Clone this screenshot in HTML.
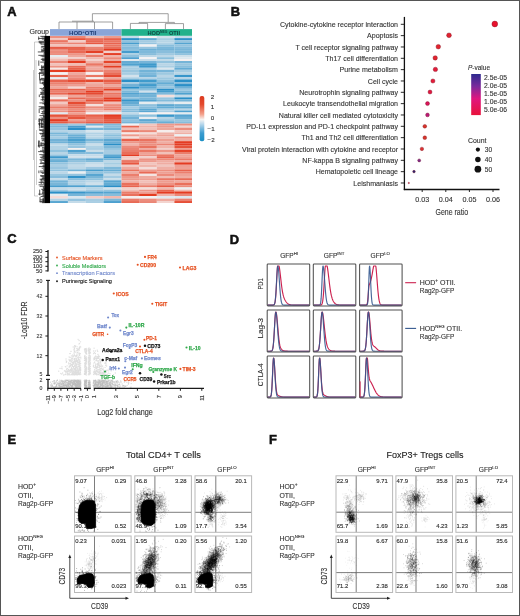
<!DOCTYPE html><html><head><meta charset="utf-8"><style>
html,body{margin:0;padding:0;background:#fff;width:520px;height:616px;overflow:hidden}
svg{display:block;font-family:"Liberation Sans", sans-serif;will-change:transform}
</style></head><body><svg width="520" height="616" viewBox="0 0 520 616">
<rect x="0" y="0" width="520" height="616" fill="#fff"/>
<text x="7.20" y="15.80" font-size="12.9" fill="#111" font-weight="bold" stroke="#111" stroke-width="0.55">A</text>
<text x="230.70" y="15.90" font-size="12.9" fill="#111" font-weight="bold" stroke="#111" stroke-width="0.55">B</text>
<text x="7.30" y="243.30" font-size="12.9" fill="#111" font-weight="bold" stroke="#111" stroke-width="0.55">C</text>
<text x="229.80" y="243.60" font-size="12.9" fill="#111" font-weight="bold" stroke="#111" stroke-width="0.55">D</text>
<text x="7.40" y="443.80" font-size="12.9" fill="#111" font-weight="bold" stroke="#111" stroke-width="0.55">E</text>
<text x="269.00" y="443.80" font-size="12.9" fill="#111" font-weight="bold" stroke="#111" stroke-width="0.55">F</text>
<defs><filter id="hb" x="-2%" y="-2%" width="104%" height="104%"><feGaussianBlur stdDeviation="0.35"/></filter><clipPath id="hmc"><rect x="50" y="36" width="142" height="167"/></clipPath></defs>
<g clip-path="url(#hmc)"><g filter="url(#hb)"><rect x="50.00" y="36.00" width="17.95" height="2.18" fill="#ec9182"/><rect x="67.90" y="36.00" width="17.95" height="2.18" fill="#eb8777"/><rect x="85.80" y="36.00" width="17.85" height="2.18" fill="#f0bab1"/><rect x="103.60" y="36.00" width="17.95" height="2.18" fill="#ed9b8d"/><rect x="121.50" y="36.00" width="17.65" height="2.18" fill="#c5dce9"/><rect x="139.10" y="36.00" width="17.75" height="2.18" fill="#f6f3f3"/><rect x="156.80" y="36.00" width="17.65" height="2.18" fill="#d2e2ec"/><rect x="174.40" y="36.00" width="17.65" height="2.18" fill="#c3dbe9"/><rect x="50.00" y="38.13" width="17.95" height="2.02" fill="#f1c5be"/><rect x="67.90" y="38.13" width="17.95" height="2.02" fill="#e6523a"/><rect x="85.80" y="38.13" width="17.85" height="2.02" fill="#e96c59"/><rect x="103.60" y="38.13" width="17.95" height="2.02" fill="#e8614c"/><rect x="121.50" y="38.13" width="17.65" height="2.02" fill="#2b8fc7"/><rect x="139.10" y="38.13" width="17.75" height="2.02" fill="#64acd4"/><rect x="156.80" y="38.13" width="17.65" height="2.02" fill="#a8cee3"/><rect x="174.40" y="38.13" width="17.65" height="2.02" fill="#2d90c8"/><rect x="50.00" y="40.10" width="17.95" height="2.48" fill="#ea7562"/><rect x="67.90" y="40.10" width="17.95" height="2.48" fill="#f2cbc5"/><rect x="85.80" y="40.10" width="17.85" height="2.48" fill="#e86753"/><rect x="103.60" y="40.10" width="17.95" height="2.48" fill="#ea7562"/><rect x="121.50" y="40.10" width="17.65" height="2.48" fill="#8fc1dd"/><rect x="139.10" y="40.10" width="17.75" height="2.48" fill="#a4cbe2"/><rect x="156.80" y="40.10" width="17.65" height="2.48" fill="#b7d5e6"/><rect x="174.40" y="40.10" width="17.65" height="2.48" fill="#96c4df"/><rect x="50.00" y="42.53" width="17.95" height="1.95" fill="#ec9183"/><rect x="67.90" y="42.53" width="17.95" height="1.95" fill="#eb8373"/><rect x="85.80" y="42.53" width="17.85" height="1.95" fill="#e75842"/><rect x="103.60" y="42.53" width="17.95" height="1.95" fill="#e8644f"/><rect x="121.50" y="42.53" width="17.65" height="1.95" fill="#479dcd"/><rect x="139.10" y="42.53" width="17.75" height="1.95" fill="#95c4df"/><rect x="156.80" y="42.53" width="17.65" height="1.95" fill="#b1d2e5"/><rect x="174.40" y="42.53" width="17.65" height="1.95" fill="#55a4d0"/><rect x="50.00" y="44.42" width="17.95" height="2.37" fill="#f1c3bc"/><rect x="67.90" y="44.42" width="17.95" height="2.37" fill="#f1bfb7"/><rect x="85.80" y="44.42" width="17.85" height="2.37" fill="#f3d3ce"/><rect x="103.60" y="44.42" width="17.95" height="2.37" fill="#ea7562"/><rect x="121.50" y="44.42" width="17.65" height="2.37" fill="#8ec1dd"/><rect x="139.10" y="44.42" width="17.75" height="2.37" fill="#f0f1f3"/><rect x="156.80" y="44.42" width="17.65" height="2.37" fill="#89bedc"/><rect x="174.40" y="44.42" width="17.65" height="2.37" fill="#93c3de"/><rect x="50.00" y="46.75" width="17.95" height="2.22" fill="#e75a44"/><rect x="67.90" y="46.75" width="17.95" height="2.22" fill="#e8604a"/><rect x="85.80" y="46.75" width="17.85" height="2.22" fill="#eb8271"/><rect x="103.60" y="46.75" width="17.95" height="2.22" fill="#e96e5a"/><rect x="121.50" y="46.75" width="17.65" height="2.22" fill="#83bbdb"/><rect x="139.10" y="46.75" width="17.75" height="2.22" fill="#95c4df"/><rect x="156.80" y="46.75" width="17.65" height="2.22" fill="#7ab7d9"/><rect x="174.40" y="46.75" width="17.65" height="2.22" fill="#83bbdb"/><rect x="50.00" y="48.91" width="17.95" height="1.93" fill="#eb8878"/><rect x="67.90" y="48.91" width="17.95" height="1.93" fill="#e86550"/><rect x="85.80" y="48.91" width="17.85" height="1.93" fill="#ea7b69"/><rect x="103.60" y="48.91" width="17.95" height="1.93" fill="#e43b20"/><rect x="121.50" y="48.91" width="17.65" height="1.93" fill="#8cc0dd"/><rect x="139.10" y="48.91" width="17.75" height="1.93" fill="#6cb0d6"/><rect x="156.80" y="48.91" width="17.65" height="1.93" fill="#74b3d7"/><rect x="174.40" y="48.91" width="17.65" height="1.93" fill="#79b6d8"/><rect x="50.00" y="50.80" width="17.95" height="2.35" fill="#ec8b7c"/><rect x="67.90" y="50.80" width="17.95" height="2.35" fill="#e96a56"/><rect x="85.80" y="50.80" width="17.85" height="2.35" fill="#e44025"/><rect x="103.60" y="50.80" width="17.95" height="2.35" fill="#f2cfca"/><rect x="121.50" y="50.80" width="17.65" height="2.35" fill="#449ccd"/><rect x="139.10" y="50.80" width="17.75" height="2.35" fill="#7eb9da"/><rect x="156.80" y="50.80" width="17.65" height="2.35" fill="#8abedc"/><rect x="174.40" y="50.80" width="17.65" height="2.35" fill="#79b6d8"/><rect x="50.00" y="53.09" width="17.95" height="1.92" fill="#ec8a7b"/><rect x="67.90" y="53.09" width="17.95" height="1.92" fill="#ed9486"/><rect x="85.80" y="53.09" width="17.85" height="1.92" fill="#f1c1ba"/><rect x="103.60" y="53.09" width="17.95" height="1.92" fill="#e43b20"/><rect x="121.50" y="53.09" width="17.65" height="1.92" fill="#acd0e4"/><rect x="139.10" y="53.09" width="17.75" height="1.92" fill="#85bcdb"/><rect x="156.80" y="53.09" width="17.65" height="1.92" fill="#9ec8e1"/><rect x="174.40" y="53.09" width="17.65" height="1.92" fill="#8ec1dd"/><rect x="50.00" y="54.96" width="17.95" height="2.28" fill="#e5ecf0"/><rect x="67.90" y="54.96" width="17.95" height="2.28" fill="#efa89c"/><rect x="85.80" y="54.96" width="17.85" height="2.28" fill="#ea7b6a"/><rect x="103.60" y="54.96" width="17.95" height="2.28" fill="#f0b4ab"/><rect x="121.50" y="54.96" width="17.65" height="2.28" fill="#8fc1dd"/><rect x="139.10" y="54.96" width="17.75" height="2.28" fill="#bbd7e7"/><rect x="156.80" y="54.96" width="17.65" height="2.28" fill="#bcd7e7"/><rect x="174.40" y="54.96" width="17.65" height="2.28" fill="#cde0eb"/><rect x="50.00" y="57.19" width="17.95" height="1.95" fill="#f3d4d0"/><rect x="67.90" y="57.19" width="17.95" height="1.95" fill="#f2cfca"/><rect x="85.80" y="57.19" width="17.85" height="1.95" fill="#f0b8af"/><rect x="103.60" y="57.19" width="17.95" height="1.95" fill="#ec8a7a"/><rect x="121.50" y="57.19" width="17.65" height="1.95" fill="#51a2d0"/><rect x="139.10" y="57.19" width="17.75" height="1.95" fill="#f3f2f3"/><rect x="156.80" y="57.19" width="17.65" height="1.95" fill="#8bbfdc"/><rect x="174.40" y="57.19" width="17.65" height="1.95" fill="#dce7ee"/><rect x="50.00" y="59.08" width="17.95" height="1.96" fill="#f0bab2"/><rect x="67.90" y="59.08" width="17.95" height="1.96" fill="#ec8e7f"/><rect x="85.80" y="59.08" width="17.85" height="1.96" fill="#f2d0cb"/><rect x="103.60" y="59.08" width="17.95" height="1.96" fill="#efa79c"/><rect x="121.50" y="59.08" width="17.65" height="1.96" fill="#e0e9ef"/><rect x="139.10" y="59.08" width="17.75" height="1.96" fill="#c4dbe9"/><rect x="156.80" y="59.08" width="17.65" height="1.96" fill="#bfd9e8"/><rect x="174.40" y="59.08" width="17.65" height="1.96" fill="#f6f0f0"/><rect x="50.00" y="61.00" width="17.95" height="2.27" fill="#eb8676"/><rect x="67.90" y="61.00" width="17.95" height="2.27" fill="#e43b20"/><rect x="85.80" y="61.00" width="17.85" height="2.27" fill="#efb0a6"/><rect x="103.60" y="61.00" width="17.95" height="2.27" fill="#e5442b"/><rect x="121.50" y="61.00" width="17.65" height="2.27" fill="#65acd4"/><rect x="139.10" y="61.00" width="17.75" height="2.27" fill="#76b4d8"/><rect x="156.80" y="61.00" width="17.65" height="2.27" fill="#93c3de"/><rect x="174.40" y="61.00" width="17.65" height="2.27" fill="#74b4d7"/><rect x="50.00" y="63.22" width="17.95" height="2.64" fill="#f1c1ba"/><rect x="67.90" y="63.22" width="17.95" height="2.64" fill="#f1bcb4"/><rect x="85.80" y="63.22" width="17.85" height="2.64" fill="#ea7765"/><rect x="103.60" y="63.22" width="17.95" height="2.64" fill="#ed998b"/><rect x="121.50" y="63.22" width="17.65" height="2.64" fill="#50a2cf"/><rect x="139.10" y="63.22" width="17.75" height="2.64" fill="#3d99cb"/><rect x="156.80" y="63.22" width="17.65" height="2.64" fill="#b8d5e6"/><rect x="174.40" y="63.22" width="17.65" height="2.64" fill="#97c5df"/><rect x="50.00" y="65.81" width="17.95" height="1.99" fill="#ed9385"/><rect x="67.90" y="65.81" width="17.95" height="1.99" fill="#e96a56"/><rect x="85.80" y="65.81" width="17.85" height="1.99" fill="#eea499"/><rect x="103.60" y="65.81" width="17.95" height="1.99" fill="#e43e24"/><rect x="121.50" y="65.81" width="17.65" height="1.99" fill="#a7cde3"/><rect x="139.10" y="65.81" width="17.75" height="1.99" fill="#3d98cb"/><rect x="156.80" y="65.81" width="17.65" height="1.99" fill="#abcfe3"/><rect x="174.40" y="65.81" width="17.65" height="1.99" fill="#88bedc"/><rect x="50.00" y="67.75" width="17.95" height="2.09" fill="#f5e9e7"/><rect x="67.90" y="67.75" width="17.95" height="2.09" fill="#e8614c"/><rect x="85.80" y="67.75" width="17.85" height="2.09" fill="#efa99f"/><rect x="103.60" y="67.75" width="17.95" height="2.09" fill="#eea195"/><rect x="121.50" y="67.75" width="17.65" height="2.09" fill="#a7cde2"/><rect x="139.10" y="67.75" width="17.75" height="2.09" fill="#a7cde3"/><rect x="156.80" y="67.75" width="17.65" height="2.09" fill="#dbe6ee"/><rect x="174.40" y="67.75" width="17.65" height="2.09" fill="#65acd4"/><rect x="50.00" y="69.79" width="17.95" height="2.46" fill="#e43e24"/><rect x="67.90" y="69.79" width="17.95" height="2.46" fill="#e43b20"/><rect x="85.80" y="69.79" width="17.85" height="2.46" fill="#ec8879"/><rect x="103.60" y="69.79" width="17.95" height="2.46" fill="#eb8272"/><rect x="121.50" y="69.79" width="17.65" height="2.46" fill="#99c6df"/><rect x="139.10" y="69.79" width="17.75" height="2.46" fill="#72b3d7"/><rect x="156.80" y="69.79" width="17.65" height="2.46" fill="#78b5d8"/><rect x="174.40" y="69.79" width="17.65" height="2.46" fill="#a5cce2"/><rect x="50.00" y="72.19" width="17.95" height="2.75" fill="#f2f2f3"/><rect x="67.90" y="72.19" width="17.95" height="2.75" fill="#efa99e"/><rect x="85.80" y="72.19" width="17.85" height="2.75" fill="#f6f0f0"/><rect x="103.60" y="72.19" width="17.95" height="2.75" fill="#e96d59"/><rect x="121.50" y="72.19" width="17.65" height="2.75" fill="#a6cce2"/><rect x="139.10" y="72.19" width="17.75" height="2.75" fill="#7eb9da"/><rect x="156.80" y="72.19" width="17.65" height="2.75" fill="#9dc8e0"/><rect x="174.40" y="72.19" width="17.65" height="2.75" fill="#b7d5e6"/><rect x="50.00" y="74.89" width="17.95" height="2.41" fill="#e8624c"/><rect x="67.90" y="74.89" width="17.95" height="2.41" fill="#ed9385"/><rect x="85.80" y="74.89" width="17.85" height="2.41" fill="#ea7664"/><rect x="103.60" y="74.89" width="17.95" height="2.41" fill="#e54930"/><rect x="121.50" y="74.89" width="17.65" height="2.41" fill="#d3e2ec"/><rect x="139.10" y="74.89" width="17.75" height="2.41" fill="#71b2d7"/><rect x="156.80" y="74.89" width="17.65" height="2.41" fill="#b8d5e6"/><rect x="174.40" y="74.89" width="17.65" height="2.41" fill="#3896ca"/><rect x="50.00" y="77.25" width="17.95" height="2.24" fill="#e7ecf1"/><rect x="67.90" y="77.25" width="17.95" height="2.24" fill="#eb8778"/><rect x="85.80" y="77.25" width="17.85" height="2.24" fill="#f5efee"/><rect x="103.60" y="77.25" width="17.95" height="2.24" fill="#eea498"/><rect x="121.50" y="77.25" width="17.65" height="2.24" fill="#a9cee3"/><rect x="139.10" y="77.25" width="17.75" height="2.24" fill="#b0d1e5"/><rect x="156.80" y="77.25" width="17.65" height="2.24" fill="#9dc8e0"/><rect x="174.40" y="77.25" width="17.65" height="2.24" fill="#b6d4e6"/><rect x="50.00" y="79.45" width="17.95" height="2.78" fill="#e8644f"/><rect x="67.90" y="79.45" width="17.95" height="2.78" fill="#e64d34"/><rect x="85.80" y="79.45" width="17.85" height="2.78" fill="#e5482f"/><rect x="103.60" y="79.45" width="17.95" height="2.78" fill="#e75b45"/><rect x="121.50" y="79.45" width="17.65" height="2.78" fill="#2a8fc7"/><rect x="139.10" y="79.45" width="17.75" height="2.78" fill="#419bcc"/><rect x="156.80" y="79.45" width="17.65" height="2.78" fill="#8cc0dd"/><rect x="174.40" y="79.45" width="17.65" height="2.78" fill="#2a8fc7"/><rect x="50.00" y="82.17" width="17.95" height="1.92" fill="#eb8170"/><rect x="67.90" y="82.17" width="17.95" height="1.92" fill="#eb8574"/><rect x="85.80" y="82.17" width="17.85" height="1.92" fill="#efb1a7"/><rect x="103.60" y="82.17" width="17.95" height="1.92" fill="#ea7664"/><rect x="121.50" y="82.17" width="17.65" height="1.92" fill="#a9cee3"/><rect x="139.10" y="82.17" width="17.75" height="1.92" fill="#70b2d6"/><rect x="156.80" y="82.17" width="17.65" height="1.92" fill="#64acd4"/><rect x="174.40" y="82.17" width="17.65" height="1.92" fill="#82bada"/><rect x="50.00" y="84.05" width="17.95" height="2.67" fill="#ed9486"/><rect x="67.90" y="84.05" width="17.95" height="2.67" fill="#ed9c90"/><rect x="85.80" y="84.05" width="17.85" height="2.67" fill="#eea59a"/><rect x="103.60" y="84.05" width="17.95" height="2.67" fill="#eea79c"/><rect x="121.50" y="84.05" width="17.65" height="2.67" fill="#6fb1d6"/><rect x="139.10" y="84.05" width="17.75" height="2.67" fill="#419bcc"/><rect x="156.80" y="84.05" width="17.65" height="2.67" fill="#88bedc"/><rect x="174.40" y="84.05" width="17.65" height="2.67" fill="#2a8fc7"/><rect x="50.00" y="86.66" width="17.95" height="2.15" fill="#efa79c"/><rect x="67.90" y="86.66" width="17.95" height="2.15" fill="#f3d5d1"/><rect x="85.80" y="86.66" width="17.85" height="2.15" fill="#ea7b6a"/><rect x="103.60" y="86.66" width="17.95" height="2.15" fill="#eb8777"/><rect x="121.50" y="86.66" width="17.65" height="2.15" fill="#2a8fc7"/><rect x="139.10" y="86.66" width="17.75" height="2.15" fill="#60aad3"/><rect x="156.80" y="86.66" width="17.65" height="2.15" fill="#98c5df"/><rect x="174.40" y="86.66" width="17.65" height="2.15" fill="#6db0d6"/><rect x="50.00" y="88.76" width="17.95" height="2.01" fill="#e86550"/><rect x="67.90" y="88.76" width="17.95" height="2.01" fill="#e8634e"/><rect x="85.80" y="88.76" width="17.85" height="2.01" fill="#eb7e6d"/><rect x="103.60" y="88.76" width="17.95" height="2.01" fill="#e43c21"/><rect x="121.50" y="88.76" width="17.65" height="2.01" fill="#94c4de"/><rect x="139.10" y="88.76" width="17.75" height="2.01" fill="#8bbfdc"/><rect x="156.80" y="88.76" width="17.65" height="2.01" fill="#2a8fc7"/><rect x="174.40" y="88.76" width="17.65" height="2.01" fill="#99c6e0"/><rect x="50.00" y="90.72" width="17.95" height="1.99" fill="#eb7f6e"/><rect x="67.90" y="90.72" width="17.95" height="1.99" fill="#eb8170"/><rect x="85.80" y="90.72" width="17.85" height="1.99" fill="#e43b20"/><rect x="103.60" y="90.72" width="17.95" height="1.99" fill="#eea599"/><rect x="121.50" y="90.72" width="17.65" height="1.99" fill="#7cb8d9"/><rect x="139.10" y="90.72" width="17.75" height="1.99" fill="#d0e1ec"/><rect x="156.80" y="90.72" width="17.65" height="1.99" fill="#459dcd"/><rect x="174.40" y="90.72" width="17.65" height="1.99" fill="#80bada"/><rect x="50.00" y="92.66" width="17.95" height="2.16" fill="#e86853"/><rect x="67.90" y="92.66" width="17.95" height="2.16" fill="#e54930"/><rect x="85.80" y="92.66" width="17.85" height="2.16" fill="#e54930"/><rect x="103.60" y="92.66" width="17.95" height="2.16" fill="#ea7461"/><rect x="121.50" y="92.66" width="17.65" height="2.16" fill="#52a3d0"/><rect x="139.10" y="92.66" width="17.75" height="2.16" fill="#63abd4"/><rect x="156.80" y="92.66" width="17.65" height="2.16" fill="#7fb9da"/><rect x="174.40" y="92.66" width="17.65" height="2.16" fill="#50a2cf"/><rect x="50.00" y="94.78" width="17.95" height="2.63" fill="#f1c4bd"/><rect x="67.90" y="94.78" width="17.95" height="2.63" fill="#eea69b"/><rect x="85.80" y="94.78" width="17.85" height="2.63" fill="#eb8473"/><rect x="103.60" y="94.78" width="17.95" height="2.63" fill="#eb8676"/><rect x="121.50" y="94.78" width="17.65" height="2.63" fill="#71b2d7"/><rect x="139.10" y="94.78" width="17.75" height="2.63" fill="#72b3d7"/><rect x="156.80" y="94.78" width="17.65" height="2.63" fill="#f4dfdc"/><rect x="174.40" y="94.78" width="17.65" height="2.63" fill="#c2dae8"/><rect x="50.00" y="97.36" width="17.95" height="2.05" fill="#f5ebe9"/><rect x="67.90" y="97.36" width="17.95" height="2.05" fill="#e86955"/><rect x="85.80" y="97.36" width="17.85" height="2.05" fill="#ea7c6b"/><rect x="103.60" y="97.36" width="17.95" height="2.05" fill="#e43b20"/><rect x="121.50" y="97.36" width="17.65" height="2.05" fill="#8fc1dd"/><rect x="139.10" y="97.36" width="17.75" height="2.05" fill="#7ab6d9"/><rect x="156.80" y="97.36" width="17.65" height="2.05" fill="#98c5df"/><rect x="174.40" y="97.36" width="17.65" height="2.05" fill="#2a8fc7"/><rect x="50.00" y="99.35" width="17.95" height="2.41" fill="#e96e5b"/><rect x="67.90" y="99.35" width="17.95" height="2.41" fill="#ec9183"/><rect x="85.80" y="99.35" width="17.85" height="2.41" fill="#e65139"/><rect x="103.60" y="99.35" width="17.95" height="2.41" fill="#e43b20"/><rect x="121.50" y="99.35" width="17.65" height="2.41" fill="#3494c9"/><rect x="139.10" y="99.35" width="17.75" height="2.41" fill="#54a4d0"/><rect x="156.80" y="99.35" width="17.65" height="2.41" fill="#82bbda"/><rect x="174.40" y="99.35" width="17.65" height="2.41" fill="#73b3d7"/><rect x="50.00" y="101.72" width="17.95" height="2.47" fill="#f2c8c2"/><rect x="67.90" y="101.72" width="17.95" height="2.47" fill="#e64c33"/><rect x="85.80" y="101.72" width="17.85" height="2.47" fill="#eb8473"/><rect x="103.60" y="101.72" width="17.95" height="2.47" fill="#f1beb7"/><rect x="121.50" y="101.72" width="17.65" height="2.47" fill="#63abd3"/><rect x="139.10" y="101.72" width="17.75" height="2.47" fill="#e5ecf0"/><rect x="156.80" y="101.72" width="17.65" height="2.47" fill="#ccdfeb"/><rect x="174.40" y="101.72" width="17.65" height="2.47" fill="#e5ecf0"/><rect x="50.00" y="104.13" width="17.95" height="2.22" fill="#eea397"/><rect x="67.90" y="104.13" width="17.95" height="2.22" fill="#e9725f"/><rect x="85.80" y="104.13" width="17.85" height="2.22" fill="#f4dedb"/><rect x="103.60" y="104.13" width="17.95" height="2.22" fill="#ec8c7c"/><rect x="121.50" y="104.13" width="17.65" height="2.22" fill="#75b4d7"/><rect x="139.10" y="104.13" width="17.75" height="2.22" fill="#8ec0dd"/><rect x="156.80" y="104.13" width="17.65" height="2.22" fill="#5da8d2"/><rect x="174.40" y="104.13" width="17.65" height="2.22" fill="#6db0d6"/><rect x="50.00" y="106.31" width="17.95" height="2.38" fill="#ea7c6b"/><rect x="67.90" y="106.31" width="17.95" height="2.38" fill="#e96d5a"/><rect x="85.80" y="106.31" width="17.85" height="2.38" fill="#ec8c7d"/><rect x="103.60" y="106.31" width="17.95" height="2.38" fill="#eb8575"/><rect x="121.50" y="106.31" width="17.65" height="2.38" fill="#a4cbe2"/><rect x="139.10" y="106.31" width="17.75" height="2.38" fill="#84bcdb"/><rect x="156.80" y="106.31" width="17.65" height="2.38" fill="#64acd4"/><rect x="174.40" y="106.31" width="17.65" height="2.38" fill="#62abd3"/><rect x="50.00" y="108.64" width="17.95" height="1.94" fill="#ed9c8f"/><rect x="67.90" y="108.64" width="17.95" height="1.94" fill="#ec8d7e"/><rect x="85.80" y="108.64" width="17.85" height="1.94" fill="#eea195"/><rect x="103.60" y="108.64" width="17.95" height="1.94" fill="#eb7e6d"/><rect x="121.50" y="108.64" width="17.65" height="1.94" fill="#8abfdc"/><rect x="139.10" y="108.64" width="17.75" height="1.94" fill="#5aa7d2"/><rect x="156.80" y="108.64" width="17.65" height="1.94" fill="#a7cde3"/><rect x="174.40" y="108.64" width="17.65" height="1.94" fill="#b8d5e6"/><rect x="50.00" y="110.53" width="17.95" height="1.94" fill="#ed9385"/><rect x="67.90" y="110.53" width="17.95" height="1.94" fill="#ea7563"/><rect x="85.80" y="110.53" width="17.85" height="1.94" fill="#f0bab2"/><rect x="103.60" y="110.53" width="17.95" height="1.94" fill="#f1c3bb"/><rect x="121.50" y="110.53" width="17.65" height="1.94" fill="#85bcdb"/><rect x="139.10" y="110.53" width="17.75" height="1.94" fill="#5ba7d2"/><rect x="156.80" y="110.53" width="17.65" height="1.94" fill="#a7cde3"/><rect x="174.40" y="110.53" width="17.65" height="1.94" fill="#4fa1cf"/><rect x="50.00" y="112.42" width="17.95" height="2.07" fill="#dfe9ef"/><rect x="67.90" y="112.42" width="17.95" height="2.07" fill="#ee9f92"/><rect x="85.80" y="112.42" width="17.85" height="2.07" fill="#f1f2f3"/><rect x="103.60" y="112.42" width="17.95" height="2.07" fill="#e5ecf0"/><rect x="121.50" y="112.42" width="17.65" height="2.07" fill="#c0d9e8"/><rect x="139.10" y="112.42" width="17.75" height="2.07" fill="#f6f3f3"/><rect x="156.80" y="112.42" width="17.65" height="2.07" fill="#f6f0ef"/><rect x="174.40" y="112.42" width="17.65" height="2.07" fill="#e3ebf0"/><rect x="50.00" y="114.44" width="17.95" height="2.50" fill="#e6533b"/><rect x="67.90" y="114.44" width="17.95" height="2.50" fill="#e96b56"/><rect x="85.80" y="114.44" width="17.85" height="2.50" fill="#e8604b"/><rect x="103.60" y="114.44" width="17.95" height="2.50" fill="#e43b20"/><rect x="121.50" y="114.44" width="17.65" height="2.50" fill="#8cc0dd"/><rect x="139.10" y="114.44" width="17.75" height="2.50" fill="#8ec1dd"/><rect x="156.80" y="114.44" width="17.65" height="2.50" fill="#3997ca"/><rect x="174.40" y="114.44" width="17.65" height="2.50" fill="#57a5d1"/><rect x="50.00" y="116.89" width="17.95" height="2.27" fill="#ec8f80"/><rect x="67.90" y="116.89" width="17.95" height="2.27" fill="#e7553e"/><rect x="85.80" y="116.89" width="17.85" height="2.27" fill="#ea7563"/><rect x="103.60" y="116.89" width="17.95" height="2.27" fill="#e64d35"/><rect x="121.50" y="116.89" width="17.65" height="2.27" fill="#71b2d7"/><rect x="139.10" y="116.89" width="17.75" height="2.27" fill="#e7ecf1"/><rect x="156.80" y="116.89" width="17.65" height="2.27" fill="#b4d3e5"/><rect x="174.40" y="116.89" width="17.65" height="2.27" fill="#6bafd5"/><rect x="50.00" y="119.11" width="17.95" height="2.17" fill="#e43b20"/><rect x="67.90" y="119.11" width="17.95" height="2.17" fill="#ee9e91"/><rect x="85.80" y="119.11" width="17.85" height="2.17" fill="#ea7c6b"/><rect x="103.60" y="119.11" width="17.95" height="2.17" fill="#e75c46"/><rect x="121.50" y="119.11" width="17.65" height="2.17" fill="#8ec0dd"/><rect x="139.10" y="119.11" width="17.75" height="2.17" fill="#5ba7d2"/><rect x="156.80" y="119.11" width="17.65" height="2.17" fill="#9ac7e0"/><rect x="174.40" y="119.11" width="17.65" height="2.17" fill="#98c5df"/><rect x="50.00" y="121.23" width="17.95" height="2.42" fill="#e75a43"/><rect x="67.90" y="121.23" width="17.95" height="2.42" fill="#e97360"/><rect x="85.80" y="121.23" width="17.85" height="2.42" fill="#e8604b"/><rect x="103.60" y="121.23" width="17.95" height="2.42" fill="#e65139"/><rect x="121.50" y="121.23" width="17.65" height="2.42" fill="#76b5d8"/><rect x="139.10" y="121.23" width="17.75" height="2.42" fill="#70b2d6"/><rect x="156.80" y="121.23" width="17.65" height="2.42" fill="#68aed5"/><rect x="174.40" y="121.23" width="17.65" height="2.42" fill="#86bcdb"/><rect x="50.00" y="123.60" width="17.95" height="2.16" fill="#8bbfdc"/><rect x="67.90" y="123.60" width="17.95" height="2.16" fill="#a1cae1"/><rect x="85.80" y="123.60" width="17.85" height="2.16" fill="#72b2d7"/><rect x="103.60" y="123.60" width="17.95" height="2.16" fill="#7fb9da"/><rect x="121.50" y="123.60" width="17.65" height="2.16" fill="#f0f1f3"/><rect x="139.10" y="123.60" width="17.75" height="2.16" fill="#f2c6bf"/><rect x="156.80" y="123.60" width="17.65" height="2.16" fill="#ed9a8d"/><rect x="174.40" y="123.60" width="17.65" height="2.16" fill="#ec9182"/><rect x="50.00" y="125.71" width="17.95" height="2.03" fill="#7eb8d9"/><rect x="67.90" y="125.71" width="17.95" height="2.03" fill="#469dcd"/><rect x="85.80" y="125.71" width="17.85" height="2.03" fill="#e0e9ef"/><rect x="103.60" y="125.71" width="17.95" height="2.03" fill="#89bedc"/><rect x="121.50" y="125.71" width="17.65" height="2.03" fill="#e86550"/><rect x="139.10" y="125.71" width="17.75" height="2.03" fill="#f0b2a8"/><rect x="156.80" y="125.71" width="17.65" height="2.03" fill="#ed9c8f"/><rect x="174.40" y="125.71" width="17.65" height="2.03" fill="#f3d2cd"/><rect x="50.00" y="127.68" width="17.95" height="2.45" fill="#96c4df"/><rect x="67.90" y="127.68" width="17.95" height="2.45" fill="#2a8fc7"/><rect x="85.80" y="127.68" width="17.85" height="2.45" fill="#76b5d8"/><rect x="103.60" y="127.68" width="17.95" height="2.45" fill="#75b4d7"/><rect x="121.50" y="127.68" width="17.65" height="2.45" fill="#f1bdb5"/><rect x="139.10" y="127.68" width="17.75" height="2.45" fill="#f1c0b8"/><rect x="156.80" y="127.68" width="17.65" height="2.45" fill="#eea79b"/><rect x="174.40" y="127.68" width="17.65" height="2.45" fill="#ec8c7d"/><rect x="50.00" y="130.09" width="17.95" height="2.37" fill="#b2d2e5"/><rect x="67.90" y="130.09" width="17.95" height="2.37" fill="#b6d4e6"/><rect x="85.80" y="130.09" width="17.85" height="2.37" fill="#d6e4ed"/><rect x="103.60" y="130.09" width="17.95" height="2.37" fill="#bad6e7"/><rect x="121.50" y="130.09" width="17.65" height="2.37" fill="#ea7b69"/><rect x="139.10" y="130.09" width="17.75" height="2.37" fill="#eb8878"/><rect x="156.80" y="130.09" width="17.65" height="2.37" fill="#f5edec"/><rect x="174.40" y="130.09" width="17.65" height="2.37" fill="#f1c4bd"/><rect x="50.00" y="132.41" width="17.95" height="1.98" fill="#78b6d8"/><rect x="67.90" y="132.41" width="17.95" height="1.98" fill="#9ec8e1"/><rect x="85.80" y="132.41" width="17.85" height="1.98" fill="#b1d2e5"/><rect x="103.60" y="132.41" width="17.95" height="1.98" fill="#a7cde3"/><rect x="121.50" y="132.41" width="17.65" height="1.98" fill="#f5e9e8"/><rect x="139.10" y="132.41" width="17.75" height="1.98" fill="#f4dcd8"/><rect x="156.80" y="132.41" width="17.65" height="1.98" fill="#efb1a7"/><rect x="174.40" y="132.41" width="17.65" height="1.98" fill="#efafa5"/><rect x="50.00" y="134.33" width="17.95" height="2.26" fill="#8dc0dd"/><rect x="67.90" y="134.33" width="17.95" height="2.26" fill="#6aafd5"/><rect x="85.80" y="134.33" width="17.85" height="2.26" fill="#b8d5e6"/><rect x="103.60" y="134.33" width="17.95" height="2.26" fill="#8abfdc"/><rect x="121.50" y="134.33" width="17.65" height="2.26" fill="#ed9a8d"/><rect x="139.10" y="134.33" width="17.75" height="2.26" fill="#efb1a7"/><rect x="156.80" y="134.33" width="17.65" height="2.26" fill="#eea296"/><rect x="174.40" y="134.33" width="17.65" height="2.26" fill="#edf0f2"/><rect x="50.00" y="136.55" width="17.95" height="2.22" fill="#a5cce2"/><rect x="67.90" y="136.55" width="17.95" height="2.22" fill="#5ea9d3"/><rect x="85.80" y="136.55" width="17.85" height="2.22" fill="#b7d5e6"/><rect x="103.60" y="136.55" width="17.95" height="2.22" fill="#96c4df"/><rect x="121.50" y="136.55" width="17.65" height="2.22" fill="#f4dfdc"/><rect x="139.10" y="136.55" width="17.75" height="2.22" fill="#f0b3aa"/><rect x="156.80" y="136.55" width="17.65" height="2.22" fill="#f0bab2"/><rect x="174.40" y="136.55" width="17.65" height="2.22" fill="#ed9385"/><rect x="50.00" y="138.72" width="17.95" height="2.52" fill="#72b2d7"/><rect x="67.90" y="138.72" width="17.95" height="2.52" fill="#4a9fce"/><rect x="85.80" y="138.72" width="17.85" height="2.52" fill="#77b5d8"/><rect x="103.60" y="138.72" width="17.95" height="2.52" fill="#5ca8d2"/><rect x="121.50" y="138.72" width="17.65" height="2.52" fill="#e8614b"/><rect x="139.10" y="138.72" width="17.75" height="2.52" fill="#e9725f"/><rect x="156.80" y="138.72" width="17.65" height="2.52" fill="#ee9e91"/><rect x="174.40" y="138.72" width="17.65" height="2.52" fill="#efada3"/><rect x="50.00" y="141.19" width="17.95" height="2.40" fill="#71b2d7"/><rect x="67.90" y="141.19" width="17.95" height="2.40" fill="#5ca8d2"/><rect x="85.80" y="141.19" width="17.85" height="2.40" fill="#96c5df"/><rect x="103.60" y="141.19" width="17.95" height="2.40" fill="#68aed5"/><rect x="121.50" y="141.19" width="17.65" height="2.40" fill="#ed9587"/><rect x="139.10" y="141.19" width="17.75" height="2.40" fill="#eb8474"/><rect x="156.80" y="141.19" width="17.65" height="2.40" fill="#efada3"/><rect x="174.40" y="141.19" width="17.65" height="2.40" fill="#e43b20"/><rect x="50.00" y="143.53" width="17.95" height="2.02" fill="#bfd9e8"/><rect x="67.90" y="143.53" width="17.95" height="2.02" fill="#90c1dd"/><rect x="85.80" y="143.53" width="17.85" height="2.02" fill="#cadeea"/><rect x="103.60" y="143.53" width="17.95" height="2.02" fill="#2a8fc7"/><rect x="121.50" y="143.53" width="17.65" height="2.02" fill="#f0b4ab"/><rect x="139.10" y="143.53" width="17.75" height="2.02" fill="#ec8e7f"/><rect x="156.80" y="143.53" width="17.65" height="2.02" fill="#eb8474"/><rect x="174.40" y="143.53" width="17.65" height="2.02" fill="#e43b20"/><rect x="50.00" y="145.50" width="17.95" height="2.61" fill="#b3d3e5"/><rect x="67.90" y="145.50" width="17.95" height="2.61" fill="#98c5df"/><rect x="85.80" y="145.50" width="17.85" height="2.61" fill="#afd1e4"/><rect x="103.60" y="145.50" width="17.95" height="2.61" fill="#7db8d9"/><rect x="121.50" y="145.50" width="17.65" height="2.61" fill="#ec8b7c"/><rect x="139.10" y="145.50" width="17.75" height="2.61" fill="#e9725e"/><rect x="156.80" y="145.50" width="17.65" height="2.61" fill="#f0b4aa"/><rect x="174.40" y="145.50" width="17.65" height="2.61" fill="#e6533b"/><rect x="50.00" y="148.06" width="17.95" height="1.87" fill="#b0d1e4"/><rect x="67.90" y="148.06" width="17.95" height="1.87" fill="#f6f0ef"/><rect x="85.80" y="148.06" width="17.85" height="1.87" fill="#a6cce2"/><rect x="103.60" y="148.06" width="17.95" height="1.87" fill="#91c2de"/><rect x="121.50" y="148.06" width="17.65" height="1.87" fill="#ea7d6c"/><rect x="139.10" y="148.06" width="17.75" height="1.87" fill="#efa99f"/><rect x="156.80" y="148.06" width="17.65" height="1.87" fill="#f2cec9"/><rect x="174.40" y="148.06" width="17.65" height="1.87" fill="#ed9c8f"/><rect x="50.00" y="149.88" width="17.95" height="2.13" fill="#92c3de"/><rect x="67.90" y="149.88" width="17.95" height="2.13" fill="#4ea1cf"/><rect x="85.80" y="149.88" width="17.85" height="2.13" fill="#c9deea"/><rect x="103.60" y="149.88" width="17.95" height="2.13" fill="#a7cde3"/><rect x="121.50" y="149.88" width="17.65" height="2.13" fill="#ea7d6c"/><rect x="139.10" y="149.88" width="17.75" height="2.13" fill="#ea7461"/><rect x="156.80" y="149.88" width="17.65" height="2.13" fill="#ed9385"/><rect x="174.40" y="149.88" width="17.65" height="2.13" fill="#e54329"/><rect x="50.00" y="151.96" width="17.95" height="2.42" fill="#b8d5e6"/><rect x="67.90" y="151.96" width="17.95" height="2.42" fill="#82bada"/><rect x="85.80" y="151.96" width="17.85" height="2.42" fill="#88bddc"/><rect x="103.60" y="151.96" width="17.95" height="2.42" fill="#a6cce2"/><rect x="121.50" y="151.96" width="17.65" height="2.42" fill="#e96e5a"/><rect x="139.10" y="151.96" width="17.75" height="2.42" fill="#eea296"/><rect x="156.80" y="151.96" width="17.65" height="2.42" fill="#f1c1b9"/><rect x="174.40" y="151.96" width="17.65" height="2.42" fill="#ea7e6c"/><rect x="50.00" y="154.33" width="17.95" height="1.90" fill="#95c4df"/><rect x="67.90" y="154.33" width="17.95" height="1.90" fill="#c3dbe9"/><rect x="85.80" y="154.33" width="17.85" height="1.90" fill="#c2dae9"/><rect x="103.60" y="154.33" width="17.95" height="1.90" fill="#5da8d2"/><rect x="121.50" y="154.33" width="17.65" height="1.90" fill="#e43b20"/><rect x="139.10" y="154.33" width="17.75" height="1.90" fill="#ec8f81"/><rect x="156.80" y="154.33" width="17.65" height="1.90" fill="#ea7663"/><rect x="174.40" y="154.33" width="17.65" height="1.90" fill="#eea498"/><rect x="50.00" y="156.18" width="17.95" height="2.19" fill="#3c98cb"/><rect x="67.90" y="156.18" width="17.95" height="2.19" fill="#cfe0eb"/><rect x="85.80" y="156.18" width="17.85" height="2.19" fill="#ccdfeb"/><rect x="103.60" y="156.18" width="17.95" height="2.19" fill="#3f99cc"/><rect x="121.50" y="156.18" width="17.65" height="2.19" fill="#f2cac4"/><rect x="139.10" y="156.18" width="17.75" height="2.19" fill="#f2cec9"/><rect x="156.80" y="156.18" width="17.65" height="2.19" fill="#e86652"/><rect x="174.40" y="156.18" width="17.65" height="2.19" fill="#ee9d90"/><rect x="50.00" y="158.32" width="17.95" height="1.80" fill="#7ab7d9"/><rect x="67.90" y="158.32" width="17.95" height="1.80" fill="#7db8d9"/><rect x="85.80" y="158.32" width="17.85" height="1.80" fill="#63abd4"/><rect x="103.60" y="158.32" width="17.95" height="1.80" fill="#74b4d7"/><rect x="121.50" y="158.32" width="17.65" height="1.80" fill="#f2c8c1"/><rect x="139.10" y="158.32" width="17.75" height="1.80" fill="#ed9385"/><rect x="156.80" y="158.32" width="17.65" height="1.80" fill="#ec8979"/><rect x="174.40" y="158.32" width="17.65" height="1.80" fill="#ea7967"/><rect x="50.00" y="160.07" width="17.95" height="2.34" fill="#66add4"/><rect x="67.90" y="160.07" width="17.95" height="2.34" fill="#8fc1dd"/><rect x="85.80" y="160.07" width="17.85" height="2.34" fill="#82bbda"/><rect x="103.60" y="160.07" width="17.95" height="2.34" fill="#bcd7e7"/><rect x="121.50" y="160.07" width="17.65" height="2.34" fill="#ea7765"/><rect x="139.10" y="160.07" width="17.75" height="2.34" fill="#ed998c"/><rect x="156.80" y="160.07" width="17.65" height="2.34" fill="#efaca1"/><rect x="174.40" y="160.07" width="17.65" height="2.34" fill="#efaba1"/><rect x="50.00" y="162.36" width="17.95" height="2.43" fill="#93c3de"/><rect x="67.90" y="162.36" width="17.95" height="2.43" fill="#aacee3"/><rect x="85.80" y="162.36" width="17.85" height="2.43" fill="#c3dbe9"/><rect x="103.60" y="162.36" width="17.95" height="2.43" fill="#a6cde2"/><rect x="121.50" y="162.36" width="17.65" height="2.43" fill="#e75740"/><rect x="139.10" y="162.36" width="17.75" height="2.43" fill="#f1c4bd"/><rect x="156.80" y="162.36" width="17.65" height="2.43" fill="#efaca2"/><rect x="174.40" y="162.36" width="17.65" height="2.43" fill="#e43b20"/><rect x="50.00" y="164.74" width="17.95" height="2.26" fill="#a9cee3"/><rect x="67.90" y="164.74" width="17.95" height="2.26" fill="#c1dae8"/><rect x="85.80" y="164.74" width="17.85" height="2.26" fill="#d0e1ec"/><rect x="103.60" y="164.74" width="17.95" height="2.26" fill="#bcd7e7"/><rect x="121.50" y="164.74" width="17.65" height="2.26" fill="#f2cbc5"/><rect x="139.10" y="164.74" width="17.75" height="2.26" fill="#f0b4aa"/><rect x="156.80" y="164.74" width="17.65" height="2.26" fill="#f1c5be"/><rect x="174.40" y="164.74" width="17.65" height="2.26" fill="#ee9f93"/><rect x="50.00" y="166.95" width="17.95" height="2.52" fill="#9ac6e0"/><rect x="67.90" y="166.95" width="17.95" height="2.52" fill="#bbd7e7"/><rect x="85.80" y="166.95" width="17.85" height="2.52" fill="#9ec8e1"/><rect x="103.60" y="166.95" width="17.95" height="2.52" fill="#7fb9da"/><rect x="121.50" y="166.95" width="17.65" height="2.52" fill="#efaaa0"/><rect x="139.10" y="166.95" width="17.75" height="2.52" fill="#f4dcd9"/><rect x="156.80" y="166.95" width="17.65" height="2.52" fill="#efafa5"/><rect x="174.40" y="166.95" width="17.65" height="2.52" fill="#eea195"/><rect x="50.00" y="169.42" width="17.95" height="2.04" fill="#92c3de"/><rect x="67.90" y="169.42" width="17.95" height="2.04" fill="#73b3d7"/><rect x="85.80" y="169.42" width="17.85" height="2.04" fill="#4a9fce"/><rect x="103.60" y="169.42" width="17.95" height="2.04" fill="#67add4"/><rect x="121.50" y="169.42" width="17.65" height="2.04" fill="#ea7461"/><rect x="139.10" y="169.42" width="17.75" height="2.04" fill="#ed9a8d"/><rect x="156.80" y="169.42" width="17.65" height="2.04" fill="#ec8e7f"/><rect x="174.40" y="169.42" width="17.65" height="2.04" fill="#e8644f"/><rect x="50.00" y="171.41" width="17.95" height="2.37" fill="#bcd7e7"/><rect x="67.90" y="171.41" width="17.95" height="2.37" fill="#ebeff2"/><rect x="85.80" y="171.41" width="17.85" height="2.37" fill="#93c3de"/><rect x="103.60" y="171.41" width="17.95" height="2.37" fill="#93c3de"/><rect x="121.50" y="171.41" width="17.65" height="2.37" fill="#efaca2"/><rect x="139.10" y="171.41" width="17.75" height="2.37" fill="#e96b57"/><rect x="156.80" y="171.41" width="17.65" height="2.37" fill="#ee9f93"/><rect x="174.40" y="171.41" width="17.65" height="2.37" fill="#eb7f6e"/><rect x="50.00" y="173.73" width="17.95" height="2.28" fill="#9ac7e0"/><rect x="67.90" y="173.73" width="17.95" height="2.28" fill="#95c4df"/><rect x="85.80" y="173.73" width="17.85" height="2.28" fill="#59a6d1"/><rect x="103.60" y="173.73" width="17.95" height="2.28" fill="#c4dbe9"/><rect x="121.50" y="173.73" width="17.65" height="2.28" fill="#eb7e6d"/><rect x="139.10" y="173.73" width="17.75" height="2.28" fill="#f5e5e3"/><rect x="156.80" y="173.73" width="17.65" height="2.28" fill="#ec897a"/><rect x="174.40" y="173.73" width="17.65" height="2.28" fill="#eea296"/><rect x="50.00" y="175.96" width="17.95" height="2.27" fill="#88bddc"/><rect x="67.90" y="175.96" width="17.95" height="2.27" fill="#3393c9"/><rect x="85.80" y="175.96" width="17.85" height="2.27" fill="#79b6d8"/><rect x="103.60" y="175.96" width="17.95" height="2.27" fill="#a4cbe2"/><rect x="121.50" y="175.96" width="17.65" height="2.27" fill="#ed988b"/><rect x="139.10" y="175.96" width="17.75" height="2.27" fill="#efaa9f"/><rect x="156.80" y="175.96" width="17.65" height="2.27" fill="#f0bbb3"/><rect x="174.40" y="175.96" width="17.65" height="2.27" fill="#efada2"/><rect x="50.00" y="178.17" width="17.95" height="2.16" fill="#c4dbe9"/><rect x="67.90" y="178.17" width="17.95" height="2.16" fill="#89bedc"/><rect x="85.80" y="178.17" width="17.85" height="2.16" fill="#90c2de"/><rect x="103.60" y="178.17" width="17.95" height="2.16" fill="#c7ddea"/><rect x="121.50" y="178.17" width="17.65" height="2.16" fill="#ed998c"/><rect x="139.10" y="178.17" width="17.75" height="2.16" fill="#ee9f93"/><rect x="156.80" y="178.17" width="17.65" height="2.16" fill="#ea7563"/><rect x="174.40" y="178.17" width="17.65" height="2.16" fill="#e96b57"/><rect x="50.00" y="180.28" width="17.95" height="2.49" fill="#73b3d7"/><rect x="67.90" y="180.28" width="17.95" height="2.49" fill="#accfe4"/><rect x="85.80" y="180.28" width="17.85" height="2.49" fill="#bad6e7"/><rect x="103.60" y="180.28" width="17.95" height="2.49" fill="#58a6d1"/><rect x="121.50" y="180.28" width="17.65" height="2.49" fill="#f0b2a9"/><rect x="139.10" y="180.28" width="17.75" height="2.49" fill="#f1bfb8"/><rect x="156.80" y="180.28" width="17.65" height="2.49" fill="#ee9d90"/><rect x="174.40" y="180.28" width="17.65" height="2.49" fill="#efaaa0"/><rect x="50.00" y="182.72" width="17.95" height="2.58" fill="#79b6d8"/><rect x="67.90" y="182.72" width="17.95" height="2.58" fill="#b0d2e5"/><rect x="85.80" y="182.72" width="17.85" height="2.58" fill="#cee0eb"/><rect x="103.60" y="182.72" width="17.95" height="2.58" fill="#64acd4"/><rect x="121.50" y="182.72" width="17.65" height="2.58" fill="#e9705c"/><rect x="139.10" y="182.72" width="17.75" height="2.58" fill="#efaea4"/><rect x="156.80" y="182.72" width="17.65" height="2.58" fill="#ed9284"/><rect x="174.40" y="182.72" width="17.65" height="2.58" fill="#e96f5b"/><rect x="50.00" y="185.26" width="17.95" height="2.18" fill="#479dcd"/><rect x="67.90" y="185.26" width="17.95" height="2.18" fill="#4fa1cf"/><rect x="85.80" y="185.26" width="17.85" height="2.18" fill="#6aafd5"/><rect x="103.60" y="185.26" width="17.95" height="2.18" fill="#2a8fc7"/><rect x="121.50" y="185.26" width="17.65" height="2.18" fill="#e8644f"/><rect x="139.10" y="185.26" width="17.75" height="2.18" fill="#eb7e6d"/><rect x="156.80" y="185.26" width="17.65" height="2.18" fill="#e75a44"/><rect x="174.40" y="185.26" width="17.65" height="2.18" fill="#ec8c7c"/><rect x="50.00" y="187.38" width="17.95" height="2.34" fill="#c4dbe9"/><rect x="67.90" y="187.38" width="17.95" height="2.34" fill="#c8ddea"/><rect x="85.80" y="187.38" width="17.85" height="2.34" fill="#b5d4e6"/><rect x="103.60" y="187.38" width="17.95" height="2.34" fill="#d4e3ec"/><rect x="121.50" y="187.38" width="17.65" height="2.34" fill="#f2d0ca"/><rect x="139.10" y="187.38" width="17.75" height="2.34" fill="#f4ddd9"/><rect x="156.80" y="187.38" width="17.65" height="2.34" fill="#f0b7ae"/><rect x="174.40" y="187.38" width="17.65" height="2.34" fill="#eceff2"/><rect x="50.00" y="189.67" width="17.95" height="1.82" fill="#9ac6e0"/><rect x="67.90" y="189.67" width="17.95" height="1.82" fill="#bad6e7"/><rect x="85.80" y="189.67" width="17.85" height="1.82" fill="#9ec8e1"/><rect x="103.60" y="189.67" width="17.95" height="1.82" fill="#93c3de"/><rect x="121.50" y="189.67" width="17.65" height="1.82" fill="#f0bbb2"/><rect x="139.10" y="189.67" width="17.75" height="1.82" fill="#ed9588"/><rect x="156.80" y="189.67" width="17.65" height="1.82" fill="#e86550"/><rect x="174.40" y="189.67" width="17.65" height="1.82" fill="#f0b7ae"/><rect x="50.00" y="191.44" width="17.95" height="2.37" fill="#2a8fc7"/><rect x="67.90" y="191.44" width="17.95" height="2.37" fill="#3996ca"/><rect x="85.80" y="191.44" width="17.85" height="2.37" fill="#4fa1cf"/><rect x="103.60" y="191.44" width="17.95" height="2.37" fill="#55a4d0"/><rect x="121.50" y="191.44" width="17.65" height="2.37" fill="#ea7d6b"/><rect x="139.10" y="191.44" width="17.75" height="2.37" fill="#ee9e92"/><rect x="156.80" y="191.44" width="17.65" height="2.37" fill="#e43b20"/><rect x="174.40" y="191.44" width="17.65" height="2.37" fill="#e43b20"/><rect x="50.00" y="193.76" width="17.95" height="2.32" fill="#e3ebf0"/><rect x="67.90" y="193.76" width="17.95" height="2.32" fill="#76b5d8"/><rect x="85.80" y="193.76" width="17.85" height="2.32" fill="#88bddc"/><rect x="103.60" y="193.76" width="17.95" height="2.32" fill="#86bddb"/><rect x="121.50" y="193.76" width="17.65" height="2.32" fill="#e96f5b"/><rect x="139.10" y="193.76" width="17.75" height="2.32" fill="#e43c21"/><rect x="156.80" y="193.76" width="17.65" height="2.32" fill="#f0b2a8"/><rect x="174.40" y="193.76" width="17.65" height="2.32" fill="#eb8777"/><rect x="50.00" y="196.04" width="17.95" height="2.62" fill="#f4dbd7"/><rect x="67.90" y="196.04" width="17.95" height="2.62" fill="#dae6ee"/><rect x="85.80" y="196.04" width="17.85" height="2.62" fill="#f2cdc7"/><rect x="103.60" y="196.04" width="17.95" height="2.62" fill="#f0b9b0"/><rect x="121.50" y="196.04" width="17.65" height="2.62" fill="#f5eeed"/><rect x="139.10" y="196.04" width="17.75" height="2.62" fill="#f2f2f3"/><rect x="156.80" y="196.04" width="17.65" height="2.62" fill="#e2eaf0"/><rect x="174.40" y="196.04" width="17.65" height="2.62" fill="#dee8ef"/><rect x="50.00" y="198.61" width="17.95" height="2.48" fill="#b4d4e6"/><rect x="67.90" y="198.61" width="17.95" height="2.48" fill="#96c4df"/><rect x="85.80" y="198.61" width="17.85" height="2.48" fill="#a6cce2"/><rect x="103.60" y="198.61" width="17.95" height="2.48" fill="#7db8d9"/><rect x="121.50" y="198.61" width="17.65" height="2.48" fill="#ea7c6b"/><rect x="139.10" y="198.61" width="17.75" height="2.48" fill="#ec8d7d"/><rect x="156.80" y="198.61" width="17.65" height="2.48" fill="#efaa9f"/><rect x="174.40" y="198.61" width="17.65" height="2.48" fill="#eb8171"/><rect x="50.00" y="201.04" width="17.95" height="2.01" fill="#59a6d1"/><rect x="67.90" y="201.04" width="17.95" height="2.01" fill="#c4dbe9"/><rect x="85.80" y="201.04" width="17.85" height="2.01" fill="#a9cee3"/><rect x="103.60" y="201.04" width="17.95" height="2.01" fill="#4da0cf"/><rect x="121.50" y="201.04" width="17.65" height="2.01" fill="#e86954"/><rect x="139.10" y="201.04" width="17.75" height="2.01" fill="#eb8575"/><rect x="156.80" y="201.04" width="17.65" height="2.01" fill="#f3d4cf"/><rect x="174.40" y="201.04" width="17.65" height="2.01" fill="#e64f37"/></g></g>
<rect x="50.00" y="29.10" width="71.50" height="6.70" fill="#8aa5d8"/>
<rect x="121.50" y="29.10" width="70.50" height="6.70" fill="#22b18b"/>
<text x="69.00" y="34.60" font-size="6.0" fill="#1f3f78" font-weight="bold" textLength="27.50" lengthAdjust="spacingAndGlyphs">HOD<tspan font-size="3.6" dy="-2">+</tspan><tspan dy="2">OTII</tspan></text>
<text x="147.40" y="34.60" font-size="6.0" fill="#0f4a44" font-weight="bold" textLength="32.60" lengthAdjust="spacingAndGlyphs">HOD<tspan font-size="3.6" dy="-2">NEG</tspan><tspan dy="2"> OTII</tspan></text>
<text x="29.50" y="34.00" font-size="7" fill="#333" stroke="#333" stroke-width="0.12">Group</text>
<path d="M59 29V22H112.6V29 M77 22V29 M94.5 22V29 M72 21.2H94 M92.4 21.2V13.7H168.2V22.2 M130.4 29V23.4H147.6V29 M139 23.4V22.4H174.4V23.4 M165.4 29V23.6H183.5V29" stroke="#777" fill="none" stroke-width="0.7"/>
<path d="M40.3 36.35H50M41.6 37.06H50M44.5 37.77H50M38.4 38.46H50M41.9 39.11H50M44.1 39.77H50M43.9 40.50H50M38.6 41.31H50M38.5 42.12H50M38.9 42.84H50M44.6 43.47H50M40.8 44.11H50M43.8 44.81H50M44.5 45.58H50M41.4 46.36H50M40.9 47.11H50M44.8 47.83H50M43.1 48.55H50M40.9 49.23H50M43.6 49.85H50M41.3 50.48H50M41.0 51.18H50M37.8 51.94H50M43.8 52.71H50M44.6 53.40H50M43.2 54.03H50M44.7 54.65H50M38.3 55.33H50M40.6 56.07H50M42.3 56.82H50M44.8 57.50H50M44.8 58.13H50M41.7 58.77H50M40.8 59.40H50M42.0 60.04H50M42.4 60.68H50M44.7 61.37H50M40.2 62.11H50M44.1 62.85H50M43.8 63.65H50M44.2 64.51H50M43.9 65.37H50M43.1 66.13H50M41.3 66.78H50M41.3 67.43H50M41.6 68.09H50M44.0 68.77H50M39.1 69.45H50M40.3 70.19H50M43.8 70.99H50M40.7 71.79H50M39.0 72.64H50M38.5 73.54H50M42.8 74.44H50M41.3 75.29H50M44.9 76.07H50M44.5 76.86H50M44.9 77.62H50M40.9 78.35H50M39.2 79.08H50M39.3 79.90H50M42.4 80.81H50M43.6 81.72H50M42.1 82.48H50M40.6 83.11H50M41.9 83.73H50M43.1 84.48H50M43.4 85.36H50M43.8 86.23H50M44.3 87.01H50M43.4 87.71H50M39.6 88.41H50M44.3 89.09H50M41.1 89.74H50M42.8 90.40H50M41.7 91.05H50M43.8 91.69H50M40.3 92.34H50M40.7 93.02H50M40.7 93.72H50M39.9 94.43H50M44.5 95.21H50M42.9 96.07H50M41.3 96.93H50M41.8 97.69H50M45.0 98.36H50M42.5 99.02H50M40.6 99.75H50M44.1 100.54H50M43.3 101.32H50M45.0 102.12H50M39.4 102.93H50M42.3 103.73H50M44.2 104.50H50M44.3 105.22H50M44.6 105.95H50M38.6 106.70H50M41.1 107.47H50M39.6 108.25H50M40.3 108.96H50M44.9 109.58H50M42.9 110.21H50M44.7 110.84H50M41.6 111.47H50M44.4 112.10H50M42.1 112.75H50M40.8 113.43H50M44.0 114.10H50M44.8 114.84H50M39.4 115.66H50M43.0 116.48H50M43.1 117.26H50M40.5 118.00H50M41.6 118.74H50M39.8 119.47H50M40.4 120.17H50M40.8 120.88H50M43.0 121.63H50M43.3 122.42H50M40.4 123.21H50M38.0 123.95H50M41.3 124.65H50M43.4 125.36H50M40.2 126.04H50M41.2 126.70H50M40.4 127.36H50M44.0 128.08H50M42.7 128.89H50M38.9 129.69H50M39.4 130.47H50M41.8 131.25H50M42.7 132.02H50M43.2 132.73H50M39.3 133.37H50M40.0 134.01H50M43.5 134.70H50M41.9 135.44H50M41.0 136.18H50M41.2 136.91H50M44.8 137.63H50M41.2 138.36H50M42.8 139.13H50M41.5 139.95H50M41.9 140.78H50M44.4 141.58H50M45.0 142.36H50M41.6 143.14H50M40.3 143.86H50M43.7 144.52H50M40.4 145.17H50M37.8 145.93H50M44.5 146.78H50M42.0 147.63H50M44.2 148.36H50M41.9 148.97H50M44.5 149.58H50M42.2 150.23H50M40.0 150.92H50M38.1 151.61H50M42.7 152.35H50M43.2 153.14H50M44.6 153.93H50M39.3 154.64H50M43.1 155.25H50M41.6 155.87H50M42.5 156.54H50M39.9 157.25H50M41.0 157.96H50M42.6 158.61H50M44.7 159.19H50M39.5 159.78H50M42.4 160.45H50M44.1 161.22H50M44.8 161.98H50M40.3 162.76H50M39.7 163.55H50M44.7 164.34H50M44.9 165.11H50M42.3 165.84H50M38.8 166.58H50M44.7 167.36H50M41.7 168.19H50M44.6 169.01H50M43.1 169.75H50M44.2 170.42H50M40.0 171.08H50M44.0 171.80H50M40.5 172.57H50M41.9 173.34H50M44.3 174.10H50M44.2 174.84H50M40.2 175.58H50M40.5 176.33H50M41.8 177.06H50M42.6 177.80H50M41.7 178.53H50M39.6 179.23H50M40.7 179.93H50M43.7 180.69H50M44.5 181.50H50M38.6 182.32H50M42.8 183.15H50M43.8 183.99H50M38.6 184.83H50M44.2 185.61H50M39.6 186.32H50M43.0 187.03H50M42.7 187.76H50M43.2 188.53H50M41.2 189.29H50M42.0 189.97H50M42.9 190.56H50M42.0 191.15H50M43.3 191.83H50M42.1 192.60H50M42.1 193.38H50M38.3 194.14H50M43.1 194.90H50M42.4 195.66H50M40.6 196.47H50M43.9 197.33H50M44.0 198.18H50M42.2 199.02H50M40.2 199.82H50M42.3 200.63H50M39.5 201.36H50M39.7 202.02H50M42.0 202.67H50M39.2 108.5V113.1M38.8 140.4V142.0M44.0 163.5V168.1M38.9 118.6V122.3M45.6 58.3V65.3M46.0 156.1V162.8M40.0 197.0V201.4M45.7 186.2V188.4M44.4 188.6V190.1M41.1 160.0V162.1M45.2 81.1V87.8M39.6 118.4V125.8M40.1 79.1V83.7M40.9 42.0V44.3M39.7 189.6V195.3M45.2 63.7V70.2M39.4 123.0V128.5M41.2 179.2V184.1M42.9 180.7V182.5M45.9 139.3V143.0M44.5 79.4V87.4M42.8 95.1V101.4M41.8 65.0V71.2M38.9 170.5V173.2M43.3 197.4V202.5M43.5 87.3V88.3M38.8 60.5V65.8M41.7 120.1V127.3M39.5 73.3V78.8M38.7 36.4V39.9M39.3 94.6V97.1M42.9 132.6V135.0M43.2 113.9V115.8M45.5 75.9V78.0M39.2 140.7V147.8M44.4 101.9V104.8M38.6 141.8V146.7M41.1 141.9V146.0M45.5 156.3V159.0M45.3 43.2V47.9" stroke="#111" fill="none" stroke-width="0.7"/>
<rect x="44.60" y="36.00" width="5.40" height="167.00" fill="#000"/>
<path d="M34.5 42V196 M34.5 42H38 M34.5 196H38 M36 60V120 M36.5 130V185 M33.5 70V160" stroke="#999" fill="none" stroke-width="0.5"/>
<defs><linearGradient id="hmg" x1="0" y1="0" x2="0" y2="1"><stop offset="0" stop-color="#dc3a1f"/><stop offset="0.18" stop-color="#e4482c"/><stop offset="0.4" stop-color="#f3a08a"/><stop offset="0.52" stop-color="#f7f4f2"/><stop offset="0.62" stop-color="#b9d8ec"/><stop offset="0.82" stop-color="#3c9cd0"/><stop offset="1" stop-color="#1a8fc4"/></linearGradient></defs>
<rect x="199.60" y="96.10" width="4.70" height="45.10" fill="url(#hmg)" rx="2"/>
<text x="210.70" y="99.00" font-size="6.2" fill="#333" stroke="#333" stroke-width="0.12">2</text>
<text x="210.70" y="109.40" font-size="6.2" fill="#333" stroke="#333" stroke-width="0.12">1</text>
<text x="210.70" y="120.20" font-size="6.2" fill="#333" stroke="#333" stroke-width="0.12">0</text>
<text x="207.60" y="130.90" font-size="6.2" fill="#333" stroke="#333" stroke-width="0.12">−1</text>
<text x="207.60" y="141.60" font-size="6.2" fill="#333" stroke="#333" stroke-width="0.12">−2</text>
<text x="398.00" y="26.92" font-size="7.6" fill="#333" text-anchor="end" textLength="118.00" lengthAdjust="spacingAndGlyphs" stroke="#333" stroke-width="0.12">Cytokine-cytokine receptor interaction</text>
<line x1="400.80" y1="24.30" x2="404.40" y2="24.30" stroke="#111" stroke-width="0.9"/>
<text x="398.00" y="38.26" font-size="7.6" fill="#333" text-anchor="end" textLength="30.98" lengthAdjust="spacingAndGlyphs" stroke="#333" stroke-width="0.12">Apoptosis</text>
<line x1="400.80" y1="35.64" x2="404.40" y2="35.64" stroke="#111" stroke-width="0.9"/>
<text x="398.00" y="49.59" font-size="7.6" fill="#333" text-anchor="end" textLength="102.59" lengthAdjust="spacingAndGlyphs" stroke="#333" stroke-width="0.12">T cell receptor signaling pathway</text>
<line x1="400.80" y1="46.97" x2="404.40" y2="46.97" stroke="#111" stroke-width="0.9"/>
<text x="398.00" y="60.93" font-size="7.6" fill="#333" text-anchor="end" textLength="72.80" lengthAdjust="spacingAndGlyphs" stroke="#333" stroke-width="0.12">Th17 cell differentiation</text>
<line x1="400.80" y1="58.31" x2="404.40" y2="58.31" stroke="#111" stroke-width="0.9"/>
<text x="398.00" y="72.26" font-size="7.6" fill="#333" text-anchor="end" textLength="58.41" lengthAdjust="spacingAndGlyphs" stroke="#333" stroke-width="0.12">Purine metabolism</text>
<line x1="400.80" y1="69.64" x2="404.40" y2="69.64" stroke="#111" stroke-width="0.9"/>
<text x="398.00" y="83.60" font-size="7.6" fill="#333" text-anchor="end" textLength="30.18" lengthAdjust="spacingAndGlyphs" stroke="#333" stroke-width="0.12">Cell cycle</text>
<line x1="400.80" y1="80.98" x2="404.40" y2="80.98" stroke="#111" stroke-width="0.9"/>
<text x="398.00" y="94.93" font-size="7.6" fill="#333" text-anchor="end" textLength="98.81" lengthAdjust="spacingAndGlyphs" stroke="#333" stroke-width="0.12">Neurotrophin signaling pathway</text>
<line x1="400.80" y1="92.31" x2="404.40" y2="92.31" stroke="#111" stroke-width="0.9"/>
<text x="398.00" y="106.27" font-size="7.6" fill="#333" text-anchor="end" textLength="114.88" lengthAdjust="spacingAndGlyphs" stroke="#333" stroke-width="0.12">Leukocyte transendothelial migration</text>
<line x1="400.80" y1="103.64" x2="404.40" y2="103.64" stroke="#111" stroke-width="0.9"/>
<text x="398.00" y="117.60" font-size="7.6" fill="#333" text-anchor="end" textLength="119.17" lengthAdjust="spacingAndGlyphs" stroke="#333" stroke-width="0.12">Natural killer cell mediated cytotoxicity</text>
<line x1="400.80" y1="114.98" x2="404.40" y2="114.98" stroke="#111" stroke-width="0.9"/>
<text x="398.00" y="128.94" font-size="7.6" fill="#333" text-anchor="end" textLength="151.73" lengthAdjust="spacingAndGlyphs" stroke="#333" stroke-width="0.12">PD-L1 expression and PD-1 checkpoint pathway</text>
<line x1="400.80" y1="126.32" x2="404.40" y2="126.32" stroke="#111" stroke-width="0.9"/>
<text x="398.00" y="140.27" font-size="7.6" fill="#333" text-anchor="end" textLength="96.59" lengthAdjust="spacingAndGlyphs" stroke="#333" stroke-width="0.12">Th1 and Th2 cell differentiation</text>
<line x1="400.80" y1="137.65" x2="404.40" y2="137.65" stroke="#111" stroke-width="0.9"/>
<text x="398.00" y="151.61" font-size="7.6" fill="#333" text-anchor="end" textLength="155.91" lengthAdjust="spacingAndGlyphs" stroke="#333" stroke-width="0.12">Viral protein interaction with cytokine and receptor</text>
<line x1="400.80" y1="148.99" x2="404.40" y2="148.99" stroke="#111" stroke-width="0.9"/>
<text x="398.00" y="162.94" font-size="7.6" fill="#333" text-anchor="end" textLength="95.66" lengthAdjust="spacingAndGlyphs" stroke="#333" stroke-width="0.12">NF-kappa B signaling pathway</text>
<line x1="400.80" y1="160.32" x2="404.40" y2="160.32" stroke="#111" stroke-width="0.9"/>
<text x="398.00" y="174.28" font-size="7.6" fill="#333" text-anchor="end" textLength="82.33" lengthAdjust="spacingAndGlyphs" stroke="#333" stroke-width="0.12">Hematopoietic cell lineage</text>
<line x1="400.80" y1="171.66" x2="404.40" y2="171.66" stroke="#111" stroke-width="0.9"/>
<text x="398.00" y="185.61" font-size="7.6" fill="#333" text-anchor="end" textLength="44.69" lengthAdjust="spacingAndGlyphs" stroke="#333" stroke-width="0.12">Leishmaniasis</text>
<line x1="400.80" y1="182.99" x2="404.40" y2="182.99" stroke="#111" stroke-width="0.9"/>
<line x1="404.40" y1="16.90" x2="404.40" y2="190.10" stroke="#111" stroke-width="1.3"/>
<line x1="403.80" y1="189.50" x2="499.50" y2="189.50" stroke="#111" stroke-width="1.3"/>
<line x1="422.20" y1="189.50" x2="422.20" y2="192.00" stroke="#111" stroke-width="0.9"/>
<text x="422.20" y="202.40" font-size="8.0" fill="#333" text-anchor="middle" textLength="14.00" lengthAdjust="spacingAndGlyphs" stroke="#333" stroke-width="0.12">0.03</text>
<line x1="445.80" y1="189.50" x2="445.80" y2="192.00" stroke="#111" stroke-width="0.9"/>
<text x="445.80" y="202.40" font-size="8.0" fill="#333" text-anchor="middle" textLength="14.00" lengthAdjust="spacingAndGlyphs" stroke="#333" stroke-width="0.12">0.04</text>
<line x1="469.40" y1="189.50" x2="469.40" y2="192.00" stroke="#111" stroke-width="0.9"/>
<text x="469.40" y="202.40" font-size="8.0" fill="#333" text-anchor="middle" textLength="14.00" lengthAdjust="spacingAndGlyphs" stroke="#333" stroke-width="0.12">0.05</text>
<line x1="493.00" y1="189.50" x2="493.00" y2="192.00" stroke="#111" stroke-width="0.9"/>
<text x="493.00" y="202.40" font-size="8.0" fill="#333" text-anchor="middle" textLength="14.00" lengthAdjust="spacingAndGlyphs" stroke="#333" stroke-width="0.12">0.06</text>
<text x="451.80" y="215.10" font-size="9.6" fill="#333" text-anchor="middle" textLength="32.50" lengthAdjust="spacingAndGlyphs" stroke="#333" stroke-width="0.12">Gene ratio</text>
<circle cx="494.80" cy="24.00" r="2.90" fill="#e8112d" stroke="#7a1020" stroke-width="0.5" stroke-opacity="0.75"/>
<circle cx="449.00" cy="35.30" r="2.40" fill="#e02230" stroke="#7a1020" stroke-width="0.5" stroke-opacity="0.75"/>
<circle cx="438.30" cy="46.70" r="2.30" fill="#e2242e" stroke="#7a1020" stroke-width="0.5" stroke-opacity="0.75"/>
<circle cx="435.20" cy="57.90" r="2.25" fill="#e2242e" stroke="#7a1020" stroke-width="0.5" stroke-opacity="0.75"/>
<circle cx="435.40" cy="69.40" r="2.20" fill="#e31c3a" stroke="#7a1020" stroke-width="0.5" stroke-opacity="0.75"/>
<circle cx="432.90" cy="81.00" r="2.10" fill="#e31c3a" stroke="#7a1020" stroke-width="0.5" stroke-opacity="0.75"/>
<circle cx="430.00" cy="92.00" r="2.00" fill="#e0163f" stroke="#7a1020" stroke-width="0.5" stroke-opacity="0.75"/>
<circle cx="427.50" cy="103.60" r="2.00" fill="#d9145a" stroke="#7a1020" stroke-width="0.5" stroke-opacity="0.75"/>
<circle cx="427.50" cy="114.90" r="1.90" fill="#b81a78" stroke="#7a1020" stroke-width="0.5" stroke-opacity="0.75"/>
<circle cx="424.80" cy="126.30" r="1.85" fill="#d8352a" stroke="#7a1020" stroke-width="0.5" stroke-opacity="0.75"/>
<circle cx="424.80" cy="137.70" r="1.85" fill="#d8352a" stroke="#7a1020" stroke-width="0.5" stroke-opacity="0.75"/>
<circle cx="421.90" cy="148.90" r="1.75" fill="#dc3030" stroke="#7a1020" stroke-width="0.5" stroke-opacity="0.75"/>
<circle cx="419.20" cy="160.40" r="1.50" fill="#7c2c8c" stroke="#7a1020" stroke-width="0.5" stroke-opacity="0.75"/>
<circle cx="414.00" cy="171.60" r="1.30" fill="#282470" stroke="#7a1020" stroke-width="0.5" stroke-opacity="0.75"/>
<circle cx="408.80" cy="183.00" r="0.70" fill="#e04060" stroke="#7a1020" stroke-width="0.5" stroke-opacity="0.75"/>
<defs><linearGradient id="pg" x1="0" y1="0" x2="0" y2="1"><stop offset="0" stop-color="#2d2a8e"/><stop offset="0.3" stop-color="#7a2a9c"/><stop offset="0.6" stop-color="#e0167e"/><stop offset="1" stop-color="#e8123a"/></linearGradient></defs>
<text x="468.00" y="70.00" font-size="7.2" fill="#333" textLength="22.00" lengthAdjust="spacingAndGlyphs" stroke="#333" stroke-width="0.12"><tspan font-style="italic">P</tspan>-value</text>
<rect x="471.20" y="74.00" width="9.60" height="41.10" fill="url(#pg)"/>
<text x="484.00" y="79.60" font-size="6.6" fill="#333" textLength="23.00" lengthAdjust="spacingAndGlyphs" stroke="#333" stroke-width="0.12">2.5e-05</text>
<text x="484.00" y="87.82" font-size="6.6" fill="#333" textLength="23.00" lengthAdjust="spacingAndGlyphs" stroke="#333" stroke-width="0.12">2.0e-05</text>
<text x="484.00" y="96.04" font-size="6.6" fill="#333" textLength="23.00" lengthAdjust="spacingAndGlyphs" stroke="#333" stroke-width="0.12">1.5e-05</text>
<text x="484.00" y="104.26" font-size="6.6" fill="#333" textLength="23.00" lengthAdjust="spacingAndGlyphs" stroke="#333" stroke-width="0.12">1.0e-05</text>
<text x="484.00" y="112.48" font-size="6.6" fill="#333" textLength="23.00" lengthAdjust="spacingAndGlyphs" stroke="#333" stroke-width="0.12">5.0e-06</text>
<text x="468.00" y="142.60" font-size="7.2" fill="#333" textLength="18.50" lengthAdjust="spacingAndGlyphs" stroke="#333" stroke-width="0.12">Count</text>
<circle cx="477.90" cy="149.60" r="2.10" fill="#111"/>
<text x="484.80" y="151.90" font-size="6.6" fill="#333" stroke="#333" stroke-width="0.12">30</text>
<circle cx="477.90" cy="159.40" r="2.75" fill="#111"/>
<text x="484.80" y="161.70" font-size="6.6" fill="#333" stroke="#333" stroke-width="0.12">40</text>
<circle cx="477.90" cy="169.20" r="3.35" fill="#111"/>
<text x="484.80" y="171.50" font-size="6.6" fill="#333" stroke="#333" stroke-width="0.12">50</text>
<defs><filter id="cb" x="-5%" y="-5%" width="110%" height="110%"><feGaussianBlur stdDeviation="0.6"/></filter></defs>
<g filter="url(#cb)"><path d="M57.6 384.7h0M84.7 383.9h0M71.6 370.1h0M52.5 385.2h0M77.6 381.1h0M77.8 382.5h0M88.2 387.1h0M56.6 387.0h0M84.7 363.9h0M72.7 381.7h0M93.6 365.1h0M67.7 387.2h0M106.0 387.3h0M62.5 383.4h0M73.6 374.6h0M77.4 386.2h0M76.5 356.8h0M75.1 365.2h0M84.6 387.0h0M78.0 374.5h0M63.1 385.8h0M90.2 360.7h0M101.5 374.8h0M55.4 386.9h0M78.4 370.6h0M78.9 369.0h0M66.8 386.5h0M79.4 387.0h0M68.9 387.2h0M78.8 386.9h0M84.5 371.1h0M79.6 387.1h0M102.1 369.0h0M89.0 368.5h0M100.6 362.4h0M89.0 387.4h0M72.5 386.4h0M68.4 381.4h0M58.3 384.1h0M76.7 355.3h0M68.6 386.4h0M85.6 364.6h0M69.1 384.2h0M75.3 363.6h0M95.5 365.7h0M73.5 384.9h0M96.9 358.5h0M79.8 355.1h0M102.4 372.5h0M101.6 384.6h0M95.8 384.7h0M89.2 387.0h0M90.3 368.5h0M78.2 386.6h0M63.7 386.7h0M85.4 362.3h0M113.2 387.2h0M85.3 374.3h0M105.5 363.2h0M76.5 360.1h0M85.0 355.3h0M102.8 383.7h0M59.0 383.7h0M95.8 387.0h0M80.6 365.8h0M72.9 362.3h0M89.5 368.3h0M103.1 380.1h0M99.0 363.3h0M78.3 349.6h0M100.0 381.5h0M74.9 381.9h0M70.1 386.9h0M85.6 368.2h0M80.5 380.3h0M100.4 387.2h0M75.3 387.1h0M106.3 387.4h0M71.9 387.4h0M89.8 367.6h0M85.7 358.5h0M85.0 365.4h0M95.5 383.2h0M74.0 353.0h0M77.2 372.3h0M75.7 346.0h0M65.7 387.3h0M68.0 385.1h0M76.2 374.8h0M74.8 383.3h0M63.8 387.0h0M113.3 387.3h0M90.0 384.9h0M106.3 372.0h0M105.3 383.1h0M101.7 387.2h0M85.0 352.1h0M88.7 380.8h0M76.5 381.2h0M75.4 386.5h0M62.2 387.3h0M59.7 385.8h0M85.4 352.5h0M78.0 350.9h0M73.1 380.0h0M75.1 367.8h0M110.4 380.2h0M77.6 387.2h0M72.1 385.5h0M97.8 356.4h0M79.4 384.4h0M68.0 384.2h0M89.5 370.9h0M97.3 364.8h0M85.9 364.6h0M80.6 347.0h0M50.1 387.2h0M85.0 384.5h0M98.5 364.9h0M77.4 383.9h0M65.9 382.1h0M108.4 373.1h0M80.6 387.2h0M103.3 385.4h0M72.4 366.4h0M89.3 364.0h0M75.1 383.5h0M98.2 382.5h0M89.2 361.6h0M76.2 350.8h0M70.7 384.3h0M72.2 380.3h0M99.4 366.8h0M96.1 387.3h0M73.6 373.4h0M72.6 384.1h0M76.2 385.3h0M97.1 384.3h0M98.9 371.7h0M85.4 360.2h0M86.3 359.7h0M103.7 373.9h0M86.3 380.2h0M69.8 382.3h0M66.4 384.5h0M77.0 387.1h0M94.1 387.2h0M85.2 386.2h0M68.1 381.2h0M73.0 380.9h0M98.8 382.8h0M102.6 374.6h0M64.8 387.0h0M98.2 386.9h0M110.0 369.0h0M103.9 373.1h0M104.6 380.7h0M67.5 387.0h0M75.4 384.7h0M86.5 368.0h0M77.7 374.4h0M86.2 380.4h0M109.1 383.4h0M86.6 350.7h0M69.7 379.8h0M95.3 387.1h0M85.9 387.2h0M85.1 387.4h0M96.6 358.7h0M85.1 381.8h0M90.3 364.6h0M85.1 386.1h0M104.9 374.8h0M57.5 387.3h0M73.2 383.8h0M107.5 387.3h0M72.8 370.2h0M72.9 374.5h0M97.7 383.0h0M71.0 374.7h0M97.0 387.2h0M65.1 387.2h0M90.0 372.3h0M78.3 382.7h0M85.8 386.2h0M95.5 365.2h0M79.7 380.7h0M68.6 386.0h0M85.7 384.8h0M111.8 387.0h0M79.8 384.6h0M74.0 349.2h0M89.9 358.8h0M94.7 372.2h0M99.0 382.3h0M71.3 384.6h0M79.9 371.7h0M116.6 385.6h0M72.7 354.8h0M98.9 360.6h0M89.1 386.9h0M75.1 380.6h0M72.3 357.9h0M63.3 386.4h0M104.6 374.1h0M90.3 356.6h0M95.4 358.0h0M67.2 380.1h0M76.7 387.1h0M70.2 385.4h0M102.2 387.2h0M74.8 385.7h0M79.6 383.9h0M69.0 363.5h0M65.9 373.9h0M72.0 387.1h0M85.7 385.4h0M69.2 383.8h0M98.6 387.3h0M88.6 385.4h0M89.0 369.7h0M96.5 385.9h0M66.2 379.9h0M84.5 373.5h0M90.0 387.3h0M93.6 386.5h0M101.5 387.2h0M110.6 387.3h0M85.8 363.6h0M65.8 386.3h0M99.3 385.5h0M77.2 360.9h0M80.1 371.4h0M109.4 387.3h0M80.4 372.5h0M95.8 372.5h0M95.7 363.9h0M107.9 384.8h0M80.6 369.9h0M88.3 380.6h0M74.7 382.5h0M119.4 387.2h0M100.6 387.1h0M78.8 381.7h0M100.5 386.0h0M73.0 361.8h0M78.2 356.7h0M84.9 373.5h0M94.4 352.6h0M95.6 383.8h0M70.4 365.7h0M68.8 380.6h0M72.1 386.7h0M69.7 386.5h0M106.3 386.7h0M79.7 373.8h0M98.2 387.3h0M99.0 379.9h0M99.1 370.4h0M75.1 383.2h0M89.8 369.5h0M78.3 380.3h0M72.2 385.7h0M76.5 387.1h0M89.7 387.0h0M89.7 351.3h0M70.9 384.9h0M76.0 384.9h0M73.6 385.1h0M86.5 387.3h0M104.1 385.3h0M75.5 356.7h0M73.2 385.6h0M74.9 369.6h0M78.8 387.1h0M85.1 360.0h0M100.1 366.5h0M72.2 384.3h0M102.4 387.2h0M77.4 380.9h0M73.5 381.4h0M85.9 374.7h0M102.2 369.7h0M78.9 365.9h0M86.3 386.8h0M90.0 384.1h0M68.7 362.9h0M57.8 383.6h0M84.9 357.5h0M100.6 369.9h0M78.0 384.9h0M88.6 358.2h0M75.5 368.2h0M78.5 384.4h0M100.5 386.3h0M90.3 348.8h0M77.0 387.3h0M76.8 387.1h0M63.4 384.1h0M74.2 359.7h0M94.6 387.1h0M73.1 387.2h0M77.4 387.1h0M88.9 387.3h0M84.8 387.0h0M99.3 382.6h0M112.6 387.1h0M88.8 352.5h0M104.2 371.7h0M80.4 387.1h0M71.5 384.3h0M86.5 387.2h0M97.7 386.2h0M93.7 351.0h0M74.8 370.6h0M71.3 385.5h0M101.4 372.9h0M80.5 387.1h0M88.9 365.3h0M80.2 386.3h0M67.0 385.6h0M67.8 385.4h0M84.5 386.5h0M80.0 373.2h0M55.2 382.1h0M97.3 387.2h0M106.2 387.0h0M85.0 372.1h0M84.8 365.5h0M76.0 386.9h0M89.2 373.2h0M94.1 348.2h0M71.3 387.3h0M100.7 372.7h0M93.8 359.8h0M88.3 357.3h0M89.3 382.6h0M69.2 363.8h0M79.8 382.2h0M96.2 387.0h0M96.1 368.5h0M97.3 350.3h0M71.9 383.3h0M86.4 372.0h0M120.1 385.6h0M106.4 386.8h0M89.0 360.8h0M89.6 386.0h0M80.1 387.3h0M76.6 373.4h0M93.6 386.0h0M79.7 384.3h0M70.2 387.1h0M75.3 369.2h0M73.6 386.3h0M89.1 384.4h0M79.8 382.9h0M84.5 381.8h0M89.1 384.5h0M67.1 380.5h0M66.4 362.3h0M95.9 368.6h0M74.8 379.8h0M86.6 349.8h0M96.1 367.1h0M86.7 387.2h0M76.5 385.5h0M74.4 383.9h0M98.6 374.5h0M96.4 370.4h0M94.2 387.0h0M98.4 387.2h0M86.2 386.9h0M85.7 387.2h0M71.6 385.5h0M80.1 386.6h0M69.4 387.0h0M76.4 374.1h0M64.1 382.9h0M94.8 387.3h0M74.6 368.9h0M103.3 386.7h0M77.5 382.2h0M85.4 384.0h0M110.6 385.9h0M70.5 382.2h0M79.3 387.1h0M90.0 369.0h0M80.8 383.4h0M105.0 382.6h0M102.4 385.6h0M88.3 387.3h0M69.7 381.5h0M100.1 386.9h0M98.1 385.0h0M65.5 380.3h0M94.8 361.9h0M79.0 353.0h0M95.4 387.1h0M97.1 364.7h0M66.6 361.4h0M70.1 370.1h0M88.9 351.4h0M84.7 383.3h0M74.8 383.0h0M95.3 385.9h0M89.3 368.3h0M79.9 386.5h0M84.5 360.4h0M75.7 362.1h0M69.9 383.6h0M85.9 382.5h0M74.5 369.6h0M93.6 365.1h0M72.6 383.7h0M89.3 385.5h0M100.2 387.1h0M88.9 386.9h0M98.5 364.3h0M84.9 386.3h0M73.3 381.6h0M104.5 387.2h0M68.3 381.0h0M70.3 387.0h0M71.9 374.7h0M80.8 369.8h0M85.6 368.4h0M77.5 371.7h0M107.4 383.5h0M85.2 386.9h0M96.6 387.3h0M102.4 387.3h0M66.0 359.0h0M110.3 384.2h0M85.7 382.4h0M75.2 380.0h0M64.5 381.3h0M98.4 384.8h0M86.6 351.7h0M95.4 351.0h0M94.3 387.0h0M95.9 368.0h0M84.5 387.0h0M93.8 380.1h0M79.7 384.3h0M89.3 382.5h0M88.6 386.9h0M79.2 364.3h0M64.8 386.9h0M77.7 367.9h0M101.9 387.0h0M78.5 380.2h0M69.7 353.6h0M68.0 384.2h0M106.7 386.2h0M85.5 360.7h0M70.0 372.5h0M80.7 363.6h0M101.7 387.1h0M84.9 387.1h0M89.0 366.2h0M97.2 370.4h0M95.7 385.3h0M90.3 387.3h0M80.6 341.8h0M63.8 387.2h0M105.1 387.0h0M74.6 374.2h0M78.7 386.6h0M107.9 387.2h0M80.7 387.3h0M89.7 385.1h0M96.2 374.5h0M75.5 385.3h0M108.4 370.8h0M89.3 349.2h0M79.9 372.1h0M75.2 383.9h0M77.6 382.5h0M89.8 361.8h0M86.0 381.0h0M72.6 385.7h0M85.9 350.2h0M69.1 387.0h0M71.4 368.6h0M89.0 387.4h0M109.1 386.4h0M90.2 370.5h0M90.0 349.6h0M100.5 366.4h0M79.9 381.0h0M56.1 383.0h0M106.5 381.3h0M74.3 354.1h0M74.2 350.7h0M86.1 369.4h0M65.2 384.6h0M101.2 364.8h0M80.7 387.0h0M72.9 387.3h0M79.8 369.2h0M78.8 384.8h0M62.0 384.6h0M90.3 363.4h0M78.4 387.0h0M67.7 383.3h0M72.8 384.0h0M63.8 387.2h0M74.9 387.3h0M98.2 362.1h0M88.8 362.0h0M76.2 386.9h0M96.0 374.4h0M105.1 386.1h0M93.7 366.8h0M68.7 380.9h0M73.4 371.7h0M98.4 374.3h0M98.0 354.4h0M88.9 385.7h0M103.7 370.0h0M80.2 363.1h0M73.0 384.7h0M90.1 371.8h0M72.0 373.7h0M112.3 387.4h0M78.7 366.1h0M88.2 380.4h0M94.2 383.3h0M107.2 374.4h0M63.1 384.0h0M89.8 373.8h0M84.8 363.0h0M88.9 353.7h0M117.6 385.5h0M108.1 387.2h0M89.5 351.5h0M77.4 387.2h0M90.0 381.6h0M72.2 385.0h0M86.2 371.6h0M103.0 386.6h0M67.5 387.3h0M72.5 380.8h0M90.1 385.9h0M88.9 356.7h0M71.4 369.4h0M88.7 385.7h0M85.9 353.7h0M94.8 386.4h0M65.2 379.9h0M70.5 384.2h0M96.9 373.4h0M93.9 363.2h0M84.7 387.2h0M109.5 387.4h0M85.7 387.3h0M85.5 384.2h0M88.7 386.9h0M67.9 385.7h0M77.6 387.1h0M74.8 361.3h0M96.7 385.5h0M103.7 386.2h0M109.2 385.8h0M68.4 384.3h0M90.1 359.5h0M70.8 365.0h0M109.9 387.1h0M102.9 380.6h0M72.2 386.9h0M70.7 384.6h0M85.5 348.8h0M73.3 385.5h0M66.1 360.8h0M99.1 387.0h0M99.3 387.1h0M97.9 358.4h0M73.4 387.2h0M104.3 374.6h0M105.7 365.4h0M97.9 367.6h0M89.8 386.4h0M72.8 366.3h0M85.1 368.0h0M79.2 364.6h0M70.1 360.4h0M68.9 385.0h0M85.7 387.4h0M99.6 380.2h0M99.9 382.2h0M79.4 386.7h0M76.2 370.4h0M103.8 372.3h0M78.0 387.4h0M98.4 387.4h0M111.3 387.3h0M66.2 387.2h0M84.7 360.2h0M101.6 387.4h0M75.0 387.0h0M109.0 385.7h0M71.8 387.0h0M110.1 382.4h0M63.8 386.8h0M102.9 386.4h0M86.1 357.6h0M58.9 381.7h0M108.9 369.2h0M65.0 383.3h0M70.0 387.3h0M85.7 384.8h0M84.6 366.8h0M103.0 384.2h0M86.5 370.1h0M102.9 382.4h0M103.0 386.8h0M90.3 387.4h0M60.9 382.1h0M98.1 387.1h0M80.5 387.1h0M78.1 360.4h0M68.9 364.1h0M86.4 368.9h0M115.2 387.2h0M89.5 368.7h0M95.9 384.2h0M77.4 387.1h0M80.8 382.2h0M85.5 384.1h0M75.0 371.3h0M75.9 387.0h0M107.2 384.5h0M85.1 387.0h0M74.3 380.8h0M98.4 364.4h0M102.2 386.7h0M76.8 348.7h0M70.1 383.4h0M70.2 353.5h0M97.3 369.8h0M71.9 383.5h0M65.0 374.7h0M77.2 369.3h0M77.5 382.1h0M67.4 387.0h0M89.1 370.4h0M54.1 386.9h0M89.2 374.7h0M78.4 372.9h0M85.7 363.2h0M59.3 387.1h0M100.6 384.4h0M56.5 385.0h0M94.9 387.0h0M85.5 372.9h0M80.8 383.0h0M70.6 359.9h0M85.3 371.4h0M73.9 385.3h0M74.6 383.0h0M74.4 381.3h0M99.8 368.0h0M107.8 382.8h0M105.1 367.4h0M94.3 387.1h0M88.4 383.0h0M75.5 382.7h0M95.6 371.1h0M102.4 385.6h0M89.2 385.0h0M85.7 373.0h0M88.2 349.0h0M97.7 351.4h0M76.4 359.6h0M94.7 386.4h0M75.9 367.6h0M99.3 381.8h0M72.5 370.0h0M72.0 387.2h0M72.9 387.2h0M99.6 387.2h0M78.6 359.3h0M75.3 387.4h0M95.3 387.3h0M71.0 370.1h0M77.7 349.6h0M84.9 348.6h0M78.9 381.2h0M98.2 386.3h0M101.3 386.3h0M71.0 364.2h0M88.4 385.2h0M97.3 387.2h0M74.1 387.1h0M72.3 372.1h0M85.4 380.9h0M96.0 385.5h0M76.7 364.0h0M98.7 355.6h0M100.0 359.9h0M109.6 387.4h0M88.5 364.6h0M79.9 387.3h0M101.9 367.1h0M65.7 386.9h0M85.5 385.2h0M72.4 382.9h0M85.8 352.4h0M109.1 387.0h0M71.3 387.3h0M93.8 387.3h0M75.5 386.9h0M114.2 384.2h0M89.8 387.1h0M67.8 386.8h0M95.5 381.0h0M89.4 387.0h0M95.2 387.4h0M114.5 384.1h0M89.7 382.0h0M86.2 381.7h0M89.2 386.0h0M79.0 374.2h0M69.7 386.7h0M80.5 369.3h0M94.3 371.0h0M95.2 383.0h0M66.2 380.8h0M111.1 382.8h0M75.8 372.2h0M89.5 358.4h0M94.6 384.0h0M94.3 385.3h0M85.8 365.2h0M103.4 387.1h0M88.7 387.2h0M99.9 381.9h0M89.7 382.3h0M108.7 386.5h0M76.1 371.1h0M86.3 387.2h0M74.0 384.8h0M103.4 370.9h0M76.5 387.2h0M61.7 380.2h0M71.4 369.8h0M101.9 379.9h0M85.0 366.5h0M84.6 356.2h0M104.0 382.8h0M79.8 353.7h0M85.2 386.5h0M77.8 357.3h0M78.8 383.5h0M76.4 364.2h0M95.6 380.2h0M95.9 358.3h0M71.3 387.0h0M70.9 365.0h0M75.3 382.8h0M71.4 386.0h0M68.8 371.6h0M72.0 381.9h0M74.6 355.2h0M116.7 381.5h0M73.1 385.2h0M66.2 387.1h0M103.0 381.4h0M80.1 380.7h0M67.7 371.8h0M86.6 358.7h0M94.3 357.5h0M76.9 387.3h0M54.9 383.7h0M68.9 387.1h0M68.4 386.7h0M70.4 365.2h0M77.2 380.7h0M69.4 374.6h0M95.1 356.3h0M73.9 355.7h0M106.0 381.0h0M74.3 362.0h0M97.5 387.2h0M86.0 366.5h0M64.8 387.4h0M79.9 370.0h0M84.9 379.9h0M100.3 374.3h0M67.3 368.5h0M76.7 387.4h0M97.4 381.1h0M76.2 356.4h0M96.0 371.7h0M66.0 374.3h0M107.4 386.3h0M89.8 363.6h0M85.0 387.0h0M58.3 386.7h0M62.0 366.8h0M85.9 373.7h0M67.0 386.4h0M63.7 384.4h0M105.0 379.9h0M85.1 374.0h0M76.9 365.9h0M60.8 373.5h0M86.0 360.2h0M65.6 387.1h0M89.2 387.0h0M85.1 386.9h0M78.6 384.9h0M110.0 373.7h0M90.3 349.4h0M65.5 387.4h0M93.8 372.2h0M88.4 369.0h0M89.3 366.2h0M104.2 387.3h0M102.2 381.3h0M65.4 387.0h0M99.3 372.6h0M90.0 387.1h0M72.5 365.4h0M89.4 357.5h0M73.2 387.2h0M70.6 382.8h0M89.2 371.0h0M85.0 349.7h0M124.9 386.2h0M65.8 386.7h0M61.6 386.1h0M58.7 371.2h0M96.8 387.2h0M100.5 381.8h0M75.4 386.9h0M71.1 387.3h0M75.7 372.3h0M106.6 387.4h0M65.5 385.2h0M86.2 387.3h0M85.9 385.1h0M73.6 363.7h0M96.8 368.6h0M73.1 370.4h0M77.3 355.2h0M78.5 366.7h0M75.0 360.3h0M70.1 381.2h0M89.3 382.0h0M89.3 385.1h0M68.9 387.1h0M85.4 358.9h0M97.1 380.5h0M78.2 386.7h0M88.3 385.5h0M110.3 386.7h0M85.7 386.4h0M89.1 359.1h0M86.7 360.1h0M67.9 380.1h0M89.1 385.4h0M71.1 362.0h0M76.1 374.3h0M103.4 368.1h0M89.0 387.3h0M75.1 346.8h0M95.0 387.0h0M73.0 363.9h0M116.0 385.6h0M71.5 384.6h0M85.5 363.8h0M90.3 366.4h0M85.6 364.9h0M73.7 356.8h0M73.0 369.2h0M68.7 379.9h0M78.5 387.4h0M90.0 387.0h0M73.1 363.9h0M86.6 368.6h0M66.1 387.2h0M73.6 387.1h0M73.9 373.6h0M78.1 348.8h0M90.2 353.1h0M69.5 387.2h0M79.8 387.2h0M79.9 367.5h0M76.8 380.8h0M99.7 385.7h0M71.0 381.0h0M86.3 371.2h0M95.8 366.6h0M103.5 386.6h0M70.1 383.2h0M86.0 353.7h0M64.6 384.8h0M89.0 387.0h0M77.4 387.4h0M74.6 368.4h0M94.8 373.4h0M73.3 387.3h0M79.8 367.5h0M68.3 383.3h0M127.3 385.3h0M85.9 382.8h0M71.9 373.8h0M106.7 370.5h0M67.7 383.4h0M94.5 371.8h0M67.0 387.1h0M70.7 387.0h0M94.1 383.0h0M96.5 358.6h0M70.2 386.8h0M68.4 384.4h0M96.5 386.9h0M104.7 387.1h0M94.3 387.3h0M80.4 372.3h0M89.1 358.5h0M85.1 363.7h0M123.1 385.4h0M60.1 368.4h0M95.7 382.0h0M74.8 387.3h0M78.4 371.9h0M111.2 384.2h0M72.3 386.9h0M98.9 383.5h0M70.6 366.2h0M84.9 369.5h0M74.9 385.8h0M79.5 387.0h0M106.0 370.5h0M78.4 366.1h0M68.8 384.4h0M66.0 380.4h0M79.7 382.3h0M74.5 348.6h0M111.1 386.8h0M86.6 354.0h0M94.9 382.8h0M70.0 380.3h0M67.2 387.3h0M111.1 387.1h0M85.5 386.6h0M88.4 363.2h0M85.9 374.4h0M78.0 384.7h0M61.0 383.2h0M88.5 362.6h0M107.1 382.1h0M70.7 387.4h0M99.1 385.1h0M76.4 366.6h0M66.9 380.4h0M84.9 384.2h0M85.9 379.9h0M85.9 386.4h0M85.8 387.3h0M86.4 361.4h0M95.4 373.8h0M71.6 382.2h0M86.6 387.0h0M94.2 383.5h0M80.0 386.2h0M68.8 370.2h0M97.1 367.4h0M80.5 368.0h0M61.7 385.5h0M79.1 362.6h0M86.1 368.1h0M100.9 361.3h0M89.4 352.3h0M76.0 372.4h0M85.2 386.5h0M70.9 380.3h0M76.2 386.6h0M90.4 357.2h0M74.5 348.1h0M65.7 386.9h0M99.8 365.4h0M96.7 360.7h0M115.2 383.8h0M107.5 386.2h0M100.4 380.0h0M119.9 382.4h0M76.8 387.1h0M102.0 382.8h0M84.6 357.1h0M101.8 383.9h0M94.7 387.0h0M77.4 387.3h0M86.4 387.3h0M62.2 368.8h0M88.6 364.7h0M101.0 387.0h0M85.5 387.1h0M77.5 369.8h0M71.0 381.2h0M63.5 387.3h0M65.4 384.4h0M76.4 372.7h0M79.1 362.5h0M79.4 387.4h0M73.4 386.4h0M100.6 370.5h0M64.0 387.1h0M70.8 386.9h0M60.2 386.4h0M86.4 385.9h0M71.1 383.8h0M61.8 374.1h0M88.3 350.8h0M85.7 380.8h0M74.0 387.0h0M89.7 386.9h0M105.7 383.2h0M97.6 387.2h0M71.7 361.0h0M72.8 384.4h0M70.8 382.0h0M68.9 374.8h0M99.8 371.7h0M96.9 370.9h0M79.4 368.1h0M95.5 366.8h0M71.2 370.7h0M65.9 386.7h0M76.3 380.2h0M115.3 373.0h0M94.6 387.2h0M62.1 386.9h0M66.3 385.1h0M100.4 387.1h0M88.6 385.2h0M72.1 371.5h0M85.1 386.9h0M85.3 371.7h0M61.6 383.1h0M89.6 381.4h0M109.2 369.0h0M103.7 373.7h0M89.9 373.3h0M98.0 361.6h0M99.8 374.9h0M90.2 387.3h0M75.5 362.3h0M78.7 366.1h0M74.1 373.7h0M86.0 387.1h0M108.2 387.1h0M74.6 368.8h0M98.8 364.5h0M73.0 372.2h0M102.9 380.9h0M80.3 387.4h0M76.4 365.1h0M86.4 387.3h0M88.4 374.7h0M77.1 346.8h0M73.2 368.7h0M79.0 380.8h0M53.7 387.3h0M85.0 370.0h0M106.3 386.6h0M102.0 366.8h0M86.4 359.8h0M100.6 386.9h0M60.9 380.6h0M74.4 351.5h0M103.1 373.3h0M76.9 387.0h0M54.3 384.0h0M79.9 386.2h0M96.0 387.2h0M78.6 380.8h0M59.7 387.2h0M113.5 374.6h0M101.8 386.3h0M86.2 387.1h0M94.0 385.1h0M71.6 382.5h0M78.2 380.2h0M80.6 384.5h0M90.0 353.4h0M89.5 387.2h0M70.1 357.4h0M104.5 380.8h0M79.1 373.3h0M73.9 381.3h0M96.8 360.7h0M90.2 387.2h0M69.2 384.2h0M90.2 359.7h0M51.0 385.3h0M69.3 373.8h0M71.9 386.9h0M80.3 385.1h0M89.6 370.5h0M101.6 386.5h0M100.1 358.8h0M85.9 363.2h0M61.0 385.5h0M86.3 372.0h0M89.3 386.0h0M76.0 381.9h0M105.3 385.9h0M75.5 374.5h0M73.1 386.4h0M104.6 380.4h0M66.8 385.5h0M78.7 387.0h0M59.7 386.9h0M77.1 352.7h0M77.1 350.7h0M73.1 386.9h0M68.4 369.5h0M90.1 352.5h0M65.0 370.7h0M76.6 387.2h0M85.6 358.1h0M106.8 387.0h0M101.5 385.8h0M104.8 382.6h0M77.7 380.3h0M97.8 386.5h0M73.4 380.0h0M101.1 381.4h0M79.8 387.1h0M89.2 387.1h0M77.8 357.9h0M78.4 382.5h0M89.7 374.1h0M67.1 365.8h0M76.2 370.7h0M85.8 387.0h0M72.5 358.3h0M77.0 370.5h0M63.6 375.0h0M104.4 387.0h0M84.8 350.9h0M61.3 387.2h0M95.7 355.8h0M69.4 387.1h0M95.3 353.4h0M93.6 374.3h0M103.4 372.4h0M88.8 387.2h0M84.6 356.5h0M89.9 363.3h0M85.1 374.3h0M85.6 357.7h0M102.3 383.6h0M85.1 381.7h0M74.3 361.9h0M109.9 386.5h0M96.4 370.3h0M97.5 371.8h0M74.8 386.6h0M95.0 386.9h0M93.8 386.9h0M69.9 387.3h0M107.2 385.7h0M98.2 383.4h0M96.5 367.9h0M98.9 386.9h0M68.3 386.9h0M75.5 387.3h0M106.6 383.5h0M103.5 382.0h0M69.7 371.0h0M102.5 380.6h0M108.0 386.3h0M75.9 370.3h0M85.1 363.7h0M72.0 364.7h0M79.9 357.3h0M75.6 371.9h0M104.8 363.2h0M61.6 387.2h0M85.6 363.6h0M68.2 382.8h0M99.1 387.0h0M89.8 355.6h0M95.8 387.3h0M80.3 386.6h0M61.8 368.5h0M85.6 387.3h0M88.7 384.7h0M74.5 365.3h0M70.7 386.5h0M96.1 387.0h0M101.7 373.3h0M65.6 371.5h0M88.5 384.9h0M80.8 358.8h0M77.2 384.2h0M79.3 364.3h0M121.0 387.1h0M62.7 373.0h0M72.3 381.1h0M89.4 369.6h0M105.4 374.1h0M70.7 374.8h0M65.0 386.9h0M86.4 363.7h0M109.4 387.2h0M79.0 387.1h0M66.5 387.0h0M95.0 387.1h0M96.1 387.3h0M77.1 382.8h0M69.9 382.4h0M80.5 387.3h0M73.1 374.2h0M72.6 387.1h0M90.1 358.5h0M78.8 385.1h0M98.0 382.2h0M84.9 386.2h0M98.2 387.0h0M77.3 368.8h0M56.2 385.9h0M89.8 386.0h0M84.8 367.8h0M71.6 370.7h0M115.2 383.6h0M69.3 382.2h0M84.9 387.0h0M102.2 385.2h0M78.5 387.2h0M67.1 385.7h0M86.4 381.9h0M74.6 386.9h0M76.8 367.8h0M105.9 363.5h0M77.3 368.9h0M109.3 386.0h0M88.8 353.3h0M100.5 372.4h0M77.4 380.4h0M74.1 385.8h0M89.8 387.4h0M106.7 384.4h0M101.6 387.3h0M86.5 361.1h0M95.8 360.2h0M94.7 387.4h0M78.3 387.1h0M97.9 360.8h0M89.7 387.3h0M71.7 386.9h0M86.6 351.4h0M86.2 348.5h0M108.2 387.0h0M57.4 380.0h0M94.3 387.2h0M72.4 360.1h0M80.2 371.1h0M97.8 366.8h0M85.4 385.5h0M115.0 387.2h0M64.5 383.2h0M72.0 387.2h0M89.2 386.5h0M103.7 387.3h0M89.8 387.4h0M66.6 380.3h0M86.3 370.4h0M86.7 367.4h0M56.8 384.5h0M80.5 370.4h0M90.4 387.4h0M85.5 386.0h0M79.3 383.8h0M78.1 339.3h0M58.4 387.2h0M88.3 383.4h0M71.8 365.2h0M72.6 356.2h0M77.1 360.2h0M104.5 386.8h0M72.6 386.0h0M106.5 386.3h0M90.2 385.5h0M86.5 382.2h0M107.8 381.8h0M89.4 370.7h0M75.6 387.0h0M69.6 366.4h0M71.2 387.2h0M112.1 380.1h0M60.0 387.1h0M73.8 355.8h0M97.1 387.0h0M98.1 383.6h0M89.9 387.3h0M77.6 370.0h0M86.7 386.6h0M100.2 365.9h0M90.3 373.2h0M58.6 384.1h0M77.9 387.3h0M100.8 373.1h0M79.8 383.8h0M86.2 387.3h0M70.6 380.4h0M72.2 372.8h0M96.8 387.0h0M96.1 386.9h0M79.4 366.9h0M72.8 374.0h0M89.7 387.2h0M90.0 385.6h0M94.7 369.5h0M95.5 380.1h0M99.5 365.5h0M94.1 383.4h0M97.0 381.2h0M75.9 381.0h0M99.3 386.5h0M100.2 383.5h0M77.7 379.8h0M90.3 387.4h0M111.4 387.3h0M76.2 360.9h0M89.8 373.3h0M74.2 386.5h0M89.0 363.9h0M79.8 360.4h0M86.5 381.3h0M85.6 386.3h0M73.6 387.2h0M100.8 385.9h0M54.1 381.3h0M53.9 386.9h0M78.0 349.6h0M66.7 369.8h0M97.4 384.8h0M75.4 366.0h0M70.8 385.5h0M95.9 385.1h0M79.8 365.8h0M100.5 381.3h0M112.8 380.9h0M73.7 386.6h0M79.9 372.2h0M64.9 387.0h0M79.3 361.7h0M80.4 363.9h0M85.2 351.4h0M78.2 360.7h0M100.6 384.9h0M79.6 387.4h0M99.4 387.2h0M89.0 381.0h0M88.6 367.7h0M71.4 369.1h0M85.0 374.4h0M86.2 386.6h0M73.5 372.1h0M73.5 362.4h0M72.9 387.1h0M86.6 361.4h0M88.4 384.2h0M60.8 387.0h0M77.5 386.0h0M64.3 380.7h0M79.6 387.1h0M89.4 365.6h0M74.1 359.4h0M71.6 368.6h0M117.9 387.1h0M70.5 363.3h0M103.0 387.2h0M80.4 380.1h0M73.8 384.6h0M88.9 387.1h0M85.2 373.6h0M74.4 383.3h0M111.1 387.0h0M74.8 346.9h0M99.6 386.9h0M64.4 371.0h0M102.7 386.4h0M75.9 372.6h0M117.2 386.3h0M90.2 350.0h0M85.1 371.8h0M84.7 373.9h0M90.2 362.8h0M80.0 373.0h0M106.3 374.9h0M74.8 360.0h0M74.2 375.0h0M94.4 359.5h0M77.1 382.1h0M94.4 358.7h0M107.4 370.1h0M85.9 349.9h0M93.5 387.3h0M89.9 364.5h0M56.4 386.0h0M95.4 387.0h0M89.3 354.0h0M108.1 380.1h0M65.3 382.8h0M80.6 367.9h0M119.6 384.0h0M88.7 369.6h0M98.1 372.4h0M85.4 374.4h0M72.0 381.5h0M89.0 348.0h0M103.0 381.7h0M77.7 384.1h0M63.6 386.2h0M71.6 370.4h0M74.4 387.0h0M71.4 355.9h0M75.9 386.9h0M93.9 381.5h0M59.7 386.9h0M89.3 385.7h0M76.4 371.2h0M78.3 384.4h0M89.2 372.5h0M65.9 383.9h0M88.8 362.8h0M75.8 387.1h0M85.9 387.0h0M95.0 387.1h0M98.2 369.6h0M71.3 387.3h0M95.1 381.8h0M89.5 385.6h0M75.8 373.1h0M84.5 374.4h0M114.3 387.1h0M79.1 353.6h0M98.9 387.0h0M75.8 373.9h0M85.6 382.8h0M89.6 371.2h0M86.5 380.1h0M104.0 386.4h0M71.7 359.2h0M95.0 384.0h0M65.3 383.2h0M69.8 387.2h0M99.2 385.9h0M100.3 359.8h0M77.0 372.6h0M61.8 381.0h0M80.0 373.1h0M99.7 356.8h0M69.0 387.2h0M99.2 367.2h0M115.6 387.1h0M95.4 383.9h0M65.9 381.5h0M55.9 387.2h0M74.7 382.6h0M75.9 373.1h0M74.4 372.4h0M71.5 387.3h0M104.1 387.3h0M93.8 383.6h0M96.2 359.1h0M69.2 386.2h0M66.7 382.4h0M94.5 382.3h0M85.1 382.4h0M79.3 384.8h0M105.3 380.4h0M70.6 382.4h0M71.4 386.9h0M89.3 384.1h0M78.2 386.9h0M57.4 386.9h0M98.5 386.1h0M111.0 381.0h0M99.5 381.4h0M89.5 384.9h0M74.6 361.2h0M78.6 374.4h0M89.9 362.0h0M75.1 364.4h0M89.5 368.2h0M54.9 381.0h0M79.8 387.2h0M98.9 386.9h0M79.1 384.7h0M72.3 386.2h0M107.1 387.1h0M50.3 387.1h0M90.3 352.4h0M79.0 354.0h0M88.5 361.5h0M99.6 386.3h0M75.3 360.9h0M93.7 383.4h0M86.2 386.8h0M73.9 383.1h0M100.3 361.4h0M90.1 355.4h0M102.2 374.0h0M78.9 370.0h0M85.2 367.6h0M99.7 384.1h0M98.8 386.9h0M73.4 385.9h0M79.9 383.7h0M78.8 357.9h0M63.7 383.6h0M79.3 365.7h0M75.9 369.1h0M74.9 382.5h0M88.4 386.9h0M74.2 358.7h0M72.4 381.1h0M63.6 383.6h0M71.9 383.8h0M57.3 386.6h0M89.8 360.3h0M88.7 367.5h0M93.9 372.6h0M106.1 383.4h0M73.2 368.0h0M84.8 350.1h0M70.6 382.0h0M70.0 380.3h0M86.7 369.9h0M88.6 371.6h0M72.2 387.0h0M88.5 382.5h0M109.3 387.2h0M80.3 387.2h0M74.4 387.1h0M76.8 387.2h0M88.4 386.2h0M77.4 361.7h0M96.2 382.2h0M73.5 380.5h0M102.8 385.7h0M78.1 383.7h0M56.4 387.1h0M79.2 362.1h0M71.4 369.6h0M103.9 380.5h0M115.0 387.3h0M77.4 362.8h0M96.3 373.4h0M69.2 366.2h0M85.5 359.8h0M97.6 387.0h0M97.2 386.2h0M109.1 386.5h0M84.7 371.8h0M64.4 386.5h0M89.9 387.3h0M74.4 387.1h0M66.3 385.9h0M79.5 368.9h0M115.2 385.5h0M79.3 387.4h0M79.5 386.6h0M98.6 386.9h0M86.3 352.3h0M112.6 383.4h0M65.7 385.2h0M73.9 366.8h0M97.5 358.1h0M78.0 387.3h0M97.4 387.0h0M76.6 382.7h0M63.6 385.5h0M89.6 384.4h0M61.2 383.6h0M89.8 387.4h0M101.7 386.9h0M66.5 369.1h0M78.7 349.1h0M75.2 387.0h0M74.0 372.0h0M77.4 373.0h0M66.0 387.0h0M89.8 382.6h0M68.0 387.2h0M75.6 385.4h0M88.8 380.8h0M98.3 387.3h0M73.0 385.9h0M106.1 380.0h0M98.4 357.6h0M72.9 382.1h0M80.1 384.5h0M70.9 386.4h0M99.9 386.3h0M85.5 368.5h0M88.4 371.6h0M62.5 381.8h0M70.6 372.2h0M106.1 364.9h0M72.7 368.8h0M72.3 364.2h0M67.5 373.4h0M86.4 386.9h0M62.9 385.3h0M68.9 381.5h0M80.8 374.2h0M74.3 373.4h0M69.0 373.3h0M101.8 387.2h0M89.3 371.2h0M69.1 384.4h0M73.6 387.1h0M88.7 382.9h0M67.4 374.9h0M97.4 363.6h0M72.6 383.8h0M122.8 387.1h0M64.1 381.8h0M84.8 373.7h0M70.1 384.3h0M69.7 382.4h0M73.6 387.2h0M55.0 387.2h0M75.1 387.3h0M88.9 364.2h0M70.0 387.1h0M86.4 353.5h0M112.7 384.5h0M78.4 359.2h0M89.1 370.9h0M72.6 382.4h0M115.0 387.1h0M80.4 383.9h0M70.3 381.6h0M55.7 386.8h0M90.3 373.8h0M77.8 387.3h0M76.2 384.8h0M93.6 353.6h0M108.2 387.0h0M95.4 383.0h0M74.8 384.9h0M66.8 386.3h0M98.3 363.0h0M74.6 345.7h0M77.9 373.3h0M99.4 387.1h0M89.5 353.1h0M78.2 387.3h0M73.8 387.0h0M76.3 385.7h0M54.6 386.9h0M111.1 385.9h0M70.0 360.3h0M69.2 367.6h0M71.8 381.9h0M78.3 382.6h0M86.5 380.7h0M73.6 385.9h0M94.9 385.6h0M72.3 386.0h0M80.2 383.9h0M89.8 385.5h0M78.3 387.1h0M65.2 387.2h0M106.6 366.0h0M100.2 382.1h0M79.0 353.3h0M86.6 384.5h0M86.4 385.2h0M86.2 382.8h0M69.5 386.4h0M80.1 370.2h0M73.3 374.3h0M73.0 387.4h0M108.7 383.1h0M88.6 358.3h0M94.4 387.0h0M76.7 370.6h0M95.8 385.2h0M76.9 380.3h0M94.3 373.6h0M90.1 385.1h0M90.4 358.8h0M99.0 371.3h0M95.3 383.2h0M99.2 371.1h0M75.0 372.3h0M84.8 351.1h0M59.3 383.6h0M96.1 386.8h0M73.3 364.2h0M86.1 387.2h0M106.2 385.8h0M70.1 372.6h0M89.3 387.0h0M89.5 367.4h0M74.3 386.9h0M96.6 387.2h0M106.5 384.0h0M58.8 385.1h0M104.5 382.1h0M88.6 381.5h0M84.6 385.3h0M70.6 380.1h0M69.4 370.1h0M97.5 386.5h0M96.8 359.2h0M88.3 384.5h0M68.3 383.6h0M75.6 371.0h0M102.7 384.2h0M103.6 385.4h0M79.7 382.2h0M99.0 374.8h0M80.3 384.2h0M96.9 387.1h0M79.3 380.2h0M89.8 386.9h0M100.2 387.3h0M74.4 386.5h0M98.7 383.0h0M98.0 386.7h0M98.9 385.7h0M79.6 343.3h0M85.8 382.2h0M88.9 387.0h0M79.6 385.2h0M90.4 362.7h0M99.4 369.5h0M84.7 381.7h0M88.8 358.7h0M95.6 379.9h0M76.5 358.6h0M96.6 374.8h0M75.1 386.2h0M65.4 382.7h0M105.8 362.5h0M102.7 366.0h0M97.3 364.0h0M112.6 387.2h0M69.6 387.3h0M104.9 387.1h0M103.6 386.9h0M77.5 387.3h0M93.5 381.0h0M69.6 366.1h0M71.2 369.9h0M62.6 386.9h0M99.0 356.5h0M78.3 357.8h0M86.4 386.5h0M74.3 349.8h0M75.6 385.9h0M86.4 382.5h0M77.4 386.8h0M72.1 386.5h0M77.1 384.5h0M73.8 363.1h0M89.0 381.0h0M52.2 386.9h0M79.5 347.9h0M67.2 370.8h0M89.9 381.9h0M93.4 366.0h0M97.0 385.3h0M84.7 357.8h0M100.0 386.0h0M88.4 357.3h0M61.1 382.0h0M79.9 369.9h0M71.4 358.1h0M102.4 384.2h0M74.2 362.8h0M94.3 381.6h0M96.7 387.0h0M65.8 366.9h0M96.2 368.4h0M102.1 366.6h0M88.6 366.1h0M89.2 387.3h0M85.1 370.4h0M94.3 387.2h0M65.4 366.6h0M79.1 340.5h0M96.7 371.1h0M94.4 380.6h0M71.9 379.8h0M85.4 385.9h0M70.4 380.3h0M96.2 387.2h0M64.6 381.4h0M100.3 387.2h0M74.7 382.7h0M100.0 384.4h0M79.2 383.6h0M70.2 387.0h0M89.3 386.2h0M101.7 387.1h0M84.5 349.3h0M88.6 368.7h0M76.2 359.1h0M90.0 385.2h0M67.7 372.3h0M79.8 362.8h0M79.4 350.1h0M89.3 365.0h0M85.2 351.9h0M115.4 384.5h0M96.2 386.6h0M62.9 387.4h0M71.3 387.3h0M94.8 371.3h0M89.8 386.9h0M93.8 382.7h0M65.9 371.4h0M86.7 382.0h0M69.1 356.9h0M77.9 362.5h0M105.6 386.6h0M61.6 383.1h0M85.6 385.9h0M79.2 363.7h0M73.5 386.5h0M111.7 381.4h0M56.4 387.0h0M85.9 387.3h0M86.7 359.1h0M98.0 385.6h0M96.9 387.2h0M63.2 387.1h0M71.0 351.4h0M100.5 383.0h0M89.2 387.2h0M70.1 381.8h0M80.7 387.3h0M89.3 372.8h0M70.9 372.2h0M74.5 361.6h0M98.4 387.0h0M85.5 387.2h0M86.6 362.1h0M59.9 385.7h0M76.7 387.0h0M72.3 387.0h0M68.9 383.7h0M77.0 354.1h0M88.9 382.9h0M99.2 387.0h0M67.5 387.1h0M85.4 384.2h0M75.8 382.3h0M88.6 357.7h0M106.1 387.1h0M73.7 371.3h0M98.7 364.2h0M75.8 383.9h0M117.5 387.1h0M80.8 357.2h0M97.2 366.4h0M75.4 384.2h0M69.2 380.5h0M100.1 372.5h0M99.6 359.3h0M96.5 384.8h0M78.8 380.1h0M85.5 387.0h0M71.4 370.9h0M100.4 387.3h0M79.8 387.1h0M79.6 348.3h0M79.6 348.6h0M79.7 387.2h0M80.7 387.3h0M67.0 387.0h0M65.0 387.0h0M69.3 360.6h0M99.2 372.9h0M72.1 385.7h0M102.5 386.9h0M71.5 385.2h0M97.7 372.0h0M86.2 387.3h0M61.5 385.9h0M67.6 374.3h0M77.9 387.2h0M99.3 387.3h0M76.7 384.2h0M70.9 364.1h0M86.5 382.9h0M75.7 372.9h0M100.2 373.5h0M95.8 386.4h0M77.2 374.3h0M85.2 362.7h0M76.4 367.3h0M85.6 363.7h0M71.1 383.0h0M97.3 386.5h0M78.1 382.2h0M78.8 385.6h0M74.7 387.2h0M72.9 374.8h0M74.6 384.4h0M74.7 351.5h0M89.5 381.7h0M89.1 385.9h0M86.2 375.0h0M85.0 356.0h0M88.6 381.6h0M79.0 380.7h0M63.6 386.7h0M79.2 386.7h0M71.4 382.1h0M68.2 370.6h0M86.7 384.9h0M78.0 386.5h0M78.3 383.8h0M78.9 362.9h0M103.1 385.0h0M88.4 368.7h0M98.3 383.0h0M95.1 387.1h0M72.4 374.3h0M89.3 352.5h0M113.0 387.1h0M64.5 386.0h0M102.8 386.2h0M67.6 384.5h0M67.4 386.9h0M85.5 386.2h0M76.9 385.6h0M89.9 359.9h0M86.2 383.9h0M94.5 387.4h0M114.8 381.9h0M75.9 355.6h0M97.9 380.2h0M77.6 384.9h0M75.3 383.9h0M100.4 387.1h0M94.4 371.7h0M76.7 373.4h0M97.7 385.6h0M85.2 385.7h0M102.7 369.4h0M89.9 385.7h0M94.4 386.8h0M77.4 374.9h0M94.0 385.6h0M77.8 381.1h0M69.1 359.5h0M80.1 361.5h0M71.2 385.7h0M74.0 387.0h0M88.6 386.3h0M86.7 381.5h0M69.1 383.4h0M101.4 387.2h0M75.8 369.6h0M88.7 384.5h0M74.3 371.9h0M74.0 382.8h0M85.0 356.7h0M69.0 375.0h0M95.8 373.1h0M104.6 387.1h0M88.8 373.4h0M85.2 369.9h0M84.8 384.9h0M80.0 383.1h0M96.7 386.5h0M74.4 386.5h0M95.7 387.3h0M68.2 387.2h0M72.9 384.1h0M103.4 380.8h0M70.2 386.4h0M80.7 380.0h0M75.9 387.1h0M104.6 379.8h0M77.6 382.9h0M90.0 369.6h0M95.1 386.9h0M78.0 362.2h0M78.7 387.2h0M101.3 368.5h0M72.9 373.8h0M97.3 350.1h0M69.4 386.1h0M79.4 347.3h0M56.7 385.5h0M100.2 380.8h0M66.7 371.9h0M76.8 387.1h0M89.0 355.5h0M61.0 383.3h0M70.3 360.5h0M85.5 359.0h0M75.1 358.5h0M76.6 361.4h0M86.1 387.4h0M88.4 369.6h0M70.2 387.3h0M74.5 382.6h0M95.4 380.9h0M79.8 369.9h0M64.0 383.0h0M64.0 387.2h0M68.1 383.4h0M76.7 386.8h0M79.2 387.3h0M89.2 385.8h0M113.1 386.9h0M77.2 383.9h0M97.3 387.0h0M80.4 381.7h0M97.2 374.7h0M69.8 386.9h0M86.0 381.8h0M98.4 382.4h0M72.4 362.7h0M74.5 386.9h0M94.4 362.3h0M62.0 387.2h0M84.9 387.4h0M65.9 372.5h0M80.1 385.4h0M73.8 382.1h0M86.6 384.0h0M79.3 355.3h0M108.5 384.2h0M73.5 366.7h0M88.7 362.5h0M88.6 360.0h0M110.3 385.1h0M77.3 385.6h0M84.7 360.5h0M60.5 387.3h0M88.2 385.2h0M80.4 353.6h0M85.4 359.3h0M75.0 380.2h0M98.2 381.5h0M79.0 343.9h0M65.3 387.2h0M79.8 380.5h0M70.0 361.2h0M75.6 363.3h0M96.9 357.2h0M74.1 361.2h0M89.4 383.0h0M106.1 384.4h0M107.8 380.7h0M89.7 350.2h0M79.8 374.7h0M94.6 385.1h0M74.7 366.3h0M79.4 380.0h0M86.5 384.7h0M99.1 386.3h0M85.0 382.3h0M80.5 384.3h0M77.6 352.6h0M96.6 386.9h0M93.5 385.8h0M99.9 387.4h0M85.9 349.0h0M102.5 387.3h0M98.0 387.0h0M65.7 386.6h0M75.9 361.9h0M97.2 382.9h0M84.9 351.3h0M93.6 382.3h0M100.8 387.3h0M72.0 381.0h0M73.7 387.1h0M84.7 382.7h0M79.9 368.0h0M96.2 356.6h0M67.1 387.2h0M75.6 361.3h0M93.9 358.4h0M78.8 370.6h0M79.3 354.4h0M77.0 348.7h0M98.7 387.1h0M94.3 367.5h0M71.4 367.4h0M79.3 355.6h0M107.9 383.2h0M78.0 364.4h0M85.5 383.7h0M65.2 386.7h0M101.6 365.9h0M85.2 384.2h0M110.0 387.1h0M72.8 369.7h0M90.3 373.3h0M86.1 368.5h0M70.0 383.1h0M75.1 387.3h0M60.8 384.6h0M63.8 381.0h0M90.1 370.9h0M86.0 385.8h0M106.8 382.7h0M109.4 386.2h0M78.5 370.9h0M74.6 372.2h0M97.9 379.8h0M89.4 384.7h0M88.9 363.7h0M88.8 364.6h0M80.4 384.9h0M72.5 383.0h0M88.7 382.9h0M73.3 367.9h0M89.8 372.9h0M85.3 371.4h0M76.9 384.3h0M74.7 380.0h0M102.5 372.6h0M65.1 386.6h0M75.3 373.6h0M74.5 369.1h0M114.4 385.9h0M105.7 384.7h0M95.4 367.1h0M79.5 385.6h0M109.6 384.2h0M98.2 365.5h0M66.6 385.8h0M108.7 386.0h0M73.7 387.0h0M61.2 387.0h0M79.3 359.6h0M72.3 365.1h0M78.0 366.7h0M94.7 387.4h0M80.1 346.5h0M77.2 374.6h0M85.8 374.5h0M110.5 386.7h0M94.7 387.2h0M85.9 387.0h0M99.4 373.4h0M72.7 380.5h0M96.7 387.2h0M90.3 373.0h0M98.2 384.7h0M105.1 386.5h0M85.3 372.6h0M51.4 387.1h0M88.5 350.2h0M111.1 370.9h0M65.5 387.4h0M65.0 387.2h0M86.1 383.8h0M73.6 374.4h0M68.9 387.2h0M70.6 384.4h0M72.2 385.2h0M78.1 371.8h0M100.7 363.8h0M88.4 387.3h0M73.2 347.0h0M73.4 383.7h0M68.3 387.2h0M95.6 387.1h0M88.9 362.0h0M70.4 387.2h0M64.1 385.1h0M79.8 386.5h0M62.3 383.1h0M85.3 387.0h0M75.1 386.1h0M78.7 387.0h0M65.1 386.1h0M100.4 386.4h0M101.2 371.0h0M88.3 380.8h0M75.1 387.2h0M86.6 368.5h0M88.5 362.3h0M100.8 387.0h0M75.3 374.6h0M115.4 386.7h0M72.2 386.1h0M69.7 386.0h0M66.5 385.1h0M100.0 362.6h0M68.5 374.1h0M85.9 361.5h0M75.2 373.9h0M79.9 361.0h0M101.2 387.3h0M107.2 374.2h0M79.1 380.9h0M75.3 352.2h0M68.1 370.7h0M97.1 386.5h0M102.3 386.0h0M65.2 382.3h0M86.5 373.0h0M79.3 387.0h0M80.0 385.9h0M78.2 373.9h0M79.8 372.9h0M94.0 371.4h0M70.5 369.5h0M96.3 384.0h0M79.9 385.2h0M89.9 387.1h0M70.9 370.1h0M94.0 374.6h0M89.1 370.8h0M103.3 374.3h0M77.1 381.5h0M75.5 384.5h0M86.4 356.8h0M102.2 385.6h0M100.8 368.6h0M75.7 367.3h0M105.8 383.9h0M64.5 382.4h0M86.1 370.2h0M89.4 365.5h0M71.7 385.2h0M98.8 358.3h0M95.4 353.6h0M89.6 381.8h0M84.6 358.5h0" stroke="#6a6a6a" stroke-opacity="0.22" stroke-width="1.3" stroke-linecap="round" fill="none"/>
<path d="M88.4 384.7h0M86.5 383.1h0M95.8 384.4h0M99.2 380.9h0M86.4 385.5h0M76.2 386.3h0M99.0 383.0h0M102.7 386.4h0M71.3 387.1h0M72.2 386.4h0M109.0 383.1h0M108.1 385.6h0M63.5 385.9h0M121.2 382.1h0M62.7 380.8h0M72.3 382.8h0M102.5 384.5h0M105.7 381.2h0M118.4 386.3h0M72.9 384.5h0M73.3 382.0h0M98.3 386.1h0M105.4 384.3h0M80.8 385.4h0M75.9 381.1h0M69.4 387.0h0M88.7 384.2h0M89.9 385.6h0M117.5 380.6h0M97.2 387.4h0M86.6 385.6h0M74.9 385.1h0M107.3 383.0h0M78.0 387.3h0M89.7 384.7h0M56.0 386.4h0M112.6 382.3h0M51.7 383.7h0M96.5 384.1h0M102.6 380.6h0M95.1 385.5h0M100.8 382.8h0M98.6 387.4h0M105.0 382.5h0M60.0 381.7h0M86.1 387.1h0M64.2 382.5h0M96.8 382.3h0M57.9 383.3h0M77.0 384.0h0M69.0 384.2h0M115.9 381.2h0M100.4 382.7h0M77.8 383.4h0M105.0 382.7h0M111.7 386.1h0M125.0 386.0h0M110.5 381.3h0M68.0 384.0h0M72.0 386.3h0M79.3 381.3h0M118.1 382.4h0M85.0 384.1h0M80.1 382.6h0M102.1 382.4h0M85.9 387.3h0M128.5 384.1h0M76.6 382.5h0M69.7 384.4h0M88.2 386.8h0M98.0 381.8h0M103.2 382.2h0M78.1 381.3h0M102.4 387.2h0M79.0 383.3h0M94.0 381.1h0M72.4 382.6h0M94.0 385.4h0M95.8 380.7h0M111.4 385.7h0M85.2 384.2h0M98.2 383.7h0M117.6 383.1h0M112.3 380.9h0M86.3 381.8h0M59.3 384.5h0M85.9 380.3h0M62.7 386.1h0M106.1 387.2h0M85.0 385.5h0M63.4 381.4h0M75.7 386.5h0M95.3 387.2h0M120.7 381.0h0M113.3 381.7h0M72.5 385.5h0M103.7 383.1h0M66.7 380.5h0M65.8 385.0h0M89.4 383.6h0M80.1 385.3h0M97.6 384.7h0M95.0 380.3h0M97.0 385.1h0M102.0 381.4h0M75.6 387.1h0M105.2 381.4h0M105.7 387.1h0M115.0 385.5h0M75.5 381.5h0M76.3 384.9h0M131.2 383.6h0M62.0 384.3h0M77.1 387.1h0M74.4 382.5h0M75.4 381.3h0M118.2 381.3h0M98.5 382.8h0M61.0 383.9h0M107.5 384.1h0M58.7 385.5h0M53.6 380.9h0M108.5 381.4h0M74.3 384.1h0M86.2 386.8h0M72.2 386.5h0M95.8 383.5h0M86.6 381.2h0M63.1 385.8h0M98.2 385.0h0M78.9 383.0h0M104.8 381.5h0M89.3 382.2h0M101.5 385.6h0M119.0 384.5h0M78.7 382.9h0M128.8 382.3h0M88.8 382.2h0M79.3 383.9h0M98.7 382.5h0M95.9 384.4h0M109.5 384.7h0M80.7 383.9h0M116.0 384.6h0M98.6 384.5h0M69.3 381.7h0M88.4 382.3h0M78.6 382.9h0M54.6 382.7h0M90.0 386.2h0M110.6 387.3h0M73.0 380.3h0M84.6 381.7h0M105.9 384.9h0M67.8 382.6h0M84.5 383.9h0M71.5 386.2h0M76.9 384.9h0M100.2 386.7h0M94.9 380.9h0M78.7 382.5h0M89.5 385.9h0M85.3 381.4h0M96.9 382.4h0M84.5 381.1h0M70.1 381.3h0M88.3 385.1h0M68.6 382.5h0M103.5 381.6h0M111.6 387.1h0M80.6 382.7h0M78.5 380.9h0M104.4 385.0h0M51.9 386.9h0M95.0 383.3h0M72.2 385.3h0M100.7 383.3h0M56.7 380.6h0M100.7 385.0h0M88.7 386.9h0M99.1 381.5h0M101.2 380.3h0M97.9 383.2h0M100.3 383.2h0M102.1 383.4h0M63.3 384.0h0M74.6 380.3h0M59.4 383.0h0M106.5 382.8h0M103.7 382.8h0M119.6 384.6h0M66.4 385.1h0M78.2 381.8h0M75.6 386.0h0M111.5 380.5h0M88.3 382.6h0M113.3 385.0h0M79.5 381.5h0M129.2 380.2h0M116.2 384.1h0M75.5 384.6h0M98.9 383.6h0M52.2 385.3h0M80.0 382.9h0M64.4 385.1h0M60.7 386.6h0M89.8 382.8h0M68.0 382.3h0M61.5 386.7h0M56.2 385.9h0M62.8 381.6h0M105.4 384.7h0M74.3 383.1h0M68.8 381.5h0M94.3 384.7h0M68.1 380.8h0M79.6 386.4h0M126.9 382.2h0M120.0 386.7h0M98.7 380.2h0M93.3 382.6h0M102.6 387.0h0M100.2 384.8h0M97.6 385.9h0M69.1 384.2h0M76.7 386.0h0M67.8 384.2h0M60.7 383.5h0M59.4 384.5h0M78.7 385.7h0M66.2 385.2h0M86.8 387.2h0M79.9 386.7h0M95.8 384.0h0M85.8 383.8h0M75.7 387.1h0M93.8 386.1h0M108.7 385.8h0M106.3 382.3h0M97.2 386.5h0M125.5 386.4h0M89.4 384.3h0M90.3 385.2h0M117.9 386.4h0M88.7 387.0h0M80.8 385.9h0M95.9 384.3h0M72.5 387.1h0M95.3 384.4h0M104.8 381.0h0M65.6 381.0h0M71.5 381.8h0M99.6 380.4h0M76.1 380.8h0M59.2 385.4h0M70.6 385.3h0M98.3 384.5h0M101.1 384.4h0M75.5 380.6h0M76.5 387.1h0M60.0 384.6h0M117.1 385.4h0M110.5 385.5h0M68.8 386.8h0M53.9 383.7h0M78.9 380.9h0M110.5 386.2h0M75.9 384.9h0M77.3 381.0h0M99.7 382.1h0M79.8 381.9h0M86.4 382.9h0M77.3 382.4h0M67.9 385.1h0M80.8 386.1h0M117.7 386.9h0M63.6 385.6h0M70.4 382.6h0M84.7 384.6h0M108.5 381.6h0M78.8 381.3h0M124.4 382.1h0M51.8 386.2h0M68.0 386.4h0M97.4 382.1h0M79.8 384.7h0M85.6 385.6h0M122.1 384.0h0M90.1 383.4h0M77.4 380.8h0M74.3 380.8h0M79.5 381.7h0M52.4 381.7h0M131.1 387.2h0M88.9 387.1h0M124.6 381.2h0M79.8 381.4h0M93.2 385.4h0M76.7 382.6h0M56.5 385.9h0M86.6 385.3h0M71.1 381.4h0M93.2 385.1h0M89.6 386.4h0M103.2 386.6h0M67.0 382.7h0M90.1 387.3h0M112.4 384.0h0M68.6 384.1h0M110.9 383.9h0M90.0 384.9h0M66.4 386.3h0M80.8 386.2h0M109.3 383.9h0M118.2 384.6h0M80.7 381.3h0M123.7 386.1h0M103.1 380.7h0M113.9 382.6h0M98.8 383.5h0M80.9 386.1h0M80.6 381.6h0M90.3 382.2h0M71.7 380.4h0M71.8 385.7h0M66.3 386.7h0M85.7 380.8h0M73.9 381.5h0M77.9 380.4h0M61.8 384.6h0M55.2 386.9h0M80.7 385.8h0M116.0 382.6h0M59.9 387.0h0M97.3 386.5h0M65.1 381.7h0M77.7 380.5h0M89.3 382.2h0M100.6 386.0h0M89.7 382.7h0M90.4 386.3h0M111.4 387.4h0M59.9 380.2h0M85.3 387.2h0M72.6 383.9h0M67.7 380.4h0M97.0 382.3h0M53.8 387.1h0M70.2 380.9h0M109.0 387.3h0M105.0 381.1h0M65.9 383.1h0M98.8 382.5h0M105.8 384.3h0M75.3 383.7h0M73.5 381.3h0M103.3 380.8h0M72.4 386.4h0M60.5 383.0h0M71.1 382.9h0M68.3 386.2h0M89.6 384.4h0M95.7 382.4h0M103.1 382.7h0M77.6 386.2h0M126.1 386.1h0M110.3 382.5h0M100.9 381.4h0M78.9 384.6h0M56.6 384.6h0M74.2 381.3h0M103.2 386.0h0M122.4 385.9h0M74.8 385.2h0M66.6 385.4h0M123.6 385.6h0M100.5 384.5h0M106.3 381.1h0M74.6 382.7h0M93.3 383.2h0M68.0 383.6h0M107.4 381.6h0M117.3 383.0h0M85.7 382.4h0M78.4 386.4h0M53.6 383.6h0M68.5 383.1h0M111.5 383.1h0M102.1 383.0h0M128.5 383.2h0M104.9 386.3h0M58.9 383.0h0M86.9 386.8h0M124.2 387.3h0M102.8 383.6h0M99.6 387.0h0M69.8 383.1h0M77.5 381.9h0M57.2 382.7h0M50.8 385.0h0M104.9 381.6h0M95.0 384.4h0M89.8 380.5h0M106.9 381.9h0M76.7 386.6h0M74.9 380.3h0M54.0 382.6h0M84.5 383.1h0M65.7 381.1h0M106.2 387.0h0M94.4 380.9h0M86.4 380.5h0M113.9 384.7h0M90.4 384.7h0M54.3 380.6h0M106.9 383.7h0M117.8 384.8h0M89.5 386.2h0M64.8 385.0h0M109.4 380.8h0M73.5 383.7h0M50.5 382.2h0M109.4 383.9h0M104.6 383.5h0M97.1 384.7h0M93.8 381.9h0M65.9 385.2h0M110.4 385.5h0M62.8 383.0h0M109.4 382.5h0M94.5 385.9h0M80.1 383.8h0M76.6 384.2h0M116.9 381.2h0M78.1 385.4h0M51.3 384.2h0M119.7 387.3h0M70.1 385.1h0M106.4 386.0h0M84.5 385.4h0M86.5 386.2h0M64.9 384.9h0M71.5 386.2h0M85.8 381.7h0M60.9 383.3h0M67.0 385.1h0M101.3 385.3h0M54.8 382.7h0M80.4 384.7h0M69.4 384.1h0M80.3 385.3h0M79.6 383.2h0M85.0 383.8h0M73.7 384.3h0M114.6 381.9h0M55.0 383.7h0M57.4 380.3h0M79.7 381.4h0M107.5 386.8h0M130.3 387.3h0M58.9 385.4h0M100.3 384.3h0M70.3 383.9h0M73.4 381.1h0M90.3 386.4h0M108.4 380.6h0M84.3 380.4h0M112.1 382.5h0M77.6 380.9h0M93.2 385.8h0M100.4 385.1h0M101.2 383.0h0M66.1 383.4h0M78.9 385.4h0M78.1 384.2h0M63.8 383.5h0M73.2 383.1h0M65.1 381.4h0M101.9 380.9h0M76.8 386.6h0M62.1 387.0h0M77.2 381.6h0M66.8 387.0h0M78.0 384.5h0M66.0 383.3h0M68.5 385.5h0M107.4 385.3h0M99.6 380.9h0M86.5 380.5h0M112.8 385.8h0M79.9 386.1h0M105.5 381.6h0M99.8 382.8h0M77.6 386.0h0M89.0 386.7h0M77.8 382.4h0M55.2 387.4h0M103.2 385.3h0M110.2 384.8h0M101.8 383.7h0M85.7 386.8h0M78.4 380.7h0M89.3 383.1h0M108.0 386.1h0M86.0 382.5h0M108.8 385.3h0M77.7 380.9h0M79.3 385.6h0M106.8 383.7h0M115.8 387.3h0M104.5 381.5h0M96.2 386.1h0M89.3 380.3h0M67.9 384.8h0M96.3 381.9h0M56.6 381.5h0M67.9 385.0h0M52.7 386.3h0M59.2 386.9h0M63.0 382.0h0M65.5 385.4h0M116.8 381.4h0M96.7 385.6h0M85.7 385.2h0M109.3 380.3h0M79.9 383.9h0M64.4 385.3h0M86.2 383.1h0M62.4 382.9h0M64.1 387.2h0M85.3 381.1h0M95.7 380.8h0M77.4 381.3h0M70.2 384.4h0M94.3 384.8h0M68.3 382.1h0M85.1 381.9h0M75.9 381.7h0M56.1 386.3h0M62.6 380.7h0M104.4 385.1h0M84.5 384.5h0M99.7 386.3h0M80.7 380.9h0M65.3 381.0h0M103.8 380.7h0M77.8 383.2h0M107.5 386.0h0M84.3 384.2h0M99.5 382.8h0M76.5 387.3h0M84.5 385.5h0M101.7 381.1h0M102.9 380.4h0M85.4 382.5h0M75.8 387.3h0M104.3 384.2h0M88.8 386.3h0M85.1 385.8h0M86.9 380.4h0M116.5 382.3h0M75.9 383.6h0M113.8 382.2h0M61.7 381.0h0M63.4 385.2h0M79.5 383.5h0M93.9 380.6h0M59.7 386.0h0M107.2 382.8h0M80.2 387.1h0M64.1 385.9h0M102.4 385.7h0M90.1 385.2h0M78.8 385.2h0M76.3 380.5h0M74.9 381.9h0M85.0 382.0h0M89.2 381.9h0M76.1 386.4h0M51.2 386.1h0M110.1 383.6h0M86.5 381.0h0M73.2 381.2h0" stroke="#5a5a5a" stroke-opacity="0.25" stroke-width="1.3" stroke-linecap="round" fill="none"/></g>
<line x1="48.00" y1="250.10" x2="48.00" y2="271.40" stroke="#1a1a1a" stroke-width="1.3"/>
<line x1="45.40" y1="251.50" x2="48.00" y2="251.50" stroke="#1a1a1a" stroke-width="1.0"/>
<text x="42.30" y="253.20" font-size="4.9" fill="#333" text-anchor="end" textLength="9.30" lengthAdjust="spacingAndGlyphs" stroke="#333" stroke-width="0.12">250</text>
<line x1="45.40" y1="257.30" x2="48.00" y2="257.30" stroke="#1a1a1a" stroke-width="1.0"/>
<text x="42.30" y="259.00" font-size="4.9" fill="#333" text-anchor="end" textLength="9.30" lengthAdjust="spacingAndGlyphs" stroke="#333" stroke-width="0.12">200</text>
<line x1="45.40" y1="261.70" x2="48.00" y2="261.70" stroke="#1a1a1a" stroke-width="1.0"/>
<text x="42.30" y="263.40" font-size="4.9" fill="#333" text-anchor="end" textLength="9.30" lengthAdjust="spacingAndGlyphs" stroke="#333" stroke-width="0.12">150</text>
<line x1="45.40" y1="266.30" x2="48.00" y2="266.30" stroke="#1a1a1a" stroke-width="1.0"/>
<text x="42.30" y="268.00" font-size="4.9" fill="#333" text-anchor="end" textLength="9.30" lengthAdjust="spacingAndGlyphs" stroke="#333" stroke-width="0.12">100</text>
<line x1="45.40" y1="270.90" x2="48.00" y2="270.90" stroke="#1a1a1a" stroke-width="1.0"/>
<text x="42.30" y="272.60" font-size="4.9" fill="#333" text-anchor="end" textLength="6.20" lengthAdjust="spacingAndGlyphs" stroke="#333" stroke-width="0.12">50</text>
<line x1="48.00" y1="280.40" x2="48.00" y2="375.40" stroke="#1a1a1a" stroke-width="1.3"/>
<line x1="46.00" y1="280.40" x2="50.00" y2="280.40" stroke="#1a1a1a" stroke-width="1.1"/>
<line x1="46.00" y1="375.40" x2="50.00" y2="375.40" stroke="#1a1a1a" stroke-width="1.1"/>
<text x="42.30" y="282.50" font-size="5.2" fill="#444" text-anchor="end" stroke="#444" stroke-width="0.12">50</text>
<line x1="45.40" y1="296.30" x2="48.00" y2="296.30" stroke="#1a1a1a" stroke-width="1.0"/>
<text x="42.30" y="298.10" font-size="5.2" fill="#444" text-anchor="end" stroke="#444" stroke-width="0.12">42</text>
<line x1="45.40" y1="316.00" x2="48.00" y2="316.00" stroke="#1a1a1a" stroke-width="1.0"/>
<text x="42.30" y="317.80" font-size="5.2" fill="#444" text-anchor="end" stroke="#444" stroke-width="0.12">32</text>
<line x1="45.40" y1="336.00" x2="48.00" y2="336.00" stroke="#1a1a1a" stroke-width="1.0"/>
<text x="42.30" y="337.80" font-size="5.2" fill="#444" text-anchor="end" stroke="#444" stroke-width="0.12">22</text>
<line x1="45.40" y1="355.70" x2="48.00" y2="355.70" stroke="#1a1a1a" stroke-width="1.0"/>
<text x="42.30" y="357.50" font-size="5.2" fill="#444" text-anchor="end" stroke="#444" stroke-width="0.12">12</text>
<text x="42.30" y="375.60" font-size="5.2" fill="#444" text-anchor="end" stroke="#444" stroke-width="0.12">5</text>
<line x1="48.00" y1="379.40" x2="48.00" y2="388.40" stroke="#1a1a1a" stroke-width="1.3"/>
<line x1="46.00" y1="379.40" x2="50.00" y2="379.40" stroke="#1a1a1a" stroke-width="1.1"/>
<text x="42.30" y="382.00" font-size="5.2" fill="#444" text-anchor="end" stroke="#444" stroke-width="0.12">2</text>
<text x="42.30" y="389.70" font-size="5.2" fill="#444" text-anchor="end" stroke="#444" stroke-width="0.12">0</text>
<line x1="47.40" y1="388.40" x2="81.00" y2="388.40" stroke="#1a1a1a" stroke-width="1.3"/>
<line x1="84.00" y1="388.40" x2="90.80" y2="388.40" stroke="#1a1a1a" stroke-width="1.3"/>
<line x1="93.80" y1="388.40" x2="204.00" y2="388.40" stroke="#1a1a1a" stroke-width="1.3"/>
<line x1="47.80" y1="388.40" x2="47.80" y2="390.80" stroke="#1a1a1a" stroke-width="1.0"/>
<text x="49.70" y="395.00" font-size="5.6" fill="#333" text-anchor="end" transform="rotate(-90 49.70 395.00)" stroke="#333" stroke-width="0.12">−11</text>
<line x1="54.30" y1="388.40" x2="54.30" y2="390.80" stroke="#1a1a1a" stroke-width="1.0"/>
<text x="56.20" y="395.00" font-size="5.6" fill="#333" text-anchor="end" transform="rotate(-90 56.20 395.00)" stroke="#333" stroke-width="0.12">−9</text>
<line x1="60.90" y1="388.40" x2="60.90" y2="390.80" stroke="#1a1a1a" stroke-width="1.0"/>
<text x="62.80" y="395.00" font-size="5.6" fill="#333" text-anchor="end" transform="rotate(-90 62.80 395.00)" stroke="#333" stroke-width="0.12">−7</text>
<line x1="67.60" y1="388.40" x2="67.60" y2="390.80" stroke="#1a1a1a" stroke-width="1.0"/>
<text x="69.50" y="395.00" font-size="5.6" fill="#333" text-anchor="end" transform="rotate(-90 69.50 395.00)" stroke="#333" stroke-width="0.12">−5</text>
<line x1="74.20" y1="388.40" x2="74.20" y2="390.80" stroke="#1a1a1a" stroke-width="1.0"/>
<text x="76.10" y="395.00" font-size="5.6" fill="#333" text-anchor="end" transform="rotate(-90 76.10 395.00)" stroke="#333" stroke-width="0.12">−3</text>
<line x1="80.80" y1="388.40" x2="80.80" y2="390.80" stroke="#1a1a1a" stroke-width="1.0"/>
<text x="82.70" y="395.00" font-size="5.6" fill="#333" text-anchor="end" transform="rotate(-90 82.70 395.00)" stroke="#333" stroke-width="0.12">−1</text>
<line x1="87.40" y1="388.40" x2="87.40" y2="390.80" stroke="#1a1a1a" stroke-width="1.0"/>
<text x="89.30" y="395.00" font-size="5.6" fill="#333" text-anchor="end" transform="rotate(-90 89.30 395.00)" stroke="#333" stroke-width="0.12">0</text>
<line x1="94.30" y1="388.40" x2="94.30" y2="390.80" stroke="#1a1a1a" stroke-width="1.0"/>
<text x="96.20" y="395.00" font-size="5.6" fill="#333" text-anchor="end" transform="rotate(-90 96.20 395.00)" stroke="#333" stroke-width="0.12">1</text>
<line x1="115.80" y1="388.40" x2="115.80" y2="390.80" stroke="#1a1a1a" stroke-width="1.0"/>
<text x="117.70" y="395.00" font-size="5.6" fill="#333" text-anchor="end" transform="rotate(-90 117.70 395.00)" stroke="#333" stroke-width="0.12">3</text>
<line x1="137.40" y1="388.40" x2="137.40" y2="390.80" stroke="#1a1a1a" stroke-width="1.0"/>
<text x="139.30" y="395.00" font-size="5.6" fill="#333" text-anchor="end" transform="rotate(-90 139.30 395.00)" stroke="#333" stroke-width="0.12">5</text>
<line x1="158.80" y1="388.40" x2="158.80" y2="390.80" stroke="#1a1a1a" stroke-width="1.0"/>
<text x="160.70" y="395.00" font-size="5.6" fill="#333" text-anchor="end" transform="rotate(-90 160.70 395.00)" stroke="#333" stroke-width="0.12">7</text>
<line x1="180.40" y1="388.40" x2="180.40" y2="390.80" stroke="#1a1a1a" stroke-width="1.0"/>
<text x="182.30" y="395.00" font-size="5.6" fill="#333" text-anchor="end" transform="rotate(-90 182.30 395.00)" stroke="#333" stroke-width="0.12">9</text>
<line x1="201.80" y1="388.40" x2="201.80" y2="390.80" stroke="#1a1a1a" stroke-width="1.0"/>
<text x="203.70" y="395.00" font-size="5.6" fill="#333" text-anchor="end" transform="rotate(-90 203.70 395.00)" stroke="#333" stroke-width="0.12">11</text>
<text x="125.00" y="414.80" font-size="8.9" fill="#333" text-anchor="middle" textLength="55.50" lengthAdjust="spacingAndGlyphs" stroke="#333" stroke-width="0.12">Log2 fold change</text>
<text x="27.00" y="320.30" font-size="8.9" fill="#333" text-anchor="middle" textLength="37.40" lengthAdjust="spacingAndGlyphs" transform="rotate(-90 27.00 320.30)" stroke="#333" stroke-width="0.12">-Log10 FDR</text>
<circle cx="57.00" cy="257.50" r="0.90" fill="#e6501f"/>
<text x="62.00" y="259.60" font-size="6.2" fill="#e6501f" textLength="40.50" lengthAdjust="spacingAndGlyphs" stroke="#e6501f" stroke-width="0.12">Surface Markers</text>
<circle cx="57.00" cy="265.50" r="0.90" fill="#2fa84a"/>
<text x="62.00" y="267.60" font-size="6.2" fill="#2fa84a" textLength="44.00" lengthAdjust="spacingAndGlyphs" stroke="#2fa84a" stroke-width="0.12">Soluble Mediators</text>
<circle cx="57.00" cy="273.20" r="0.90" fill="#7088cc"/>
<text x="62.00" y="275.30" font-size="6.2" fill="#7088cc" textLength="53.00" lengthAdjust="spacingAndGlyphs" stroke="#7088cc" stroke-width="0.12">Transcription Factors</text>
<circle cx="57.00" cy="281.25" r="0.90" fill="#111"/>
<text x="62.00" y="283.35" font-size="6.2" fill="#111" textLength="50.00" lengthAdjust="spacingAndGlyphs" stroke="#111" stroke-width="0.12">Purinergic Signaling</text>
<circle cx="145.00" cy="256.90" r="1.05" fill="#e6501f"/>
<text x="147.60" y="258.90" font-size="5.6" fill="#e6501f" font-weight="bold" textLength="9.10" lengthAdjust="spacingAndGlyphs" stroke="#e6501f" stroke-width="0.25">FR4</text>
<circle cx="137.70" cy="264.80" r="1.05" fill="#e6501f"/>
<text x="140.00" y="266.80" font-size="5.6" fill="#e6501f" font-weight="bold" textLength="16.00" lengthAdjust="spacingAndGlyphs" stroke="#e6501f" stroke-width="0.25">CD200</text>
<circle cx="180.00" cy="267.50" r="1.05" fill="#e6501f"/>
<text x="182.50" y="269.50" font-size="5.6" fill="#e6501f" font-weight="bold" textLength="13.80" lengthAdjust="spacingAndGlyphs" stroke="#e6501f" stroke-width="0.25">LAG3</text>
<circle cx="113.75" cy="293.50" r="1.05" fill="#e6501f"/>
<text x="116.00" y="295.50" font-size="5.6" fill="#e6501f" font-weight="bold" textLength="12.60" lengthAdjust="spacingAndGlyphs" stroke="#e6501f" stroke-width="0.25">ICOS</text>
<circle cx="152.30" cy="303.75" r="1.05" fill="#e6501f"/>
<text x="155.00" y="305.75" font-size="5.6" fill="#e6501f" font-weight="bold" textLength="12.30" lengthAdjust="spacingAndGlyphs" stroke="#e6501f" stroke-width="0.25">TIGIT</text>
<text x="92.20" y="336.30" font-size="5.6" fill="#e6501f" font-weight="bold" textLength="12.00" lengthAdjust="spacingAndGlyphs" stroke="#e6501f" stroke-width="0.25">GITR</text>
<circle cx="144.40" cy="339.70" r="1.05" fill="#e6501f"/>
<text x="146.00" y="339.80" font-size="5.6" fill="#e6501f" font-weight="bold" textLength="11.00" lengthAdjust="spacingAndGlyphs" stroke="#e6501f" stroke-width="0.25">PD-1</text>
<circle cx="140.00" cy="346.50" r="1.05" fill="#e6501f"/>
<text x="135.30" y="353.20" font-size="5.6" fill="#e6501f" font-weight="bold" textLength="17.40" lengthAdjust="spacingAndGlyphs" stroke="#e6501f" stroke-width="0.25">CTLA-4</text>
<text x="123.50" y="380.80" font-size="5.6" fill="#e6501f" font-weight="bold" textLength="13.00" lengthAdjust="spacingAndGlyphs" stroke="#e6501f" stroke-width="0.25">CCR5</text>
<circle cx="180.40" cy="368.90" r="1.05" fill="#e6501f"/>
<text x="182.60" y="370.90" font-size="5.6" fill="#e6501f" font-weight="bold" textLength="13.00" lengthAdjust="spacingAndGlyphs" stroke="#e6501f" stroke-width="0.25">TIM-3</text>
<circle cx="126.30" cy="327.60" r="1.05" fill="#2fa84a"/>
<text x="128.60" y="326.50" font-size="5.6" fill="#2fa84a" font-weight="bold" textLength="15.80" lengthAdjust="spacingAndGlyphs" stroke="#2fa84a" stroke-width="0.25">IL-10R</text>
<circle cx="186.50" cy="347.50" r="1.05" fill="#2fa84a"/>
<text x="188.80" y="349.50" font-size="5.6" fill="#2fa84a" font-weight="bold" textLength="11.80" lengthAdjust="spacingAndGlyphs" stroke="#2fa84a" stroke-width="0.25">IL-10</text>
<circle cx="132.70" cy="369.20" r="1.05" fill="#2fa84a"/>
<text x="131.20" y="367.00" font-size="5.6" fill="#2fa84a" font-weight="bold" textLength="11.50" lengthAdjust="spacingAndGlyphs" stroke="#2fa84a" stroke-width="0.25">IFNg</text>
<circle cx="153.30" cy="372.00" r="1.05" fill="#2fa84a"/>
<text x="148.40" y="370.90" font-size="5.6" fill="#2fa84a" font-weight="bold" textLength="28.80" lengthAdjust="spacingAndGlyphs" stroke="#2fa84a" stroke-width="0.25">Granzyme K</text>
<circle cx="105.00" cy="371.60" r="1.05" fill="#2fa84a"/>
<text x="100.40" y="378.50" font-size="5.6" fill="#2fa84a" font-weight="bold" textLength="14.60" lengthAdjust="spacingAndGlyphs" stroke="#2fa84a" stroke-width="0.25">TGF-b</text>
<circle cx="108.10" cy="317.50" r="1.05" fill="#7088cc"/>
<text x="111.40" y="316.60" font-size="5.6" fill="#7088cc" font-weight="bold" textLength="7.70" lengthAdjust="spacingAndGlyphs" stroke="#7088cc" stroke-width="0.25">Tox</text>
<circle cx="109.80" cy="327.60" r="1.05" fill="#7088cc"/>
<text x="97.00" y="327.70" font-size="5.6" fill="#7088cc" font-weight="bold" textLength="10.10" lengthAdjust="spacingAndGlyphs" stroke="#7088cc" stroke-width="0.25">Batf</text>
<circle cx="120.40" cy="330.50" r="1.05" fill="#7088cc"/>
<text x="123.00" y="334.90" font-size="5.6" fill="#7088cc" font-weight="bold" textLength="10.60" lengthAdjust="spacingAndGlyphs" stroke="#7088cc" stroke-width="0.25">Egr3</text>
<circle cx="129.60" cy="348.00" r="1.05" fill="#7088cc"/>
<text x="122.70" y="347.00" font-size="5.6" fill="#7088cc" font-weight="bold" textLength="14.60" lengthAdjust="spacingAndGlyphs" stroke="#7088cc" stroke-width="0.25">FoxP3</text>
<circle cx="125.30" cy="361.20" r="1.05" fill="#7088cc"/>
<text x="124.20" y="359.80" font-size="5.6" fill="#7088cc" font-weight="bold" textLength="13.10" lengthAdjust="spacingAndGlyphs" stroke="#7088cc" stroke-width="0.25">c-Maf</text>
<circle cx="141.90" cy="358.40" r="1.05" fill="#7088cc"/>
<text x="143.90" y="360.40" font-size="5.6" fill="#7088cc" font-weight="bold" textLength="16.90" lengthAdjust="spacingAndGlyphs" stroke="#7088cc" stroke-width="0.25">Eomes</text>
<circle cx="118.80" cy="368.50" r="1.05" fill="#7088cc"/>
<text x="109.60" y="369.60" font-size="5.6" fill="#7088cc" font-weight="bold" textLength="6.90" lengthAdjust="spacingAndGlyphs" stroke="#7088cc" stroke-width="0.25">Irf4</text>
<circle cx="125.00" cy="367.60" r="1.05" fill="#7088cc"/>
<text x="122.00" y="373.60" font-size="5.6" fill="#7088cc" font-weight="bold" textLength="10.70" lengthAdjust="spacingAndGlyphs" stroke="#7088cc" stroke-width="0.25">Egr2</text>
<circle cx="111.20" cy="351.60" r="1.25" fill="#111"/>
<text x="102.00" y="351.60" font-size="5.6" fill="#111" font-weight="bold" textLength="20.40" lengthAdjust="spacingAndGlyphs" stroke="#111" stroke-width="0.25">Adora2a</text>
<circle cx="102.70" cy="360.00" r="1.25" fill="#111"/>
<text x="105.50" y="360.80" font-size="5.6" fill="#111" font-weight="bold" textLength="14.50" lengthAdjust="spacingAndGlyphs" stroke="#111" stroke-width="0.25">Panx1</text>
<circle cx="145.00" cy="345.80" r="1.25" fill="#111"/>
<text x="147.30" y="347.50" font-size="5.6" fill="#111" font-weight="bold" textLength="13.10" lengthAdjust="spacingAndGlyphs" stroke="#111" stroke-width="0.25">CD73</text>
<circle cx="140.00" cy="373.20" r="1.25" fill="#111"/>
<text x="139.60" y="380.80" font-size="5.6" fill="#111" font-weight="bold" textLength="12.70" lengthAdjust="spacingAndGlyphs" stroke="#111" stroke-width="0.25">CD39</text>
<circle cx="161.40" cy="374.60" r="1.25" fill="#111"/>
<text x="163.80" y="377.80" font-size="5.6" fill="#111" font-weight="bold" textLength="7.20" lengthAdjust="spacingAndGlyphs" stroke="#111" stroke-width="0.25">Src</text>
<circle cx="154.10" cy="381.60" r="1.25" fill="#111"/>
<text x="157.00" y="384.10" font-size="5.6" fill="#111" font-weight="bold" textLength="18.40" lengthAdjust="spacingAndGlyphs" stroke="#111" stroke-width="0.25">Prkar1b</text>
<circle cx="107.60" cy="334.30" r="0.80" fill="#e6501f"/>
<path d="M267.50 305.10L267.75 305.10L268.00 305.10L268.25 305.10L268.50 305.10L268.75 305.10L269.00 305.10L269.25 305.10L269.50 305.10L269.75 305.10L270.00 305.10L270.25 305.10L270.50 305.10L270.75 305.10L271.00 305.10L271.25 305.10L271.50 305.10L271.75 305.10L272.00 305.10L272.25 305.10L272.50 305.10L272.75 305.09L273.00 305.08L273.25 305.06L273.50 305.02L273.75 304.93L274.00 304.79L274.25 304.53L274.50 304.10L274.75 303.42L275.00 302.38L275.25 300.86L275.50 298.76L275.75 295.98L276.00 292.49L276.25 288.34L276.50 283.67L276.75 278.77L277.00 273.98L277.25 269.72L277.50 266.40L277.75 266.00L278.00 266.00L278.25 266.00L278.50 266.00L278.75 266.00L279.00 266.00L279.25 266.84L279.50 268.41L279.75 270.19L280.00 272.14L280.25 274.22L280.50 276.37L280.75 278.57L281.00 280.78L281.25 282.96L281.50 285.04L281.75 286.97L282.00 288.74L282.25 290.34L282.50 291.78L282.75 293.07L283.00 294.22L283.25 295.24L283.50 296.15L283.75 296.96L284.00 297.69L284.25 298.35L284.50 298.95L284.75 299.49L285.00 300.00L285.25 300.46L285.50 300.89L285.75 301.29L286.00 301.66L286.25 302.01L286.50 302.33L286.75 302.63L287.00 302.91L287.25 303.16L287.50 303.39L287.75 303.60L288.00 303.79L288.25 303.97L288.50 304.12L288.75 304.26L289.00 304.38L289.25 304.49L289.50 304.58L289.75 304.66L290.00 304.74L290.25 304.80L290.50 304.85L290.75 304.89L291.00 304.93L291.25 304.96L291.50 304.99L291.75 305.01L292.00 305.03L292.25 305.04L292.50 305.05L292.75 305.06L293.00 305.07L293.25 305.08L293.50 305.08L293.75 305.09L294.00 305.09L294.25 305.09L294.50 305.09L294.75 305.10L295.00 305.10L295.25 305.10L295.50 305.10L295.75 305.10L296.00 305.10L296.25 305.10L296.50 305.10L296.75 305.10L297.00 305.10L297.25 305.10L297.50 305.10L297.75 305.10L298.00 305.10L298.25 305.10L298.50 305.10L298.75 305.10L299.00 305.10L299.25 305.10L299.50 305.10L299.75 305.10L300.00 305.10L300.25 305.10L300.50 305.10L300.75 305.10L301.00 305.10L301.25 305.10L301.50 305.10L301.75 305.10L302.00 305.10L302.25 305.10L302.50 305.10L302.75 305.10L303.00 305.10L303.25 305.10L303.50 305.10L303.75 305.10L304.00 305.10L304.25 305.10L304.50 305.10L304.75 305.10L305.00 305.10L305.25 305.10L305.50 305.10L305.75 305.10L306.00 305.10L306.25 305.10L306.50 305.10L306.75 305.10L307.00 305.10L307.25 305.10L307.50 305.10L307.75 305.10L308.00 305.10L308.25 305.10L308.50 305.10L308.75 305.10L309.00 305.10L309.25 305.10" stroke="#cc2250" fill="none" stroke-width="1.15" stroke-linejoin="round"/>
<path d="M267.50 305.10L267.75 305.10L268.00 305.10L268.25 305.10L268.50 305.10L268.75 305.10L269.00 305.10L269.25 305.10L269.50 305.10L269.75 305.10L270.00 305.10L270.25 305.10L270.50 305.10L270.75 305.10L271.00 305.10L271.25 305.10L271.50 305.10L271.75 305.10L272.00 305.10L272.25 305.10L272.50 305.10L272.75 305.09L273.00 305.08L273.25 305.05L273.50 304.99L273.75 304.89L274.00 304.72L274.25 304.41L274.50 303.90L274.75 303.11L275.00 301.92L275.25 300.22L275.50 297.91L275.75 294.91L276.00 291.24L276.25 286.97L276.50 282.33L276.75 277.62L277.00 273.24L277.25 269.61L277.50 267.11L277.75 266.03L278.00 266.30L278.25 267.52L278.50 269.57L278.75 272.32L279.00 275.59L279.25 279.17L279.50 282.86L279.75 286.49L280.00 289.91L280.25 292.99L280.50 295.69L280.75 297.95L281.00 299.81L281.25 301.28L281.50 302.40L281.75 303.24L282.00 303.85L282.25 304.28L282.50 304.58L282.75 304.77L283.00 304.90L283.25 304.98L283.50 305.03L283.75 305.06L284.00 305.08L284.25 305.09L284.50 305.09L284.75 305.10L285.00 305.10L285.25 305.10L285.50 305.10L285.75 305.10L286.00 305.10L286.25 305.10L286.50 305.10L286.75 305.10L287.00 305.10L287.25 305.10L287.50 305.10L287.75 305.10L288.00 305.10L288.25 305.10L288.50 305.10L288.75 305.10L289.00 305.10L289.25 305.10L289.50 305.10L289.75 305.10L290.00 305.10L290.25 305.10L290.50 305.10L290.75 305.10L291.00 305.10L291.25 305.10L291.50 305.10L291.75 305.10L292.00 305.10L292.25 305.10L292.50 305.10L292.75 305.10L293.00 305.10L293.25 305.10L293.50 305.10L293.75 305.10L294.00 305.10L294.25 305.10L294.50 305.10L294.75 305.10L295.00 305.10L295.25 305.10L295.50 305.10L295.75 305.10L296.00 305.10L296.25 305.10L296.50 305.10L296.75 305.10L297.00 305.10L297.25 305.10L297.50 305.10L297.75 305.10L298.00 305.10L298.25 305.10L298.50 305.10L298.75 305.10L299.00 305.10L299.25 305.10L299.50 305.10L299.75 305.10L300.00 305.10L300.25 305.10L300.50 305.10L300.75 305.10L301.00 305.10L301.25 305.10L301.50 305.10L301.75 305.10L302.00 305.10L302.25 305.10L302.50 305.10L302.75 305.10L303.00 305.10L303.25 305.10L303.50 305.10L303.75 305.10L304.00 305.10L304.25 305.10L304.50 305.10L304.75 305.10L305.00 305.10L305.25 305.10L305.50 305.10L305.75 305.10L306.00 305.10L306.25 305.10L306.50 305.10L306.75 305.10L307.00 305.10L307.25 305.10L307.50 305.10L307.75 305.10L308.00 305.10L308.25 305.10L308.50 305.10L308.75 305.10L309.00 305.10L309.25 305.10" stroke="#34588f" fill="none" stroke-width="1.15" stroke-linejoin="round" stroke-opacity="0.9"/>
<rect x="267.20" y="263.90" width="42.50" height="42.00" fill="none" stroke="#505050" stroke-width="1.05" rx="0.8"/>
<path d="M313.60 305.10L313.85 305.10L314.10 305.10L314.35 305.10L314.60 305.10L314.85 305.10L315.10 305.10L315.35 305.10L315.60 305.10L315.85 305.10L316.10 305.10L316.35 305.10L316.60 305.10L316.85 305.10L317.10 305.10L317.35 305.10L317.60 305.10L317.85 305.10L318.10 305.10L318.35 305.10L318.60 305.10L318.85 305.10L319.10 305.10L319.35 305.10L319.60 305.10L319.85 305.09L320.10 305.09L320.35 305.07L320.60 305.05L320.85 305.00L321.10 304.92L321.35 304.78L321.60 304.55L321.85 304.19L322.10 303.64L322.35 302.82L322.60 301.67L322.85 300.08L323.10 298.00L323.35 295.35L323.60 292.14L323.85 288.40L324.10 284.26L324.35 279.88L324.60 275.52L324.85 271.47L325.10 268.02L325.35 266.00L325.60 266.00L325.85 266.00L326.10 266.00L326.35 266.00L326.60 266.00L326.85 266.00L327.10 266.00L327.35 267.12L327.60 268.63L327.85 270.34L328.10 272.21L328.35 274.22L328.60 276.33L328.85 278.51L329.10 280.68L329.35 282.78L329.60 284.79L329.85 286.69L330.10 288.46L330.35 290.11L330.60 291.63L330.85 293.01L331.10 294.27L331.35 295.42L331.60 296.44L331.85 297.37L332.10 298.20L332.35 298.94L332.60 299.61L332.85 300.21L333.10 300.74L333.35 301.23L333.60 301.66L333.85 302.05L334.10 302.40L334.35 302.72L334.60 303.01L334.85 303.26L335.10 303.50L335.35 303.70L335.60 303.89L335.85 304.05L336.10 304.20L336.35 304.33L336.60 304.44L336.85 304.54L337.10 304.63L337.35 304.70L337.60 304.77L337.85 304.82L338.10 304.87L338.35 304.91L338.60 304.94L338.85 304.97L339.10 305.00L339.35 305.02L339.60 305.03L339.85 305.05L340.10 305.06L340.35 305.07L340.60 305.07L340.85 305.08L341.10 305.08L341.35 305.09L341.60 305.09L341.85 305.09L342.10 305.09L342.35 305.10L342.60 305.10L342.85 305.10L343.10 305.10L343.35 305.10L343.60 305.10L343.85 305.10L344.10 305.10L344.35 305.10L344.60 305.10L344.85 305.10L345.10 305.10L345.35 305.10L345.60 305.10L345.85 305.10L346.10 305.10L346.35 305.10L346.60 305.10L346.85 305.10L347.10 305.10L347.35 305.10L347.60 305.10L347.85 305.10L348.10 305.10L348.35 305.10L348.60 305.10L348.85 305.10L349.10 305.10L349.35 305.10L349.60 305.10L349.85 305.10L350.10 305.10L350.35 305.10L350.60 305.10L350.85 305.10L351.10 305.10L351.35 305.10L351.60 305.10L351.85 305.10L352.10 305.10L352.35 305.10L352.60 305.10L352.85 305.10L353.10 305.10L353.35 305.10L353.60 305.10L353.85 305.10L354.10 305.10L354.35 305.10L354.60 305.10L354.85 305.10L355.10 305.10L355.35 305.10" stroke="#cc2250" fill="none" stroke-width="1.15" stroke-linejoin="round"/>
<path d="M313.60 305.10L313.85 305.10L314.10 305.10L314.35 305.10L314.60 305.10L314.85 305.10L315.10 305.10L315.35 305.10L315.60 305.10L315.85 305.10L316.10 305.10L316.35 305.10L316.60 305.10L316.85 305.10L317.10 305.10L317.35 305.10L317.60 305.10L317.85 305.10L318.10 305.10L318.35 305.10L318.60 305.10L318.85 305.09L319.10 305.08L319.35 305.05L319.60 304.98L319.85 304.83L320.10 304.52L320.35 303.93L320.60 302.91L320.85 301.22L321.10 298.67L321.35 295.08L321.60 290.43L321.85 284.92L322.10 279.02L322.35 273.45L322.60 269.01L322.85 266.44L323.10 266.07L323.35 266.82L323.60 268.36L323.85 270.59L324.10 273.39L324.35 276.57L324.60 279.99L324.85 283.47L325.10 286.87L325.35 290.06L325.60 292.96L325.85 295.51L326.10 297.69L326.35 299.49L326.60 300.95L326.85 302.09L327.10 302.97L327.35 303.62L327.60 304.09L327.85 304.43L328.10 304.67L328.35 304.82L328.60 304.93L328.85 305.00L329.10 305.04L329.35 305.06L329.60 305.08L329.85 305.09L330.10 305.09L330.35 305.10L330.60 305.10L330.85 305.10L331.10 305.10L331.35 305.10L331.60 305.10L331.85 305.10L332.10 305.10L332.35 305.10L332.60 305.10L332.85 305.10L333.10 305.10L333.35 305.10L333.60 305.10L333.85 305.10L334.10 305.10L334.35 305.10L334.60 305.10L334.85 305.10L335.10 305.10L335.35 305.10L335.60 305.10L335.85 305.10L336.10 305.10L336.35 305.10L336.60 305.10L336.85 305.10L337.10 305.10L337.35 305.10L337.60 305.10L337.85 305.10L338.10 305.10L338.35 305.10L338.60 305.10L338.85 305.10L339.10 305.10L339.35 305.10L339.60 305.10L339.85 305.10L340.10 305.10L340.35 305.10L340.60 305.10L340.85 305.10L341.10 305.10L341.35 305.10L341.60 305.10L341.85 305.10L342.10 305.10L342.35 305.10L342.60 305.10L342.85 305.10L343.10 305.10L343.35 305.10L343.60 305.10L343.85 305.10L344.10 305.10L344.35 305.10L344.60 305.10L344.85 305.10L345.10 305.10L345.35 305.10L345.60 305.10L345.85 305.10L346.10 305.10L346.35 305.10L346.60 305.10L346.85 305.10L347.10 305.10L347.35 305.10L347.60 305.10L347.85 305.10L348.10 305.10L348.35 305.10L348.60 305.10L348.85 305.10L349.10 305.10L349.35 305.10L349.60 305.10L349.85 305.10L350.10 305.10L350.35 305.10L350.60 305.10L350.85 305.10L351.10 305.10L351.35 305.10L351.60 305.10L351.85 305.10L352.10 305.10L352.35 305.10L352.60 305.10L352.85 305.10L353.10 305.10L353.35 305.10L353.60 305.10L353.85 305.10L354.10 305.10L354.35 305.10L354.60 305.10L354.85 305.10L355.10 305.10L355.35 305.10" stroke="#34588f" fill="none" stroke-width="1.15" stroke-linejoin="round" stroke-opacity="0.9"/>
<rect x="313.30" y="263.90" width="42.50" height="42.00" fill="none" stroke="#505050" stroke-width="1.05" rx="0.8"/>
<path d="M359.90 305.10L360.15 305.10L360.40 305.10L360.65 305.10L360.90 305.10L361.15 305.10L361.40 305.10L361.65 305.10L361.90 305.10L362.15 305.10L362.40 305.10L362.65 305.10L362.90 305.10L363.15 305.10L363.40 305.10L363.65 305.10L363.90 305.10L364.15 305.10L364.40 305.09L364.65 305.09L364.90 305.08L365.15 305.08L365.40 305.07L365.65 305.05L365.90 305.03L366.15 304.99L366.40 304.91L366.65 304.76L366.90 304.46L367.15 303.87L367.40 302.83L367.65 301.12L367.90 298.63L368.15 295.42L368.40 291.82L368.65 288.44L368.90 285.97L369.15 284.90L369.40 284.33L369.65 283.76L369.90 283.15L370.15 282.50L370.40 281.79L370.65 281.00L370.90 280.12L371.15 279.15L371.40 278.07L371.65 276.90L371.90 275.63L372.15 274.28L372.40 272.87L372.65 271.42L372.90 269.97L373.15 268.55L373.40 267.20L373.65 266.00L373.90 266.00L374.15 266.00L374.40 266.00L374.65 266.00L374.90 266.00L375.15 266.00L375.40 266.00L375.65 266.00L375.90 266.73L376.15 269.04L376.40 271.77L376.65 274.79L376.90 278.00L377.15 281.27L377.40 284.49L377.65 287.58L377.90 290.45L378.15 293.06L378.40 295.37L378.65 297.38L378.90 299.07L379.15 300.47L379.40 301.60L379.65 302.51L379.90 303.21L380.15 303.74L380.40 304.14L380.65 304.43L380.90 304.65L381.15 304.80L381.40 304.90L381.65 304.97L381.90 305.02L382.15 305.05L382.40 305.07L382.65 305.08L382.90 305.09L383.15 305.09L383.40 305.10L383.65 305.10L383.90 305.10L384.15 305.10L384.40 305.10L384.65 305.10L384.90 305.10L385.15 305.10L385.40 305.10L385.65 305.10L385.90 305.10L386.15 305.10L386.40 305.10L386.65 305.10L386.90 305.10L387.15 305.10L387.40 305.10L387.65 305.10L387.90 305.10L388.15 305.10L388.40 305.10L388.65 305.10L388.90 305.10L389.15 305.10L389.40 305.10L389.65 305.10L389.90 305.10L390.15 305.10L390.40 305.10L390.65 305.10L390.90 305.10L391.15 305.10L391.40 305.10L391.65 305.10L391.90 305.10L392.15 305.10L392.40 305.10L392.65 305.10L392.90 305.10L393.15 305.10L393.40 305.10L393.65 305.10L393.90 305.10L394.15 305.10L394.40 305.10L394.65 305.10L394.90 305.10L395.15 305.10L395.40 305.10L395.65 305.10L395.90 305.10L396.15 305.10L396.40 305.10L396.65 305.10L396.90 305.10L397.15 305.10L397.40 305.10L397.65 305.10L397.90 305.10L398.15 305.10L398.40 305.10L398.65 305.10L398.90 305.10L399.15 305.10L399.40 305.10L399.65 305.10L399.90 305.10L400.15 305.10L400.40 305.10L400.65 305.10L400.90 305.10L401.15 305.10L401.40 305.10L401.65 305.10" stroke="#cc2250" fill="none" stroke-width="1.15" stroke-linejoin="round"/>
<path d="M359.90 305.10L360.15 305.10L360.40 305.10L360.65 305.10L360.90 305.10L361.15 305.10L361.40 305.10L361.65 305.10L361.90 305.10L362.15 305.10L362.40 305.10L362.65 305.10L362.90 305.10L363.15 305.10L363.40 305.10L363.65 305.10L363.90 305.10L364.15 305.10L364.40 305.10L364.65 305.10L364.90 305.10L365.15 305.10L365.40 305.10L365.65 305.10L365.90 305.10L366.15 305.10L366.40 305.09L366.65 305.06L366.90 304.97L367.15 304.74L367.40 304.21L367.65 303.10L367.90 301.01L368.15 297.53L368.40 292.41L368.65 285.78L368.90 278.44L369.15 271.72L369.40 267.20L369.65 266.04L369.90 267.56L370.15 271.01L370.40 275.85L370.65 281.38L370.90 286.93L371.15 291.95L371.40 296.10L371.65 299.29L371.90 301.55L372.15 303.05L372.40 303.98L372.65 304.52L372.90 304.82L373.15 304.97L373.40 305.04L373.65 305.08L373.90 305.09L374.15 305.10L374.40 305.10L374.65 305.10L374.90 305.10L375.15 305.10L375.40 305.10L375.65 305.10L375.90 305.10L376.15 305.10L376.40 305.10L376.65 305.10L376.90 305.10L377.15 305.10L377.40 305.10L377.65 305.10L377.90 305.10L378.15 305.10L378.40 305.10L378.65 305.10L378.90 305.10L379.15 305.10L379.40 305.10L379.65 305.10L379.90 305.10L380.15 305.10L380.40 305.10L380.65 305.10L380.90 305.10L381.15 305.10L381.40 305.10L381.65 305.10L381.90 305.10L382.15 305.10L382.40 305.10L382.65 305.10L382.90 305.10L383.15 305.10L383.40 305.10L383.65 305.10L383.90 305.10L384.15 305.10L384.40 305.10L384.65 305.10L384.90 305.10L385.15 305.10L385.40 305.10L385.65 305.10L385.90 305.10L386.15 305.10L386.40 305.10L386.65 305.10L386.90 305.10L387.15 305.10L387.40 305.10L387.65 305.10L387.90 305.10L388.15 305.10L388.40 305.10L388.65 305.10L388.90 305.10L389.15 305.10L389.40 305.10L389.65 305.10L389.90 305.10L390.15 305.10L390.40 305.10L390.65 305.10L390.90 305.10L391.15 305.10L391.40 305.10L391.65 305.10L391.90 305.10L392.15 305.10L392.40 305.10L392.65 305.10L392.90 305.10L393.15 305.10L393.40 305.10L393.65 305.10L393.90 305.10L394.15 305.10L394.40 305.10L394.65 305.10L394.90 305.10L395.15 305.10L395.40 305.10L395.65 305.10L395.90 305.10L396.15 305.10L396.40 305.10L396.65 305.10L396.90 305.10L397.15 305.10L397.40 305.10L397.65 305.10L397.90 305.10L398.15 305.10L398.40 305.10L398.65 305.10L398.90 305.10L399.15 305.10L399.40 305.10L399.65 305.10L399.90 305.10L400.15 305.10L400.40 305.10L400.65 305.10L400.90 305.10L401.15 305.10L401.40 305.10L401.65 305.10" stroke="#34588f" fill="none" stroke-width="1.15" stroke-linejoin="round" stroke-opacity="0.9"/>
<rect x="359.60" y="263.90" width="42.50" height="42.00" fill="none" stroke="#505050" stroke-width="1.05" rx="0.8"/>
<path d="M267.50 351.20L267.75 351.20L268.00 351.20L268.25 351.20L268.50 351.20L268.75 351.20L269.00 351.20L269.25 351.20L269.50 351.20L269.75 351.20L270.00 351.20L270.25 351.20L270.50 351.19L270.75 351.18L271.00 351.16L271.25 351.11L271.50 351.04L271.75 350.89L272.00 350.65L272.25 350.26L272.50 349.64L272.75 348.70L273.00 347.35L273.25 345.49L273.50 343.02L273.75 339.91L274.00 336.18L274.25 331.95L274.50 327.42L274.75 322.88L275.00 318.70L275.25 315.23L275.50 312.81L275.75 312.10L276.00 312.10L276.25 312.48L276.50 313.88L276.75 315.84L277.00 318.25L277.25 320.97L277.50 323.90L277.75 326.90L278.00 329.87L278.25 332.73L278.50 335.41L278.75 337.86L279.00 340.04L279.25 341.92L279.50 343.50L279.75 344.82L280.00 345.90L280.25 346.78L280.50 347.49L280.75 348.07L281.00 348.55L281.25 348.94L281.50 349.27L281.75 349.55L282.00 349.79L282.25 349.99L282.50 350.18L282.75 350.34L283.00 350.47L283.25 350.60L283.50 350.70L283.75 350.79L284.00 350.87L284.25 350.93L284.50 350.99L284.75 351.03L285.00 351.07L285.25 351.10L285.50 351.12L285.75 351.14L286.00 351.16L286.25 351.17L286.50 351.18L286.75 351.18L287.00 351.19L287.25 351.19L287.50 351.19L287.75 351.20L288.00 351.20L288.25 351.20L288.50 351.20L288.75 351.20L289.00 351.20L289.25 351.20L289.50 351.20L289.75 351.20L290.00 351.20L290.25 351.20L290.50 351.20L290.75 351.20L291.00 351.20L291.25 351.20L291.50 351.20L291.75 351.20L292.00 351.20L292.25 351.20L292.50 351.20L292.75 351.20L293.00 351.20L293.25 351.20L293.50 351.20L293.75 351.20L294.00 351.20L294.25 351.20L294.50 351.20L294.75 351.20L295.00 351.20L295.25 351.20L295.50 351.20L295.75 351.20L296.00 351.20L296.25 351.20L296.50 351.20L296.75 351.20L297.00 351.20L297.25 351.20L297.50 351.20L297.75 351.20L298.00 351.20L298.25 351.20L298.50 351.20L298.75 351.20L299.00 351.20L299.25 351.20L299.50 351.20L299.75 351.20L300.00 351.20L300.25 351.20L300.50 351.20L300.75 351.20L301.00 351.20L301.25 351.20L301.50 351.20L301.75 351.20L302.00 351.20L302.25 351.20L302.50 351.20L302.75 351.20L303.00 351.20L303.25 351.20L303.50 351.20L303.75 351.20L304.00 351.20L304.25 351.20L304.50 351.20L304.75 351.20L305.00 351.20L305.25 351.20L305.50 351.20L305.75 351.20L306.00 351.20L306.25 351.20L306.50 351.20L306.75 351.20L307.00 351.20L307.25 351.20L307.50 351.20L307.75 351.20L308.00 351.20L308.25 351.20L308.50 351.20L308.75 351.20L309.00 351.20L309.25 351.20" stroke="#cc2250" fill="none" stroke-width="1.15" stroke-linejoin="round"/>
<path d="M267.50 351.20L267.75 351.20L268.00 351.20L268.25 351.20L268.50 351.20L268.75 351.20L269.00 351.20L269.25 351.20L269.50 351.20L269.75 351.20L270.00 351.20L270.25 351.20L270.50 351.19L270.75 351.18L271.00 351.16L271.25 351.11L271.50 351.04L271.75 350.89L272.00 350.65L272.25 350.26L272.50 349.64L272.75 348.71L273.00 347.36L273.25 345.49L273.50 343.03L273.75 339.92L274.00 336.21L274.25 331.99L274.50 327.48L274.75 322.98L275.00 318.84L275.25 315.45L275.50 313.13L275.75 312.13L276.00 312.37L276.25 313.45L276.50 315.28L276.75 317.75L277.00 320.72L277.25 324.02L277.50 327.48L277.75 330.95L278.00 334.28L278.25 337.36L278.50 340.12L278.75 342.52L279.00 344.55L279.25 346.21L279.50 347.54L279.75 348.57L280.00 349.35L280.25 349.93L280.50 350.34L280.75 350.64L281.00 350.84L281.25 350.97L281.50 351.06L281.75 351.11L282.00 351.15L282.25 351.17L282.50 351.18L282.75 351.19L283.00 351.20L283.25 351.20L283.50 351.20L283.75 351.20L284.00 351.20L284.25 351.20L284.50 351.20L284.75 351.20L285.00 351.20L285.25 351.20L285.50 351.20L285.75 351.20L286.00 351.20L286.25 351.20L286.50 351.20L286.75 351.20L287.00 351.20L287.25 351.20L287.50 351.20L287.75 351.20L288.00 351.20L288.25 351.20L288.50 351.20L288.75 351.20L289.00 351.20L289.25 351.20L289.50 351.20L289.75 351.20L290.00 351.20L290.25 351.20L290.50 351.20L290.75 351.20L291.00 351.20L291.25 351.20L291.50 351.20L291.75 351.20L292.00 351.20L292.25 351.20L292.50 351.20L292.75 351.20L293.00 351.20L293.25 351.20L293.50 351.20L293.75 351.20L294.00 351.20L294.25 351.20L294.50 351.20L294.75 351.20L295.00 351.20L295.25 351.20L295.50 351.20L295.75 351.20L296.00 351.20L296.25 351.20L296.50 351.20L296.75 351.20L297.00 351.20L297.25 351.20L297.50 351.20L297.75 351.20L298.00 351.20L298.25 351.20L298.50 351.20L298.75 351.20L299.00 351.20L299.25 351.20L299.50 351.20L299.75 351.20L300.00 351.20L300.25 351.20L300.50 351.20L300.75 351.20L301.00 351.20L301.25 351.20L301.50 351.20L301.75 351.20L302.00 351.20L302.25 351.20L302.50 351.20L302.75 351.20L303.00 351.20L303.25 351.20L303.50 351.20L303.75 351.20L304.00 351.20L304.25 351.20L304.50 351.20L304.75 351.20L305.00 351.20L305.25 351.20L305.50 351.20L305.75 351.20L306.00 351.20L306.25 351.20L306.50 351.20L306.75 351.20L307.00 351.20L307.25 351.20L307.50 351.20L307.75 351.20L308.00 351.20L308.25 351.20L308.50 351.20L308.75 351.20L309.00 351.20L309.25 351.20" stroke="#34588f" fill="none" stroke-width="1.15" stroke-linejoin="round" stroke-opacity="0.9"/>
<rect x="267.20" y="310.00" width="42.50" height="42.00" fill="none" stroke="#505050" stroke-width="1.05" rx="0.8"/>
<path d="M313.60 351.20L313.85 351.20L314.10 351.20L314.35 351.20L314.60 351.20L314.85 351.20L315.10 351.20L315.35 351.20L315.60 351.20L315.85 351.20L316.10 351.20L316.35 351.19L316.60 351.18L316.85 351.17L317.10 351.13L317.35 351.08L317.60 350.98L317.85 350.81L318.10 350.54L318.35 350.12L318.60 349.48L318.85 348.56L319.10 347.26L319.35 345.52L319.60 343.26L319.85 340.45L320.10 337.10L320.35 333.29L320.60 329.17L320.85 324.94L321.10 320.87L321.35 317.28L321.60 314.44L321.85 312.60L322.10 312.10L322.35 312.10L322.60 312.79L322.85 313.95L323.10 315.52L323.35 317.42L323.60 319.57L323.85 321.89L324.10 324.30L324.35 326.73L324.60 329.11L324.85 331.41L325.10 333.60L325.35 335.66L325.60 337.57L325.85 339.35L326.10 340.95L326.35 342.34L326.60 343.55L326.85 344.59L327.10 345.49L327.35 346.26L327.60 346.92L327.85 347.49L328.10 347.98L328.35 348.41L328.60 348.79L328.85 349.12L329.10 349.41L329.35 349.67L329.60 349.90L329.85 350.10L330.10 350.28L330.35 350.44L330.60 350.57L330.85 350.69L331.10 350.78L331.35 350.86L331.60 350.93L331.85 350.99L332.10 351.04L332.35 351.07L332.60 351.10L332.85 351.13L333.10 351.14L333.35 351.16L333.60 351.17L333.85 351.18L334.10 351.18L334.35 351.19L334.60 351.19L334.85 351.19L335.10 351.20L335.35 351.20L335.60 351.20L335.85 351.20L336.10 351.20L336.35 351.20L336.60 351.20L336.85 351.20L337.10 351.20L337.35 351.20L337.60 351.20L337.85 351.20L338.10 351.20L338.35 351.20L338.60 351.20L338.85 351.20L339.10 351.20L339.35 351.20L339.60 351.20L339.85 351.20L340.10 351.20L340.35 351.20L340.60 351.20L340.85 351.20L341.10 351.20L341.35 351.20L341.60 351.20L341.85 351.20L342.10 351.20L342.35 351.20L342.60 351.20L342.85 351.20L343.10 351.20L343.35 351.20L343.60 351.20L343.85 351.20L344.10 351.20L344.35 351.20L344.60 351.20L344.85 351.20L345.10 351.20L345.35 351.20L345.60 351.20L345.85 351.20L346.10 351.20L346.35 351.20L346.60 351.20L346.85 351.20L347.10 351.20L347.35 351.20L347.60 351.20L347.85 351.20L348.10 351.20L348.35 351.20L348.60 351.20L348.85 351.20L349.10 351.20L349.35 351.20L349.60 351.20L349.85 351.20L350.10 351.20L350.35 351.20L350.60 351.20L350.85 351.20L351.10 351.20L351.35 351.20L351.60 351.20L351.85 351.20L352.10 351.20L352.35 351.20L352.60 351.20L352.85 351.20L353.10 351.20L353.35 351.20L353.60 351.20L353.85 351.20L354.10 351.20L354.35 351.20L354.60 351.20L354.85 351.20L355.10 351.20L355.35 351.20" stroke="#cc2250" fill="none" stroke-width="1.15" stroke-linejoin="round"/>
<path d="M313.60 351.20L313.85 351.20L314.10 351.20L314.35 351.20L314.60 351.20L314.85 351.20L315.10 351.20L315.35 351.20L315.60 351.20L315.85 351.20L316.10 351.20L316.35 351.19L316.60 351.18L316.85 351.17L317.10 351.13L317.35 351.08L317.60 350.98L317.85 350.81L318.10 350.54L318.35 350.12L318.60 349.48L318.85 348.56L319.10 347.26L319.35 345.52L319.60 343.26L319.85 340.45L320.10 337.11L320.35 333.30L320.60 329.18L320.85 324.95L321.10 320.90L321.35 317.33L321.60 314.52L321.85 312.72L322.10 312.10L322.35 312.57L322.60 313.96L322.85 316.17L323.10 319.04L323.35 322.38L323.60 326.00L323.85 329.70L324.10 333.30L324.35 336.65L324.60 339.66L324.85 342.27L325.10 344.46L325.35 346.23L325.60 347.63L325.85 348.69L326.10 349.48L326.35 350.05L326.60 350.45L326.85 350.72L327.10 350.90L327.35 351.02L327.60 351.09L327.85 351.14L328.10 351.17L328.35 351.18L328.60 351.19L328.85 351.19L329.10 351.20L329.35 351.20L329.60 351.20L329.85 351.20L330.10 351.20L330.35 351.20L330.60 351.20L330.85 351.20L331.10 351.20L331.35 351.20L331.60 351.20L331.85 351.20L332.10 351.20L332.35 351.20L332.60 351.20L332.85 351.20L333.10 351.20L333.35 351.20L333.60 351.20L333.85 351.20L334.10 351.20L334.35 351.20L334.60 351.20L334.85 351.20L335.10 351.20L335.35 351.20L335.60 351.20L335.85 351.20L336.10 351.20L336.35 351.20L336.60 351.20L336.85 351.20L337.10 351.20L337.35 351.20L337.60 351.20L337.85 351.20L338.10 351.20L338.35 351.20L338.60 351.20L338.85 351.20L339.10 351.20L339.35 351.20L339.60 351.20L339.85 351.20L340.10 351.20L340.35 351.20L340.60 351.20L340.85 351.20L341.10 351.20L341.35 351.20L341.60 351.20L341.85 351.20L342.10 351.20L342.35 351.20L342.60 351.20L342.85 351.20L343.10 351.20L343.35 351.20L343.60 351.20L343.85 351.20L344.10 351.20L344.35 351.20L344.60 351.20L344.85 351.20L345.10 351.20L345.35 351.20L345.60 351.20L345.85 351.20L346.10 351.20L346.35 351.20L346.60 351.20L346.85 351.20L347.10 351.20L347.35 351.20L347.60 351.20L347.85 351.20L348.10 351.20L348.35 351.20L348.60 351.20L348.85 351.20L349.10 351.20L349.35 351.20L349.60 351.20L349.85 351.20L350.10 351.20L350.35 351.20L350.60 351.20L350.85 351.20L351.10 351.20L351.35 351.20L351.60 351.20L351.85 351.20L352.10 351.20L352.35 351.20L352.60 351.20L352.85 351.20L353.10 351.20L353.35 351.20L353.60 351.20L353.85 351.20L354.10 351.20L354.35 351.20L354.60 351.20L354.85 351.20L355.10 351.20L355.35 351.20" stroke="#34588f" fill="none" stroke-width="1.15" stroke-linejoin="round" stroke-opacity="0.9"/>
<rect x="313.30" y="310.00" width="42.50" height="42.00" fill="none" stroke="#505050" stroke-width="1.05" rx="0.8"/>
<path d="M359.90 351.20L360.15 351.20L360.40 351.20L360.65 351.20L360.90 351.20L361.15 351.20L361.40 351.20L361.65 351.20L361.90 351.20L362.15 351.20L362.40 351.20L362.65 351.20L362.90 351.19L363.15 351.19L363.40 351.17L363.65 351.15L363.90 351.10L364.15 351.01L364.40 350.85L364.65 350.58L364.90 350.15L365.15 349.47L365.40 348.45L365.65 347.00L365.90 345.01L366.15 342.40L366.40 339.15L366.65 335.30L366.90 330.98L367.15 326.40L367.40 321.90L367.65 317.82L367.90 314.54L368.15 312.38L368.40 312.10L368.65 312.10L368.90 312.78L369.15 314.39L369.40 316.55L369.65 319.13L369.90 322.00L370.15 325.02L370.40 328.04L370.65 330.96L370.90 333.68L371.15 336.13L371.40 338.26L371.65 340.08L371.90 341.57L372.15 342.77L372.40 343.71L372.65 344.43L372.90 344.97L373.15 345.38L373.40 345.70L373.65 345.95L373.90 346.17L374.15 346.36L374.40 346.54L374.65 346.73L374.90 346.93L375.15 347.14L375.40 347.36L375.65 347.60L375.90 347.84L376.15 348.10L376.40 348.35L376.65 348.61L376.90 348.86L377.15 349.10L377.40 349.33L377.65 349.55L377.90 349.76L378.15 349.95L378.40 350.12L378.65 350.28L378.90 350.42L379.15 350.54L379.40 350.65L379.65 350.75L379.90 350.83L380.15 350.90L380.40 350.95L380.65 351.00L380.90 351.04L381.15 351.08L381.40 351.10L381.65 351.12L381.90 351.14L382.15 351.16L382.40 351.17L382.65 351.17L382.90 351.18L383.15 351.19L383.40 351.19L383.65 351.19L383.90 351.19L384.15 351.20L384.40 351.20L384.65 351.20L384.90 351.20L385.15 351.20L385.40 351.20L385.65 351.20L385.90 351.20L386.15 351.20L386.40 351.20L386.65 351.20L386.90 351.20L387.15 351.20L387.40 351.20L387.65 351.20L387.90 351.20L388.15 351.20L388.40 351.20L388.65 351.20L388.90 351.20L389.15 351.20L389.40 351.20L389.65 351.20L389.90 351.20L390.15 351.20L390.40 351.20L390.65 351.20L390.90 351.20L391.15 351.20L391.40 351.20L391.65 351.20L391.90 351.20L392.15 351.20L392.40 351.20L392.65 351.20L392.90 351.20L393.15 351.20L393.40 351.20L393.65 351.20L393.90 351.20L394.15 351.20L394.40 351.20L394.65 351.20L394.90 351.20L395.15 351.20L395.40 351.20L395.65 351.20L395.90 351.20L396.15 351.20L396.40 351.20L396.65 351.20L396.90 351.20L397.15 351.20L397.40 351.20L397.65 351.20L397.90 351.20L398.15 351.20L398.40 351.20L398.65 351.20L398.90 351.20L399.15 351.20L399.40 351.20L399.65 351.20L399.90 351.20L400.15 351.20L400.40 351.20L400.65 351.20L400.90 351.20L401.15 351.20L401.40 351.20L401.65 351.20" stroke="#cc2250" fill="none" stroke-width="1.15" stroke-linejoin="round"/>
<path d="M359.90 351.20L360.15 351.20L360.40 351.20L360.65 351.20L360.90 351.20L361.15 351.20L361.40 351.20L361.65 351.20L361.90 351.20L362.15 351.20L362.40 351.20L362.65 351.20L362.90 351.19L363.15 351.19L363.40 351.18L363.65 351.15L363.90 351.10L364.15 351.01L364.40 350.86L364.65 350.59L364.90 350.16L365.15 349.48L365.40 348.47L365.65 347.03L365.90 345.05L366.15 342.46L366.40 339.23L366.65 335.40L366.90 331.11L367.15 326.57L367.40 322.11L367.65 318.09L367.90 314.89L368.15 312.82L368.40 312.10L368.65 312.68L368.90 314.36L369.15 317.00L369.40 320.38L369.65 324.23L369.90 328.30L370.15 332.33L370.40 336.10L370.65 339.47L370.90 342.36L371.15 344.73L371.40 346.60L371.65 348.03L371.90 349.08L372.15 349.82L372.40 350.33L372.65 350.67L372.90 350.88L373.15 351.02L373.40 351.10L373.65 351.14L373.90 351.17L374.15 351.18L374.40 351.19L374.65 351.20L374.90 351.20L375.15 351.20L375.40 351.20L375.65 351.20L375.90 351.20L376.15 351.20L376.40 351.20L376.65 351.20L376.90 351.20L377.15 351.20L377.40 351.20L377.65 351.20L377.90 351.20L378.15 351.20L378.40 351.20L378.65 351.20L378.90 351.20L379.15 351.20L379.40 351.20L379.65 351.20L379.90 351.20L380.15 351.20L380.40 351.20L380.65 351.20L380.90 351.20L381.15 351.20L381.40 351.20L381.65 351.20L381.90 351.20L382.15 351.20L382.40 351.20L382.65 351.20L382.90 351.20L383.15 351.20L383.40 351.20L383.65 351.20L383.90 351.20L384.15 351.20L384.40 351.20L384.65 351.20L384.90 351.20L385.15 351.20L385.40 351.20L385.65 351.20L385.90 351.20L386.15 351.20L386.40 351.20L386.65 351.20L386.90 351.20L387.15 351.20L387.40 351.20L387.65 351.20L387.90 351.20L388.15 351.20L388.40 351.20L388.65 351.20L388.90 351.20L389.15 351.20L389.40 351.20L389.65 351.20L389.90 351.20L390.15 351.20L390.40 351.20L390.65 351.20L390.90 351.20L391.15 351.20L391.40 351.20L391.65 351.20L391.90 351.20L392.15 351.20L392.40 351.20L392.65 351.20L392.90 351.20L393.15 351.20L393.40 351.20L393.65 351.20L393.90 351.20L394.15 351.20L394.40 351.20L394.65 351.20L394.90 351.20L395.15 351.20L395.40 351.20L395.65 351.20L395.90 351.20L396.15 351.20L396.40 351.20L396.65 351.20L396.90 351.20L397.15 351.20L397.40 351.20L397.65 351.20L397.90 351.20L398.15 351.20L398.40 351.20L398.65 351.20L398.90 351.20L399.15 351.20L399.40 351.20L399.65 351.20L399.90 351.20L400.15 351.20L400.40 351.20L400.65 351.20L400.90 351.20L401.15 351.20L401.40 351.20L401.65 351.20" stroke="#34588f" fill="none" stroke-width="1.15" stroke-linejoin="round" stroke-opacity="0.9"/>
<rect x="359.60" y="310.00" width="42.50" height="42.00" fill="none" stroke="#505050" stroke-width="1.05" rx="0.8"/>
<path d="M267.50 397.10L267.75 397.10L268.00 397.10L268.25 397.10L268.50 397.10L268.75 397.10L269.00 397.10L269.25 397.10L269.50 397.09L269.75 397.08L270.00 397.04L270.25 396.96L270.50 396.78L270.75 396.43L271.00 395.77L271.25 394.63L271.50 392.78L271.75 390.03L272.00 386.21L272.25 381.36L272.50 375.71L272.75 369.79L273.00 364.35L273.25 360.18L273.50 358.00L273.75 358.00L274.00 359.29L274.25 361.76L274.50 365.12L274.75 369.06L275.00 373.23L275.25 377.35L275.50 381.16L275.75 384.50L276.00 387.30L276.25 389.54L276.50 391.27L276.75 392.58L277.00 393.52L277.25 394.18L277.50 394.64L277.75 394.96L278.00 395.20L278.25 395.38L278.50 395.54L278.75 395.68L279.00 395.81L279.25 395.93L279.50 396.05L279.75 396.17L280.00 396.28L280.25 396.39L280.50 396.48L280.75 396.57L281.00 396.65L281.25 396.73L281.50 396.79L281.75 396.85L282.00 396.89L282.25 396.93L282.50 396.97L282.75 397.00L283.00 397.02L283.25 397.04L283.50 397.05L283.75 397.06L284.00 397.07L284.25 397.08L284.50 397.08L284.75 397.09L285.00 397.09L285.25 397.09L285.50 397.10L285.75 397.10L286.00 397.10L286.25 397.10L286.50 397.10L286.75 397.10L287.00 397.10L287.25 397.10L287.50 397.10L287.75 397.10L288.00 397.10L288.25 397.10L288.50 397.10L288.75 397.10L289.00 397.10L289.25 397.10L289.50 397.10L289.75 397.10L290.00 397.10L290.25 397.10L290.50 397.10L290.75 397.10L291.00 397.10L291.25 397.10L291.50 397.10L291.75 397.10L292.00 397.10L292.25 397.10L292.50 397.10L292.75 397.10L293.00 397.10L293.25 397.10L293.50 397.10L293.75 397.10L294.00 397.10L294.25 397.10L294.50 397.10L294.75 397.10L295.00 397.10L295.25 397.10L295.50 397.10L295.75 397.10L296.00 397.10L296.25 397.10L296.50 397.10L296.75 397.10L297.00 397.10L297.25 397.10L297.50 397.10L297.75 397.10L298.00 397.10L298.25 397.10L298.50 397.10L298.75 397.10L299.00 397.10L299.25 397.10L299.50 397.10L299.75 397.10L300.00 397.10L300.25 397.10L300.50 397.10L300.75 397.10L301.00 397.10L301.25 397.10L301.50 397.10L301.75 397.10L302.00 397.10L302.25 397.10L302.50 397.10L302.75 397.10L303.00 397.10L303.25 397.10L303.50 397.10L303.75 397.10L304.00 397.10L304.25 397.10L304.50 397.10L304.75 397.10L305.00 397.10L305.25 397.10L305.50 397.10L305.75 397.10L306.00 397.10L306.25 397.10L306.50 397.10L306.75 397.10L307.00 397.10L307.25 397.10L307.50 397.10L307.75 397.10L308.00 397.10L308.25 397.10L308.50 397.10L308.75 397.10L309.00 397.10L309.25 397.10" stroke="#cc2250" fill="none" stroke-width="1.15" stroke-linejoin="round"/>
<path d="M267.50 397.10L267.75 397.10L268.00 397.10L268.25 397.10L268.50 397.10L268.75 397.10L269.00 397.10L269.25 397.10L269.50 397.09L269.75 397.08L270.00 397.04L270.25 396.96L270.50 396.78L270.75 396.43L271.00 395.77L271.25 394.63L271.50 392.79L271.75 390.04L272.00 386.23L272.25 381.38L272.50 375.75L272.75 369.85L273.00 364.44L273.25 360.32L273.50 358.20L273.75 358.26L274.00 359.81L274.25 362.59L274.50 366.33L274.75 370.66L275.00 375.21L275.25 379.63L275.50 383.66L275.75 387.14L276.00 389.99L276.25 392.20L276.50 393.85L276.75 395.02L277.00 395.82L277.25 396.34L277.50 396.67L277.75 396.86L278.00 396.97L278.25 397.03L278.50 397.07L278.75 397.08L279.00 397.09L279.25 397.10L279.50 397.10L279.75 397.10L280.00 397.10L280.25 397.10L280.50 397.10L280.75 397.10L281.00 397.10L281.25 397.10L281.50 397.10L281.75 397.10L282.00 397.10L282.25 397.10L282.50 397.10L282.75 397.10L283.00 397.10L283.25 397.10L283.50 397.10L283.75 397.10L284.00 397.10L284.25 397.10L284.50 397.10L284.75 397.10L285.00 397.10L285.25 397.10L285.50 397.10L285.75 397.10L286.00 397.10L286.25 397.10L286.50 397.10L286.75 397.10L287.00 397.10L287.25 397.10L287.50 397.10L287.75 397.10L288.00 397.10L288.25 397.10L288.50 397.10L288.75 397.10L289.00 397.10L289.25 397.10L289.50 397.10L289.75 397.10L290.00 397.10L290.25 397.10L290.50 397.10L290.75 397.10L291.00 397.10L291.25 397.10L291.50 397.10L291.75 397.10L292.00 397.10L292.25 397.10L292.50 397.10L292.75 397.10L293.00 397.10L293.25 397.10L293.50 397.10L293.75 397.10L294.00 397.10L294.25 397.10L294.50 397.10L294.75 397.10L295.00 397.10L295.25 397.10L295.50 397.10L295.75 397.10L296.00 397.10L296.25 397.10L296.50 397.10L296.75 397.10L297.00 397.10L297.25 397.10L297.50 397.10L297.75 397.10L298.00 397.10L298.25 397.10L298.50 397.10L298.75 397.10L299.00 397.10L299.25 397.10L299.50 397.10L299.75 397.10L300.00 397.10L300.25 397.10L300.50 397.10L300.75 397.10L301.00 397.10L301.25 397.10L301.50 397.10L301.75 397.10L302.00 397.10L302.25 397.10L302.50 397.10L302.75 397.10L303.00 397.10L303.25 397.10L303.50 397.10L303.75 397.10L304.00 397.10L304.25 397.10L304.50 397.10L304.75 397.10L305.00 397.10L305.25 397.10L305.50 397.10L305.75 397.10L306.00 397.10L306.25 397.10L306.50 397.10L306.75 397.10L307.00 397.10L307.25 397.10L307.50 397.10L307.75 397.10L308.00 397.10L308.25 397.10L308.50 397.10L308.75 397.10L309.00 397.10L309.25 397.10" stroke="#34588f" fill="none" stroke-width="1.15" stroke-linejoin="round" stroke-opacity="0.9"/>
<rect x="267.20" y="355.90" width="42.50" height="42.00" fill="none" stroke="#505050" stroke-width="1.05" rx="0.8"/>
<path d="M313.60 397.10L313.85 397.10L314.10 397.10L314.35 397.10L314.60 397.10L314.85 397.10L315.10 397.10L315.35 397.10L315.60 397.09L315.85 397.08L316.10 397.06L316.35 396.99L316.60 396.83L316.85 396.51L317.10 395.87L317.35 394.73L317.60 392.83L317.85 389.92L318.10 385.84L318.35 380.62L318.60 374.59L318.85 368.40L319.10 362.95L319.35 359.16L319.60 358.00L319.85 358.38L320.10 360.32L320.35 363.38L320.60 367.21L320.85 371.47L321.10 375.77L321.35 379.83L321.60 383.42L321.85 386.44L322.10 388.84L322.35 390.68L322.60 392.05L322.85 393.04L323.10 393.73L323.35 394.20L323.60 394.53L323.85 394.77L324.10 394.95L324.35 395.11L324.60 395.27L324.85 395.41L325.10 395.56L325.35 395.70L325.60 395.85L325.85 395.99L326.10 396.12L326.35 396.24L326.60 396.36L326.85 396.47L327.10 396.57L327.35 396.65L327.60 396.73L327.85 396.80L328.10 396.85L328.35 396.90L328.60 396.94L328.85 396.97L329.10 397.00L329.35 397.02L329.60 397.04L329.85 397.06L330.10 397.07L330.35 397.08L330.60 397.08L330.85 397.09L331.10 397.09L331.35 397.09L331.60 397.10L331.85 397.10L332.10 397.10L332.35 397.10L332.60 397.10L332.85 397.10L333.10 397.10L333.35 397.10L333.60 397.10L333.85 397.10L334.10 397.10L334.35 397.10L334.60 397.10L334.85 397.10L335.10 397.10L335.35 397.10L335.60 397.10L335.85 397.10L336.10 397.10L336.35 397.10L336.60 397.10L336.85 397.10L337.10 397.10L337.35 397.10L337.60 397.10L337.85 397.10L338.10 397.10L338.35 397.10L338.60 397.10L338.85 397.10L339.10 397.10L339.35 397.10L339.60 397.10L339.85 397.10L340.10 397.10L340.35 397.10L340.60 397.10L340.85 397.10L341.10 397.10L341.35 397.10L341.60 397.10L341.85 397.10L342.10 397.10L342.35 397.10L342.60 397.10L342.85 397.10L343.10 397.10L343.35 397.10L343.60 397.10L343.85 397.10L344.10 397.10L344.35 397.10L344.60 397.10L344.85 397.10L345.10 397.10L345.35 397.10L345.60 397.10L345.85 397.10L346.10 397.10L346.35 397.10L346.60 397.10L346.85 397.10L347.10 397.10L347.35 397.10L347.60 397.10L347.85 397.10L348.10 397.10L348.35 397.10L348.60 397.10L348.85 397.10L349.10 397.10L349.35 397.10L349.60 397.10L349.85 397.10L350.10 397.10L350.35 397.10L350.60 397.10L350.85 397.10L351.10 397.10L351.35 397.10L351.60 397.10L351.85 397.10L352.10 397.10L352.35 397.10L352.60 397.10L352.85 397.10L353.10 397.10L353.35 397.10L353.60 397.10L353.85 397.10L354.10 397.10L354.35 397.10L354.60 397.10L354.85 397.10L355.10 397.10L355.35 397.10" stroke="#cc2250" fill="none" stroke-width="1.15" stroke-linejoin="round"/>
<path d="M313.60 397.10L313.85 397.10L314.10 397.10L314.35 397.10L314.60 397.10L314.85 397.10L315.10 397.10L315.35 397.10L315.60 397.09L315.85 397.08L316.10 397.06L316.35 396.99L316.60 396.83L316.85 396.51L317.10 395.87L317.35 394.73L317.60 392.84L317.85 389.93L318.10 385.86L318.35 380.65L318.60 374.63L318.85 368.47L319.10 363.06L319.35 359.33L319.60 358.00L319.85 358.72L320.10 360.79L320.35 363.99L320.60 368.01L320.85 372.47L321.10 377.01L321.35 381.30L321.60 385.13L321.85 388.36L322.10 390.95L322.35 392.93L322.60 394.37L322.85 395.38L323.10 396.06L323.35 396.49L323.60 396.76L323.85 396.91L324.10 397.00L324.35 397.05L324.60 397.08L324.85 397.09L325.10 397.09L325.35 397.10L325.60 397.10L325.85 397.10L326.10 397.10L326.35 397.10L326.60 397.10L326.85 397.10L327.10 397.10L327.35 397.10L327.60 397.10L327.85 397.10L328.10 397.10L328.35 397.10L328.60 397.10L328.85 397.10L329.10 397.10L329.35 397.10L329.60 397.10L329.85 397.10L330.10 397.10L330.35 397.10L330.60 397.10L330.85 397.10L331.10 397.10L331.35 397.10L331.60 397.10L331.85 397.10L332.10 397.10L332.35 397.10L332.60 397.10L332.85 397.10L333.10 397.10L333.35 397.10L333.60 397.10L333.85 397.10L334.10 397.10L334.35 397.10L334.60 397.10L334.85 397.10L335.10 397.10L335.35 397.10L335.60 397.10L335.85 397.10L336.10 397.10L336.35 397.10L336.60 397.10L336.85 397.10L337.10 397.10L337.35 397.10L337.60 397.10L337.85 397.10L338.10 397.10L338.35 397.10L338.60 397.10L338.85 397.10L339.10 397.10L339.35 397.10L339.60 397.10L339.85 397.10L340.10 397.10L340.35 397.10L340.60 397.10L340.85 397.10L341.10 397.10L341.35 397.10L341.60 397.10L341.85 397.10L342.10 397.10L342.35 397.10L342.60 397.10L342.85 397.10L343.10 397.10L343.35 397.10L343.60 397.10L343.85 397.10L344.10 397.10L344.35 397.10L344.60 397.10L344.85 397.10L345.10 397.10L345.35 397.10L345.60 397.10L345.85 397.10L346.10 397.10L346.35 397.10L346.60 397.10L346.85 397.10L347.10 397.10L347.35 397.10L347.60 397.10L347.85 397.10L348.10 397.10L348.35 397.10L348.60 397.10L348.85 397.10L349.10 397.10L349.35 397.10L349.60 397.10L349.85 397.10L350.10 397.10L350.35 397.10L350.60 397.10L350.85 397.10L351.10 397.10L351.35 397.10L351.60 397.10L351.85 397.10L352.10 397.10L352.35 397.10L352.60 397.10L352.85 397.10L353.10 397.10L353.35 397.10L353.60 397.10L353.85 397.10L354.10 397.10L354.35 397.10L354.60 397.10L354.85 397.10L355.10 397.10L355.35 397.10" stroke="#34588f" fill="none" stroke-width="1.15" stroke-linejoin="round" stroke-opacity="0.9"/>
<rect x="313.30" y="355.90" width="42.50" height="42.00" fill="none" stroke="#505050" stroke-width="1.05" rx="0.8"/>
<path d="M359.90 397.10L360.15 397.10L360.40 397.10L360.65 397.10L360.90 397.10L361.15 397.10L361.40 397.10L361.65 397.10L361.90 397.10L362.15 397.10L362.40 397.09L362.65 397.08L362.90 397.06L363.15 397.00L363.40 396.87L363.65 396.59L363.90 396.07L364.15 395.14L364.40 393.60L364.65 391.20L364.90 387.77L365.15 383.22L365.40 377.68L365.65 371.53L365.90 365.39L366.15 360.01L366.40 358.00L366.65 358.00L366.90 358.00L367.15 358.00L367.40 358.00L367.65 360.84L367.90 364.19L368.15 367.47L368.40 370.55L368.65 373.42L368.90 375.91L369.15 377.71L369.40 378.95L369.65 379.80L369.90 380.42L370.15 380.89L370.40 381.30L370.65 381.69L370.90 382.09L371.15 382.50L371.40 382.94L371.65 383.41L371.90 383.90L372.15 384.41L372.40 384.93L372.65 385.47L372.90 386.02L373.15 386.57L373.40 387.12L373.65 387.68L373.90 388.23L374.15 388.77L374.40 389.30L374.65 389.82L374.90 390.32L375.15 390.81L375.40 391.28L375.65 391.73L375.90 392.16L376.15 392.57L376.40 392.96L376.65 393.32L376.90 393.67L377.15 393.99L377.40 394.29L377.65 394.57L377.90 394.82L378.15 395.06L378.40 395.28L378.65 395.48L378.90 395.66L379.15 395.83L379.40 395.98L379.65 396.11L379.90 396.23L380.15 396.34L380.40 396.44L380.65 396.52L380.90 396.60L381.15 396.67L381.40 396.73L381.65 396.78L381.90 396.83L382.15 396.87L382.40 396.90L382.65 396.93L382.90 396.96L383.15 396.98L383.40 397.00L383.65 397.01L383.90 397.03L384.15 397.04L384.40 397.05L384.65 397.06L384.90 397.07L385.15 397.07L385.40 397.08L385.65 397.08L385.90 397.08L386.15 397.09L386.40 397.09L386.65 397.09L386.90 397.09L387.15 397.09L387.40 397.10L387.65 397.10L387.90 397.10L388.15 397.10L388.40 397.10L388.65 397.10L388.90 397.10L389.15 397.10L389.40 397.10L389.65 397.10L389.90 397.10L390.15 397.10L390.40 397.10L390.65 397.10L390.90 397.10L391.15 397.10L391.40 397.10L391.65 397.10L391.90 397.10L392.15 397.10L392.40 397.10L392.65 397.10L392.90 397.10L393.15 397.10L393.40 397.10L393.65 397.10L393.90 397.10L394.15 397.10L394.40 397.10L394.65 397.10L394.90 397.10L395.15 397.10L395.40 397.10L395.65 397.10L395.90 397.10L396.15 397.10L396.40 397.10L396.65 397.10L396.90 397.10L397.15 397.10L397.40 397.10L397.65 397.10L397.90 397.10L398.15 397.10L398.40 397.10L398.65 397.10L398.90 397.10L399.15 397.10L399.40 397.10L399.65 397.10L399.90 397.10L400.15 397.10L400.40 397.10L400.65 397.10L400.90 397.10L401.15 397.10L401.40 397.10L401.65 397.10" stroke="#cc2250" fill="none" stroke-width="1.15" stroke-linejoin="round"/>
<path d="M359.90 397.10L360.15 397.10L360.40 397.10L360.65 397.10L360.90 397.10L361.15 397.10L361.40 397.10L361.65 397.10L361.90 397.10L362.15 397.10L362.40 397.09L362.65 397.08L362.90 397.06L363.15 397.00L363.40 396.87L363.65 396.60L363.90 396.08L364.15 395.16L364.40 393.62L364.65 391.26L364.90 387.88L365.15 383.43L365.40 378.07L365.65 372.20L365.90 366.50L366.15 361.77L366.40 358.77L366.65 358.04L366.90 359.31L367.15 362.23L367.40 366.40L367.65 371.33L367.90 376.46L368.15 381.33L368.40 385.61L368.65 389.12L368.90 391.81L369.15 393.75L369.40 395.08L369.65 395.94L369.90 396.46L370.15 396.77L370.40 396.93L370.65 397.02L370.90 397.06L371.15 397.08L371.40 397.09L371.65 397.10L371.90 397.10L372.15 397.10L372.40 397.10L372.65 397.10L372.90 397.10L373.15 397.10L373.40 397.10L373.65 397.10L373.90 397.10L374.15 397.10L374.40 397.10L374.65 397.10L374.90 397.10L375.15 397.10L375.40 397.10L375.65 397.10L375.90 397.10L376.15 397.10L376.40 397.10L376.65 397.10L376.90 397.10L377.15 397.10L377.40 397.10L377.65 397.10L377.90 397.10L378.15 397.10L378.40 397.10L378.65 397.10L378.90 397.10L379.15 397.10L379.40 397.10L379.65 397.10L379.90 397.10L380.15 397.10L380.40 397.10L380.65 397.10L380.90 397.10L381.15 397.10L381.40 397.10L381.65 397.10L381.90 397.10L382.15 397.10L382.40 397.10L382.65 397.10L382.90 397.10L383.15 397.10L383.40 397.10L383.65 397.10L383.90 397.10L384.15 397.10L384.40 397.10L384.65 397.10L384.90 397.10L385.15 397.10L385.40 397.10L385.65 397.10L385.90 397.10L386.15 397.10L386.40 397.10L386.65 397.10L386.90 397.10L387.15 397.10L387.40 397.10L387.65 397.10L387.90 397.10L388.15 397.10L388.40 397.10L388.65 397.10L388.90 397.10L389.15 397.10L389.40 397.10L389.65 397.10L389.90 397.10L390.15 397.10L390.40 397.10L390.65 397.10L390.90 397.10L391.15 397.10L391.40 397.10L391.65 397.10L391.90 397.10L392.15 397.10L392.40 397.10L392.65 397.10L392.90 397.10L393.15 397.10L393.40 397.10L393.65 397.10L393.90 397.10L394.15 397.10L394.40 397.10L394.65 397.10L394.90 397.10L395.15 397.10L395.40 397.10L395.65 397.10L395.90 397.10L396.15 397.10L396.40 397.10L396.65 397.10L396.90 397.10L397.15 397.10L397.40 397.10L397.65 397.10L397.90 397.10L398.15 397.10L398.40 397.10L398.65 397.10L398.90 397.10L399.15 397.10L399.40 397.10L399.65 397.10L399.90 397.10L400.15 397.10L400.40 397.10L400.65 397.10L400.90 397.10L401.15 397.10L401.40 397.10L401.65 397.10" stroke="#34588f" fill="none" stroke-width="1.15" stroke-linejoin="round" stroke-opacity="0.9"/>
<rect x="359.60" y="355.90" width="42.50" height="42.00" fill="none" stroke="#505050" stroke-width="1.05" rx="0.8"/>
<path d="M360.20 381.40V397.20" stroke="#cc2250" fill="none" stroke-width="0.9"/>
<text x="280.20" y="258.40" font-size="6.6" fill="#333" stroke="#333" stroke-width="0.12">GFP<tspan font-size="4.4" dy="-3.0">HI</tspan></text>
<text x="323.80" y="258.40" font-size="6.6" fill="#333" stroke="#333" stroke-width="0.12">GFP<tspan font-size="4.4" dy="-3.0">INT</tspan></text>
<text x="370.60" y="258.40" font-size="6.6" fill="#333" stroke="#333" stroke-width="0.12">GFP<tspan font-size="4.4" dy="-3.0">LO</tspan></text>
<text x="262.60" y="283.90" font-size="6.8" fill="#333" text-anchor="middle" textLength="11.30" lengthAdjust="spacingAndGlyphs" transform="rotate(-90 262.60 283.90)" stroke="#333" stroke-width="0.12">PD1</text>
<text x="262.60" y="328.20" font-size="6.8" fill="#333" text-anchor="middle" textLength="20.40" lengthAdjust="spacingAndGlyphs" transform="rotate(-90 262.60 328.20)" stroke="#333" stroke-width="0.12">Lag-3</text>
<text x="262.60" y="374.80" font-size="6.8" fill="#333" text-anchor="middle" textLength="22.70" lengthAdjust="spacingAndGlyphs" transform="rotate(-90 262.60 374.80)" stroke="#333" stroke-width="0.12">CTLA-4</text>
<line x1="405.20" y1="282.70" x2="416.10" y2="282.70" stroke="#cc2250" stroke-width="1.1"/>
<line x1="405.20" y1="328.40" x2="416.10" y2="328.40" stroke="#34588f" stroke-width="1.1"/>
<text x="419.80" y="285.10" font-size="7.0" fill="#333" stroke="#333" stroke-width="0.12">HOD<tspan font-size="4.6" dy="-2.8">+</tspan><tspan dy="2.8"> OTII.</tspan></text>
<text x="419.80" y="293.20" font-size="7.0" fill="#333" textLength="34.40" lengthAdjust="spacingAndGlyphs" stroke="#333" stroke-width="0.12">Rag2p-GFP</text>
<text x="419.80" y="330.70" font-size="7.0" fill="#333" stroke="#333" stroke-width="0.12">HOD<tspan font-size="4.3" dy="-2.8">NEG</tspan><tspan dy="2.8"> OTII.</tspan></text>
<text x="419.80" y="338.80" font-size="7.0" fill="#333" textLength="34.40" lengthAdjust="spacingAndGlyphs" stroke="#333" stroke-width="0.12">Rag2p-GFP</text>
<line x1="94.50" y1="475.80" x2="94.50" y2="532.30" stroke="#6e6e6e" stroke-width="0.9"/>
<line x1="74.50" y1="512.30" x2="131.10" y2="512.30" stroke="#6e6e6e" stroke-width="0.9"/>
<path d="M97 505.1h0m-8.5 6.8h0m-5.5-2.5h0m1.6 3.8h0m4.2 8.9h0m-.9 .6h0m1-8.2h0m-3.1-8.6h0m-6.3 7.1h0m6.5 3.1h0m2.3-12.5h0m-4.8 1.1h0m7.8 7.9h0m-4-6.3h0m-6.4 2.6h0m5.3 8.2h0m-6.4-1h0m3-6.8h0m2.4 .7h0m3.6 10.4h0m-.6-11.2h0m.4 7.2h0m2-.8h0m-11.3-8.2h0m5.6 13.3h0m1.2-.1h0m1.9-16.5h0m-1.1 13.7h0m1.6-16.1h0m.1 7.1h0m-11.5 .1h0m.6-5.5h0m13.8 13.5h0m3.8-.8h0m-13.1-22h0m8.6 1.5h0m-3.8 11h0m4.4 6.2h0m-3.8 4.2h0m-3.6-1.9h0m13.3-9h0m-9.8 11.6h0m-3.3-4.6h0m-5.3-3.1h0m8 12.4h0m4.2-13.5h0m-.3-10.5h0m-5.6 8h0m-1.2-6.5h0m.8 9.6h0m.9 12.4h0m2.1-18h0m-9 5.5h0m13.2 11.7h0m-3.2-12.3h0m0 4.2h0m-7.1-2.8h0m5.9 14h0m-5.5-8.6h0m4.8-2.3h0m5.9 13.2h0m-3.8-.9h0m.3-3.9h0m-4-6.2h0m.1-10.2h0m-.5-.5h0m-3.2 5.8h0m2.4 19.8h0m11-7.9h0m-4.6-15.6h0m-2.3-4.7h0m-4.2 7.7h0m1.2 10.8h0m-.7 0h0m-4.9 .4h0m1.6-5.7h0m5.7 5.1h0m2.8-3.5h0m-4.9-3.1h0m-.1 1h0m-2.2-4.4h0m6.7-1.3h0m-.1-.1h0m4.4 3.7h0m1.5 5h0m-8.7 3.7h0m6 4.6h0m1-5.1h0m-11.8 .4h0m5-4.3h0m6.3-9h0m-3.3 3.2h0m3.8 4h0m-1.5 8.7h0m-11.9-7.6h0m0-8.2h0m9.8-4h0m-6.1 5.9h0m4.7 6.5h0m.6-6.9h0m-5.5 7.4h0m-.5-9.8h0m7.2 .1h0m-3.4-11.6h0m13.3 15.6h0m-9.9 8.3h0m-1.8-20.6h0m3.2 16.9h0m-5.8-15.3h0m-1.8 12.1h0m1.8 2.7h0m-.6 6.2h0m4.6-17.3h0m-5.7 12.7h0m.3-1.4h0m5.3-11.1h0m3 7.4h0m-9.1-3.9h0m-4.5-5.4h0m14.7 9.9h0m-8.2 2.6h0m4-7.9h0m-3.7 8.5h0m5.7-.1h0m3-3.8h0m-9.2-9.4h0m1.3 16.3h0m-.9-6.5h0m-3.4-3.4h0m2.4 4h0m7 4.8h0m-.7 5.4h0m-4-20h0m-3 9.9h0m2.6 7.5h0m-5.4-6.1h0m6.8-6.9h0m-.1 6.1h0m.6-9.7h0m.7 7.4h0m-6.4-15.3h0m3.1 14.6h0m11.8-6.7h0m-4.1 19.7h0m-4.9-8h0m.4-13.8h0m4.2 9.2h0m-10 2.5h0m-2-12.5h0m8.1 25.3h0m-2.6-15.3h0m1.4-1.5h0m-.9 7.3h0m-1.6-6.6h0m1.3 3.8h0m2.8-12.6h0m-8.2 8.2h0m7.3-6.5h0m3.4 21.9h0m-9-2.6h0m-6.2-9.8h0m2.2 9.4h0m11.3-4.5h0m-6.6-13.2h0m4.6 5h0m1.1-8.7h0m-1.1 16.8h0m-12.5-14.3h0m7.2 5.4h0m-4.7 4.9h0m2.7-.8h0m-3.2-8.9h0m11.6-4.2h0m.5 3.1h0m6.6 6.1h0m-6 12.1h0m-5.8-2.6h0m2.2-7.8h0m-.1 11.3h0m3.7-13.6h0m-.7 14.4h0m-3.1-6.3h0m-11.8-15.7h0m13 .6h0m2.2 21.3h0m-8.5-18.6h0m3.7 11.1h0m4.6-3.7h0m-3.6-6.1h0m1.2 1.8h0m3.3 11.7h0m-12.2-2.8h0m2.5 4.9h0m9.9 7.9h0m-3.4-15.2h0m4.1-10.2h0m-5.8 7.3h0m0-10.2h0m-7.5-1h0m14.5 11h0m-3.9 1.7h0m-13.6-.8h0m7.1-5.6h0m-3.8-4.9h0m1.9 21h0m2.3-12.5h0m2.4 8.7h0m5.6-3.4h0m-4.8 2.6h0m-3.7-2.4h0m11.5-6.9h0m-11.7-7.1h0m4.1 17.2h0m-2.2-7.6h0m7.4 2.9h0m-2.2-3.1h0m2.8 10.1h0m-6.6-12h0m12.3-3.8h0m-16.1-11.2h0m7.6 20.3h0m-3.5-12.6h0m.4 5.9h0m-5.4 4.3h0m6.8 .8h0m-3.7 7h0m3.4-8.7h0m1.5 5.3h0m1.6 4.2h0m-.8-11.3h0m2.6 12.7h0m-5.6-15.9h0m-.6-2.3h0m5.4 .2h0m1.5 3.2h0m-5.1-6.2h0m-2.2-1.4h0m3.7 6.4h0m-3.5 7.1h0m-6.4 3.6h0m14.9-9.8h0m-10.7 10.2h0m8.2-9.9h0m-4.6 9.8h0m3.8-9.4h0m6.5 22.7h0m-17.4-22.4h0m7.8 1.2h0m-4 5.1h0m-.9-4.8h0m4.3 1.7h0m.7 11.4h0m3.4-7.5h0m4.3-3.8h0m-5.3 17.4h0m-3.2-7.9h0m-3-10.9h0m3.1 8.3h0m.7 1.5h0m-.2-5.9h0m-4.2-.2h0m3 .8h0m4.8 1.9h0m-7.1 6.9h0m1.1-10.6h0m3.7-2.3h0m-2.1 .5h0m2.2 7.1h0m.5 .1h0m-1.7-.4h0m2.1-10.5h0m-8.9 8.1h0m6-2.5h0m6 5.6h0m-1-2.9h0m-11.8-11.4h0m11 11h0m2.8 2.8h0m-1.9-5.5h0m-10-10.4h0m9.1 .8h0m-6.7 12.6h0m4.4-15.1h0m-3.6 8.2h0m7.5 4.8h0m-5.7 7.7h0m.7-7.4h0m1.9-4.4h0m-9.5 .5h0m9 2.2h0m1.9 8.5h0m-3.8 3h0m.7-6.1h0m-2.9-3.3h0m.9 9h0m7.4 .2h0m-5.9-9.3h0m0-3.5h0m-1.2 1.9h0m-.1-15.8h0m.1 23.4h0m.7-9.4h0m5.7-3h0m5.7 1.9h0m-7.9 16.5h0m-1-10h0m-6.3-2.1h0m4.2 8.7h0m-10.9-2.9h0m4.9-9.5h0m4.5-.1h0m3.2-7.7h0m-.6 4.8h0m-3.8 7.2h0m-4.6 3.8h0m15.7-8.3h0m-2-10.7h0m-9 9.5h0m2.3 5.5h0m-5.2-2.6h0m9.3-3.9h0m-3.9 12.1h0m6.7-1.6h0m-6.6-10.6h0m.1 17.7h0m.9-.9h0m-4.1-3.4h0m.9-11.4h0m3.8 4h0m-3.8 7.6h0m-.8 2.5h0m3.3-13.1h0m-2.2-3.7h0m-3.9 4.2h0m2.6 1.1h0m-1.2-2.4h0m4.8-5.1h0m-1 11.7h0m4.7 7.4h0m1.3-1.5h0m-3-3.6h0m-4-4.6h0m.1-6.8h0m5.6 2.3h0m-3.4-1.2h0m-6.9 15.2h0m5.8-20.7h0m2.3 19.1h0m-4.2-1.5h0m7.1 3.6h0m-3-3.1h0m4.4-4.3h0m-8.4-3.8h0m15.5-5.7h0m-14.2-6.5h0m-.3 12.9h0m-.2 7.4h0m7-4.3h0m-10.2-5.6h0m3.7-1.7h0m-.4 9.7h0m1.2 11.6h0m-8.3-14.7h0m12.1-9.6h0m-12.3 24.8h0m11.9-12h0m1-12h0m-4.8-4.8h0m-5.3 .1h0m-5.7 11.2h0m10-3.9h0m-2.1 2.9h0m-.3-2.3h0m7.2 4.7h0m-2-14.6h0m-6.5 22.3h0m4.8 .1h0m-7.2-3h0m4-4.9h0m-.6-7.6h0m-1.6 6.4h0m9.4-7.3h0m-7.4 .7h0m-1.1 12.9h0m1.9-12.6h0m5 10.1h0m-1.5-1.6h0m-4.2 5.2h0m-.2-4.6h0m3.5 7.3h0m-1.4-2.7h0m-6.9-5.3h0m8.5-.2h0m-9.9 4.9h0m6.2-11h0m9.8 3.5h0m-2.8-11.6h0m-1.1 15h0m-1.7-9h0m.2 5.9h0m4.5-2.4h0m-13.2 12.2h0m2.3-10h0m8.2 14.8h0m-.8-7.4h0m-1.7-4.6h0m-1.1 1.5h0m-3.8-.9h0m9.3-.4h0m-5.9 4.7h0m-3.2-7.5h0m14 8h0m-6.7-7.2h0m-6.6-7.9h0m3.4 18.8h0m-.5-3.5h0m-.9-5.7h0m1.8-7.8h0m3.6 7h0m-1.7-5.6h0m1.6 .3h0m-2.3 2.3h0m-5 7.6h0m5.1-20.2h0m1.3 21.9h0m-2.3-3.6h0m.4-.3h0m-2.8 5.7h0m7.1-14.6h0m-5.2-.6h0m-2.4 14.6h0m2.2-5.8h0m5.1 1.4h0m-4.3 10.5h0m4.4-11.2h0m-6.1-11.1h0m6.8 22h0m4.4-11h0m-6.4-17.3h0m-1.1 9.4h0m-6.5-.7h0m-.3 2.4h0m6.3-1.4h0m-4 4.3h0m10.5 7.1h0m-11.7 .1h0m10.1-7.3h0m-4.1 9.5h0m-9.4-7.1h0m5.7 5.2h0m6.3-10.1h0m-12.5-.2h0m6.7-1.1h0m1.1-4h0m1.2 14.7h0m6.6-6.6h0m-4.4-4.5h0m-7.5-.7h0m2.5-3.8h0m-7.4 27.1h0m6.6-17.2h0m2.1-3.3h0m-1.7 11.9h0m2.1-.1h0m-6.5-4.9h0m1.3-13.5h0m7.2 11.7h0m-.1 3h0m-11.8-.6h0m17.1-2.9h0m-4.2 9.6h0m3.6-30h0m-9.2 17.9h0m.3 9.5h0m-4.4-27h0m6.7 16.7h0m3.4 10.4h0m-3 1.8h0m-7.4-10.8h0m4.6 7.9h0m3.2-1.7h0m2.4 2.9h0m-1-7.7h0m-.2-15.4h0m-.7 3.8h0m-8.1 1.6h0m3.9 15.7h0m1.6-.7h0m-5.6-6.6h0m6.4 3.9h0m2.4-2.2h0m.5 8.4h0m-1.4-18.5h0m-5.2 2.6h0m9.8 12.6h0m-6.5-10.5h0m-1.1-.1h0m-2.6 9.7h0m-4.8-9.3h0m10.9 10.4h0m-.2-8.5h0m1.1 14.9h0m-7.3-19h0m2.1 7.1h0m-.7-5.6h0m-7.6 11.5h0m5.3-6.4h0m2.3 5h0m-3.1-13.8h0m5.7 9.1h0m-2.5 2.4h0m0-5.7h0m-3 2.6h0m9.2-1h0m-4.3 8.4h0m-1.5-12.2h0m2.2 17.6h0m-2.1-13.2h0m3.1-2.8h0m-8.9 7.1h0m11.5 5.7h0m-3-5.8h0m-3.5-16.7h0m3.4 14.4h0m.9 8.7h0m9.3-6.1h0m-3.6-2.4h0m-6-8.9h0m-.4 2.8h0m-.2-5.7h0m4-1.1h0m-2.8-4.1h0m-2.1 17.5h0m3.6 9.7h0m-8.9-12.7h0m4.3 1.3h0m6.3-5h0m-9.9-.1h0m8.5-1.2h0m-11.9 2.5h0m13.1 15.5h0m-8-17.1h0m6.2 12.8h0m-3.4-7.2h0m3.6-12.3h0m2.8 3.8h0m-6.1 14.2h0m-7-3.8h0m8.1-.8h0m-.6-2.2h0m-.9-8.4h0m9 5.1h0m-14.4 6.1h0m4.4-8.1h0m15.2 8.9h0m-21.9-6.9h0m6.1 3.1h0m4.5 4.3h0m5.6-6.7h0m-9.6 11.6h0m6.6-10.3h0m-2.4 11h0m2.1-4.9h0m-4-2.7h0m-.8-11h0m2.3 16.3h0m.8-11.7h0m1.7-1.9h0m-11.4 8.7h0m5.9 3.7h0m-7.7-4.5h0m9.1-12.7h0m7.3 11.8h0m-6.2-2.4h0m-.9 7.5h0m.7-2h0m-8.9-3.5h0m1.5 2.4h0m2.3-16h0m10.4 11.7h0m-8.7 2.2h0m.8 4.9h0m8-8.3h0m-4.3 8.5h0m-8.6 .1h0m9.8-6.5h0m-5.6-6.6h0m6 2.5h0m-3.9-5.2h0m-2.1-2.7h0m-2.4 18.7h0m-1.4-14.2h0m1.7 4.5h0m-1.9 4.9h0m2.5 4.1h0m4.6-3.6h0m-.5 1.6h0m-5.1-19.9h0m-2.7 .7h0m7.3 13.3h0m11.1 3.4h0m1.2-7.1h0m-17 5.7h0m-1.9-5.6h0m12.9 14.7h0m-2.3-7.8h0m.7-14.1h0m.6 1.7h0m-10.5 14.5h0m-.9-1h0m6.4 6.2h0m-1.8-7.3h0m-.6-1.5h0m0 .3h0m3.5 9.1h0m-1.1-31.9h0m-.1 9.1h0m-5.9 18.5h0m-6.5-9.9h0m12 5h0m-3.1-10.8h0m10.9 .2h0m-12 16.7h0m4.1 .2h0m5.2-14.3h0m-3.5 2.9h0m-1.9 4.8h0m-4.1 1.5h0m15.5 .3h0m-18.6-22.4h0m1.4 18.7h0m3.2-1.2h0m.2 1.4h0m9.5 5.7h0m3 .4h0m-8.7 14.4h0m-.1-12.2h0m2.3-9.8h0m6.7-.3h0m-6.4 13.6h0m-3-1.6h0m-2.1-1.7h0m-1.7-8.3h0m1.6 6.7h0m2-2.6h0m-.8 8.4h0m-1.7-2.1h0m1.6-19.3h0m.6 28.2h0m-4.3-8.4h0m-1-12.4h0m5.7 7.2h0m3.3-6.5h0m-1.4 6h0m-.6-4h0m-3.7 3.3h0m-2.7-1.4h0m17.3-2.5h0m-21.8 2h0m6.3-7.6h0m2.6 5.8h0m4 15.1h0m-11.1-14.3h0m-.1-8.1h0m7 14.4h0m-7.8-5.3h0m8.4-7h0m-1.3-6.7h0m-4.9 13.4h0m.6 2.2h0m6.5 8.5h0m.7-14.9h0m-6.1 8.6h0m.9 13.7h0m2.7-20.9h0m-3.9 2.6h0m2.7 3.7h0m-2-7.4h0m2.5 .9h0m-3.9 2.6h0m3.8-1.2h0m2.4-7.3h0m-1.3 14.3h0m.3-6h0m-3.7-2.3h0m-3.2 20.9h0m8.5-13.5h0m2.5-3.4h0m-3.2 .6h0m-5.7-18.7h0m7.6 27h0m-.3-10.5h0m.3 8.9h0m2.6-4.4h0m-.9-17.6h0m-.4 20.9h0m-9.4-6.9h0m7.5 10.2h0m1.5-.1h0m-3.8-9.7h0m2.4-5.9h0m-7.2 10.9h0m3.7-5h0m6.2-20.3h0m-6.5 26.3h0m-4.6-7.9h0m3.1-2.3h0m-2.9 2.8h0m1-6.9h0m7 7.6h0m-8.6-.2h0m8.5 7.2h0m-2.1 3.5h0m-1.3-16h0m-1.9 7.3h0m6.3-6.2h0m-4.9 9.2h0m9.4-16.6h0m-3 14.8h0m-7.6 1h0m-1.6-16.4h0m-4.4 29.6h0m6.1-20.5h0m1.7-.1h0m-4.2 9.4h0m6.1-2h0m.6 5.2h0m-3.8-12h0m3.8-6.6h0m-1.9 9.3h0m.8 8.1h0m4.3-4.4h0m-9.8-10.8h0m.8 1.7h0m6.1 .9h0m-2.8 10.7h0m-8.8-.9h0m5.3-4h0m3.6-2.1h0m-3.3 2.4h0m-.5-.1h0m1.3-10.8h0m9 10h0m-9.4 3.8h0m7.1 9.5h0m-1.8-7.8h0m-4.2-5h0m3.6 6.1h0m-.7-7.3h0m.2 13.4h0m4.8-7.3h0m-2.5-13h0m-4.7-2.2h0m11-4.6h0m-15.2 7.3h0m3.8-7.4h0m-3.1 20.8h0m-2.3 1.7h0m9.5-14.6h0m-2 .8h0m-1.6 6.1h0m4.7 9.6h0m-2.1-29.8h0m-2.1 21h0m-4.5 4.3h0m6.5-21.2h0m3.9 19.1h0m-5-9.7h0m5.4-14.8h0m1.7 24.5h0m1-7.5h0m-12.4 20.3h0m10.7-16h0m-1.5 2.9h0m-4.7 1h0m6.3-14.3h0m-8.7 9.2h0m-.6 .6h0m-3.3-3.2h0m9.9 1.5h0m-3.6 7.2h0m8.1-10.1h0m-10.7 11.8h0m5.5-16.3h0m-6.6 5.2h0m3.9 4.1h0m4.1 13.8h0m1.2-18.4h0m-7.9-2.4h0m-1.2 15.4h0m5.9-25.3h0m-2.1 25.9h0m-7-4h0m15.7-20.3h0m-11.6 6h0m4.2 11.3h0m5.1-.3h0m-7.4-2.5h0m6.3-7.2h0m-6.5 2.6h0m-1.6 14.3h0m-.6-17.6h0m3.3 19.1h0m-.7-8.7h0m4.1-7.4h0m.3 15.4h0m1.8-6.6h0m0 5.4h0m-4.8-22.2h0m-3.8 13.4h0m2.4-4.9h0m9 .8h0m-1.1 5.4h0m-8.4 0h0m-4.7 1h0m8.8-1.1h0m-2.3-6.9h0m2.7 .2h0m-5.5-.5h0m9.2 7.8h0m-8.6-11h0m2.8 14.1h0m3.6-19.5h0m-2 14h0m-10.7 .6h0m4.7-8.1h0m4.5 1.1h0m-.5 14.3h0m-2.6 1.1h0m8.4 2.6h0m-10.8-20.4h0m.1-1.6h0m.9 13.5h0m3.8 1.9h0m6.4-6.4h0m-11-5.7h0m-.9 12.2h0m11.9-.9h0m-8.6-1.6h0m7-4.9h0m-1.8 4h0m-5.7 7.9h0m7-8.5h0m-8.3-10h0m4.4 11.9h0m2-1.3h0m-1-6.9h0m4.4-.9h0m-2.4-12.8h0m-7.9 10.3h0m6.7-1.2h0m-8.9 16.2h0m13.3 1.7h0m3.2 .4h0m-15.3-24.2h0m2.1 10.6h0m-2 6.1h0m12.3 8.5h0m-5.7-3.5h0m-4.9-1.2h0m-.1-7.2h0m6.8 16.5h0m-10.1-9.5h0m19.6 .6h0m-10.5 5.1h0m-.5-2.9h0m-.9-15.8h0m1.3 9.1h0m4.8-12h0m-11.7 28.4h0m1.9-7.4h0m-3.5-19.9h0m5.4 14.3h0m-1.9 4.5h0m0-14.2h0m6.2 1.2h0m-12.8 7.2h0m13.6 .9h0m-7.5-12.9h0m-1.4 13.4h0m12.9-12.4h0m-8.6 17.9h0m2.5-8.4h0m-4.8 6h0m1.8-10.4h0m-7.6 8.8h0m10.7-.8h0m-6 4.6h0m6.6-10.4h0m-8.9 5h0m10.5-19.2h0m-2.3 13.4h0m-2.9 4.9h0m5.2-.4h0m-10.3 2.6h0m8-5.7h0m4.9-1.3h0m-2.5 11.8h0m-3.3-7h0m-2.7-5.8h0m-1.1-3.5h0m.5 1.2h0m.4 3.7h0m6.9-8.6h0m-9.6 19.7h0m9.7-2.6h0m-4.6-4.9h0m4.6-9h0m-6.8 5.4h0m-5.5 7h0m14.3 1.5h0m-9.4-8.4h0m-2.7 1.1h0m6.5-8.8h0m2.2-1.7h0m-7.1 11.6h0m7.1-.4h0m-10-10.7h0m6.6 13.5h0m1.2-15h0m.3 18.4h0m-6.4-12.8h0m7.4-.4h0m-.2 20h0m-6-9.4h0m5.3 1.5h0m-.3-1.4h0m-4.1-3.7h0m5.3 11.6h0m.2 .9h0m.6-11.2h0m-.5 7.1h0m-11-6.8h0m-.7 5h0m14.1-2.3h0m-1.9-1.3h0m-1.1-5.8h0m9.3 11.6h0m-5.9-7.5h0m-2.5 7.9h0m-2.6-12.4h0m5-2.2h0m-3.9 9.4h0m-.2-7.4h0m2.3-4.3h0m1.3 10.3h0m-5.2-6.1h0m1 5.2h0m-8.7-4.3h0m10.9-3.7h0m-3 7.4h0m5.4 7.6h0m-5.8-9.2h0m-6.9-12.5h0m7.4 8.3h0m2.7 19.2h0m-3.7-12.1h0m7.2-.8h0m-8.1-5.7h0m4.8 .4h0m-3.6 10h0m-4.5-17h0m5.6 8.7h0m-3.8-2.8h0m8.5 11.2h0m-4.9-3h0m.6-3.5h0m-6.1 1.3h0m6.1 .3h0m-8.2-5.8h0m2.1 .6h0m6.8 3.7h0m-6.2 1.8h0m9.3-2.7h0m-13.4 1.3h0m14.9-.9h0m-4.2 2h0m-1.6 .8h0m10.1 2.5h0m-17.5 2.8h0m6.2-1.7h0m2.1-5.8h0m-.8-1.8h0m-6 3.3h0m-.9-5.6h0m12.3 15.9h0m-5.5-5.6h0m2.1-4.1h0m-7.6-6.4h0m12.7 .4h0m-10.6 9.6h0m-1.3-5.5h0m8.8-7.9h0m-8-18.3h0m-1.8 27.4h0m0-12.3h0m1.7 13.3h0m10.3-2.4h0m-8.2-2.8h0m-4.5 9.1h0m8.1-10.9h0m3.6 11.6h0m-2.6-14.5h0m-4.6 .8h0m0 10.6h0m7.4 5h0m-4-18.1h0m-7.8 6.7h0m5.9-.4h0m0 7.7h0m4.7-5.5h0m-6.4-5.6h0m4.1-6.3h0m4.7 11.7h0m-13.7 17.5h0m11.8-18.4h0m-9.9 10.7h0m3.2-5h0m-.6 3.8h0m-4.2-6.3h0m11.6-6.2h0m-10.9 7.9h0m6.8-13.7h0m-5.7 14.7h0m3.5-15.4h0m-1.1 15.3h0m2-2h0m-2.3-16.7h0m.8 14.2h0m-1 5.3h0m7.2 1.8h0m.2-18.4h0m-4.1 6.4h0m-1.7-.9h0m6.7 8h0m-8.4 6.8h0m2.5-2.9h0m4.6-7.3h0m-3.4 13.2h0m2.4-17.5h0m-11.3-1.2h0m11.1 1.5h0m-6.2 4.2h0m9 18.9h0m-6.3-7.1h0m.1-6.2h0m-.9 4.6h0m-2.4 8.5h0m-2.5-31.4h0m4.5 14.9h0m2 2.2h0m-.1-.7h0m-.8 7.4h0m-1.7-13.8h0m-4.9 11.5h0m12 .6h0m-5-6.9h0m.3-10.5h0m-4 5.8h0m6.5 12.5h0m-.7-24.8h0m-.8 23.3h0m-3.6-4.2h0m-4.5-1.4h0m5.4 3.4h0m4.1-3.8h0m-4.1-6.9h0m.5 11.3h0m.7-6h0m6.3-6.7h0m-1.2 15.4h0m4.1 4.8h0m-15.2-7h0m15.2-9.7h0m-6.8-6.2h0m-6.8 17h0m4.1-14h0m5.8 3h0m-3.6 2h0m-7.8 2.2h0m1.1-.1h0m4 9.5h0m-2.3-5.8h0m7.5-1.1h0m-5.9-6.5h0m3.1 1.2h0m-.9 4.1h0m0-6.3h0m5.4 9.4h0m-6.2 2.8h0m-3.7-10.3h0m7-2.7h0m-8.2-3.1h0m-2.7 4.7h0m6.5 8.6h0m-7.5-.3h0m3.1-3h0m12.2-10.7h0m-.1 5.5h0m-9-3.5h0m3 23.2h0m-7.7-33.6h0m8.8 30.5h0m-10-6.8h0m5.1-10.3h0m3.9-.5h0m-1.7-6.3h0m.4-4.8h0m6.4 28.4h0m-5.9-26.8h0m5.8 12.1h0" stroke="#000" stroke-opacity="0.45" stroke-width="0.75" stroke-linecap="round" fill="none"/>
<path d="M100.5 493.6h0m2.3 2.2h0m-3.3 1.1h0m-.6 .9h0m4.1-.6h0m-2 .4h0m.7-1h0m-3.8 4.6h0m6.9-2.9h0m-5.7-1.1h0m2.7 1.3h0m-3.4-4.6h0m1.3 4.2h0m0-3.3h0m-2.2 3.1h0m-2.9-4h0m7-2.9h0m-2.1 10.2h0m-1.4-8.7h0m-3 7.9h0m-.2-2.7h0m1.2 .1h0m4.2 1.3h0m-3.7-3.1h0m-1.4 .8h0m6.5-2.3h0m.5 3.8h0m.3 3.4h0m-3-.2h0m.1-7.8h0m2.2 1.3h0m-7.7 3.5h0m7.2 2.8h0m.5-3.9h0m-7.5 .1h0m8.7-4.3h0m-.8 6.8h0m-2.4-1.7h0m-.1-6.8h0m-2.8 7h0m1.8 .7h0m4.9 .2h0m-4-4.9h0m-1.6 11.1h0m2.6-5.1h0m4.5-.5h0m-5-6.7h0m-1.1 4.9h0m2.9 2.5h0m-4.2-3h0m.6-1.2h0m3.3-3.1h0m0 5.7h0m.6 .3h0m-3.8-1.8h0m5.5-1.1h0m-6.3 3.4h0m1.7-3.9h0m-2.6 .6h0m2.6 3.2h0m-1.4-6.3h0m3.4 2.3h0m-4.6 5.8h0m4.2-4h0m.9 .3h0m-.5 1.5h0m-3.2-2.3h0m-1.5-2.3h0m2.8 3.7h0m3.2-1.8h0" stroke="#000" stroke-opacity="0.12" stroke-width="0.75" stroke-linecap="round" fill="none"/>
<path d="M91.7 499.7h0m-2.4-3.9h0m6.8 1.3h0m-.3 4.4h0m8.7-4.9h0m-11.2-1h0m3 .9h0m-9.2 3.7h0m4.6-1.1h0m-3.1 .6h0m4.4 1.7h0m-3.4 5.4h0m2.4-4.3h0m-6.1-3.9h0m6.6-6.8h0m-1.8 6.3h0m-3.2 3.4h0m7.7-4.9h0m-9.6 5.8h0m6.1-3.6h0m.1 0h0m-.5 .3h0m.9-2.1h0m1.6-1h0m6.1 5.5h0m-4.8 3.7h0m-1.2-8.6h0m-2.4 3h0m-1.2 1.4h0m-.3-4.1h0m-1.6 2.6h0m3.6-2.8h0m4.4 3.1h0m-8.2-4.1h0m2 .6h0m2.4-2.4h0m-9.2 6h0m5.2 2.7h0m.4-4.3h0m-4.9-2.5h0m22.6 1.8h0m-21.3 3.5h0m13.6 2.9h0m-3.5-3.7h0m-12.4 .4h0m15.2-4.7h0m.4 1.9h0m-6.8 1.3h0m-7.8 .3h0m10.4-4.9h0m-4.5 1h0m.8 5.4h0m-.8-4.6h0m5.4 4.6h0m-10.7-4.2h0m2.4 2.5h0m7.6-.9h0m-10-1.3h0m7.8 2h0m-7.8 6h0m14.6-4.2h0m-12.6-3.8h0m2.8-4.2h0m.6 5.6h0m2.3-1.7h0m.1-.8h0m-1.5 2.1h0m-8.6 .9h0m4.5 5.2h0m6.2-2.2h0m3.4-2.3h0m-7.2 3.8h0m4.3-2.8h0m-5.8-2.3h0m.3 4.9h0m-3.2-5.7h0m11.5 2.8h0m-11.9-.9h0m14.2 .6h0m-3.9-.2h0m-7.5 .3h0m5.1 .1h0m-1.5-3h0m-8 5h0m5 2.3h0m4.8-3.8h0m-3.7-1.1h0m3.9 2.6h0m-3.1-3.2h0m.2 2.2h0" stroke="#000" stroke-opacity="0.18" stroke-width="0.75" stroke-linecap="round" fill="none"/>
<path d="M80.3 516h0m-1.2 .4h0m4.3-12.3h0m-4.9 11.6h0m3.1 2.3h0m1.8-2.6h0m3.1-3.9h0m-5.1 6.7h0m.7 .6h0m.1-11.6h0m4.9 4h0m-5.1-2.5h0m3.8 9.9h0m-1.6-8.2h0m-2.3 6.2h0m.7-7.4h0m-1.6 2.7h0m2.7-4.9h0m-2.4 7.9h0m1.4-1.3h0m-.8 .4h0m-.1 1.3h0m-1.1-11.6h0m2.2 7.4h0m.5-9h0m.4 4.3h0m-.8-5.3h0m1.5 14.1h0m-.2-14.5h0m-3.5 6.4h0m-.2 10.2h0m.1-1.4h0m2.6-12.1h0m-3.6 11.6h0m4.9-.6h0m-4.1-2.3h0m2.7-.7h0m-1.2-4.5h0m-.5-7.9h0m-.5 9.5h0m.7 10.3h0m-5.2 3.3h0m3.7-3.8h0m1.6-5.2h0m3.8 4.5h0m-5.7-1.3h0m1.4-2h0m-.7 4h0m-.3-8.1h0m0 1.5h0m2.2-2.6h0m-.7 4.4h0m1.2-5.7h0m-1 2.4h0m0-1.5h0m-.8 7.9h0m-2-8.1h0m5.1-1.5h0m-4.4-6.2h0m1 14.6h0m2.8-.9h0m-1.5-5.1h0m-2.5 .7h0m1.1 3h0m3.7-5.9h0m-1.3 5.8h0m-2.8-1.1h0m.9-4.9h0m.7 8.8h0m-2.7 2h0m1.6-6.9h0m.2 1.4h0m1.5 6.6h0m1.7-14.7h0m1 2.3h0m-3.4 6.5h0m2.8-9.3h0m-1.8 10.2h0m-1.3 8.3h0m.3-7.3h0m1-4.2h0m.5-12.6h0m-2.7 16.6h0m2.6 .4h0m-1.2-7.9h0m1.7 10.8h0m-1.6-10.5h0m-.7-1.9h0m-.8 9h0m-.5-8.7h0m3.8 .9h0m-.9 6.4h0m-.7-.7h0m1.5 4.7h0m-2.8-9.8h0m1.4 3.5h0m-4.7 .7h0m6.8-6.3h0m-3.7-1.8h0m1.5 5.9h0m-2 3.9h0m5-10.1h0m-1 3.8h0m-2.1 8.7h0m-.7-4.6h0m4.3 3.4h0m-4.3 4.1h0m1.4-8.2h0m-1.4-6.4h0m-.4-2.3h0m1.8 1h0m-.1 14.5h0m2-10.8h0m-3.4 8.3h0m2.1 7h0m.8-21.1h0m-4.1 18.8h0m-.3-6.8h0m3.8 4.8h0m-2.2 4.3h0m3.2-8.9h0m-.8-5.1h0m-.6-.1h0m-5.3 5.3h0m4.2 1.2h0m0-6.2h0m1.4-2.2h0m-.1-2.3h0m-3.7 5.2h0m1.6-5.8h0m1.4 11h0m-3 3.8h0m1.2-1.7h0m-.3-5h0m1.4 .8h0m-.5 7.5h0m-1.1-7.9h0m3.3 3.6h0m-2.1-11.4h0m.3 6.1h0m.9 2.8h0m-1.9-7.7h0m.6 6.4h0m1.3 2.6h0m-1.3 .1h0m3.2-7.5h0m.1 9.2h0m-4.2-11h0m.5 8.6h0m1.1-5.8h0m-.6 7.4h0m.4-.5h0m-.6-3.6h0m3-11.1h0m-3.3 13.5h0m-2-12h0m1.7 6h0m-.2-.1h0m1.5 4.3h0m.9-2.4h0m-.5-1h0m-1.2 1.4h0m-1 5.7h0m.5 1.9h0m4-1.8h0m-2.7-11.3h0m-.7 1.9h0m-2.5-.5h0m2.6 5.9h0m.8 3.1h0m0-8.2h0m-2 7.4h0m2.7 1.7h0m-3.4-13.3h0m-.7 16.7h0m1.8-4.4h0m2.2-2.6h0m-.8-2.1h0m-.8-4.4h0m1 5.4h0m1.6 2.4h0m-1.4 0h0m.4 9.4h0m.7-4.5h0m-3.1-13.9h0m-.1 7.8h0m.4-3.3h0m1.6 3h0m.6-2.8h0m-.2-7.4h0m-.9 10.5h0m2 6.3h0m-3.4 3.2h0m.5-18.9h0m1.1 9.2h0" stroke="#000" stroke-opacity="0.35" stroke-width="0.75" stroke-linecap="round" fill="none"/>
<path d="M78.8 521.0 L78.3 512.0 L79.5 505.5 L82.0 502.3 L86.0 500.6 L91.0 500.2 L94.0 501.0 L95.6 505.0 L95.6 527.5 L91.0 528.6 L86.5 528.4 L85.5 523.5 L81.0 523.3Z" fill="#000" stroke="#000" stroke-width="0.8" stroke-linejoin="round"/>
<rect x="74.50" y="475.80" width="56.60" height="56.50" fill="none" stroke="#b9b9b9" stroke-width="1"/>
<text x="75.20" y="483.10" font-size="5.9" fill="#2a2a2a" stroke="#2a2a2a" stroke-width="0.12">9.07</text>
<text x="126.20" y="483.10" font-size="5.9" fill="#2a2a2a" text-anchor="end" stroke="#2a2a2a" stroke-width="0.12">0.29</text>
<text x="75.20" y="528.20" font-size="5.9" fill="#2a2a2a" stroke="#2a2a2a" stroke-width="0.12">90.1</text>
<text x="126.20" y="528.20" font-size="5.9" fill="#2a2a2a" text-anchor="end" stroke="#2a2a2a" stroke-width="0.12">0.52</text>
<line x1="154.90" y1="475.80" x2="154.90" y2="532.30" stroke="#6e6e6e" stroke-width="0.9"/>
<line x1="134.80" y1="512.30" x2="191.40" y2="512.30" stroke="#6e6e6e" stroke-width="0.9"/>
<path d="M157 519.9h0m-10.1-20.6h0m8 15.3h0m-8.7-11.6h0m2.2 7.3h0m-5.1 10.9h0m-5.2-2.1h0m10.6 7.2h0m-5-23.8h0m13.1 6.9h0m-5.3 16.6h0m1.1-9.7h0m-1.6-1.9h0m1.9-10.1h0m-6 2.5h0m6.6-1.8h0m-7.1-2.3h0m.9 19.4h0m-4.2-13.4h0m6.6-4.2h0m-12.5-6.6h0m12.4 19.6h0m7.2-3.7h0m-2.1 2.5h0m-6.6-4.7h0m-1.2-11.7h0m-4 9h0m5.4 4.5h0m-6.9-5.8h0m3 7.9h0m1.7-.7h0m-2.4-9.6h0m9.5 2.2h0m-7.7 .1h0m4.8 10.4h0m-2.3-6.1h0m-1.3 .1h0m2.7-13.5h0m-4 9.5h0m1.5-5.5h0m-3.1 14.2h0m1.2-15.2h0m4.9 14.4h0m3.1-9.9h0m-12.3 16.1h0m8.9-12.9h0m-11-.1h0m8-1.3h0m3.3-.5h0m.7-1h0m-3.8-.5h0m-1.6 14.7h0m-3-5.1h0m6.9-7.1h0m-4.1 6.7h0m-.6-4.8h0m4.4-2.3h0m-8.4 .7h0m4.2-2.6h0m.1-14.5h0m-.2 25.5h0m-3.9-10.4h0m1.4-5.6h0m8.1 2.3h0m-5.4 8.3h0m6.3-3.7h0m.3 5.6h0m-2.9-8.9h0m4.4 3.1h0m-13.3 12h0m6.4-12.4h0m3.5 4.3h0m-2.6 14.9h0m10.3-19.8h0m-17.4-1.1h0m16.4-7.7h0m-7 20.6h0m-.2 5.4h0m5.9-10.8h0m-2.5 .4h0m.4 4.4h0m-10.3-5.8h0m6.5 0h0m.8 3.7h0m-2.7 1.7h0m-10.8-13.1h0m6.4 4.1h0m-2 5.7h0m4.8-16.5h0m-3.7 22.1h0m8.9-7.8h0m-5.8-5.8h0m9.3 9.6h0m-2.8-9.3h0m-2.5-6.1h0m-8.2 20.1h0m3.6 .6h0m12.1-11.9h0m-7.9-3.8h0m-2.7 6.7h0m-3 5.1h0m6.6-1.3h0m-5.8-12.3h0m4.4 3.3h0m-3 3.1h0m12 7.9h0m-2-10.1h0m-8.4 3.5h0m9.3 2h0m-12.7-10.3h0m1.4-.8h0m.4-.6h0m2.8 12.9h0m-4.8-.9h0m12.6 .3h0m-5.5-7.1h0m1.9 9.9h0m2.1-3.3h0m-11.2-4.2h0m8 4.1h0m-2.4 .1h0m-3.7-13.2h0m9.4 17h0m-2.9-7.2h0m-9.2 6.5h0m8.9-2.5h0m-5.8 5h0m-1.9-22.8h0m6.4 6.2h0m1.4 13.1h0m-5.2-3.5h0m5.4 4.4h0m-5.3-10.1h0m6.2 4.8h0m3-1.5h0m-1.2 7.7h0m-8.1-5.9h0m-4 5.7h0m-1.3 3.2h0m6.6-15.5h0m-9.1 13.6h0m7.7-10h0m-.4 5.3h0m2.1 7h0m-1.9 10.5h0m-2.9-23.1h0m3.5 0h0m-.7-5.6h0m.6 6.9h0m-5.4 .9h0m5 7.8h0m3.2-8.8h0m-6.7 5.6h0m8.8 1.7h0m1.7-7.7h0m-7.1 6.9h0m-.4 2.3h0m-.5 .4h0m-2-15.7h0m6.1 3.4h0m3.6 6.5h0m-7.1 .1h0m-2.2-1.3h0m1.4-4.3h0m2.1 5.4h0m4.3 5.2h0m3.1 8.6h0m2 1.6h0m-6.7-24.7h0m-6.2 10.2h0m2.8 2.4h0m-.9 .5h0m4.6-15.6h0m7.7-2.8h0m-10.8 22.2h0m-.4-6.2h0m2.1-5.3h0m3.7 .9h0m1.3-3.2h0m-1.8-1.1h0m-2.9-6.8h0m-10.9-2h0m11.1 22.7h0m-.6-7h0m-7.4 .5h0m11.7-6.9h0m-10.8-2.9h0m6.3 4.7h0m8.1 12h0m-6.4-2.8h0m-2.7-13.2h0m-.3 4.6h0m-1.4 5.1h0m1.6-7.1h0m6.3 3.8h0m-3.1-3.9h0m5.9 1.4h0m-2.3-.2h0m-4.1-3h0m-3.4 2.8h0m2.4 9h0m6.7-10.9h0m-1.8 16.5h0m-9.8-12.5h0m2.7 4.3h0m1.8-17.8h0m8.9 24.1h0m-12.7-7h0m4 1.5h0m.3-15.9h0m-1.6 10.3h0m3.9-5.7h0m-.8-3.8h0m-1.1 21.3h0m-8.5-10.8h0m4.3-3.6h0m5.2 3.5h0m3.7 1.1h0m-4.5 3.7h0m-1.6-7.7h0m-.4 9.7h0m4.9-14.9h0m-5.1 15.1h0m7.4-11.1h0m-6.3 6.7h0m-.9-5h0m-2.4-3.6h0m7.6 5.9h0m.5-10.1h0m-3.8 15.8h0m-10.7-14.9h0m13.8 6.2h0m-6.6 1.8h0m2.3 10.1h0m-.4-10.4h0m-5.3-2h0m5.1 12.5h0m10.6-1.2h0m-2.1-11.7h0m-7.5 12.2h0m-6.3-3h0m6.8-7.4h0m-3.2-3.1h0m3.8 17.1h0m.5-9.5h0m.3 6.7h0m1.8-9.4h0m-5.1 6.8h0m3.8-5.9h0m-7.1-3.3h0m-2.3 6.9h0m6.8-7.8h0m-8.5 13.3h0m15.1-14.5h0m-10.5 4.4h0m6.7 9.5h0m-4.2-24.7h0m2.5 26.8h0m.5-3.8h0m-4.1 5.3h0m7 2.6h0m-8.8-10.7h0m-1.3-1.7h0m4.5 2.7h0m-7-7.6h0m13.2 8.3h0m-3.5-11.1h0m-5.8 12.5h0m2.8 1.2h0m4.1-5.6h0m-2.4 10.7h0m-2.4-9.5h0m1 2.4h0m4.2-10.8h0m-2.1 10.4h0m.1-8.3h0m1.3-1.8h0m-2.8 5.2h0m-2.2-2.4h0m4.6 1.2h0m-3.2-5.9h0m-2.8-3.3h0m2.5 11h0m3.1-16.4h0m1.4 12.2h0m.4 1.3h0m-14.5 .5h0m4.9 4.3h0m1.8-4.7h0m3.2 6.4h0m-9.7 6.8h0m12.7-16.8h0m-.7 6.6h0m-1.5-2.6h0m-.1 19.4h0m-1.1-21.9h0m2.9 18.3h0m.7-17.4h0m-6 9h0m5.3-3.5h0m2.6 3.1h0m-3-7.4h0m3.2-1.1h0m-12.3 11h0m12.5-18.3h0m-14.2 6.8h0m7.9 2h0m-.4 7h0m-2-12.3h0m-1 9.7h0m.7 .2h0m1.5-.2h0m7.9-8.2h0m-4.1 4.5h0m-5.7 4.1h0m-2.1-14.8h0m3.7 6.7h0m7.1 9.6h0m-6.3-7h0m2.6 4.8h0m-1.3 4.9h0m.3-.5h0m1.9-16.2h0m-7 19.2h0m3.7-20.1h0m6.8 2.6h0m1.2 5.9h0m-4-.4h0m-9.2-11h0m7.5 1.6h0m5.2 6.1h0m-1.3 3h0m1.4 4.9h0m-7.2-9.4h0m3.3 7.7h0m-2.3-7.2h0m-5.3 15.6h0m-2.3 2h0m6.9-7.6h0m-7.3 6h0m10.4-9.1h0m1 4.4h0m-12.4-7.8h0m3.5 9h0m4.9-16.5h0m-2.8 11.8h0m7.9 9.8h0m-1.9-13.8h0m-1.8-11.3h0m-2.4 6.8h0m5.7 5.2h0m-6.8 6.8h0m1.3 .7h0m7.2 .9h0m-8.4-17.6h0m-2.2 2.7h0m7.7 4.8h0m-2.4 14.5h0m-3.2-1.4h0m3.4-15.6h0m-3.3-.9h0m3.2 3.2h0m.3 9.1h0m5.5-.4h0m-12.2 3h0m8-8.9h0m-6.1 1.1h0m.3-2.8h0m18.5 10.3h0m-10.1-12.2h0m-.8-5.4h0m-3.6 14.7h0m-3.7-13.9h0m6.6 .7h0m-9.5 3.1h0m4.6-2.6h0m-2.1 12h0m.1-5.5h0m7.3-1.1h0m-4.1 5.4h0m3.9-1.4h0m-3.9-16.9h0m-3.5 4.3h0m4.8 14.1h0m2.3-3.7h0m-6.6 9.5h0m4.2-7h0m-.3-22.6h0m2.8 18.9h0m-2.7 6.8h0m-5.7-18.2h0m3.1 8.3h0m7.5-5.9h0m-6.4 11.4h0m2.5-6.6h0m2.3 9.4h0m-4.9-4.3h0m7.9 6.7h0m-8 1.3h0m0-22.9h0m1.7 16.1h0m4.4-5h0m-6.4 3.2h0m3.6-3.8h0m-.8 13.4h0m2.4-8.9h0m-9.5-.7h0m8.1 .7h0m-9.2-7.2h0m12.2 11.3h0m-5.1 5.3h0m2.7-14.1h0m4 .1h0m-4.6 17.8h0m-4.8-7.8h0m4.3-13.5h0m2.3 12.3h0m.3-2.3h0m-5.4-4.6h0m.1 3.7h0m-.4-3.3h0m2.6 14h0m-4.7-5.8h0m2.9-5.3h0m4.8 3.9h0m-6.1-2.6h0m-2.1-5.1h0m4.1 7.4h0m5.4-12.6h0m-4.4 15.3h0m1.3-8.3h0m-2.8-2.1h0m-5.1-3.7h0m6.7-3.1h0m-6.5 11.8h0m-2.1-2.6h0m1.6-3.9h0m2.9 8.8h0m-.6 5.2h0m7.5-1.2h0m-1.8-12.1h0m3.7 16.9h0m-6.5-15.2h0m7.7 14.4h0m-9.1-7h0m-.7-3.6h0m4.7-.6h0m.9 10.3h0m-.6-13.5h0m-9.8 2.1h0m7.5 8.3h0m-3.5-10.8h0m-1.7-11.5h0m-.9 3.4h0m5.3 15.5h0m1.8-7.7h0m5-6.2h0m.6 10.1h0m-14.7 4.5h0m1.4 1.4h0m9.5 4.6h0m-2.7-13.4h0m-3.5 6.9h0m7.5-2.8h0m6.6-3.2h0m-10.9 8.4h0m-5.2-8.9h0m.8 1.2h0m4.3-15.6h0m-1.2 4.2h0m-.6 6.6h0m9.9-4.5h0m-3.6 5.1h0m-7.8 1.1h0m7 11.2h0m-1.7-10.5h0m-3.7 5.6h0m5.6-9.2h0m-4.1 17.3h0m4.2-7h0m-5.5 .7h0m1.1-1.7h0m3.6 8.3h0m-4.6-14.2h0m.8-1.2h0m-1.6 5.7h0m3.8 11h0m-1.4-13.1h0m1.5-2.6h0m1.2 6.8h0m-4.3-8.9h0m1.2 8.8h0m-.1-16.7h0m-8-1.9h0m14.5 20.7h0m-2.1 4.3h0m1.5-16.3h0m-10.7 13.9h0m11.2-2h0m-5.5 2.5h0m-1.5-26.4h0m4.1 24.7h0m-2.9-4.3h0m-.4-3.1h0m1.7-6.4h0m-3.9 7.3h0m-3.2 1.9h0m8.6-2h0m-1.1 7.7h0m3.4-6.5h0m-8.3-3.6h0m-4.8 6.8h0m5.8 3h0m-1.6-2.1h0m3.4 4.6h0m.2-8.4h0m-.1-.3h0m-3.2 1.4h0m2.3 9.3h0m-4.2-11.7h0m8.3 3.8h0m-3 7.1h0m-4.7-10.2h0m9.1-1.4h0m2.9 12.6h0m-13.6-15.9h0m3.8 14.1h0m-.5 1.2h0m.7-13.5h0m3.7 .2h0m-2.8 1.1h0m2.5 12.4h0m2.7 0h0m2.6-20.9h0m-3.3 18.7h0m1.9-11.1h0m-9.2 6.7h0m2.2-.3h0m5.2-7.7h0m-4 4.5h0m3 8.5h0m-.4-16.6h0m-1.5 8.2h0m3-5.1h0m-6.9 10.3h0m1.9-2.5h0m-.3-4.4h0m-3.3 10.8h0m8.7-25.5h0m-7.2 12.7h0m12.8 7.3h0m-6.3-22.6h0m-6.1 22.9h0m6.9-7.5h0m-.2 7.8h0m-2.9 8h0m1.8-13.4h0m-1.1 .2h0m7.4-5.1h0m-8.4 13.5h0m-6.4-13.6h0m9.2 .8h0m-8.1 13.4h0m4.8-8h0m-.2-3h0m-2.8 2.4h0m2.3 2.5h0m3-1.1h0m3.9-3.6h0m-6.4-3.8h0m4.6-8.2h0m2.4 27.3h0m-4.7-4.7h0m5.8-14.9h0m-5.2 15.4h0m1.8-2.8h0m-6.3 5.5h0m7.6-15.2h0m-2-16.9h0m-1.8 24.1h0m-2.5 3.5h0m9.1-14h0m.8 9h0m-16.9 1.7h0m8.9-11.6h0m.4 14.7h0m-7.6-2.2h0m3.5-12.7h0m1.2 10.6h0m-.9 4.3h0m3.6 3.9h0m-4.6-17.7h0m5.2 8.9h0m1.4-8.5h0m3.2 5.8h0m-6-1.3h0m4.1 11.5h0m-2 2.6h0m-1.4-9.5h0m-1.1 5.6h0m-.8-4.6h0m8.1 2.4h0m-4.3 7.4h0m-11.5-9.7h0m9.7-13h0m1.1 17.2h0m-3.4-9h0m4 2.7h0m-5.7-2.3h0m8.6 6.7h0m-3.4-15.7h0m-6.6 2.8h0m4.7-5.9h0m2.2 17.5h0m1.7 2.2h0m-10.3-5.5h0m4 9.6h0m5.8-14.1h0m-4.1 5.8h0m2.5-1h0m-1.7-3h0m2.9 5.7h0m-5-9.9h0m3.3 10.5h0m-1.3 7.9h0m-2.3-16.4h0m-1.9-3.5h0m1.6-1.1h0m7.8 22.2h0m-12.4-12.1h0m3.1-.1h0m10 7.7h0m-9.7-11.1h0m6.2 8.7h0m-3.4-10.1h0m8.5 3.7h0m.8-6.6h0m-2.7 8.9h0m-3.2-.8h0m-.5-10.6h0m-6.3 6.1h0m2.7 4.9h0m6.1 9.2h0m-4.7-15.9h0m-.5-2.2h0m1.1-1h0m-1.2 28.6h0m-3.9-24.9h0m6.6 2.4h0m-.8-10.3h0m-9.4 16h0m17.6-10.8h0m-12.9 3.1h0m5.4 9.5h0m-5.5 5.6h0m-1.9-11.9h0m9.2-2.4h0m.5 17.3h0m-10.4-15.6h0m5.3 9.9h0m2.8-16.1h0m-4.3 3h0m1.4-4.9h0m-.1 14.2h0m3.3-2.8h0m-11.1-6h0m8.7-1h0m3.7 .6h0m5.4 14.3h0m-18.1-5.8h0m13.1 9.1h0m-3.9-6.1h0m-4.9-.8h0m8.9-6.5h0m-5.7-10.6h0m-7.7 18.4h0m8.7-5.6h0m-3.1-3.3h0m5.7-5.5h0m-4.3 11.4h0m7.5 8.5h0m-3.7-21.8h0m3.9 15.6h0m-4.8-1.4h0m-.9 3.4h0m-1.8-3.8h0m-1.4-27.1h0m2.6 25h0m1.6-.6h0m4.3-2h0m-9.2-16.7h0m3.2 26.1h0m7.2-15.8h0m-13-5.6h0m4.4 10.7h0m-3.1-8.7h0m1.6-1h0m1.4 4.6h0m6.9 12.7h0m-6.9-16.8h0m4-2.5h0m-7.9 5.1h0m1.6 5.5h0m5.8-10.9h0m5.9 11.3h0m-13.7-10.1h0m11 20h0m-2.7-2.2h0m-7.2-5.1h0m1.5 5.6h0m1.7-4.8h0m5 1.4h0m-6.1 4h0m2.2 0h0m3.2-13.8h0m.8 13.5h0m-1.7-9.7h0m1.4 19.9h0m-8.2-14.3h0m8.7 4.1h0m-.2-16h0m-9.2 15.1h0m4.4-6.3h0m4-5.2h0m-.2 8.2h0m-4.6-1.3h0m5.9 0h0m2.5 .4h0m-2.5-6.5h0m5.4 8h0m-4-2h0m.5 2.9h0m-9-.5h0m6.9-16.8h0m-5.6 17h0m-6.6-3.5h0m9.7 6.8h0m-.3-4.9h0m-5.4-2.8h0m13.8-6.4h0m-14.6-5.4h0m4.5 13.5h0m3.3-6.8h0m-4.1 7.8h0m3.1-8.1h0m8.5-10.3h0m-4.4 18.9h0m-3-3.7h0m3.4-1.3h0m-3.3 2.4h0m-9.1-.9h0m7.2-2.6h0m-2.3-6.3h0m-1.7 13.5h0m12.6-12.5h0m-6.6 20.9h0m-7.1-1.5h0m9.6-.2h0m-5.4-14.7h0m3.7 5.6h0m-3.2 1.9h0m-10.6-13.6h0m6.8 2.7h0m1.9 10.9h0m-3.2-14.8h0m5.9 .9h0m8.6 17.1h0m-6.9 3.1h0m-2-10.3h0m-3.2-11.1h0m2.2 16.5h0m-2.6-.4h0m6.2-9.2h0m-.6-16.8h0m-.6 18.3h0m5.4-11.6h0m-3.6 18.1h0m-.2 2.8h0m-7.5-6.2h0m1.1 .5h0m-2.9-9.2h0m9.9 17.1h0m5.2-2.1h0m-12.3-5.4h0m5.6 6.7h0m-.3-2.4h0m.7-.5h0m-3.5 3.5h0m-.4-11.8h0m4.5 .9h0m-4.8 4h0m-1.2 6.1h0m-.7 2.3h0m-2.5-14.6h0m11.7 7.2h0m-3 9h0m-1.8 1.7h0m5.1-10.6h0m-5.5-7.2h0m-2.7-6.8h0m2.4 12h0m-6.2 10.6h0m6.6-2.5h0m3.2-1.4h0m-8.7-14h0m8.4 5.1h0m-1.7 3h0m-3.5 7.7h0m-.5-21.5h0m-1.8 4.2h0m6.3 4.4h0m6.6 7.5h0m-10.2-14.1h0m2.8 17.4h0m.8-4.7h0m.8-4.9h0m-.2 18.8h0m-1.9-15h0m4.1 2h0m-4.6-7.2h0m3.8 6.3h0m3.3-8.1h0m-3.2 10.1h0m2-4.5h0m-5.4 .1h0m-3 2.8h0m4.2-2.8h0m1.3 4.8h0m-1.4-16.7h0m2.2 19.8h0m-2.2-10.7h0m-8.9 9.4h0m8.6 13.5h0m-3.1-27.4h0m-.9 5.2h0m-3.2-9.7h0m8.6 11.4h0m2.2 19.6h0m-9.5-28.5h0m8.8 11.4h0m-7.8 2.5h0m4-4h0m-10.7 8.5h0m22.1-12.9h0m-12.6 2h0m-4.3-.1h0m1.7-4.7h0m10.2 5h0m-11.1-2.2h0m-4.9 4.6h0m1.7 20.5h0m8-33.5h0m-4.3 6.6h0m-.2 2h0m6.2 22.2h0m.2-14.8h0m-8.1-11.1h0m.8 11.3h0m5.3 10.3h0m-.9-9.2h0m.3-7.9h0m.1 6.1h0m6-10.6h0m-11.5 15.3h0m3.8-11.1h0m5.1 4.6h0m1.7 8.2h0m-2-6.4h0m-1.3-.4h0m-3-12.8h0m-2.5 1.1h0m1.4 5.7h0m-6.6 8.4h0m3.5 .2h0m6.6-1.9h0m-3.4-.4h0m-6.3-7.1h0m10.8 15.6h0m-6.1-7.3h0m9-4h0m-8-3.8h0m-1.3 4.9h0m-3.2 6.7h0m7.6 6.3h0m.6-24.2h0m3 11.8h0m-6.7-13.2h0m2 10.9h0m-.6 12.4h0m-2.5-14.9h0m11.4-1h0m-5.4 8.5h0m3.3 11h0m-9.3-15.8h0m6.2 13.4h0m-4.4-12h0m4.5 4.1h0m-2.3-8.1h0m7.2-1.4h0m-10.1 16.3h0m-.5-7.9h0m5.7 3.6h0m-6.8-8h0m2.1-8.7h0m-.4 11.3h0m2.9 1.3h0m-4.1-2.7h0m1.3-7.8h0m4.4 10.4h0m-4.6-2.9h0m6.7-2.4h0m.6-3.9h0m-7.9 14.8h0m1.8-15.8h0m3 7.2h0m3.1 10h0m-6.4-7.8h0m-.1 7.5h0m4.4-22.2h0m-5.1 6.5h0m5.8 9.7h0m-4.2 1.4h0m3.8-1h0m.9-5.7h0m-2.8 16.8h0m-5.1-13h0m2 2.8h0m7.6-1.9h0m-7.4-.2h0m.1-5.9h0m8.4 3h0m-9.8-8.8h0m-1.5-4.1h0m3.5-10.3h0m3.3 17.7h0m-10.5 1.4h0m9.5-.4h0m-1.1-4.4h0m3.9 .1h0m-.7 .1h0m-.2 3.5h0m-6.5 14.5h0m5.7-9h0m3.6-4.4h0m.1 11.5h0m-6-6.5h0m1.2 4.3h0m4.6 5.7h0m-7.4-9.3h0m8.1-14.8h0m-11.9 13.3h0m6.3-1.1h0m-.1-3.9h0m-1.1 7.6h0m-2-.9h0m4.2-.1h0m-7.5-4.6h0m10.3-2.9h0m-4.8 8.6h0m3.4-1.4h0m-10.1-8.8h0m8.5 6.1h0m-4-9.9h0m1.9 1.6h0m2.6 4.8h0m4.8 .8h0m-4.4 15h0m4.1-31.1h0m-1.9 40.2h0m-2-9.4h0m-3.1-2.5h0m-4.1-13.5h0m6.1 5.8h0m-10.5 8.5h0m16-11h0m-4.2 13.7h0m-2.6-20.8h0m9.3-.4h0m-4.3 .6h0m-5.3 4.3h0m6.9 2.8h0m-2.6 8.1h0m-6.6-7.2h0m6.3 .2h0m-5.4-4.4h0m-.6 5.4h0m3.9-4.1h0m-1.4-4.8h0m-3.2 10.4h0m16.3 9.1h0m-13.8-10.1h0m-.6-.9h0m2.6 5.9h0m2.4 2.7h0m-2.3-2.2h0m-1.7-15.1h0m-6.2 1.7h0m6.7 16.7h0m-4.2-15.8h0m1.8-3h0m5.7 20.9h0m-4.4-17.3h0m3.9 7.9h0m-3.8-8.8h0m6.6-2h0m-3.9 .3h0m-6 9.6h0m4.1 .8h0m-6.2-5h0m-1.2-14.6h0m9.2 1.3h0m-2.2-1h0m-1.3 24.6h0m-4.6-24.5h0m2.8 6h0m2.6 19.8h0m-2.1-11.9h0m2.9 17.5h0m8.1-28.9h0m.4 19.6h0m-11.6-7.7h0m9.2-5.2h0m-2 8.7h0m-4.6-7.7h0m-1.4 1.6h0m-3.1-3.2h0m8.5 4.1h0m-1.8 .1h0m-7.9 9.2h0m12.5-4h0m-7-3.7h0m-5.8 5.8h0m9.3 1.1h0m-11.1-1.2h0m6-4.6h0m6.3 .1h0m-1.9 13.1h0m-1.9-15.5h0m.6 .4h0m4 12.4h0m1.8 2.1h0m-10-20.2h0m3.2 9.3h0m3.1 8.2h0m-7.1-17.1h0m3.6 13.5h0m-1.5-7.2h0m4.3 .8h0m3.4-5.1h0m-11 12.7h0m9.5-17.5h0m3.6 5.2h0m-14.5 1.8h0m4.6 4.2h0m3.3 3.3h0m6.8-7.8h0m-4.7 4h0m-2.5 9.9h0m-4.5 0h0m6.2-13.8h0m.1 11.9h0m-2.7-7.5h0m8.7 5.7h0m-13-5.3h0m6.8-.9h0m-8.9 1.1h0m9.2 1.6h0m-3.4-3h0m4.1-5.7h0m-7.5 11.8h0m3.6-11.6h0m-5.5 2.2h0m5.9 .6h0m-2.3 9.3h0m3.5-15.7h0m.8 28.6h0m.1-22.5h0m-6.4-4.9h0m3.4 9h0m2.7 5.9h0m.2 1.3h0m-.1-.1h0m8.4-12.9h0m-6.7 18.6h0m1.5-12.7h0m-3.6-.7h0m11.7 8.1h0m-14-16.1h0m4.9 8.1h0m-1.2 3.9h0m1.3-8h0m2.9-7.7h0m-3.4 17.6h0m-8.6-9.3h0m7 1.2h0m2.6 18.9h0m-4.8 2h0m-.7-19.3h0m5.8 10.3h0m-9.9-13.2h0m11-1.5h0m-4.5 11.4h0m-1.8 2h0m-.5-8h0m1.6-2.1h0m-1 5.8h0m4.4-8h0m.5 8.3h0m-7.6-8.2h0m1.3 .4h0m-5.2-1.3h0m-4.7-.1h0m17.8-2.4h0m-3.6 5.3h0m.5 5.3h0m2.6-14h0m-2.5 10.9h0m-3.2 11.3h0m-2.3-13.4h0m-4.6 7.6h0m7.4-11.3h0m-5.9 12.5h0m9.3-18.7h0m-3.8 27.7h0m.3-16.9h0m3.8 11.1h0m-6.5-13.4h0m.9 10.4h0m3.2-19.8h0m-1.5 3.5h0m-2 15.2h0m1.4-11.5h0m-3.3-.3h0m9.7-.5h0m-1.5 14.9h0m2.4 7.3h0m-10-23.6h0m5.3 16.5h0m1 3.9h0m2.4-14.9h0m-8.6 1.6h0m9.8 5.5h0m-14 7.2h0m7.1-25.4h0m-3.3 7.3h0m6.9 6.7h0m3 8.2h0m-5.7 2.9h0m-.6-11.5h0m7.4 4.4h0m-2.7-11.5h0m-4.9-9.1h0m3.4 11.5h0m-2.9-7.1h0m8.3 12.7h0m-12.6-1.4h0m1.5-15.8h0m-8 17.2h0m14-3.8h0m-5.4 10.8h0m2-8h0m6.3 3.8h0m-6.6-5.7h0m-.3 2h0m.4-8.6h0m6.9-6.8h0m1.7 22h0m-12.2-8.5h0m.7 5.3h0m-.4-16.7h0m10 6h0m-5.8 12.1h0m.9-7.6h0m1.8-9.9h0m-11.1 9.9h0m1.7 4.9h0m3.3 3.5h0m9.1-18.3h0m-13 19h0m14.2-2.5h0m-9.7-13.5h0m.5-5h0m-.3 13.9h0m-.6-5.9h0m2.9 4.4h0m-3 1h0m1.1 .3h0m5.2-.9h0m.2 14h0m1.8-19.1h0m-7.1-3.8h0m1.7 2.3h0m2.3 10.8h0m-4.3 1.5h0m.7 8.2h0m5.5-20.5h0m-3.9 10.5h0m2-16h0m-4 25.5h0m1.7-13.1h0m8.6 .4h0m-3.5 .6h0m-4 6.7h0m-1.4-15.6h0m-4.2 7.3h0m.2-.1h0m0 1.9h0m6.1-1.4h0m-12.1 4.5h0m14.7-21.9h0m-6.7 26.9h0m3.4-6.4h0m-1.1-5.9h0m6.4 7.9h0m-6.9-.7h0m-1.7-3.6h0m-.8 8.7h0m3.9-6.7h0m1.7 6h0m-4.2-.5h0m5.9-6.6h0m-10.3 2h0m10.4-8.4h0m-5.6 3.7h0m4.7-5.1h0m-4.3 5.6h0m.7 2.7h0m1 6h0m-7.1-6.7h0m8.3 9.7h0m-8-14.7h0m-3.3 1.3h0m14.1-6.5h0m-6.8 11.8h0m8-.9h0m-2.7-4.5h0m-.9-.7h0m-6-9.9h0m-1.5 6.2h0m.4-9.8h0m1.5 13.9h0m2.3 4.7h0m2.4-5h0m-9 .7h0m4.4 3.1h0m8.6 3.1h0m-6.7-3.5h0m1-7.4h0m-4.4 6h0m2.9-7.9h0m4 12.2h0m.8-3.4h0m2.9 .4h0m-11.8-1.6h0m4.8 6.3h0m-.7 .8h0m6-23.9h0m-2.9 9.8h0m-1.4 9.6h0m2.7 .4h0m-7-.8h0m-1.4-6.5h0m-1.8 4h0m8.9 2.4h0m-4.2-2.9h0m-.9-3.1h0m4.5 8.7h0m-8.1-12.8h0m7.6 16.5h0m-5.7-13.1h0m6.7-2.5h0m.6 13.5h0m-1.3 5h0m-3.7-12.2h0m-.1 9.8h0m-.9-1.6h0m.6-9.3h0m-5.6-6.8h0m13.6 15.7h0m-2.3-19.8h0m-5.2 12.7h0m8.5 1.7h0m-8.3 4h0m-.4 4.5h0m.8-8.6h0m.7 6.3h0m1.4 3h0m-3.5-11.6h0m.4 12.8h0m-2 1.9h0m-1.3-15.6h0m.7 12.1h0m8.4-9.2h0m.9 .7h0m-.6-15.3h0m-5.8 18h0m2-.8h0m5.1 7.2h0m-4-11.6h0m.6-1.1h0m3.2 .1h0m-4.2 15.1h0m-1.7-15.3h0m-6.8 3.2h0m18.5 20.9h0m-8.3-16.8h0m-5.6 .4h0m4.6 1.8h0m-4.4-11.7h0m1.6 4.1h0m.8 8h0m2.2-9.9h0m.9 15.3h0m-3.5-9.5h0m-2.3 2.5h0m1.3-7.8h0m.4-1.6h0m.5 8.4h0m9.7-.9h0m-12.1-2.5h0m3.7 9h0m4.6-8.3h0m-6.6-4.8h0m-4.3-1.9h0m7.1 10.3h0m-.4-10.6h0m-2.3 17.6h0m3.1-8.4h0m1.6 0h0m1.7-4.1h0m0-9.8h0m-11.9 4.5h0m10.6-1.4h0m-6.4 1.7h0m6.5 11h0m-4.9 3.9h0m6-7.7h0m-9.3-5.4h0m2.7 9.7h0m4.2-5.2h0m-9.9 7.7h0m10.2-8.7h0m-.3 7.1h0m2 1.2h0m-9.8 1.7h0m6.3-14.4h0m-7.5 16.2h0m3.1-7.1h0m3.4-13.7h0m5.2 10.3h0m-9-.4h0m8.1 .2h0m-6.9 3.2h0m-2.1-5.3h0m3.6 8.7h0m4.9 6.1h0" stroke="#000" stroke-opacity="0.42" stroke-width="0.75" stroke-linecap="round" fill="none"/>
<path d="M155.9 505.6h0m2.8-8.8h0m3.3 6.6h0m-2.2-7.2h0m-3.7 3.8h0m5.6 2.2h0m-7.4 6h0m6.9-2.4h0m-2.2-8.3h0m-3.2 5.5h0m4.5-6.7h0m-.3 12h0m-1.6-7.1h0m9.9 3.9h0m-14-1.3h0m8.7-6.1h0m-5.4 3.7h0m8.4-4.3h0m-7.6 4h0m-4.1 2.2h0m9.1 5.7h0m-4.4-8.2h0m-3 10.9h0m-1-15.7h0m2.7 3.6h0m2.5 3.2h0m-8.2-7.2h0m8.2-1.2h0m-.3 12.9h0m-1.6-4.6h0m3.6-2.6h0m1.8-3.4h0m-3.6 8.7h0m1.9-9.6h0m.5 6.1h0m-3-5.2h0m-3.4 10.8h0m-.1-10.1h0m10.4 8.9h0m-5.2-3.1h0m-.5 1h0m1.7-2.3h0m-1.4 6.9h0m-6.3-5.2h0m3.9 4.5h0m1-3.2h0m0-7.2h0m4.6 8.6h0m-9.2-5.3h0m10.6 1.5h0m-7.9 6.2h0m-2-4.4h0m-6.4 5.5h0m14.1-3.2h0m-7.6-9.9h0m-1.7 10.1h0m-.6-8.1h0m.9 .1h0m5.4 10.1h0m-3-3.6h0m.7-1.8h0m-8.4-3.7h0m8.5 .9h0m2.3-2.3h0m1.6 9.3h0m-5.8-1.6h0m2-4.2h0m5.8-3.9h0m-1.4 .9h0m-.3 1.3h0m-.2-4h0m-4.8 3.8h0m4.6 1.8h0m-2.5 8.4h0m1.9-5.6h0m-6.6-.4h0m8.6-8.3h0m.4 4.7h0m-7.4 2h0m-2.8 .6h0m11.8-.3h0m-8.3 .8h0m.1-9.1h0m-2.3 5.8h0m7.2 6.1h0m-3.7-2.8h0m5.9 2.2h0m-1 8.5h0m1.8-9.3h0m-6.1 .7h0m-2.3-8.3h0m1.1 12.2h0m-4.2-9.5h0m2.3-1.3h0m-2.3 15.1h0m8.7-15.2h0m-4.7-3.9h0m.5 7.7h0m1.1-7.7h0m-3.4 10.8h0m-1.8 2.4h0m-2.8-13.8h0m6.3 4.3h0m-.4 16.3h0m3.6-13.4h0m1.2 4.2h0m3.4 3.4h0m-6.8 3.9h0m.4-9.1h0m2.8-4.5h0m-.4 3.8h0m4-9.2h0m-1.5 7.4h0m-3.6-13.6h0m4.3 22.2h0m-5.8-2.7h0m-4.1-9.3h0m8.9 5.4h0m-10.5 2.6h0m.2-.6h0m2.8 .7h0m7.6-1.6h0m-11.3-9.7h0m-.3 13.8h0m6.9-13.7h0m-4.5 11.9h0m1.7-4.7h0m-1.5-9.2h0m-.5 6.6h0m3.4 8.5h0m.9-7.5h0m-2-2.9h0m4.1 2.5h0m1.3 2.8h0m-9.3 5.1h0m6.2 2.5h0m-3.1-7.1h0m3.4 10.4h0m-5.2-5.3h0m5-8h0m0 7.9h0m-3.9-10.6h0m4.1 2.4h0m-.2-3.4h0m-4.9 5.4h0m6.3-4.5h0m2 14.6h0m-2.6-5.5h0m1-3.6h0m-.5 2.9h0m-5.8 .8h0m4.2-6.6h0m-4.7 3h0m7.3-6h0m-4.5 10.6h0m4-5h0m-3.2-3.7h0m2.7 .3h0m-2.4-1.2h0m-.5 7.9h0m1.3-3.5h0m2.5-1.3h0m-1.2 15h0m3-10.6h0m-7-4.3h0m5.9 9.3h0m-8.6-5.6h0m10.3 7.2h0m-3.1-10.9h0m-1.1-.4h0m.3-.5h0m-6-6h0m-2.6 10.1h0m4.1 8.1h0m5.7-17.5h0m-5.7 3.7h0m1.5 4.2h0m-4.6 .6h0m7.9-7.6h0m5.5 7.2h0m-4.8 10.7h0m-5.8-8.9h0m3.6 .3h0m-1.8-7.1h0m-.2 9.8h0m4.7-6.3h0m.6-2.3h0m-2.5-3.3h0m-6 8.7h0m11.1-7.3h0m-1.1 7.9h0m-3.2-4.7h0m2.9 1.7h0m3.5-3.8h0m-9.6 3h0m8.6-1.9h0m-.7-8.3h0m-6.5 11.2h0m1.5-3.4h0m-1.4 2.8h0m2.1 4.9h0m-.8 .6h0m-3.5-6h0m3.2 7.7h0m6-8.5h0m-6.7-.6h0m1.1 4.3h0m-2.3 1.2h0m1.9 1.2h0m3.5 2.6h0m1.3-.4h0m-.9-11.2h0m-5.2-.4h0m-.3-.4h0m5.4-3.4h0m-4.6 14.9h0m5.4-8.7h0m1.2-4.4h0m-4.9 2.2h0m-2.3-3.3h0m-3.5 9.4h0m7.3-4.1h0m-5.1 .9h0m3.2 2h0m1.8-6h0m5.8 7.4h0m-9.1-8.9h0m-4.1 6.3h0m6.3 4.5h0m-3.5 1.3h0m3.1-5.7h0m4.9 2.1h0m-3.3-1.5h0m-.6-1.2h0m-.4-2h0m.4 8.1h0m1.7-4.3h0m-2.7 3h0m3.2-9h0m-1.7 .3h0m-1.2 1.6h0m-.9 13.2h0m-3.9-9.9h0m5.2 5.3h0m-1-12.6h0m-.2-1.7h0m1.6 11.5h0m-.9 1.1h0m3 1.4h0m-6.6 .1h0m2.7-7.4h0m-6.5 12.3h0m7.1-2.4h0m-2-5.5h0m5.8 2h0m-4.9-2.9h0m.7-3.5h0m-2 5h0m2.9-4.2h0m1.4 6.6h0m3.8-5.1h0m1.1-2.8h0m-6.7 7h0m5.7-7.9h0m-7 .3h0m2.9 10.5h0m-9.2-7.2h0m4-7.1h0m6.8 10h0m-5.9 4.8h0m2.3-5h0m-3.6-1.1h0m9.2 .2h0m-7.9 1.3h0m-1.9-7.2h0m8.8 1.9h0m-7.9 3.1h0m-1.8-.1h0m5.1-5.9h0m-.8 9.1h0m-2.9 2.5h0m5.3-3.9h0m-5.4 .3h0m1.7-5.6h0m-3 .3h0m11.6 8.9h0m-10.4 4.1h0m3.5-5.7h0m-1.2-6h0m3.9-3.7h0m-9.7 5.7h0m12.6-3.1h0m-5 1.7h0m2.8-4.6h0m-5.4 4h0m-1.2-.2h0m8.6 3.2h0m-5.6-3.6h0m3.5-6.1h0m2.4 4.1h0m-7.8-1h0m4.3 11.6h0m-.9-13.6h0m1.4 2.1h0m-6.5 10.3h0m-1-10.3h0m3.6 6.1h0m2.1 9.8h0m-3.8-8.9h0m-1-9.6h0m8.8 1.8h0m-.7 7.1h0m-5.7-3.3h0m-2.5 7.5h0m-4-9h0m5 5h0m3.8-5.5h0m2.4 1.4h0m7.1 1.2h0m-9-3.6h0m.8 9.9h0m-1.3-.7h0m-3.8 .8h0m5-7.4h0m-4.8 9.6h0m1.7 .1h0m2.8-1.6h0m.1-4.8h0m-1.6 3.1h0m-5.8-10.7h0m-1.7 2.4h0m8-1.4h0m3.8 5.8h0m-8.7 .8h0m3.6 2.2h0m2.2-10.2h0m1.6 5.1h0m-1.2-3.8h0m-4.3 5h0m1.1 6.7h0m-1-13.3h0m-1.3-1h0m7.8 5.2h0m-4 13.5h0m-6.4-18.1h0m9.2 1.7h0m-9.6 6.6h0m9.2-8.9h0m-6.3 1h0m-.7 4.5h0m3.6 8.3h0m2.4-10.4h0m-3.4 6.8h0m1.3-4.1h0m-.5-.7h0m3.1 8.7h0m7.9 2.5h0m-8.1 9.9h0m-5.5-6.7h0m-1.2-14.8h0m1.9 8.1h0m-.1 .3h0m5.9-1.7h0m-10.4-3.8h0m8.3-.5h0m.7 3.9h0m2.2-10h0m-7.8 5.7h0m1.5 15.5h0m3.8-9.8h0m1.5-2.2h0m-2.5 6.5h0m2.7-5.7h0m1.5 1.6h0m2.1-2.7h0m-3 1.9h0m-3.3-4.1h0m2.3 3.8h0m1.3-4.8h0m-3.4 9.8h0m-5.1-12.8h0m6.3 6.3h0m-3.1-5.5h0m1.1 3.9h0m2.3-2.7h0m4.3 9.8h0m-4.6-6.7h0m4.5-10.1h0m-3.2 3.6h0m-8.7 16.4h0m10.4-9.6h0m-6.6-7.4h0m2.1 5.8h0m-.7-1.4h0m-.7 9.9h0m3.3-2h0m4.8-1h0m-7.9-.6h0m2.1-4.5h0m2.3 2.2h0m-1.7 7.7h0m1.3-9.9h0m-6.3 1.3h0m3.5 1.6h0m5.9 8.6h0m-4.2-8.1h0m.9-6.9h0m1.3 4.1h0m-7.8 .8h0m.2-6.1h0m2.4 8.2h0m-1 .4h0m-.3-3.4h0m3-3.4h0m3.7-3.6h0m-6.6 9.8h0m2.9-3.2h0m1.7-5.7h0m-6.6 6.7h0m-.4-7.6h0m2.9 8.2h0m-1.4 6.1h0m-1.6-8.8h0m5.1 5.8h0m-1.1-3h0m-7.5-3.3h0m8.9 2.7h0m-3.5 7.9h0m6.7-5.6h0m1.7-12.8h0m-6.6 14.7h0m-4-6.8h0m9.5 3.1h0m-4.8 .3h0m4.6 3.6h0m-11.3-2.5h0m6.7-2.7h0m-.4 .6h0m2.2 2.3h0m1.7-9.9h0m0 8.2h0m-7 4.2h0m7.8-6.7h0m-11.1 .8h0m13.7 9h0m-8.4 1.4h0m.9-10.9h0m-.1 .9h0m7.7-3.3h0m-3.6 8.3h0m-6.8-11.6h0m2.1 4.7h0m2.8 1.7h0m-1.4 4.2h0m-2.3-.9h0m-.5 1.9h0m7-7.4h0m-2.1 15.2h0m-7.5-12.8h0m5.6 2h0m.1 3.2h0m-.1-4.9h0m2.3-10.4h0m.9 23h0m2.8-15.6h0m-1 11.7h0m-8.1-6.2h0m3.7-5.7h0m2.5 1.7h0m-8.4 3.5h0m1.6 2.8h0m3.2-11.6h0m-3.7 2.1h0m11.3 2.1h0m-9.7 1.5h0m1.5-6.5h0m-1.1 4.7h0m-1.1 4.8h0m.2-7.5h0m7.4 8.2h0m-6.3 9.4h0m-.9-11.7h0m1.3-7.4h0m-2.9 8.1h0m6.2-.5h0m-1.2 2.2h0m-3.5-7.8h0m4.7 5h0m4.8 2.4h0m-8.6-1.9h0m3.1-5h0m-1.5 4.3h0m-3.3-2.7h0m2.3 3.4h0m-4.3-10h0m7.5-5.5h0m-4.6 6.6h0m1.3 8.3h0m4-2.2h0m-3.5 4.4h0m5.4-1.2h0m-14.4 8h0m15.1-12.2h0m-5.2 4.2h0m7.8-1.9h0m-9.8 3h0m-3.6-4h0m5.7 2.9h0m7.4 1.7h0m-9.4-2.9h0m2.2 3.1h0m2.3-4.6h0m-8.6-.2h0m8.5 2.3h0m-11 2.3h0m10.8 .6h0m1.9-6.7h0m-9.3-8.2h0m12.4 15.8h0m-1.2-.6h0m-6.7-3h0m5.4 4.5h0m-6.5-10.4h0m-.9 10.9h0m4.4-8.8h0m-.9 4.8h0m-.4 1.4h0m-.5 6.3h0m7.4-5.4h0m.5 .2h0m-1-2.6h0m-3.1-9.3h0m-.2 15.4h0m4.3-.2h0m-6-11.5h0m-2.3-6h0m1 8.4h0m-5.4 .3h0m4.3 5.3h0m3.9-.3h0m-1-1.1h0m-5.4 6.6h0m1.9-3h0m4.6-.8h0m-2-5.2h0m-.5-1.5h0m2.1 1.5h0m-6.8-5.4h0m1.7 5.6h0m1.9-6.2h0" stroke="#000" stroke-opacity="0.2" stroke-width="0.75" stroke-linecap="round" fill="none"/>
<path d="M146.2 494.3h0m3.4 .8h0m-8 1.4h0m7.3-8.1h0m-4.7 3h0m1.8 2.1h0m-2.3-2.3h0m4.9 1.8h0m.6-2.4h0m-9 4.6h0m-2.1-6h0m9.7 4.7h0m-7.3 4.1h0m2.3-.9h0m-2 2h0m11-.3h0m-6.6-4.8h0m4.1 1.1h0m-1.3-.3h0m.1-.5h0m-6.3 2.1h0m-1.2 5.2h0m4.1-6.6h0m-1.2-3h0m4.3-2.5h0m-1.5 4.9h0m-3.1-.6h0m1 .8h0m3 .4h0m-.3-2.1h0m7.6 .8h0m-1.5-4.8h0m-12.1 5.8h0m15-2h0m-11.1 3.8h0m1.9-3.4h0m.8 .9h0m-2.3 .5h0m.8-.7h0m5.5 2.9h0m-4.9-1.7h0m8.5 5.2h0m-11.7-11.5h0m8 5.2h0m-7.7-3.1h0m0 2.4h0m-2.3 8.9h0m5.9-6.1h0m3.4 2.3h0m-9.7 1.5h0m10.9-.7h0m-5.9-5.1h0m-3.7 2.3h0m4.5-2.8h0m.8 0h0m2.2 2.4h0m-6.4 1h0m4.3-.6h0m3.3-5.3h0m1.4 3.3h0m-3.4-.3h0m-2.1 2.4h0m1.5-5h0m.7-2h0m1.4 7.8h0m0-4.2h0m.5 2.8h0m-8.9-5h0m4.2 6.6h0m-1.4-3.2h0m3.7-3.2h0m-4.8 3.8h0m3.2-1.6h0m-.5 6.3h0m.9-4.9h0m-.4-6.7h0m-1.8-1h0m-1.5 5.7h0m-1.4 2.8h0m4.3 .4h0m-5.1-3.2h0m7.9 3.8h0m6.6-5.2h0m-14.8 6.1h0m-.1-5.5h0m.3 5.7h0m6.1-3.5h0m-7.4-.5h0m13.9-1.5h0m-8.2 1.4h0m1.6 .9h0m-4.5-3.3h0m-3.8 4.4h0m7.8-1.9h0m1.1 .2h0m-7.6-2.8h0m6.7 5.5h0m4.5-.5h0m1.3-2.6h0m-8.5 9.5h0m.4-9.1h0m1.5-3.7h0m-3.2 9.4h0m4.5-2h0m-5-4.7h0m16.5-.1h0m-11.2 5.3h0m.4-2.2h0m-.7-1.6h0m2.9-1.7h0m-7.6 2.9h0m1.3-3.4h0m6.7 1h0m-7-.5h0m.9 2.6h0m-1.7-4.7h0m9.9 2.7h0m-6.4 1h0m-6.3 3h0m9.4-2.7h0m-12.1 1.9h0m8.4-1.2h0m5.1-.4h0m-6 4.3h0m5.4-4.2h0m1.5-2.2h0m-7.5-3.9h0m3.4 6.5h0m-4.6 5h0m.9-5.7h0m-6.8 3.7h0m12.8-3.8h0m-6.1-.5h0m7.1 2.1h0m3.6-3.1h0m-6.2 1.3h0m5.7 1.2h0m-13.8 5.5h0m3.3-7.6h0m6.3-4.5h0m10.3 11.5h0m-17.3-3.4h0m3.1 .8h0m7.1 1.5h0m-1.2-1.6h0m-3.4-5.3h0m3.9 2h0m-1.2-.2h0m-11.2-1.4h0m10.1 1.8h0m-9.2 1.4h0m16.6-3.6h0m-16.5 4.3h0m6.5 4h0m-3.3-5.8h0m8.2-1.4h0m-6.3 1.4h0m1.9 0h0m-2 .3h0m5.3-.6h0m-8.2-1.8h0m1.4 1.1h0m-3.3 1.1h0m5.8-.7h0m.7-4.3h0m-7.7 4.2h0m-2.1 .7h0m8.9 .3h0m-.2-3h0m3.8 2.7h0m-3.7 .1h0m-5-.8h0m3.5 4.3h0m4.8-2.7h0m3.7 .1h0m-10.5-2.4h0m7.1-1.4h0m1.1 2.9h0m-1-2.1h0m-13.7 8.9h0m8.1-11h0m4 4h0m-.2-5.6h0m4.3 1.4h0m5.6 4.8h0m-17.8-4.1h0m6.9 6.6h0m8.5-3.1h0m-10.2 3.8h0m4.6-3h0m-9.2 1.8h0m5.1 .8h0m6.2-1.8h0m-.6 .4h0m-5.1-1.4h0m-.2-.9h0m1.4-.1h0m-1.2 .5h0m6.5-.2h0m-6.3-1h0m1 7.1h0m3-2.1h0m-7.3-3.3h0m2.4 2.5h0m4.4-3.4h0m-3.4 .9h0m-5.6 .7h0m4.2-.1h0m-.8 .8h0m-8.4-.8h0m7.2-1.6h0m1.9-1.8h0m5.6 5.1h0m-4-2.1h0m-1.4-.2h0m.3-.8h0m-2.7-.8h0m.8 .5h0m-3 1.7h0m14.5 .4h0m-10.8-4h0m-.2-.5h0m6.8 2h0m-9.2 3.1h0m3.1 0h0m2.4-1.5h0m-10.5-1.3h0m4.2 1.7h0m6.1-.1h0m1-1.9h0m-4.6 1.1h0m5.7-1.4h0m-1.7 1.9h0m4.9 .7h0m-10.8 2.4h0m7.4-2.5h0m.5 2.1h0m-3.5-3.8h0m-1.9 .4h0m7.3-1.5h0m-2.8 2.1h0m2.3 3.7h0m-5.2-2.1h0m3.6-1h0m-14.3-1.8h0m5.1 2.5h0m13.2-4.7h0m-12 4.1h0m5.6 2h0m-3.7-4.4h0m7.1 2.5h0m-1.8-4.6h0m-5.1 5.7h0m2.6-1h0m-.7 .1h0m7.9-.9h0m-8.6 .6h0m5.3 1.4h0m-3.9-4.4h0m.9 2.1h0m3.1-1.4h0m-8 2.6h0m.7 4.1h0m5.7-6.3h0m-5.9 .8h0m8.2 1.7h0m-1.3-2.8h0m-4.3 2.2h0m.8-2.5h0m-1.4 1.6h0m-3.8-2.3h0m-2.6 5h0m-1.5-1.8h0m5.5 .1h0m7.5 3.8h0m-1.3-7h0m-3 2.2h0m2.4 4.8h0m4.2-3.8h0" stroke="#000" stroke-opacity="0.2" stroke-width="0.75" stroke-linecap="round" fill="none"/>
<path d="M140.3 502.2h0m-.8 4.3h0m-2.1 7.1h0m2.3-9.8h0m-2-9.4h0m.3 13.3h0m-.4-.5h0m-.2 11.3h0m.6-.4h0m1.4-16.3h0m-1.2 18.7h0m3.8-14.3h0m-3.4 14.9h0m-.9-19.6h0m1.3 19.2h0m-.4-12.5h0m.5-8.6h0m-.4 20.2h0m.8-3h0m-2.2-16.5h0m.1 13.6h0m1 .8h0m2.3 7.2h0m1-6.5h0m-3-9.3h0m1.5 3.1h0m-1.2 6h0m-.4 3.6h0m.3-2.5h0m-2.2 2.2h0m2.4-1.5h0m.9-6.8h0m-.9-5.4h0m.6-4.5h0m-.6 4.6h0m-.2 9.8h0m-.3-5.3h0m-2.1 4.4h0m.1 6.2h0m1.9-13.9h0m-2.3 5.6h0m2.7 7.6h0m-1.2-12.8h0m1.1 3h0m-.9 .6h0m2.1-14.7h0m.1 11.3h0m-2.9-4.1h0m.5 8.7h0m2.2-1.3h0m-.9 1.8h0m-.2 9.2h0m-1.9-13.2h0m1.8 7h0m-1.5 2.2h0m2.7-2.3h0m-2.4-1.5h0m-1.4-11.6h0m2 7.1h0m1.5 1.8h0m-.8-7h0m.6 10.8h0m-3.1 4h0m1.9-6h0m1.1-13.4h0m2.9 11.9h0m-4.3 4.5h0m1.3-5.1h0m1.9 2.1h0m-1.4-9.5h0m-1.8-2.4h0m.6 21h0m0-11.1h0m-1.3-11h0m3.4 10.8h0m-1.2-1.2h0m-1.9 8.3h0m-.4-23.1h0m-1 12.4h0m1.2 6.1h0m-.4 6.8h0m2.3-2.2h0m-.6-3h0m-.8 5.2h0m1-9.1h0m1.4 5.5h0m-1.9-9.7h0m-.4-7.2h0m.3 9.6h0m-1.7 9.4h0m2.9-.4h0m-1.8-2.2h0m1-17.2h0m0 14.7h0m-2.8 9.2h0m1.7-4.3h0m.5-8.5h0m2.1 5.5h0m-1.6-8.4h0m-2.3-11h0m3.4 22.9h0m-1.8-7.1h0m1.6 6.6h0m-1.5-8.3h0m1.6 8h0m1.1-10.6h0m-2.6 3h0m1.1-1.4h0m2.5 1.3h0m-4.2 2.8h0m1.3-5.4h0m-1.4-4.8h0m1 .2h0m1.7 27.6h0m-3.9-16.2h0m1.9 0h0m-.5-3.5h0m.7-2.7h0m-.6 9.7h0m.1-7.2h0m-1.9-1h0m2.8 9.7h0m.7-16.6h0m-.5 3.4h0m-2.5-7.6h0m0 16h0m-.7-1.6h0m5.2-3.1h0m-.2-7.8h0m-1.7-.6h0m-1.8 9.8h0m1.8 10h0m.7-9.5h0m-.2 3.2h0m-.9 2.9h0m2.2-9.5h0m-2.5-.9h0m.6 14.6h0m-2.3-7.9h0m5.8 3.4h0m-2 3.3h0m-1.9-14.9h0m.2 8.6h0m-1.1 6.9h0m2.4-1.5h0m-2.5-17.9h0m2.6 18.8h0m-.9-4.6h0m.6-2.6h0m-.4 4.9h0m-2.2 1.3h0m.7-2.7h0m-.6-7.1h0m2 8.6h0m-.6-6.2h0m.2 5.7h0m.4-2.4h0m2.1-18.7h0m-1.2 22.7h0m-1.2-4.6h0m.2 1.3h0m-.1 1h0m.4-1.8h0m-.1 0h0m-1-4.4h0m.8-2.4h0m-2 3h0m2.2-7.6h0m-1.8 7.7h0m.5-6h0m-2.1-1.1h0m3.4-3.8h0m.1 18.5h0m-1.6-8.4h0m1.5-1.4h0m-.7 6.1h0m1.4-2.2h0m-3.2-10.3h0m3 9h0m-.6 5.3h0m.4-5.8h0m-1.1 2.1h0m-1.3-7.1h0m.4-5.4h0m1 16.1h0m.6-13.6h0m-.6 1h0m-1.8 13.2h0m1.6-10.3h0m1.4 1.7h0m-2.6 .4h0m.8-4.2h0m.1 5.6h0m3.5 7.3h0m-4.8-3.3h0m2.7-2.3h0m-2.1 7.2h0m.1-2.2h0m1.7-6.3h0m.3-11.3h0m-.2 8.1h0m-2.2-7.3h0m.6 9.6h0m2.8-3.8h0m-2.6-2.6h0m1.9-.4h0m-1.7 2.9h0m-1.1-6.8h0m2.5 7.2h0m0 15.2h0m-3.6-14.8h0m4.4 1.1h0m-2.2 7h0m-.3-5.5h0m1.4-3.7h0m-2.1 12.7h0m.8-15h0m1.1-6.8h0m1.9 7.6h0m-2.5 3h0m-.1 4.4h0m.5 .5h0m.3-7.5h0m-1.9 1.9h0m.4 2.2h0m.8 7.3h0m-.4 2.2h0m-1.3 0h0m-.2-4.3h0" stroke="#000" stroke-opacity="0.3" stroke-width="0.75" stroke-linecap="round" fill="none"/>
<path d="M168.2 510.9h0m-5.7 5.4h0m-1-3h0m-.4-11.6h0m6.2 6.5h0m-2 8.1h0m-4.2-7.3h0m5.1-.1h0m-.7 2.2h0m-1.9-4.5h0m-2.2 2.4h0m5.1 4h0m-2.6-3.7h0m-2 3.4h0m-1.5 3.7h0m-.4-7.8h0m.1-2h0m.6 10.7h0m-1.4-10.9h0m3.1 4.9h0m2.3-1.1h0m-5.9-5.4h0m6 6.5h0m-3.3-1.9h0m3-.9h0m-7.3 2h0m3.9 5.3h0m1.7-7h0m-2.8 3.2h0m-.8 2.8h0m2.4-2.5h0m3.9 1.9h0m-4-9.4h0m1.4 11h0m1.6-.3h0m1.2-6h0m-6.7 1.2h0m3.6 1.3h0m2.2-.4h0m-1.1 0h0m-7-3.1h0m8.2 2.1h0m.3 1.7h0m-8.5 2.1h0m7.2-3.8h0m0 6.7h0m-4.4 0h0m5.4-12.4h0m2.4 4.5h0m-3.6 2.3h0m-3.7-.7h0m0-8h0m.3 6h0m4 .1h0m-2.7 8.4h0m1.3-3.2h0m-2.2-.8h0m2.6-5h0m2.4 5.4h0m-2.1 4.1h0m-4.9-9.3h0m5.5 6.8h0m-.4-3.5h0m-3 4h0m2.8-11.2h0m-7 2.8h0m8.3 3.7h0m-1.3 4.9h0m2.8-5.4h0m-3.5-.8h0m3.6-.7h0m-1.4 3.4h0m-.7-2.1h0m3.2 4h0m-3.7-5.2h0m1.5-1.5h0m-4.1 9.2h0m1.8-1.7h0m.8-9.6h0m-5.4 7.7h0" stroke="#000" stroke-opacity="0.12" stroke-width="0.75" stroke-linecap="round" fill="none"/>
<path d="M141.3 522.0 L140.8 512.0 L141.5 505.0 L143.5 501.3 L147.0 500.0 L151.0 499.8 L153.8 501.0 L155.0 505.0 L155.2 515.0 L154.8 523.0 L151.0 525.5 L144.5 525.0Z" fill="#000" stroke="#000" stroke-width="0.8" stroke-linejoin="round"/>
<rect x="134.80" y="475.80" width="56.60" height="56.50" fill="none" stroke="#b9b9b9" stroke-width="1"/>
<text x="135.50" y="483.10" font-size="5.9" fill="#2a2a2a" stroke="#2a2a2a" stroke-width="0.12">46.8</text>
<text x="186.50" y="483.10" font-size="5.9" fill="#2a2a2a" text-anchor="end" stroke="#2a2a2a" stroke-width="0.12">3.28</text>
<text x="135.50" y="528.20" font-size="5.9" fill="#2a2a2a" stroke="#2a2a2a" stroke-width="0.12">48.9</text>
<text x="186.50" y="528.20" font-size="5.9" fill="#2a2a2a" text-anchor="end" stroke="#2a2a2a" stroke-width="0.12">1.09</text>
<line x1="215.80" y1="475.80" x2="215.80" y2="532.30" stroke="#6e6e6e" stroke-width="0.9"/>
<line x1="195.00" y1="512.30" x2="251.60" y2="512.30" stroke="#6e6e6e" stroke-width="0.9"/>
<path d="M207.1 505.5h0m5.6-4.6h0m-3.3 5h0m7.1-2.6h0m-6.3 3.5h0m-4.8-1.6h0m8.3 .4h0m-7-3.2h0m5.3 10.3h0m-3.9-5.5h0m3.4 4.7h0m-3-4.2h0m1.5 3.9h0m.3-8.8h0m-4 8.1h0m3.6-2.8h0m-4 .4h0m1.2-8.6h0m3.8 13h0m-1.1-6.2h0m-3.6 .5h0m6.3-.9h0m-4.7 0h0m2.6 2.2h0m-1.9-9.4h0m2.9 8.8h0m-6.9 3.6h0m2.3-10.9h0m1.2 6.4h0m1-.9h0m-2.3 1.8h0m-.6-9.2h0m1.9 8.5h0m-2.8-2.7h0m1.3 .4h0m4.4-1.9h0m-1.6 2.3h0m-1.1-1.1h0m2.3-.2h0m-5.1 4.6h0m1.5-8.5h0m-3.9 .8h0m4.8 8.2h0m.6-2.6h0m5.9-1.1h0m-4.7-3.6h0m2.6 3.6h0m-1.7 1.6h0m-8.2-.4h0m6.7 7.7h0m1.2-9.9h0m-1.8 2h0m5 .1h0m-7.7-2.1h0m4.7-6.5h0m-4.9 7.2h0m3.7-4.7h0m-.2 4.6h0m-1.2-.8h0m.4 1.1h0m6.2-3.7h0m-10.5 1.8h0m13.5 4h0m-10.5-4.9h0m2.3 5.7h0m-.6-6.2h0m-3.6 1.3h0m-2.1-.7h0m8.6 6.2h0m-.7-1.9h0m-3.6 5.5h0m-3.2-2.9h0m7.6-7.9h0m-6.3-1.5h0m5.4 5.1h0m1-1.7h0m-6.7-1.7h0m5.5-1.9h0m-3.8 4.3h0m.5-.8h0m3.5 7.4h0m-5.1 3.1h0m4.9-8.6h0m0 1.4h0m.9-6.1h0m3.4 10h0m-7.2-2.2h0m2.5-.2h0m1 .7h0m-6.9 3.6h0m4.7-8.6h0m-1.6 3.3h0m1.9-3h0m2.6 .4h0m-3.5 7.8h0m-.2-4.6h0m4.3-4h0m-5.4 7.2h0m-3.6-5.5h0m8.2-3.8h0m-5.5 7.9h0m4.9-7.7h0m-1.4 3.2h0m-1.6-.3h0m1.8 1.1h0m-3 .1h0m4.3-.7h0m-7 7.9h0m4.2-4.7h0m-4.8-11.8h0m5 5.3h0m-.5 5.4h0m-1-5h0m.2-5.9h0m3.4 7.4h0m-8.7 7.7h0m5.8-3.8h0m4.1-2.8h0m-.3 4h0m-1.9-1.8h0m-3.7-3.7h0m3.4 4h0m-3.9 .3h0m1.6 1h0m-.1 1h0m1.1-5.7h0m3.6 4.9h0m-7.6 2.7h0m2.4-6.1h0m4.8 .4h0m-6.1 7.3h0m-1 3.1h0m9.2-9h0m-8.6-2h0m9.2-3.2h0m-2 2.5h0m-1.6-1.7h0m4 1.8h0m-6.2 3.8h0m3.6-.6h0m-2.4 3.5h0m-5-6.4h0m2.3 0h0m6.7 2.4h0m-4.6-3.1h0m1.6 4h0m-3.9-7.5h0m6.3 5.2h0m.3-4.5h0m-3.4-1.3h0m-1.3 3.5h0m-.3 7.2h0m0-6.2h0m.3 3.5h0m4-1.7h0m-4.9 3h0m1-7h0m-6.7 5.4h0m4.6-1.1h0m-2.4-4.8h0m9.2 6.2h0m-6.1-8h0m-.6 2.6h0m-2.5 6.2h0m5.2 2h0m-.1-4h0m5.1-2.5h0m-3 6.6h0m1.2-8.1h0m-1.8 8.3h0m.1-10h0m-.2 4.6h0m-3.8 5.4h0m.3-9h0m-2 12.3h0m.4-3.5h0m6.3-10.6h0m-8.6 10.7h0m8.3-4.1h0m-6.9 5.5h0m1.9-9.2h0m7.9-2.2h0m-6.4 7.9h0m-1.2-2.9h0m2.5 .3h0m.4 2.4h0m3.3-4h0m-4.1 9.6h0m-3.3-2.4h0m1.3-7.4h0m5.6 1.2h0m-2.2 0h0m.6-5h0m.8 .8h0m-3.9-2.4h0m.8 9.6h0m2.5-6.6h0m-5.3 10.1h0m5-4.4h0m-5.3-.9h0m3.3-9.1h0m2.2 9.9h0m-1.9-.7h0m.7 .4h0m-1.2 10h0m.1-10.2h0m-.1 1.4h0m-5.3 .5h0m3.1 .6h0m-4.3 3.2h0m6.6-5.5h0m1.4 .1h0m-5.6-1.5h0m4.4 .1h0m-2.9-3.4h0m2.9 2h0m-2.2 .8h0m2.9-5.4h0m1.2-4.4h0m.2 6.5h0m-.6 6.1h0m.7-3h0m1.1-3.9h0m-7.2 .2h0m1.1 .7h0m8.2 6.5h0m-7.7-5.7h0m5.3 .8h0m1.3 3.2h0m.4-6.8h0m-8 5.4h0m.9 1.6h0m8.7-7.3h0m-9.8 10.4h0m2.5-.6h0m2.4-8.5h0m-6.1 3.5h0m-1.7 6.2h0m5.1-11.9h0m.3 8.5h0m.3 6.1h0m3.5-6.3h0m-2-4.5h0m-.7 3.3h0m1-1.8h0m-3.6 3.2h0m.3 .8h0m2.5 0h0m1.8-9.7h0m.1 8.2h0m-.1-1h0m-.4-3.9h0m-2.3 8.6h0m2.3-5.3h0m-1.9-3.6h0m1.7 4h0m-5.8 2.1h0m3.6-3h0m4.4 12.4h0m-5.5-15h0m.7 2.7h0m2.5 .8h0m-2.7-4.6h0m-1 .2h0m5 5h0m-6.5 2.1h0m-.1-6h0m.6 7.2h0m2.2-.4h0m1.9 .6h0m1.8-9.4h0m.3-.2h0m-1.1-1.1h0m-3.4 7.9h0m2.5-1.6h0m0-1.4h0m-3.6 1.6h0m1.9 .5h0m2.9 3.8h0m-5-3h0m5.2 8h0m-1.1-14.4h0m-2.9 3.6h0m1.7 5h0m-.4-5.6h0m4.5 2.2h0m-6.6-5.7h0m-.4 5.9h0m1.8-1.9h0m-2.4 .9h0m7.3-.1h0m-2.9 6.3h0m4.2-13.9h0m-7.3 6h0m3.8 10.3h0m-2.1-13.6h0m-6.6 10.8h0m11-10.7h0m-2.8-.5h0m-1.1 3.7h0m-4 9.1h0m1.5-8.6h0m2.4 1.3h0m6.3 3.6h0m-4-7.1h0m-1.6 5.2h0m-2.5 6.6h0m3-8h0m-6.4-.6h0m7.1 2.6h0m-4.1 .3h0m2.5 2h0m2.6 0h0m-4.9-.6h0m3.1-4.4h0m-1.9 9.9h0m3.8-12h0m-4.1 3.2h0m1.3 5.4h0m-1.6-8.6h0m5 2.1h0m-5.6 3h0m.3-.3h0m2-5.4h0m-2.2 7.3h0m3.1-1.9h0m.6-.8h0m-.7 .9h0m-.4-2h0m2.2 6.5h0m-5.6-7h0m.3 7.4h0m4.5-7.8h0m-1 1.9h0m1.4 .7h0m2.1 1.2h0m-7 1.9h0m1.6 3.2h0m1.1-11.9h0m.9 1.6h0m2.3-5.2h0m-.8 5.4h0m-6.2 .7h0m2.7 .8h0m-3.9 3.6h0m3.5 4.8h0m-3.8-7.2h0m3.8-1.5h0m1.8 4.8h0m-.1-3.5h0m3.5 .4h0m-4.7 .5h0m-2.7-.1h0m2.3-3.7h0m4 8h0m-1.2-6.9h0m-7.7 4.5h0m6.5-4.4h0m-2-3.3h0m.9 5.9h0m-2.3-1.6h0m2.3-.2h0m1.6 9.7h0m-3.4-8.3h0m4.4-4.3h0m-3 1.2h0m-3.2 7.1h0m5.9-6.2h0m-4.6-.9h0m4.1-2.4h0m1 4.4h0m-1.1-1.1h0m-3.4 6.3h0m5.1-6.2h0m3.6-2.3h0m-6.2 3.8h0m-1.2 2.8h0m-.2-3.1h0m2.4 2.6h0m-1-3h0m-3.5 5.2h0m9.3-4.4h0m-6.9 2.4h0m4.6-2.7h0m-3.2-4.3h0m-2.6 4.7h0m.8-.1h0m4.5-2.5h0m-8.2 6.1h0m2.9-9.6h0m-1.3 7.5h0m4.1 2.3h0m1.3-7.1h0m-1.4 2.9h0m.2 1.2h0m.7-.4h0m-3.2 5.8h0m-.6-8h0m-2.3-4.3h0m1.9 7.5h0m1.2 3h0m3.5 .3h0m-2.6-10.6h0m1.6 1.6h0m2 6.2h0m-3.2-6.4h0m3.7 8h0m-6 5.4h0m2.5-5.1h0m1.9-2.7h0m-1.4 2h0m-2.9-2.9h0m3.4-8.4h0m-2.3 .5h0m-4.4 13.3h0m12.7-8.7h0m-6.7 5.2h0m-3.6 .7h0m2.6-6.7h0m1 .4h0m-1.4 2.3h0m-2.8 2.6h0m2.8-2.5h0m3.8 3.3h0m1 .1h0m.1-5.7h0m-1.7 1.3h0m1.1 1.3h0m1.6 .7h0m-7.8 4h0m-.4 .5h0m-1.6 .2h0m-.3-6.5h0m6.3 2.8h0m-1.9-3.4h0m0 9.8h0m-.5-.4h0m3.2-5.4h0m2.3 3h0m-4.3 2.3h0m2-11.2h0m1.4 2.5h0m-2.4 6.4h0m-.8 3.4h0m2.8-4.2h0m-1.3-7.6h0m.6 1.1h0m-2.7 8.6h0m4.1-7.4h0m-3.8 5.4h0m1.7-6.3h0m1-4.9h0m6.1 11.7h0m-10.1 4h0m5.6-4.8h0m.1-2.7h0m-4.7-.5h0m1.5 3h0m-.3 .5h0m1.5-3.3h0m-2.4-.2h0m2.9-6.7h0m-.3 3.9h0m-5.4 1.3h0m1.8 3h0m5.3-5.2h0m-3.9 6h0m-.3-3.2h0m-1.4 4.8h0m.2-2h0m1.9 .4h0m-1.3 1h0m2.5-2h0m-5.9-1.6h0m4.7-.6h0m-3-1.1h0m-.3 4.5h0m.9 4h0m2.8-8.2h0m-5.4-1h0m8.6-1.5h0m-4.3 .2h0m.6 3.9h0m1.8 5.8h0m2.4-7.2h0m-6.4-2h0m3.7 1.2h0m-3.7 15.2h0m1.4-7.3h0m2.6-11.2h0m-3.1 .8h0m.7 7.4h0m-.6-5.9h0m-1.7 3h0m-.4 4.7h0m3.4-1.4h0m-.4-9h0m-2.9 8.9h0m-.8-5h0m4.6 3.1h0m5.5 6.1h0m-5.9-3.8h0m-5.5 2.5h0m9.2-9.2h0m-2 3.5h0m-.4-5.4h0m-6.4 4.8h0m5.3 2.3h0m-5-1.3h0m4.4 .7h0m2.3-3.7h0m1.6 1.8h0m-2.7 9.4h0m-4.1-1.9h0m-1.7-1.4h0m2.2-2.1h0m5 0h0m-4.9 .9h0m6.2-1.6h0m-5.2 1.9h0m2.4-8.7h0m-3.6 2.8h0m-3.4 2.7h0m2.4-5.5h0m1 1.7h0m-.5 4.2h0m5.3-3.2h0m-3.4-2h0m-.9 .2h0m1.9 7.2h0m-1.4-2.3h0m.5 0h0m.2-.6h0m0 4.2h0m2.6-7h0m-1 .5h0m2.8 9.2h0m-7-6.3h0m2.2-6.5h0m-.7-.2h0m.1 4.5h0m1.2 4.2h0m.1 3.2h0m-.1-3.8h0m-.5 4h0m.2-9.8h0m1.4-.8h0m-.1 6.2h0m1.3-4.8h0m1.9-3.4h0m-6.8 13.3h0m-.2-2.3h0m2.5 2.8h0m.3-4.4h0m-5.7-3h0m7.1 1.6h0m1.2-10.2h0m-1.8 9.3h0m2.1-1.2h0m-.6-3.8h0m-1.9 6.7h0m-3.2-1.5h0m-1.8-3.9h0m6.4 4.3h0m1-5.5h0m-.2 5.7h0m-4.1-3.4h0m-2-2.1h0m3.3 10.6h0m5.2-5.8h0m-5.6-4.7h0m-.5 2.4h0m3.5-3h0m-3 4.2h0m.9 4.7h0m-3.5-.2h0m-1.5-7h0m3.2 4.3h0m5.5 1.3h0m-4.3 6.7h0m5.7-10.7h0m-4.4-.4h0m0-1.4h0m-3.5 2.5h0m2 8.2h0m3.2-4.7h0m-1.5-6.5h0m1.3 .1h0m-1.5 2.2h0m-5.7 4.4h0m2.4-3.5h0m5.2-2.6h0m-3.9-1.6h0m1.2 6.6h0m-2.8-4.9h0m5.3-4.5h0m-3.1 9.6h0m2.5-1.5h0m-6.8-.8h0m5.2-.1h0m-2.8-8h0m.5 9.8h0m0-3.2h0m3.4-2h0m.1 .4h0m-2.6 1.2h0m-.6 2.7h0m5.3 1h0m-4.4-3.7h0m1.9-1.3h0m1.4-2h0m-4.8 9.1h0m.7-7.8h0m-.3 6h0m-2.5-1.5h0m8-2.8h0m-1.2 4.3h0m1.1 .1h0m-5.3-10.2h0m6.1 5.5h0m-7 6.5h0m.2-3.4h0m2-1.8h0m1-3.8h0m-2.6 6.6h0m-.6-1.1h0m1.3-.3h0m-2 6.7h0m9.3-13.5h0m-4.3 5.1h0m-1.8-3.2h0m-3 3.5h0m1.5-3.8h0m1.7 11.1h0m-3.2-8.2h0m5.7-1.4h0m-.5 .4h0m.8 7.2h0m-10.9-5.1h0m11.7-3.1h0m-2.5 4.5h0m4.2 5.4h0m-5.6-12.7h0m2.6 4.5h0m-3 5.1h0m2.5-4.3h0m-1.2-4.5h0m-8.3 2.6h0m11.4 7.8h0m-5.2 1.7h0m-3.2-6.6h0m3.2 1.7h0m-3-.7h0m2.2-1.2h0m1 5.5h0m3.2-9.8h0m-.8 6.4h0m1.5-5.5h0m2.5 4.4h0m-2.7-2.5h0m-5.8 .1h0m1.3 0h0m1.3 3.2h0m5 2.6h0m-4.3-1.4h0m2.8 2.8h0m-5.6-9h0m3.5 .4h0m3.7-3h0m-1.9 15.6h0m-1.2-8.7h0m1.1-7h0m-4.7 5.7h0m3.4 1.2h0m-2.7 6.6h0m1.2-10.7h0m.9 3.6h0m4.1-1.5h0m-1.6 2.2h0m-2.6-6.8h0m-1.3 .4h0m1.2 7.5h0m1.5-1.3h0m-.5 1.4h0m-4.4-.5h0m1.6-.3h0m3.8-5.4h0m1.3 8.5h0m-.6-.2h0m-4.3-5.2h0m1.6-7h0m5.4 6.1h0m-8.9 7.5h0m3.8-1.5h0m-2.7-5.5h0m1.5-2h0m1.8 .8h0m2.2 .3h0m2.6-2.4h0m-4.1 6h0m-.3-6.2h0m-1.1 5.4h0m-1.6-2.6h0m.7-4.8h0m-2 6.2h0m4.2 .2h0m-1.2-.6h0m1.9-4.5h0m-4.4 6.8h0m3.2-6.7h0m-1.6 8.9h0m-.8-1.8h0m-6.2 4.9h0m5.9-17.6h0m-5.8 9h0m8.7 1h0m-3.1 1.4h0m-.7-.7h0m5.6 4.7h0m-4.9-3.6h0m2-1.1h0m-2.1-.6h0m5.3 2.4h0m-5.4 4.9h0m.2-1.3h0m2.9-6h0m-3.8-.8h0m5.8 9.4h0m-1.1-9.1h0m.2 4.4h0m.5-3.1h0m-4.1-1.4h0m5.4-1.6h0m-7.2 6.2h0m2.2-5h0m5.5 4.8h0m-4.3-.6h0m-.4-3.4h0m-1.5 5.4h0m.2-6.3h0m4.1 .9h0m-4.8-2.4h0m4.4 4h0m.1-5.5h0m-4.1 3.6h0m4.6 .9h0m-3.9-8.3h0m2 10.3h0m2.1-1.1h0m-.4-2h0m-2.5 1.5h0m-2.3 .7h0m2 7h0m1.1-6.4h0m-6.1 2.9h0m8.3-7.3h0m-4.7-.9h0m1.8 5.9h0m1.6-2.8h0m-5 4.4h0m2.1-2.7h0m3.3-4.6h0m-4.8 2.7h0m-.5-.3h0m2-2h0m.7 6.2h0m-3-8.2h0m2.7 9.2h0m2.1 3.4h0m-3.6-8.9h0m-.9 .1h0m2.2-4.8h0m-.7 4.6h0m-.2 .4h0m3.5 2.2h0m-2.5 4.7h0m-3.2-9.4h0m3.8 4.9h0m-.5-2.8h0m4.6 4.5h0m-7.7-.6h0m-4 1h0m5.9-6.5h0m3-1.7h0m.9 1.1h0m1.3 6.1h0m-2.8-8.5h0m-1.3 10.2h0m.3-4.1h0m-.6-1.8h0m.1 6.5h0m1.9-13.5h0m-3.1 15.3h0m3.2-4.2h0m-4.6-5.4h0m6.1 1.1h0m-4.7-2.5h0m.6 4.6h0m.7 1.5h0m.2 6.3h0m1-2.8h0m-4.9-5.7h0m7.1-1.8h0m-4 9.4h0m-4.6-4.4h0m8.4-3.7h0m-1.8 .9h0m3.8-2.2h0m-1.7 3.8h0m-2.9-3.4h0m-.3 9.4h0m.4-6.4h0m.1 .5h0m1.3-2h0m-7.2 4.8h0m5.3-1.4h0m1.3-11.8h0m2 8.7h0m3 0h0m-9.1 6.3h0m.5-2.8h0m0-8.4h0m2.3 5.6h0m2 3.9h0m-7.4-11.4h0m6.8 11.8h0m-3.5-1.9h0m8.5-5.7h0m-3.3 4.5h0m-5.1-4.7h0m5.9 5.6h0m-1.8-3.9h0m-7.8 .5h0m9.5 0h0m-7.7 4.8h0m3.8-1.1h0m4.8-2.7h0m-4.1 2.8h0m-.4-2h0m2.1-3.2h0m-1.9 6.4h0m-2.6 .5h0m3.8-2.9h0m-2.8 2.1h0m-5.4-3h0m8.6-2h0m2.3 2h0m.8 3.9h0m-1.3 .4h0m-3.7-9.2h0m1.3 0h0m-.1 1.5h0m-1 1.6h0m.3 2.2h0m-2 .9h0m1 1.8h0m.2-6.2h0m-.1 1.2h0m3.9 3h0m-2.5-3.8h0m-3.8 1.6h0m1.6 7.7h0m.6-10.6h0m-4.1 15.8h0m8.1-12.7h0m5.5 6.7h0m-8-6h0m1.7-6.3h0m-1.4 4.1h0m-4.9 3.9h0m3.5-12.6h0m1.6 11.2h0m5 .4h0m-5 .8h0m-.6-1.3h0m.6 4h0m-1.2-6.4h0m1.4 7.4h0m.8-6.1h0m-4.4-7.5h0m1.6 5.1h0m5.2-3.2h0m1.3 4.2h0m.3 6.9h0m-6.6-7.8h0m1.3 8.3h0m5.2-5.5h0m-.6 2.1h0m-7.9-10.4h0m0 4.1h0m-.8 6.2h0m5.2-.7h0m-3.7-.9h0m2.8-1.6h0m-1.3-2.9h0m-1.6 9.8h0m4.3-2.3h0m-2.4-7.5h0m3.1 8h0m1.2-.6h0m-.9-1.6h0m-2.4-.2h0m2.4 2.1h0m-5.5-5.4h0m-3.1 5.3h0m6.8-4h0m-.6-.1h0m.3 2.1h0m-4.4-2.6h0m.8 4.6h0m5.3 1.6h0m-5.7-4.4h0m4.2-9.6h0m-3.2 9.5h0m3.5 .6h0m-5.9 3.5h0m2.1-1h0m4.6-4.5h0m-3.4 1.4h0m-1.1 5.5h0m5.5-4.8h0m2.7-.6h0m-10.4 .5h0m3.3-2.1h0m-1.8-.6h0m3 5.7h0m1-3.3h0m-1.4-1.5h0m1.2 4.6h0m1-3.2h0m-3.5 .2h0m2.5 2.6h0m2.8 2.9h0m-3.8-11.4h0m-6.9 .7h0m5.3 7.3h0m-.4 .5h0m-1.9-2.6h0m5.4-1h0m-1.9 .1h0m2.9-2.2h0m-5.1-5.4h0m-2.5 3.2h0m7.7 8.6h0m-4.9 .9h0m6.3-4.5h0m-2.8 .1h0m.7-.8h0m-4.6-.4h0m6.9 1.6h0m2.7-7.9h0m-5.7 5.6h0m-.8 .8h0m5.5 1.1h0m-11.9 .5h0m11-4.4h0m-2.2 5.8h0m-2.3 .9h0m-4.4 .7h0m4-4.4h0m-1.1 2.9h0m3-1.1h0m-1.2-7.2h0m-3 4h0m2 2.7h0m-.2-2.2h0m-3.4 .7h0m.7-1.8h0m2.5 6.4h0m.3-8.5h0m-.4 8.3h0m3.8 2.1h0m-3.7-10h0m3.1 .4h0m5.1 11.7h0m-8.2-2.2h0m.1-3.5h0m4-2.3h0m.5 3.8h0m-2.9 .2h0m-1.4 1.5h0m1.9-7.9h0m-2.3 6.8h0m-2.6-7.5h0m2.2 .4h0m-2.7 3h0m11.1-.6h0m-4.9 10.8h0m4.2-9.2h0m-9.2-4.9h0m3.5 5h0m-3.2-3.2h0m.7 2.4h0m3.5 4.6h0m-1.2-2.9h0m.7-6.6h0m5.7 .1h0m-6.7-2.1h0m1.3 8.7h0m-1.1-1h0m-1-7.9h0m1.2 8.3h0m-2.6-6.7h0m-2.3 4.7h0m-3.3 6.9h0m3.1 .2h0m5.9-10.1h0m-4.3-1.4h0m2.2 10.3h0m-.7-2.1h0m-.4 1.2h0m5-1.5h0m-5.7 2.8h0m.2-3.6h0m6.2 1.1h0m1.3-6.6h0m-6.7 4.6h0m.3-2.3h0m2.8 4.5h0m-1.2-.6h0m.7-1.1h0m-3-7.3h0m2.2 5.7h0m4-4.7h0m-4.1 3.7h0m.6 5.8h0m-1.5-6.5h0m-2.6 .2h0m6.6 5.2h0m-2.5-9.6h0m-1.4 4h0m3.3 5.2h0m-5.5 1.7h0m-1.9-.7h0m3.9-2h0m-.6 2h0m-.8-2.7h0m0-.6h0m.4-4.5h0m-.3 8.8h0m3.4-5.6h0m-3.5-1.4h0m-1.3 .6h0m.6 5.2h0m-1.7-1.8h0m8.8 2.5h0m-8.2 4.9h0m1.4-7.1h0m2.9-5.4h0m2.1-5h0m-9 4h0m7.5 4.3h0m.6-3.9h0m-2.3 3.7h0m-.6-2.2h0m2-.2h0m-2.1 3.9h0m5-3.4h0m-3.6 1.9h0m.1 5.2h0m-.7-4.8h0m-4.8-.6h0m11.7-3.7h0m-10.2 4.5h0m2.3 2.3h0m.5-1.4h0m1.2-4.7h0m-4.9 2h0m6 2.4h0m-2.2-6.9h0m5.5 4.7h0m-5.8-4.7h0m.1 8.6h0m-.4-4.2h0m6.7-.6h0m-.6 6.5h0m-5.4-3.2h0m-3-5.9h0m8.2 2.1h0m-5.8 1.7h0m3.1-1.1h0m-.9-1h0m-.5 .2h0m1 2.4h0m-1-2h0m2.5-4.4h0m3.3 5h0m-8.2-.1h0m6.3 2.2h0m.9-2.8h0m0-5h0m-4 5.6h0m-.1-.8h0m-6.9-.2h0m6 .8h0m.8-.9h0m-6 2.2h0m1.8 4.9h0m4.9-9.1h0m0 8h0m-2.7 .1h0m6.6-3h0m-2.2 3.5h0m-3.7-8.4h0m-4.5 5.9h0m4.2 .3h0m.2-5.8h0m-1.2 2.5h0m1.9 2.4h0m1.4-4.6h0m-3.6 10.7h0m7.9-14.5h0m-6 7.1h0m2.6 .7h0m-4.5 3.8h0m5.2-3.5h0m-5.4-6.8h0m2.1 1.8h0m3.1-1.6h0m-6.4 1.9h0m4 6.2h0m-5.2 .4h0m3.9 1.1h0m-1.9-3.1h0m2.4 6.2h0m6.7-4.9h0m-7.6 .2h0m-3.1 2.7h0m9.6-4.4h0m-4.2-2.2h0m-1.3-.7h0m.2-1.2h0m-.9 5.4h0m4.6-7.9h0m-5.9 5.7h0m3.4 3.9h0m1.5-3.7h0m-6.6-1h0m7-2.1h0m-1.8 5.1h0m-2.2-.9h0m2.3-4h0m.5 5.8h0m-3.9-2.8h0m2.3-3.9h0m.3 5.9h0m-2.5-3.5h0m-.2-2h0m1.3-.5h0m1.3-1.5h0m1.5 9.1h0m-.8 3.1h0m-1.3-6.2h0m-5.2-2.4h0m2.9 1.3h0m4.2-.6h0m-4.4-2.9h0m1.4-1.7h0m.1 6h0m-1.2 .1h0m7.1-4.4h0m-4.8 .5h0m-3.7 6.6h0m3.3-3.4h0m.7 7.6h0m3.9-4.3h0m-9.2-7.1h0m1.3 3.6h0m7 2.7h0m-2.7-1.2h0m2.8-.4h0m2.8-7.4h0m-7.4 8.6h0m6.7-8.3h0m-12.4 11.1h0m3.4 .2h0m-.5 1.1h0m2.7-7h0m1.9-2h0m-7.4 6.9h0m8-4.1h0m-5.4-.9h0m-3.9 6.7h0m5.2-4.7h0m3.7 1.2h0m3.4-5.3h0m-8.1 1.8h0m8.3-3.7h0m-2.4 4.7h0m-1-7.6h0m-3 1.9h0m4.4 2.1h0m-.8 2.2h0m3.9-.7h0m-7.7 6.6h0m5.2-5.3h0m-1.7 .9h0m5.2-2.3h0m-3.2 2.5h0m.3 4.2h0" stroke="#000" stroke-opacity="0.42" stroke-width="0.75" stroke-linecap="round" fill="none"/>
<path d="M219.4 501.9h0m3-2.1h0m-4.1 5h0m1.6-7.2h0m-1 4.9h0m1.6-5.2h0m-4.7-1.3h0m2.9-3.4h0m3.6 10.5h0m-2-6.5h0m-2.9 1.5h0m-.1-3.7h0m4.2 4.9h0m-7.1 2.2h0m3.1 .6h0m2.4-3h0m-.9 3.4h0m-4.4-7.2h0m7.7 4.4h0m-8.8 3.5h0m2.2-1.8h0m4.7-3.2h0m-3.8 1.4h0m-5.2-2.3h0m3.9 6.4h0m9.2-6.1h0m-2.7-1.8h0m2.5 5.5h0m-5.8-.2h0m2.8-.6h0m-3.4 2.8h0m1.2-5.4h0m1.1-2.8h0m-6 4.3h0m2.1-1.9h0m3.3 5.6h0m.6-4.9h0m-4.9 .1h0m3.1 2h0m5.6 2.5h0m-5.4-3.5h0m-1.3 2.9h0m2.1-5.6h0m-2.4 2.8h0m2.5-2.1h0m-.9-.6h0m.7 1.2h0m-.7-1.2h0m1.4 9.7h0m-3.5-11.3h0m1.8 5.2h0m3.6 .6h0m2.9-1.7h0m-6.8 2.6h0m-4.3-4.7h0m7.2-2.6h0m-2.7 9.9h0m1.7-2.8h0m-4.8-3.7h0m5 4.6h0m-2.6-2.2h0m2.3-4.3h0m2.1 2h0m-3.7 2.8h0m1.2-.4h0m.9 1.9h0m-3.1 .6h0m-3-1.1h0m4 1.8h0m1.4-2.2h0m3.2-.4h0m-4.7 .5h0m-.6-2.4h0m.3 3.3h0m.7-4.6h0m3.7 5.8h0m-8.4-7h0m1.2 4.4h0m2.9 2h0m1.5-5.7h0m-1.4-2.3h0m-4.1 3.2h0m4.1 2.3h0m3.4-.6h0m-1.9 .7h0m1.2-2.6h0m-.5 6h0m-.6-4.6h0m3.9-2.7h0m-4.7 3.3h0m.2-.9h0m0 .1h0m.6 3.2h0m-5.4-1.7h0m7.6-3.7h0m-4.1 2.4h0m3.5 1.3h0m-.1-3.5h0m-5.9 .6h0m8 1.5h0m-4.9-.2h0m.1 .5h0m1.5 .3h0m-3.1-4.1h0m7 .3h0m1.3-.9h0m-8.5 3.8h0m6.7 1.5h0m-3.6-2.4h0m-4.8 7.7h0m4.5-.9h0m-.2-4.3h0m-3.2-3.9h0m5.2 3.8h0m-3.7 2.5h0m0-1.1h0m6.8-4.2h0m-5.2 1.3h0m1.5-4.7h0m-1.3-.2h0m-.8 6.7h0m-2.4 .9h0m-.9-2.6h0m3.3 1.9h0m.7 .2h0m-1 1h0m.9-6.9h0m3 .6h0m.2 7.7h0m-4.4-7.1h0m4.1 1h0m1.2 2.2h0m-6.3-.7h0m.7 .8h0m1.8-.2h0m-1.7-2.5h0m1.5 1.8h0m2.2-6.8h0m-3.9 4.5h0m4.2 3.4h0m-5.2 .2h0m8.3-.5h0m-4.7-2.2h0m2.2 1.7h0m-1.3-.7h0m.2-2.1h0m-4.7-1.6h0m6.2 5.9h0m-5.6-4.4h0m3.4 1.5h0m-1 0h0m2.3 3.3h0m-5.9-4.2h0m3.7 2.1h0m-.3-2.3h0m-2.5 3.9h0m.1-3.3h0m3.3 3.5h0m-7.8 1.2h0m6.8-.6h0m.5 .7h0m3.4 .8h0m-2.2-8.7h0m-2.8 5.2h0m2.4-.1h0m-2.3-2.7h0m-1.7 2.3h0m1.9-3.5h0m-.6 6.8h0m1.8-1.3h0m-2.8-1.2h0m3.9-.6h0m-4.1-6h0m2 9.7h0m-1 .5h0m-1.9-3.2h0m5 2.5h0m1.7-3.1h0m-6-5.4h0m4.7 3.9h0m-5.6 1.4h0m2.6 0h0m-.9-2h0m-2.4 6.2h0m1.2-2.3h0m4.9-3.9h0m-.4 6.2h0m.9-3.7h0m-1.6-4.1h0m-1.3 2.2h0m-2.7 1.3h0m6.3-.5h0m-1.5 1.4h0m3.9 1.8h0m-8.8 .1h0m5.5-7.8h0m1.1-.7h0m1.2 5.6h0m.7 1.6h0m-1.9-2.6h0m-9.4 0h0m4.6 1.2h0m.3-2.1h0m-1.5 2.5h0m2.8-.2h0m-1.9-3.1h0m5.8 2.2h0m-3.3 5h0m-.7-5.6h0m.3-.8h0m-1.6 5.6h0m-1.5-3.5h0m1.8-3.7h0m1.8 3.6h0m.1-2.4h0m-.1 2.5h0m3 1.3h0m-4.4-2.6h0m6.8 1.7h0m-6-3.9h0m5.2-.1h0m-4.5 1.3h0m.2 .8h0m-2.1 .8h0m1.4 .6h0m-.3 .8h0m-5.9-.8h0m7-.9h0m2.1 3h0m.9-2.3h0m-2.7 .5h0m-6.8-.7h0m8.6-2.1h0m-3.4 5.1h0m2.6-.5h0m-2.1-.2h0m-5-1.4h0m4.9-1h0m-4.4 4.4h0m7.4-1.8h0m-5.1-3.2h0m3.1 2.9h0m-3-1.7h0m3-1.7h0m-.4 .9h0m.9 2.1h0m-5.8-.6h0m7.6 2.1h0m-4.5 1.5h0m-3.5-.9h0m3.7-4.9h0m7-.3h0m-4.3 2.8h0m-2.8 1.2h0m-3.2 .2h0m2-2.3h0m3.6 .7h0m2.6 .7h0m-5.7-1.4h0m-2-2.7h0m3.3 5.2h0m-5.3-1.7h0m4.3-2.7h0m-8.3 4.8h0m9.9-3.9h0m.5-6.3h0m.8 3.9h0m3.7 3.9h0m-11.5-4.4h0m5.3 6.2h0m.1-7.3h0m5.4 6.1h0m-6.5-7.1h0m4.5 9.3h0m-7.6-7.9h0m4.6 2h0m1.1 8.3h0m-1-5.5h0m3.6 3.1h0m-.5-6.6h0m-2 6.3h0m5.6 .6h0m-4.2-1h0m-3.3-.8h0m-.5 1.2h0m2.7-3.3h0m-4.1-3.7h0m4.2 2h0m2.3-2.6h0m-3.6 4.4h0m-4.1-1h0m2.7-.8h0m.4 4.1h0m-1.8 .1h0m10.9-1.7h0m-6.2-.5h0m.6-1.6h0m-.4 2.3h0m1.7 3.4h0m-6.4-7.5h0m-3.8-2.7h0m10.8 8h0m-.5 3.1h0m-6.7-5.9h0m.5 2.8h0m-2.2-.1h0m2.1 2.7h0m4.3 .9h0m-1.8-6.1h0m-3.6-1.5h0m.5 .1h0m1.8 5.5h0m1.7-4.2h0m-1.3 2.8h0m-1.7-2.5h0m2.5 3.9h0m.8-5.6h0m.8 1.9h0m-4.5-2.3h0m2.8 3.2h0m-1.7-7.1h0m-.1 5.9h0m4.2-.1h0m-8-.9h0m3.1-1.4h0m.8-1.7h0m-1.6 4.7h0m-2.7 2.5h0m2.1-2.4h0m2 4.1h0m2.7-3.2h0m2.7-1h0m-4.4-5.2h0m.3 5h0m-.6-.7h0m5.4 2.1h0m-.7 2.4h0m-3.4-5.9h0m.8 3.9h0m8.6 1.7h0m-12.7 4.3h0m5-8h0m-2.6 2.7h0m.8-3.2h0m-2.1 1.6h0m2.4-1.6h0m-2.9-.8h0m1.6 3h0m-2.8-1.6h0m5.1 .7h0" stroke="#000" stroke-opacity="0.28" stroke-width="0.75" stroke-linecap="round" fill="none"/>
<path d="M211.6 519.3h0m1.8 .5h0m-.8 .7h0m-1.5 .3h0m-1.5-7.6h0m3.3 8.5h0m-.9-7h0m-1 1.8h0m-.6 2.6h0m-1.7-5.4h0m.9 6.1h0m3.1-8.8h0m-1.4 7.7h0m-.2 0h0m-1.5-2.2h0m-3.1-2.7h0m4.5 3.8h0m-.3 1.2h0m-1.9-.4h0m3.5 3.4h0m-3.5-1.7h0m2.2-2.6h0m-1.7 .9h0m2.9 7.4h0m.7-12.2h0m-2.5-1h0m1-2.3h0m-4.9 3.4h0m5.8 3.5h0m-3.1 7h0m-.2-8.5h0m-1 5.5h0m2-1.1h0m2.3-4.1h0m-2.8-.9h0m.6 2.9h0m1-3.4h0m.3 2h0m-1.4-.5h0m1 3.5h0m3.2-8.3h0m-4.2 2.2h0m-1.5 5.9h0m-.2 .2h0m4.5 7.3h0m-.9-6.4h0m-4.6-.5h0m4.9-5.2h0m-.4 1.5h0m1.3-4.4h0m-5 15.5h0m5.9-8.7h0m-2.9-5.9h0m0-1.3h0m-1.3 8.9h0m1.2-2.4h0m.1-2.6h0m-2.6-5h0m.5-.5h0m1.9 11.7h0m-.8-7.1h0m1.7 2.5h0m3.2 4.9h0m-1.9-19.8h0m-3.1 11.9h0m4.6 2.3h0m-4 1.8h0m-1.5 8h0m.9-9.8h0m-.7 .4h0m.7-.3h0m-1.6 3.6h0m3.5-11h0m-2.8 10.3h0m2.4-.2h0m.5-2.1h0m0-12h0m-1.1 3.6h0m-.5 10.9h0m.3-1.5h0m3.5-8.6h0m-4 7h0m4.6-7.2h0m-5.2 11.7h0m3.6-13.9h0m-.4 5.8h0m-4.1 6.5h0m.8-8.3h0m-.9 7.1h0m-1.4 6.8h0m4.9-7.4h0m-2.2 .7h0m5.8-1.6h0m-7.2-1.2h0m.9 2.9h0m5-4.6h0m-3.4 4.8h0m-1.5 .4h0m.9 1.4h0m-1.2-8.7h0m.6-5.7h0m1.4 3.2h0m2.6 10.4h0m-6.3-1.7h0m2.9 2.3h0m.2-1.8h0m-.5-3.2h0m-.3-6.9h0m1.7 9.1h0m-2.8-.2h0m3.4-2.8h0m-.6 4.5h0m1.2-.2h0m-.2 1.8h0m-1.5-5.1h0m.4-5.2h0m3.3 10.1h0m-4.7-1.6h0m6-4.7h0m-5.7 2.9h0m3.1 .3h0m-3.4-3.2h0m-2.5 5.6h0m3.3-3.2h0m2.3 .5h0m-2.1 .1h0m1.4 .3h0m1 1.7h0m-4.8-2.8h0m3.1 4.3h0m-1.5-1h0m2.5-8.6h0m-.4 2.4h0m-1.9 2.1h0m4.1 2.9h0m-10.8 0h0m6.3 .1h0m2.6-1.1h0m-3.4 4.9h0m5.5-7h0m-4.2 1.3h0m.1-.3h0m-.5 1.5h0m.1-4.6h0m-1.7-3.2h0m2.8 6.8h0m-2.4-9.8h0m2.6 5.4h0m-3.9 1.7h0m5.4 2.1h0m-1.7 3.1h0m-.8 2.3h0m.6-5.5h0m-.9 3.2h0m2.5-.4h0m-1.1-4.1h0m-2.6 7.3h0m1.3-7.1h0m-2 6.1h0m4.2-11.6h0m-2.7 5.6h0m1.1 4.3h0m4.4 1.3h0m-3.2-7.4h0m-3.5 8.1h0m4.4-4h0m-1.7-.4h0m2.4 5h0m-2.9 2.5h0m2.4-6.5h0m-1.7 3h0m-1.7-4.4h0m2.8 7.7h0m-4.5-15h0m5 4.6h0m-5.5 4.2h0m4.6-9.5h0m-1.4 6.5h0m-.1 1.2h0m4.4 .6h0m-5 1h0m.8 4.8h0m-1.3-4.2h0m4.9-1.3h0m-5-1.3h0m4 2.1h0m-8-1.4h0m8.6-.4h0m.5 5.8h0m-5-4.2h0m2 3.9h0m1.4-10h0m1.5 4.1h0m-3.8 .7h0m.3-3.9h0m-1.8 2.3h0m2.8 10.2h0m1.9-7.9h0m-2.3 3h0m-.5 3.7h0m.6-4h0m-3.4-.4h0m4-1.9h0m.1 .9h0m-3.7-6.1h0m1.7 6h0m-1.7-4.6h0m3.2 3.2h0m.7-4.2h0m-.7 5h0m-1-1.7h0m-1 5.2h0m2.5-.6h0m-1-4.5h0m.6 1.3h0m-4.1-9.4h0m1.4 4.8h0m-2.2 8.1h0" stroke="#000" stroke-opacity="0.26" stroke-width="0.75" stroke-linecap="round" fill="none"/>
<path d="M222.4 516.7h0m.1 8h0m-1.2 2.4h0m1.7-11.5h0m.5-1.7h0m2.3 1.8h0m-.2 5.3h0m-1.3 2.6h0m-.7-7.3h0m1.4-4.8h0m-3.8 5.8h0m2.8 5.7h0m-2.1 1.6h0m4.1-10.9h0m-.5 3.9h0m1.1 6.5h0m-7.5-1.7h0m7.2-.3h0m-7.7-2.5h0m5.8-5.3h0m-1.9 4.2h0m.4-1.7h0m1.9 6.6h0m-4.3 3h0m2.5-5.9h0m-1.5 .7h0m-1.2-5.3h0m3.2 8.9h0m-4.2-6.4h0m2.1 6.2h0m1.1-8.8h0m-2.4-2.9h0m1.9 4.1h0m-.8-2h0m2.1 3.7h0m-1.3 1.4h0m2-1.8h0m3 .2h0m-8.7 6.3h0m4.5-6.6h0m-.3-6.4h0m2.3 4h0m.3 4.2h0m-.9 .3h0m.6 5.2h0m-3.6-10.8h0m1.7 8.2h0m1-6.2h0m.5 7.9h0m-3.8-4.9h0m1.6-1.2h0m1-.1h0m-2.3-5.7h0m3.6 3.9h0m-1.2-.5h0m2 6.7h0m.5-7.7h0m-2.2 5.6h0m-.2 .5h0m.8-5.3h0m-2.2 11.2h0m.5-5.3h0m-1.8-2.9h0m2.5-.6h0m-2.4-1h0m1.9-1.1h0m-1.2 1.4h0m1.4 5.4h0m2.4-9.6h0m-2.9 10h0" stroke="#000" stroke-opacity="0.12" stroke-width="0.75" stroke-linecap="round" fill="none"/>
<path d="M211.5 506.4h0m-1.2 1.3h0m-2.3-4.9h0m-3.8 2h0m8.4-9.8h0m5.8 6.9h0m-.5-.6h0m-6 3.5h0m2 .8h0m-.9 .7h0m.1 .4h0m-.5-1.4h0m11.2-9.4h0m-7 7.5h0m5.7-3h0m-10.2 8h0m1.1-10.3h0m-3.9 12.9h0m6.6-16h0m-1.7 9.9h0m-8 5.6h0m4.6-8.5h0m10.7 2.8h0m-9.3-4.1h0m6.3-2.8h0m-1.3 8h0m-11.7 .4h0m4.4-1h0m1.4-9.2h0m-2.9 5.9h0m1.4-10.4h0m-3 8.3h0m1.4 14.4h0m3.9-14.5h0m-2.1-5.7h0m1.2 14.7h0m-3.4-2.7h0m9.8-6.3h0m-2.4-2.5h0m4.5 7.7h0m-7.1-6.4h0m5 3.7h0m-5.5 2.4h0m6.9-5.9h0m.3-3.4h0m-4.5 3.5h0m-4 11h0m6.9-16.1h0m-6.6 16.4h0m1.4-6h0m-7.4 12h0m1.1-12.5h0m14.6-1.9h0m-6.8 6.2h0m-4.4-2.2h0m-2.4 4h0m-2-7.8h0m3.3 6.2h0m7.6-.1h0m-13.5 6.8h0m8.1-18h0m3.2 3.7h0m9.8-1.9h0m-14.3 8.2h0m-1.9-3.9h0m12.2-6.6h0m-11.2 15.4h0m-4.8-6.2h0m12.1-4.9h0m-4.3 4.2h0m1.4 12.2h0m-3.2-6h0m.4 3.1h0m11-12.5h0m-11.9 8.8h0m16.9-11.6h0m-3.2 .7h0m-17.9 0h0m6.5 .8h0m-1.6 5.3h0m2.2 1.2h0m4.5-7.3h0m5.5 3.7h0m-5.3-.1h0m.5-9.2h0m-6.5 11h0m-5.8 4.8h0m9.5 0h0m6-15.1h0m-11.7 6.7h0m-6.7 8.2h0m9.1-9.1h0m4.6 5.8h0m-4.4-3.1h0m-3.1-7.1h0m13.6 6.4h0m-3.7-9h0m-5.9 6.5h0m.6-.2h0m-6.4 11.2h0m-.2-1.6h0m3.9-1.4h0m2.8-4h0m4.7-2.5h0m-8.4 4.7h0m0 .6h0m2.4-17.6h0m5.5 13.8h0m-12.6-.7h0m15.6 2h0m-11.2-5.4h0m-5.8 5.4h0m7.1-7h0m-8.2 10.1h0m10.1-7.5h0m10-3.3h0m-4 6.9h0m-16.1 5.5h0m7.1-11.5h0m-2.4 10h0m1.9-5.5h0m6.6-6h0m-5.6 4.9h0m-.5 4.3h0m1.3-4.4h0m9.2-3.4h0m-18.5 9.3h0m15.1-3.7h0m8.6-3.7h0m-10.5-.1h0m-.7 15h0m8.5-15.5h0m-8.8-2.6h0m-3.5 6.2h0m-1 1.5h0m7.1 4.3h0m-8.6-6.4h0m14.2-1.9h0m-10-.3h0m2.5 10.3h0m-1.9-5.1h0m-2.8-1.9h0m8.1-3.5h0m-5.8 5.6h0m-2.6-1.1h0m2.9 1.4h0m6.5-2.4h0m.2 4.1h0m1.6-7.9h0m-11.6 .7h0m1.1 3.4h0m7.4 2.9h0m3.5-13.9h0m-7.6 13.1h0m-1.4 1.2h0m6.8-6.1h0m-4.3-1.7h0m-9.6 1.2h0m10.9 3.7h0m-4.1-10.6h0m-9.7 11.3h0m26.6-3.6h0m-23.5 6.3h0m8.9-10.9h0m-13.2 15.8h0m3.4-6.3h0m9.7-4.9h0m2-1.5h0m-13.5 15.3h0m13-9.6h0m-4.6 3h0m4.4-3.8h0m-3-8.9h0m1.7 7.4h0m-6.3 6.7h0m-3.1-16.2h0m7.1 4h0m-3-.4h0m10.3 4.9h0m-8.2-1.7h0m-2.6 16.9h0m6.7-22.5h0m-12.8 5.8h0m6.8 1.1h0m-4.1 7.2h0m-2.1-4.9h0m5.6 .3h0m3.7-.9h0m6.6 4h0m-3.2-2.3h0m-11.7-.9h0m16.6 6.3h0m-11.2-9.8h0m-.2-1h0m18.4-7.9h0m-15.7 16.7h0m4.5-6.2h0m-5.7-.3h0m-4.8 1.7h0m14.6-4.3h0m-8.3 4.7h0m2.2-3.9h0m.9-3.6h0m-.4 1.3h0m.3 4.6h0m-3.8-2.5h0m11.3 1.6h0m-8.4 .3h0m4.5-4.9h0m-3.9 9.6h0m4.3-3.5h0m1.2-5.8h0m-5.4 9.2h0m-4.5-1.5h0m.3-3.7h0m-4.7 2.6h0m7.9 2.6h0m-5.3 4.5h0m.9-4.1h0m-1.5-6.2h0m8.5-2.6h0m2.2 5.6h0m-3.4 8.7h0m2.5-11.2h0m-1.2-5.9h0m-.7 6.8h0m-2.7 .3h0m-3.1-6.2h0m0 2.2h0m6.5 7.6h0m-2.8-5.2h0m-2.1 4.8h0m-2.8-4.5h0m2.9 3.8h0m2.1-5.9h0m-.1 3h0m-9.3 6.3h0m13.7-9.9h0m-5 11.7h0m3.3-10.5h0m.9-.4h0m-5.8 8.1h0m8.5-11.7h0m-11.3 14.2h0m4.4-8.3h0m.5 2.3h0m3.1-1.8h0m.4-.4h0m-2.8 3.4h0m6.2-.9h0m-8.3 11.9h0m-.4-16.5h0m1.3 7h0m-7.6 .1h0m2.5 2.7h0m8.8-7.9h0m-6.9 4.7h0m1.3 5.3h0m1.7-12.3h0m-4.6 3.5h0m12.4 1.9h0m-2.1-7.5h0m7.4 3.2h0m-17.3 7.7h0m10.2-4.6h0m-3.3-.9h0m-1.1 3.5h0m1-2.8h0m-5.7 4.8h0m2.6-5.2h0m-3.3 .7h0m2-1h0m-3.9 1.4h0m10.7-1.2h0m-2.6-9.8h0m-2.4 11h0m-3.4 .5h0m0 7.4h0m7.7-8.8h0m-11.2 4.4h0m1.3 3.2h0m7-9.9h0m-5.1 1.5h0m6.9-1.7h0m-2.1 5h0m12.4-1.7h0m-21.1 0h0m11.5-3.2h0m-5.6 5.7h0m-3.5-3.9h0m11.1 5.4h0m-7.4-5.7h0m.5 1.4h0m3.3 1h0m-1.3 9.7h0m-.4-6.5h0m6 1h0m-.8-2.6h0m-12.5 .6h0m2-4h0m4.3 7.9h0m-3.8-8h0m10.9 1.7h0m-12.5 2.8h0m1.9 1.3h0m7-2.6h0m-4.6 2.3h0m-4 1.8h0m9.9-7.1h0m1.2-4.7h0m-9.3 3h0m9.8-1.3h0m-4.8-2.3h0m-1.1 6.5h0m-.9 8.4h0m-1.9-11.5h0m6-8.9h0m-3.1 12.8h0m12.1-3.9h0m-13-1.6h0m-3.2 9.4h0m9.3 .5h0m-4-10.7h0m7.4 2.2h0m-5.8 9.1h0m.5-17.2h0m-3.3 6.3h0m3.4 9h0m-9.3-5h0m13.8-9.2h0m-3.2 11.6h0m-10.8 .9h0m5.7-1.4h0m-.9 2.6h0m9.2-3.4h0m-15.2 .1h0m3.3 1.3h0m7.5-4.6h0m1.9-6.3h0m-12.1 9.8h0m15.4-2.7h0m-19.5 4.5h0m11.1-6.8h0m5.3 2.6h0m2.1 4.3h0m-3.2 3.7h0m-2.7-13.4h0m-3.8 5.8h0m-6.2 5.4h0m4.4-2.2h0" stroke="#000" stroke-opacity="0.16" stroke-width="0.75" stroke-linecap="round" fill="none"/>
<rect x="195.00" y="475.80" width="56.60" height="56.50" fill="none" stroke="#b9b9b9" stroke-width="1"/>
<text x="195.70" y="483.10" font-size="5.9" fill="#2a2a2a" stroke="#2a2a2a" stroke-width="0.12">58.6</text>
<text x="246.70" y="483.10" font-size="5.9" fill="#2a2a2a" text-anchor="end" stroke="#2a2a2a" stroke-width="0.12">20.1</text>
<text x="195.70" y="528.20" font-size="5.9" fill="#2a2a2a" stroke="#2a2a2a" stroke-width="0.12">17.7</text>
<text x="246.70" y="528.20" font-size="5.9" fill="#2a2a2a" text-anchor="end" stroke="#2a2a2a" stroke-width="0.12">3.54</text>
<line x1="94.50" y1="536.00" x2="94.50" y2="592.50" stroke="#6e6e6e" stroke-width="0.9"/>
<line x1="74.50" y1="572.80" x2="131.10" y2="572.80" stroke="#6e6e6e" stroke-width="0.9"/>
<path d="M87.1 582.8h0m-7.6-10.3h0m12.3 5.2h0m-4.5 3.3h0m-1.7-2.1h0m8.8 3.8h0m-5.1-4h0m-7.4 2.5h0m-.3-.9h0m-4 .3h0m9.9 .6h0m6.1-.3h0m-3.3 3.4h0m2.4-1h0m-6-5.8h0m1.5 6.7h0m-1.2-2.9h0m-1.8-1.5h0m7.5-5h0m-1.7 4.8h0m-.9 4.3h0m.4-8.7h0m.4-.7h0m-5.5 3.7h0m-3 3.5h0m7.6-5.7h0m-2.2 4.1h0m-1.3-6.5h0m3.4 8.7h0m-1.7-1.9h0m-6-.8h0m13.8 .9h0m-16.1-2.7h0m3.1 4.9h0m4.1 3h0m3.6-1.8h0m-7.1-10.7h0m-3.8 5.9h0m10.4 2.7h0m.1-2.3h0m-7.9 1.2h0m3.4-4.7h0m-8.3-3.3h0m13.1 7.2h0m-2.2-3.2h0m5-1.4h0m-11-3.6h0m9.4 6.7h0m-10.2-.4h0m5.7 3.5h0m-7.9-2.1h0m9.2 5.8h0m-6.6-6.7h0m1.1 3.9h0m-7.1-6.9h0m11.9-1.4h0m2.9 2.5h0m-5.1-.8h0m1 2.7h0m-3.5-1.2h0m2.1 2h0m-3.5-8.3h0m12.1 13.4h0m-2.8-2.8h0m-3.6-4.4h0m-3.6 1.1h0m6.9 5.1h0m-4.2-4.4h0m1.4 4.8h0m7.2-13.9h0m-4.7 5.3h0m3.2 8.6h0m-3.2-6.2h0m1.2-.3h0m-.3 3.8h0m-.7-4.6h0m-13.3 .2h0m9.2-.4h0m2 1.5h0m-4.6 1.4h0m4.3 1.9h0m-8.2-1.7h0m2-7.8h0m-5.7 5.9h0m10.4 4.1h0m-.7-2.8h0m-.3 1.6h0m-.6-3.3h0m-6.9 2.1h0m5.2 3h0m-3.6-8.1h0m9.4 11h0m-2.1-9.4h0m-4.4 6.4h0m5.6-6.3h0m1.6 .9h0m-1.1 7.3h0m-2.6-6.4h0m6.7 6.6h0m-10.2-4.4h0m-5 3.2h0m5-7.5h0m7.4 8.3h0m-8.8-7.2h0m6.9 3.5h0m-.5-5h0m6.1 2.1h0m-4.1 7.8h0m-2.7-2.4h0m-5.2-2.8h0m5.9-8h0m1.2 9.1h0m-8.4-3.2h0m9.3 8.1h0m-4.1-4.2h0m-6.2-2.7h0m2.2 3.8h0m10 1.3h0m3-7.2h0m-7.2 3.3h0m.2-2h0m3.5 3.1h0m-14.3-2.7h0m5.7 2.2h0m6.3-3.6h0m-3.5-1h0m.3-3.8h0m-.2 3.1h0m3.4-1.6h0m5 1.9h0m-4.4 4.5h0m-.4-9.9h0m.7 14.6h0m-6.3-3.8h0m4 2h0m.8-.8h0m-6-5.2h0m4.9 6.4h0m-7.7-3.7h0m9.2 .1h0m.2 4.4h0m-.8 1.2h0m0-6.5h0m2.6 2.4h0m-6.8-1.1h0m-5.9 1h0m16.7-4.6h0m-5.6 .7h0m-3.5 1.5h0m5.4-.2h0m-3.9 .3h0m-4.1-2.4h0m3.6-3.8h0m1.4 5.6h0m-3.8-3.4h0m4.6 5.8h0m2.8 8h0m-3.4-8.6h0m-10.6 1.1h0m3.5-3.7h0m3.5 .9h0m5.5 3.6h0m1.9-4h0m-8.4-.6h0m9.1-2.6h0m-16.5-3.9h0m8.9 4.1h0m-4.9 5.7h0m7.2-1.6h0m-6 3.5h0m1.7-5.1h0m5.9 6.4h0m-6.2-2.7h0m5.3-4.6h0m-1.5 7.7h0m-2.9-4.4h0m-2.8 2.2h0m7.4-3.2h0m-1 .7h0m.3-4.4h0m5.1 10.2h0m-3.2-10.3h0m-6.4 7.2h0m8-1.8h0m-2.8-6.9h0m-1.9 .5h0m-.1-2.3h0m-2.7 9.2h0m-.4-1.4h0m-.8-9.5h0m-1.1 9.1h0m8-1.9h0m2.3-.3h0m-3.9 .2h0m-7-1.7h0m3 5.9h0m8.7-2.8h0m-8.7-.7h0m0-2.2h0m-6 4.9h0m10.3-2.4h0m5.6 7.3h0m-13.2-2.9h0m11.4 1.8h0m.1-.4h0m-7.2-3.3h0m6.4 3h0m-8.7-12.6h0m8.1 4.6h0m-15.2 3.7h0m10.4-2.1h0m-7.7-2.3h0m13.1-1.7h0m-11.3 9h0m10.5 2.6h0m2.7-8h0m-2.8 5.8h0m-11.3-1h0m1.9-5.5h0m7.1-4.3h0m8.8 12.3h0m-14.4-6.7h0m-4.6 4h0m5.6-.1h0m6-1.8h0m3 2.3h0m-3.5-3.3h0m-8.6-.9h0m7.2 1.4h0m2.7 4.1h0m.3-5.9h0m-5.2-.3h0m4.6 6.4h0m-1.8-2.3h0m-5.8-5h0m3.5-1.1h0m5.1 8h0m-12.5-3.6h0m1.8-1.8h0m12.9-2.8h0m2.2-4.8h0m-10 9.4h0m-1.2 3.4h0m2.5-3.9h0m.9 2.6h0m-.8-1.7h0m-5.9-4.2h0m1.3 1.1h0m6.2 7.4h0m7.5 2.2h0m-10.4-6.9h0m.5-.1h0m9-.7h0m-3-4h0m-8.8 6.4h0m13.6 1.8h0m-4.7-3.2h0m-1.6-.6h0m-2.2 3.7h0m9.9-.5h0m-10.8 1.9h0m-2.7-2h0m9.3-4.6h0m-10.9 5.1h0m-.4-7.1h0m0 7.3h0m-1.2-2.1h0m9.7-3.9h0m-10 3.1h0m3.2 .7h0m-.1-.3h0m3.6 3.6h0m-.4 4.6h0m-6.5-8.6h0m8-2.5h0m-11.1 3.3h0m13.1 1.8h0m2.8-4.7h0m-2.8-.6h0m-10.1 1.7h0m8.9 1.4h0m-5.3-2.4h0m.4 2h0m4.2 3.7h0m3.3-2.8h0m-4.5 2.2h0m-2-1.5h0m2.3 1.3h0m-3.7 7.5h0m.1-8.1h0m-.9-1.3h0m-3.6 .9h0m7.6 1.4h0m-3.5-.4h0m7.4-1.1h0m-4.7-1.4h0m2.6-7.1h0m1 7.5h0m1.3-10.2h0m-9.3-2.8h0m-3 10.8h0m8.8 2.2h0m-1.8-2.9h0m-6.6 3.7h0m10.5-1.3h0m.4-.5h0m-7.3-6.2h0m12 4.5h0m-6.7 2.1h0m-3-2.7h0m7 7.1h0m-3.8-1.1h0m-3.9-5.4h0m4.6 4.7h0m1.4-3.1h0m4.6-2.5h0m-.4 7.5h0m-8.8-7.4h0m-.9 2h0m7.7-5.8h0m-9.9 3.8h0m3.4 3.5h0m-.3-.6h0m-8.3 2.7h0m15.9-5.9h0m-7.1-1.8h0m-1.2 3.6h0m5.7 7.1h0m-.1-6.2h0m-4.4 5.2h0m1.6-3.6h0m-1.7-2.8h0m4.3 5.1h0m-7.8-2.2h0m5.8-.9h0m2.8 1.1h0m-5.5-2.5h0m3.5 4.5h0m.4-2.8h0m-10.2 0h0m9.6-6.4h0m-3.9 8h0m-10.3-4.2h0m16-.8h0m-1.4 6.1h0m1.1-5.7h0m-2.4 4.5h0m-3.6 .4h0m.7-.8h0m6-2.2h0m-11.1-10.4h0m9.8 6.5h0m-11-1.9h0m11.3 6.5h0m-4.6 1.2h0m-1.2-6.5h0m-2 6.3h0m4.3-3.4h0m-10.7-9.5h0m9.7 11h0m5.6 6.3h0m-1.3-7.4h0m-1.6 2.9h0m-13.4-3.9h0m2.5 3.9h0m10.8-4.3h0m-4.9 5.8h0m-.4-5.6h0m-.9-.1h0m-7.1 2h0m9.5 1.7h0m-1.8-3.3h0m8.6 11.2h0m-9.3-7.6h0m4.8 .3h0m-.4 1.1h0m-11-.9h0m15.8-2.6h0m-8-.5h0m-1 .4h0m1.7 .4h0m2.5-1.9h0m6.4 8.3h0m-6.5-5.1h0m-2.1 .4h0m4.8-1.4h0m-6-1.3h0m-1.2 2.7h0m.5-1.7h0m-1.5-1.8h0m.4-2.5h0m1.6 6.2h0m-.8-8.4h0m4.7 10.3h0m-5.6-3.2h0m14.2-3.6h0m-3.3 1h0m-10.4-1.3h0m8.2 .5h0m-7.9-1.2h0m1.1 5.4h0m7.3 1.1h0m-9.7-4.8h0m8.1-2.3h0m-.2 4.8h0m2.3 5.6h0m-5-1.2h0m-5.1-3.5h0m7.5-2.9h0m-9.3 .5h0m3.6-.4h0m8.9 2.3h0m-8.9-2.1h0m12.2-.8h0m-11.4 3.5h0m-1.8 .2h0m.2-3.7h0m3.2 5.9h0m-4.6-4.8h0m3.2 4h0m2.5-1.3h0m.2-5.6h0m1.2 7.1h0m.1-6.8h0m-.2 3.6h0m2.2 1.3h0m-7.2-7.1h0m3.8 2.1h0m-1.7-6.4h0m5.1 16.9h0m-6.3-9.8h0m2.8-2.6h0m-2.2 4.1h0m12.5 2.6h0m-12.4-1.8h0" stroke="#000" stroke-opacity="0.45" stroke-width="0.75" stroke-linecap="round" fill="none"/>
<path d="M92.2 569.5h0m-7.1-7.6h0m6 1.4h0m0-4.4h0m1 9.6h0m1.4-.4h0m-4.7-7.7h0m1.1 5.9h0m-.4-8.5h0m-.8 14.5h0m6.7-18.7h0m-2.8 3.2h0m5.2-2.1h0m-11.1 23.5h0m2.4-22.8h0m-1.3 9h0m.2 4.1h0m4.1-3.3h0m-4-.5h0m-1.5-4.5h0m4.1-.5h0m-.7-6.4h0m-.7 8.4h0m-6.6 17.2h0m6.1-8.1h0m2.9-5.9h0m-.6 7.5h0m2.1-13.4h0m-.2 2.5h0m-2.8-5.2h0m0 5.2h0m1.3 5.1h0m-4.4-.5h0m4.2 1.8h0m-3.2-6.3h0m6.2-10.1h0m-.6 .9h0m-4.1 17h0m2.4-14.9h0m1.6 2.1h0m-.2 .2h0m2-3.9h0m-2.1 .5h0m.4 4.4h0m-6.2 18.2h0m-1.1-16.1h0m7.1 .2h0m-1.8 .4h0m1 10.5h0m-2.4-11.9h0m2.7-.4h0m-2.8 8.2h0m5.1-14h0m3.3 .2h0m-8.3 14.2h0m1.7-1.3h0m-5.8-.3h0m8.5-5.5h0m-.9 3.7h0m-4.6-1.7h0m4.4-3.6h0m-.7 .5h0m0 1.2h0m.4-1.3h0m-6.1 18.9h0m2.4-22.8h0m.2 8.7h0m.2 1.9h0m-1.3 .7h0m3.6-7.2h0m-2 6.6h0m-3.1-2.7h0m5.8-.5h0m-5 .5h0m1.1 3.1h0m-1 8.4h0m3.4-7.6h0m-1.8-2.5h0m.4-1.8h0m5.1-1.2h0m-1-7.2h0m-.3-3.3h0m3.2 2.3h0m-5.8 13.6h0m-1 2.2h0m-2.2-5.6h0m8.6 .6h0m-4.7-10.8h0m-4.7 5.1h0m4.8 1.9h0m3.3-2.2h0m-.8 4.7h0m-5.2-4.5h0m.5 1.6h0m1.1 1h0m-2 .8h0m1.3 9.3h0m-3-3.3h0m4.4-3.1h0m.2-4.4h0m-3.2 3.8h0m1.4-1.2h0m6.1-6.6h0m-5.7 8.3h0m-1.3-1.7h0m1.5 3.7h0m-5.1 6.6h0m4.6 4.1h0m6-16.5h0m-2.8-2.6h0m-2 5.3h0m-.5 3h0m-.2 1.9h0m3.6-3.1h0m-5.5 3.1h0m-1.1-14.9h0m7 20h0m-.8-18.2h0m-2.3 4.2h0m-2.9 5.7h0m-1.8-2.1h0m5.6-1.9h0m-3.8 6.9h0m-2.4-3.1h0m.6 6.2h0m5.6-8.5h0m-.5-5.1h0m1.8 9.3h0m-1.1 4.2h0m-1.4-11.3h0m-1.5-1.9h0m-3.5 7.2h0m9.8-7.8h0m-4.9-.4h0m-.4 3.6h0m2.2-3.1h0m1.5 3.4h0m-3.6-1.3h0m-4.7 14.4h0m1.5 2.1h0m1.3-12.1h0m-2.6-4.9h0m2.7 6.4h0m1-1.4h0m5.4 .2h0m-8.1 7.4h0m-1.2 5.6h0m6-20.9h0m-2.8 2h0m2.9-2h0m-6.6 15.5h0m9.6-19.9h0m1.8 4.3h0m-1.6 2.5h0m2.6 .6h0m-8.9 12.6h0m.9-4.2h0m5.3-9.4h0m-1.6 3.7h0m-2.4 4.4h0m1.9-6.3h0m6.2-13.8h0m-13.1 15.2h0m-.5 11.7h0m7.5 .1h0m-8.3 3.9h0m8.7-17.4h0m-5 10.6h0m-.1-7.3h0m2.9 9.2h0m1.3-7.4h0m2.6-7.3h0m-9.2 13.1h0m2.2-5.7h0m2.8 1.5h0m4.7 2h0m-6.3-4.3h0m.8-.8h0m-.7 5.2h0m-1.1 1.4h0m2 3.7h0m.8-22.7h0m-1.3 23.4h0m1.8-10.7h0m3.3-.4h0m-1.3-8.8h0m-4.3 15.2h0m3.7-3.4h0m-1.4-3.5h0m-4 2h0m3.2-4.8h0m-.5 8.3h0m.7-4.3h0m-1.8-.5h0m3-2.5h0m-7.5 4.4h0m7.5 2.4h0m-3.4 8.9h0m-.1-11.7h0m6.3-9.2h0" stroke="#000" stroke-opacity="0.12" stroke-width="0.75" stroke-linecap="round" fill="none"/>
<path d="M77.5 584.2 L77.0 579.0 L79.5 575.5 L84.0 574.6 L88.5 573.2 L92.3 574.0 L94.0 577.0 L94.3 583.0 L92.8 587.3 L88.2 587.5 L86.2 584.4 L82.0 583.4Z" fill="#000" stroke="#000" stroke-width="0.8" stroke-linejoin="round"/>
<rect x="74.50" y="536.00" width="56.60" height="56.50" fill="none" stroke="#b9b9b9" stroke-width="1"/>
<text x="75.20" y="543.30" font-size="5.9" fill="#2a2a2a" stroke="#2a2a2a" stroke-width="0.12">0.23</text>
<text x="126.20" y="543.30" font-size="5.9" fill="#2a2a2a" text-anchor="end" stroke="#2a2a2a" stroke-width="0.12">0.031</text>
<text x="75.20" y="588.40" font-size="5.9" fill="#2a2a2a" stroke="#2a2a2a" stroke-width="0.12">99.3</text>
<text x="126.20" y="588.40" font-size="5.9" fill="#2a2a2a" text-anchor="end" stroke="#2a2a2a" stroke-width="0.12">0.023</text>
<line x1="154.90" y1="536.00" x2="154.90" y2="592.50" stroke="#6e6e6e" stroke-width="0.9"/>
<line x1="134.80" y1="572.80" x2="191.40" y2="572.80" stroke="#6e6e6e" stroke-width="0.9"/>
<path d="M139.2 579.1h0m5.5-1.4h0m2.9 2.6h0m3.2 1.5h0m-8.4-3h0m-3.6 3.9h0m.8-3.7h0m3.2 0h0m-2.1-1.4h0m6 13.6h0m-.1-17h0m-4.2 7.4h0m.6-5.2h0m3.7 4.9h0m-4.3-6.8h0m-5.7-1.1h0m11.1 10.5h0m-.2-2.3h0m.2-2.3h0m-1.3 1.2h0m-1.2-1h0m8.2 .3h0m-5.3-2.9h0m1.4 3.9h0m-.9 1.1h0m2.6-3.9h0m-4.4 1.5h0m-3.8-6.2h0m-.3 6.6h0m1.4-4.1h0m-3.5 15.9h0m.8-10.8h0m.5-.8h0m4.3-4.4h0m-5.7 5.3h0m1.3-2.9h0m6.9 2h0m-3.2 2.1h0m1.9-.6h0m.3-7.6h0m-.8 2.8h0m-2.8-2.6h0m-4.2 8.4h0m7.9-3.4h0m-7.3-1.2h0m11.4 3.6h0m-9.8 1.2h0m2.9-5.5h0m-2.1-.9h0m6.3 2.4h0m-3.4-8.3h0m8.9 15.4h0m-2.7-13.7h0m-4 5.6h0m4.6 4.1h0m-9 .3h0m.9-3.4h0m4.9-1.5h0m-5.2 5.3h0m-1.8-7.8h0m4 2.4h0m-5.7 5.6h0m11.6-3h0m-10.5 2.4h0m15.6-2.1h0m-1.5-1.6h0m-3-5.6h0m-4.5 12.9h0m-3.6-5h0m7.6-9h0m-10.6 8.6h0m13.4-.3h0m-12.4-6.5h0m2.5 3.6h0m-.3 .5h0m2 5.5h0m-7.5-2.6h0m-3.1-8.3h0m18.8 3.6h0m-3.7 .8h0m-2.3 8h0m-6.4-7.5h0m-7.4 1.5h0m9.1-.2h0m-3.3 1.4h0m4.2-7.6h0m-.5 2.4h0m-3.7 2.7h0m-3.4-.9h0m1.5 3.4h0m4.3-1.5h0m-1.1 1.1h0m-1.6-6.1h0m.6 6.4h0m.3-6.4h0m.3 7h0m17.5 .7h0m-18.9-1.8h0m6.2-5.4h0m6.9 3.4h0m-4.4 2.3h0m6.2 .4h0m-16.4 2.3h0m3.5-5h0m4.7-.1h0m2.6 3.9h0m-2-1.7h0m-4.6-.5h0m-.7-6.9h0m3.2 3.8h0m-3.7 .9h0m1.1-1.8h0m-1.8 .2h0m10.9 7.1h0m-1.1-3.6h0m-4.1-2.6h0m8.4 8.7h0m-.5 6.6h0m-10.3-9.5h0m1.6-5.8h0m3.1-2.4h0m3.7 5.3h0m-16.7-.2h0m14 1.8h0m-6.7 .7h0m5.7-1.6h0m1.1-6.3h0m-9.4 4.3h0m10.2 3.8h0m-10.8-1h0m2 2.2h0m-.8-4.1h0m4.9 2.3h0m-2.1-3.8h0m5-5h0m-5.8 6.4h0m-1.9-3.5h0m1.7 2.5h0m2.4 5h0m-3-4.4h0m4.4 .7h0m-2.3-3.2h0m5 11.7h0m-2.5-6.8h0m-3.2 11.5h0m-4.5-14.7h0m-3.2 3.9h0m16.3-3.4h0m-5.6 .8h0m-.3 7h0m-2.6-10.9h0m-2.7 2h0m2.7-2.1h0m3.5 11.9h0m1.3-9.4h0m-5.8 6h0m2.5-3.1h0m6.5-6.2h0m-13 2.1h0m-2.7 2h0m5.4 1.9h0m-5.3-3.3h0m6.4 .4h0m2.6-.6h0m-4.4-1.9h0m-.5 4.2h0m-3.1-10.2h0m10.9 13.2h0m-1.9 .6h0m-6.2-11.3h0m8.5 13.6h0m-4.1-3.3h0m-2.8 1.1h0m5.6-1.4h0m1.1 3.5h0m2 1.9h0m.5-7.8h0m-11.5 3.4h0m8.1 1.3h0m-1-6.4h0m-10.1 3.5h0m10.1 .5h0m-6-3.9h0m-.6 4.8h0m7.3 2.6h0m-10.5-3.4h0m12.7-3.5h0m-5.7 5.4h0m.5-.2h0m1.7-4.9h0m6.8 5.5h0m-9.9-6.8h0m11 10.1h0m.1-12.6h0m-13.8 4.7h0m2 .1h0m.1 3.6h0m-.1 .4h0m-1.2-2.1h0m4.9-3.4h0m.2-3.3h0m7.1-2.5h0m-7.2 10.3h0m8.4 3.5h0m-4.3-8.5h0m-12.8 .7h0m7 .1h0m-3.6 1.4h0m12.3 3h0m-8.1-4h0m5.7 8.9h0m-5.4-3.8h0m-4.9-5.8h0m1.3-.9h0m9.1 5.4h0m5.9-12.6h0m-8.9 15.8h0m1.2 .6h0m-11.4-7.7h0m1.6-1.4h0m0 6.3h0m13.1 2.2h0m-10.5-3.1h0m10.5-3.8h0m-8.1 .6h0m-.4 2.7h0m.3-5.1h0m4.7-2.9h0m-13.2 4.3h0m9.8-4.5h0m4.8 14.8h0m6-8.3h0m-9.7 2.9h0m5-7.1h0m1.4 4.8h0m-5.2 3.7h0m-2-2.1h0m3.8-2.3h0m.9-2.3h0m-6.7 1.8h0m10.9-1.5h0m-17.5 4h0m9.5-2.1h0m5 .4h0m-10.4-5.3h0m2.3 2.8h0m3.7 11.6h0m1.4-11.3h0m-9.7-.7h0m8.3 2.2h0m-.1 6.9h0m9-4.1h0m-7.3-7h0m-1.4 3.2h0m-5.1-3.2h0m-1.1 4.3h0m-4.6-.3h0m8.1-4.8h0m3.3 10.7h0m3.8-3.9h0m-2.5-10.9h0m1.8 17.1h0m-7-8.8h0m2.8 8.1h0m-4-11.8h0m8.7 8.7h0m-3 .4h0m-6-5h0m2.8-3.1h0m2.8 1h0m.4 5.4h0m-3.5 .7h0m2.2-.6h0m-4-8.9h0m7.4 8.2h0m-5.8-7.5h0m9.1 8.3h0m-7.5-3.1h0m1.6-8.9h0m-9.2 9.4h0m-2.5 2h0m13.8-4.5h0m1.6 4.1h0m-7.1 .3h0m-3.4-3.2h0m1.5-1.4h0m5.7 6.2h0m-6.3-.9h0m-3.9-4.5h0m5.2-2.7h0m4.5 5.9h0m3.9 1.4h0m-8.1-8.7h0m2.9 9.2h0m-4.7-4.8h0m-4.4 2.7h0m5.3 .6h0m1.7 1.5h0m-5.3-1.6h0m4.3-6.9h0m2.2 4.7h0m2.8 1.9h0m-10.3 .7h0m6.8 1.3h0m-6.4 0h0m7.9-3.1h0m-2.5-6h0m-2.1 2.6h0m-2.6 3.7h0m9.1-6.3h0m1.7 2.8h0m.8-2.8h0m-6.8 8.3h0m-6.3-6.9h0m1.1 6.9h0m7-5.5h0m14.3-1.2h0m-20.6 1.1h0m5.3 .5h0m-9.1 3.2h0m3.8-.7h0m-2.2-4.5h0m-1.4 3.1h0m8.8 .3h0m.6-.1h0m-3.7-.1h0m1.6 3h0m1-3.8h0m-3.7-1.9h0m-4.2 15.7h0m4.5-13.1h0m18.6 .1h0m-13.2 .1h0m-2 2.6h0m-2.4-.2h0m7.8 3.7h0m4.5-5.8h0m-4.1 5h0m-14-7.7h0m8.3 5h0m-4.1-5.4h0m2 1.5h0m5 6.4h0m4.1-1.4h0m.4-1.6h0m-9.5-2.8h0m1.1-.2h0m1.7-2.1h0m2.9 5.3h0m-5.8 1.6h0m.8-5h0m-5.1 5.1h0m11.1-4.6h0m-10.8 5.2h0m-.4-15.7h0m12.5 10.2h0m3.8 2.6h0m-1.1 4.3h0m-15.8-2.9h0m6.8-3h0m13.9 2.8h0m-12.2-5.7h0m1.9 7.6h0m-.1 1.1h0m8.2-5.1h0m-8.1-1.9h0m1 5h0m-4.6-1.1h0m5.9-5.6h0m3.2 4.7h0m-7 1.6h0m-3.4-5.3h0m2.3 4.9h0m10.5 1.1h0m-8.1-4.3h0m-4.7 2.1h0m9.8 0h0m-8.4-1.7h0m-1.2 4.4h0m4 6.1h0m.5-10.2h0m-2.5 1.2h0m-8.4-.3h0m6.5 1.4h0m.2-1.3h0m4.1-6.8h0m-4.6 1.8h0m7.9 4.8h0m-7.5 .4h0m6-.1h0m-10.8-9.6h0m.4 2.4h0m1.7 3.6h0m7.7 10.4h0m.3-11.5h0m-4.4 1.5h0m1.7 2.1h0m-7.7 4h0m-1.2-5.4h0m12.7-4.7h0m0 6.7h0m1.5 .5h0m-5.7-2.6h0m5.7 2.5h0m-7.1-1.9h0m.1 3h0m3.7-4.7h0m-3.3 5h0m6.9 .2h0m-12.2-6.8h0m9.6 3.9h0m1.6-3.2h0m-7.2 3.8h0m8.7-7.2h0m-8.2 7.7h0m.7-1h0m-3-4.2h0m3.1 5.5h0m.4-.3h0m-2.6 2.3h0m3.4-3.3h0m-9.6 2.1h0m5.7 .2h0" stroke="#000" stroke-opacity="0.45" stroke-width="0.75" stroke-linecap="round" fill="none"/>
<path d="M152.4 562.4h0m-1.9 3.3h0m-5.1-2.5h0m-2.5 2.4h0m11-.5h0m-5.7-1.1h0m4.9-7.9h0m-2.1 9.8h0m1.4-12.9h0m-1 13.3h0m-4-3.7h0m2.5 6.3h0m-6.3-7.5h0m9.9 8.5h0m-3.7-13.4h0m-4.9 14.9h0m4.3 .6h0m2.6-2.5h0m-5.1-11.5h0m-.7 9.8h0m6.5 3.4h0m-2.3-5.2h0m1.7 2h0m-2.2-3.1h0m4.7-5.2h0m-.9 3.2h0m-4.5 5.6h0m6.3-9.6h0m-9.1 5.3h0m3.9 .4h0m.3-3.3h0m-4.5 11.7h0m7.7-11h0m-8.2 18h0m-1-14.3h0m5.9 4h0m-5.5-2.8h0m-.9 5h0m8.4-13.2h0m-12.2 7.1h0m7.8-3.2h0m7.9-11.1h0m-6.6 24.8h0m-.8-13.8h0m-1.9 10.1h0m9.8-14.5h0m-4.8-.3h0m-4.9 7.2h0m1.5-1.6h0m2.1-15.3h0m-.6 24h0m6.4-8.6h0m-10.3-2.5h0m8.1 7.7h0m3.8-18.5h0m-12.6 11.3h0m11.4-9.6h0m-1.7 11h0m-1.4-5.9h0m-.2-9.4h0m-2.3 .6h0m2.1 14.1h0m-6.4 1.8h0m6.2-9.2h0m-1.1-4h0m3.3 12.5h0m-5.7-7.5h0m1.6 9.3h0m7-.6h0m-12.2-.5h0m7.7-7.2h0m8.1-7.3h0m-10.9 10h0m-2-2h0m3.9 1.7h0m-.2-3.1h0m1.5 7.3h0m.5-4.2h0m-3.6 5.3h0m-3.8-3.7h0m-.8 2.9h0m4.8-4.8h0m-4.9 5.2h0m4.9 .8h0m-5.3-.5h0m4.4 5h0m-4.6-6.3h0m1.7-1h0m5.7-3.9h0m4.7-11.7h0m-4.4 12.5h0m-9 10.6h0m4.8-3.9h0m.6-14h0m4.3 14.8h0m2.8-8.3h0m-14.5 17.7h0m7.3-10.1h0m1.2-6.2h0m-5.5 5h0m-2 3.5h0m3.1-5.6h0m7.8 9.3h0m-11.8-6.9h0m8.4 8.5h0m1.1-6.7h0m-6.5 3.6h0m5.2-10.3h0m-2 8.2h0m.8-7.8h0m1.7 3h0m-3.4 6.6h0m5.1-10h0m-5.2 2.1h0m.7 4h0m2.7-10.1h0m-.9 13.6h0m3-6h0m1.7-17h0m-4.1 17.5h0m-4.5-4h0m4.7 6.8h0m1 4.1h0m-2.8-11.4h0m4.3 .8h0m-1.3-8.3h0m11.4-12.8h0m-10.6 23.3h0m-7-4.9h0m9.5-7.7h0m-3.3 19.9h0m-2.4 3.4h0m4.4-6.2h0m-1.5-9h0m-3.3 1h0m-.8-.4h0m2.1 3h0m-3.1-2.6h0m.5 2.2h0m7.6-9.5h0m-3.4 18.8h0m-4.9-10.3h0m4-5.9h0m-5-.1h0m3.3 16.2h0m-2.9-6.4h0m5.2-9.9h0m-2.7 16.4h0m-2.1-.8h0m5.2-11.5h0m-3.7 13.7h0m10-24.9h0m-8.4 30.4h0m-2.9-13.2h0m-4.1-1.6h0m10.5 .4h0m-5.1 3.9h0m.2-9.9h0m3.4-.5h0m-3 17.2h0m-8 5.3h0m14.4-29.6h0m1.3 6.5h0m-7.6 18.9h0m8.6-20.9h0m.7-.4h0m-7.7 6.6h0m-4.6 4.9h0m4-2.6h0m-4.4 7.3h0m8.2-2.4h0m-12 7.5h0m11.7-9.6h0m1.1-6.5h0m-6.1-2.6h0m4.2 4.2h0m-5.4 11.8h0m2.6-10.1h0m-.4-5.7h0m-2.5 8.4h0m6.5-4.8h0m-3.5 6.9h0m5-18.8h0m-5.4 25.8h0m-3.2 0h0m3.6-15.3h0m5.4 5.3h0m2.9-9.4h0m-4.8 13.4h0m-5.9 12.3h0m4-28.1h0m-5.8 13.8h0m7.6-8.7h0m-2.9-4.6h0m.1 5.3h0m-6 13.8h0m4.1-9.4h0m-.7 5.2h0m2.7 3.5h0m6-10h0m-10.9 10.2h0m7.9-15.3h0m-3.9 9.9h0m-3.9 9.4h0m3.9-12.2h0m-10 7.2h0m7.9-5.5h0m3.6-6.6h0m-1.6 4.3h0m-5.4 3.9h0m10.7-4.8h0m7.2-14.8h0m-9.9 6.1h0m-8.5 18.2h0m1.2 1.9h0m6.5-7.4h0m-1.1-13.6h0m-6.8 18.1h0m10.9-18h0m-3 12.3h0m-5.2 17.6h0m-4.7-8.9h0m4.1-15.6h0m1.7 6.5h0m7.6-9.5h0m-7.1 14.9h0m4.6-13.1h0m3.8 11.9h0m-8.5-6.8h0m10.1-5h0m-9.8 5.9h0m-.1 5h0m-1.9-4h0m5.5-6.1h0m-8.4 14.1h0m10.3-10.7h0m-2 5.6h0m1.4 .7h0m-6 6.8h0m8.8-13.4h0m-5.4 .8h0m-5.6-6h0m8.2 7.9h0m-2.9 2.6h0m3-1.2h0m-6.9-5.6h0m6.2 8.5h0m-3 .5h0m-6.2-11.8h0m.7 13.3h0m5.3-23.9h0m3.9 16.8h0m-2.8-.6h0m-2.3 4.4h0m2.9-1.5h0m.9-2.1h0m-1.3-6.3h0m-4.6 9.6h0m1.2 1.2h0m6.4-8.2h0m-3.5 .4h0m3.6 15h0m4.4-19.6h0m-7.9 5h0m1.5-4.4h0m-4.4 3.3h0m4.6-3.4h0m2.3 1.5h0m-6.8 6.3h0m7.6-7.8h0m-.7 5.4h0m-4.3 7.5h0m1.6-1.7h0m-3.8 1.7h0m10.8 1.1h0m-3.4-8.7h0m-4.8 3.3h0m-5.6 9.2h0m10.2-16.8h0m-5.3 7.7h0m5.5-5.7h0m-6.3 11.5h0m-2-11h0m.5 1.8h0m6-.2h0m-4.6 2.1h0m4.5 .4h0m.8 1.3h0m-6.8-2h0m0 6h0m3.3-16.3h0m1.9 4.7h0m-.2 8.3h0m-1.5-6.3h0m-1.4 1.2h0m2.1-1.1h0m.7-.1h0m-.2 5.4h0m-8-2.5h0m3.7 1.2h0m.5-.8h0m7-13.4h0m-10.2 15.8h0m-.2 4.6h0m2-1.2h0m2 .4h0m2.8 1h0m2.5-13.5h0m12.1-7.7h0m-12.8 22.4h0m-4.7-8.6h0m-2.3 9.5h0m.4 4.8h0m8-24.1h0m-2.6 6.9h0m-10 15.9h0m5.3-13.6h0m8.2-2.2h0m-14.8 10.6h0m8.1-4.8h0m4.6-1.6h0m-4.4 2.5h0m-1.1 2.7h0m3.4-7h0m-2.7 6h0m.3-9.2h0m9.7-2.4h0m-10.1-4.2h0m-3.1 16.1h0m7.3-2.9h0m-7.7 8.9h0m4.4 .6h0m.9-14.3h0m-2.7 4.6h0m7.5-2h0m-1.8-2.7h0m-9.6 12.3h0m7.6-8.7h0m-5.4 8.2h0m4.6-4.5h0m-1.6 1.4h0m6.5-12.8h0m-1.8-.8h0m-.9 3.3h0m2.9 1.3h0m-8.6 2.9h0m4.4-4.2h0m-1.9 3.7h0m4.3-.6h0m-4-5.3h0m1.6 2.5h0m3.3 7.3h0m-6.5-3.8h0m.7-.9h0m-.7-5.8h0m-2.7-.7h0m15.2-7.2h0m-14.8 15.6h0m2.2 0h0m-3 8.4h0m1.3-10.3h0m4.8-5.2h0m-3 10.6h0m-2.3-13.7h0m.4 15.4h0m7.9-7.7h0m-8 6.1h0m1.4 8.7h0m-3-11.3h0m6.9 .6h0m1.3 4.4h0m-6.6-4.7h0m7 2.5h0m-7.4-5h0m4.9-3h0m-2.4 6.1h0m-1-5.8h0m3.7 10.4h0m-1.8-11.2h0m3.7 1.6h0m-7.4 8.9h0m6.1-8.3h0m-.5-2.6h0m1.8 1.3h0m-6 2.2h0m4.2-5.3h0m-.8 5.5h0m-5 1.4h0m1.5-3.8h0m3.1-8.7h0m-3.6 15.5h0m2-1.1h0m1.8-3.4h0m-1.1-3.4h0m3.2 6.7h0m-2.4-5.2h0m-1.8 9.8h0m2.8-14.2h0m.8 4.4h0m1.1-4.9h0m4.5 5.8h0m-10 5.6h0m-4 3.5h0m8.2-8.1h0m-2.5 3.6h0m3.6-3.7h0m-5.7 8.9h0m-1.3-1.6h0m-1-4.9h0m-2.9 16.7h0m3.9-7.7h0m3.3-2h0m1.6-14.6h0m-1.1 17.5h0m-10.6 6.1h0m12.8-4.6h0m-3.3-9.7h0m-1.2-.4h0m9.3-2.6h0m-5.8-2.1h0m-.7 7.5h0m3.8-10.3h0m-10.1-.3h0m5.2 5.8h0m-5.4 12.9h0m1-9.1h0m5.6-7.5h0m-3.8 23.3h0m5.2-12.8h0m-1.3 8.7h0m-8.3-6.6h0m9.1-13.8h0m-4 14.1h0m3.3-12.4h0m3.8 5.5h0m.9-3.1h0m-.1-9.8h0m-5.3 21.4h0m-2.4-8h0m-.9 1.8h0m4.3 4.1h0m1.2-11.7h0m-.9 6.9h0m-.3-4.7h0m3.7-4.9h0m-.4 2.8h0m-5.1-.5h0m-5.4 9.9h0m7.2-6.1h0m-4.3-3.1h0m7.1 12.2h0m-9-11.4h0m5.3 4.3h0m3.2-6.2h0m-4.9 5.8h0m-.3-.8h0m2.2 1h0m5.3-17h0m-17.3 30.8h0m19.5-14.9h0m-5.7-8.1h0m6.5 1.1h0m-8.9 2.4h0m-1.3-4.1h0m.2 4.7h0m3.7-7h0m-.6 9.8h0m5.8-4.7h0m-2.8 2.4h0m-11.6 7.4h0m3.7-12.5h0m-3.3 8.8h0m5.9 .1h0m2.2 4.6h0m-1.9-17.3h0m1.1 15.7h0m-4 .5h0m-.1-.7h0m8-11h0m-.3 1.7h0m.1-6h0m.7 6.9h0m-4.8 7.9h0m-2.3-1.2h0m4.4-1.8h0m2.2-1.1h0m-2.9-6.6h0m2.7 17.6h0m-11.5-5.5h0m4.6 8.8h0m.1-13.8h0m-2.8 2.4h0m7.3 2.4h0m1.5-8.3h0m4.5-10.7h0m-7 13h0m-6.1 7.1h0m5.1-1.7h0m3.9-9.8h0m-10.4 16.9h0m10.8-20.3h0m-1.7 10.5h0m-4.4 5h0m3.5-10.3h0m-4.8 8h0m6.5-11.4h0m-9.4 11.3h0m2-4.1h0m6.8-4.1h0m-8.9 3.7h0m7.5 1h0m-6.3-1.9h0m8.3-.5h0m-2.8 1.3h0m-2.2 3.7h0m-1.6 2.5h0m5-11.6h0m1.8 5h0m-3.2 7.1h0m6.9-16.3h0m-8.6 11h0m.8-4.1h0m2 3.8h0m5.4-9.1h0m-4.2 16h0m-1.5-11.5h0m-4.6 7.9h0m2.9-3.4h0m-.6 12.5h0m-4.1-5h0m1.8-14h0m11 1.3h0m-11.1 13.8h0m.3-4.5h0m3.6-1.8h0m-2.6 1.3h0m4.2-4h0m-.4 3.6h0m-10-9.1h0m10.3 14h0m.3-6.5h0m9.1-19.3h0m-14.2 22.3h0m4.6-19.1h0m-7.3 20.5h0m4.1 12.1h0m5.8-13.7h0m-1.7-14.2h0m-1.3-3.1h0m.5 10.8h0m-.1-5.3h0m-1.8 3.2h0m1.8-5h0m-.4 13.1h0m3.9-20h0m-6.6 10.1h0m3.9 4.7h0m-5.9 8.8h0m.5-3.9h0m1.2-3.8h0m6.7-12.3h0m-3.2 7.8h0m-4 8.3h0m-.9-.4h0m-.6-6.4h0m2.3-2.1h0m5.2 11.2h0m-4.8-10.8h0m2 8h0m3.5-9.6h0m-8.3 .9h0m.1 15h0m4.5-10.2h0m-2.7-1.5h0m5.3-12.2h0m-6.4 14.9h0m3.2-1.6h0m5.8-6.6h0m-8.4 18.3h0m1-13.3h0m2.7 7.4h0m-1.9-.3h0m3.2 .5h0m6-10.3h0m-7.9 3.6h0m-5.9-.2h0m8.1 4.3h0m-9.4-2.9h0m11.5-.3h0m-6.5 3.8h0m4.5-15.3h0m-3.2 14.8h0m-.9 3h0m-1.9-5.9h0m-1.3-.5h0m-3 6.8h0m9.4-6.3h0m-.1 3h0m-1.3-2h0m-6.3 4.1h0m3.2-7.2h0m6.1 1.2h0m-2.9-6.2h0m-3 3.6h0m1.8-3.5h0m1.6 9.2h0m3.9-11.2h0m-1.7 8.3h0m.3 1.2h0m-7.6-3.3h0m-.9 1.3h0m7.5 .2h0m4.1-10.1h0m-4 8.4h0m-8.1 7.6h0m6.2-.8h0m.7-5.3h0m-5.2 .3h0m3.5 8.7h0m-1.1-11.7h0m-1 12.3h0m3-6h0m-3.8 .2h0m9-10.1h0m-11.4 16.5h0m9.4-19.6h0m.5 11h0m-3.5-2.5h0m3.8-7.8h0m-1.5 12.6h0m-1.5 3.2h0m-1-.5h0m-1.6-2.8h0m2.8-4.1h0m-1.9 9.2h0m3.3-17.5h0m-.9 4.7h0m-3.2 8.1h0m-2.9-.5h0m-3.5-.9h0m9.8-15.8h0m-1.1 13.9h0m-1.8-2.4h0m1.9 3h0m-7.5-3.9h0m1.1 1.8h0m6.7-.7h0m-3.4-1.3h0m-1.3 12.8h0m6.8-6.3h0m-6.1 1.4h0m4.3-14.1h0m3.7-3.3h0m-5.9 23.1h0m-.5-15.3h0m-7.7 16.7h0m7.6-4.8h0m5.1-8.1h0m-4.4 .3h0m-2.1 6.5h0m-2 .9h0m4.5-11.2h0m-2.4-1.3h0m-1.1 14.3h0m4.7-5.7h0m-9 4.3h0m2.6-3.3h0m5.9-11.1h0m.1 8.3h0m-5.7 1.1h0m2.3-4.5h0m3 12.8h0m2.2-28h0m-4.4 24.7h0m5.4-8.2h0m-3.1-4.7h0m.4 1.5h0m2.2 4.5h0m-6.8 5.3h0m-.1-6.3h0m6.8-2.2h0m-6.5 15.1h0m5.1-11.4h0m1.4-1h0m-3.8-4.5h0m1.3 3.7h0m1.4 2.3h0m-3.9-4.6h0m-.2 9.3h0m1.9-5.8h0m-5.7 9.7h0m2.9-22.6h0m4.5 12.1h0m-2.1-10.1h0m-2 7.5h0m3.4 9.3h0m-6.1 4.7h0m6.3-9h0m-5 9.5h0m.8-6.5h0m6.6 .3h0m-10.8 6h0m7.3-18h0m-3.7 13h0m5-12.8h0m-11.9 19.7h0m8.5-3h0m-1.9-12.5h0m4.3-11.8h0m-3.1 15h0m1.6-4.8h0m-1 18.5h0m.4-20.3h0m7 11.5h0m-4.2-4.9h0m-5.4 4.2h0m7.9-12.4h0m-1.2 8.3h0m.5-6h0m-3 .7h0m5.2-7h0m-7.4 11h0m.8 1.3h0m1.4-4.2h0m-7 3h0m1 2.3h0m6.5-1.4h0m6-15.3h0m.6 14.9h0m-11 6.8h0m4.3 .3h0m-5.7 6.9h0m.2-8h0m3.3-5h0m6.5-7.1h0m-7.6 .7h0m5.2 12.8h0m-8.9-7.3h0m1.6 12.4h0m2.6-3h0m2.6-13.7h0m-3.2 11.7h0m2.4-5.7h0m1.4 1h0m2-.4h0m-1-10.6h0m-1.5 3.7h0m-3.4 5.4h0m-2.8 18.5h0m13.2-21h0m-.5-4.1h0m-10.8 11.8h0m4.1-1.2h0m2.8-1.9h0m-5.7 5.9h0m-1.5-11h0m6.2 4.2h0m7.2-16.4h0m-5.1 9.3h0m-3.6-.6h0m-3.8 14.8h0m10.2-7.1h0m-10.4-14.6h0m4.7 8h0m4.6-2.1h0m-7.2 3.9h0m0 4.8h0m4-5.3h0m-2.2 5h0m-4.8 14.6h0m8.1-16.2h0m-4.6 5.4h0m-11.2 7.9h0m8 .4h0m10.4-22h0m-1.5 10.3h0m-10 2.2h0m7.8-5.5h0m-3-7h0m.3 4.2h0m4.3-8.5h0m-11.1 9.6h0m8.4 2h0m-2.7 6.3h0m-.4-4.8h0m5.6-5.5h0m-4 9.5h0m3.7 .3h0m-4.2-15.9h0m.7 17.1h0m.1 .8h0m2.8-8.6h0m-12.2 7.6h0m8-4.3h0m-2.1 1.8h0m4.1-3h0m-6.3 8.2h0m5.3 4h0m2.2-12.9h0m-6-8.7h0m-.8 6.3h0m2.9 6.4h0m-3.6 9.2h0m4.4-15.5h0m-1.1 8.7h0m3.3-7.5h0m-3.6 5.5h0m4.1-12.5h0m-1.4 14.5h0m5.3 8.2h0m-4.1-12.4h0m-1 .8h0m.4-3.1h0m.6 9.2h0m-4.8 10.5h0m1.9-13.4h0m5.6-2.8h0m-.4-12.6h0m-2.9 15.7h0m-1.9 3.1h0m-.1-2.7h0m1.4-2.9h0m-6.4-6h0m6.2-2.3h0m-6.3 19.4h0m10.4-19h0m-7.6 16.4h0m1.6-13.4h0m2.4 3.3h0m-7.3-7.9h0m0 14.5h0m7.8-12.9h0m-3.4 4.4h0m.3-4.3h0m2.2 15.6h0m3-23.4h0m-4.5 12.1h0m-1.6 8h0m6.7-14h0m-2.1 9.5h0m-7.7 4.9h0m1.7-4.5h0m2.8-2.7h0m4.4-9.6h0m-1.2 16.7h0m6.8-10.7h0m-13 1.1h0m1.6 9.1h0m-2-.5h0m5.2-11.7h0m2 2.2h0m0-7h0m4.3 4.1h0m-8.1 5.8h0m6.2-1.2h0m-7.2 3.7h0m8.8-2h0m-14.3 10h0m8.2-10.7h0m4.3-4.6h0m-4.1-7.2h0m-5 3.6h0m4 11.5h0m2.9-10.6h0m2.6-.8h0m-2 2.4h0m-4.5 9h0m-1.8-1.3h0m2 7.3h0m5.8-14.6h0m-7.4-2.2h0m8.2 1.7h0m-10.4 12.8h0m-1.6-2.9h0m1.3 2.5h0m10-14.4h0m-.1-.6h0m-2.3 11.7h0m-.5-2.8h0m-2.4 4.6h0m-1.9 4.3h0m1.5-11.4h0m3 1.8h0m1.6-3.5h0m-11.9 6h0m12.2-1.9h0m-.2 3.3h0m-3.3 1.5h0m-3.6-.9h0m1.7 4.1h0m-1.8-3h0m10.9-13.4h0m-2.2 9.8h0m-3-1.4h0m-1-1.3h0m-2.5-2.5h0m1.3-.4h0m-7.4 7.7h0m6.4-3.1h0m2.5-15.6h0m6.3 12.7h0m-6.5-2.2h0m.5 11.5h0m-7.3 6.6h0m2.2-8h0m-1.8-.5h0m6.4-4.1h0m-.7-17h0m2.7 10.8h0m-3.8 21.6h0m.5-13.9h0m-.1 .1h0m6.5 2.1h0m-10.7-2h0m-.7 13.6h0m4.5-11h0m7.5-21.2h0m-8.9 16.8h0m-2.4 5.7h0m-4.2 6.4h0m4 .8h0m4-28h0m-2.4 20.9h0m9.5-11.8h0m-7.6 9h0m10.3-8.5h0m-10.4 4.3h0m-1.8 2.1h0m6.7-7.7h0m-7.9 14.5h0m11.5-16.4h0m-5.7 7h0m.9-1.1h0m-1.1 3.7h0m-3.5 10.9h0m10.1-13.8h0m-13.5-3.2h0m3.9 9.4h0m1.7-14h0m-3.3 12h0m2.4-8.1h0m-3 17.8h0m9.5-13.5h0m-5-7.1h0m-6.2 7.4h0m-1.1 16.4h0m4-19.3h0m-6.2 13.2h0m13.8-14.1h0m1.1 7.9h0m-4.1-7.1h0m-7.5 7.8h0m3.6 .1h0m2.8-3.7h0m3.5 4.5h0m4-4.3h0m-5.5-8.1h0m2-.5h0m-11.3 5.2h0m10.6 2.8h0m-7.7 2.1h0m-2.1 5.1h0m7-9.3h0m-5 5.8h0m.9-2.5h0m.3 .1h0m-2.3 9h0m-4.9 1.9h0m6.7-9.9h0m-.9-9.7h0m-1.8 24.6h0m1.8-19h0m4.8-1.9h0m-.7-2.8h0m-2.5 8.5h0m.4 2.2h0m.8-5.4h0m10.1-3h0m-13.2 7.7h0m4.1-11.5h0m-4.4 6.6h0m-4.3 14.1h0m10.7-13.6h0m3.7-5.2h0m-11.2 11.7h0m11-12.9h0m-6.1 .1h0m9.6 4.4h0m-3.5-8.7h0m-6.6 13.9h0m2-16h0m1.4 12.6h0m-2.4-1.8h0m1.2 2.7h0m2.2 .5h0m-8.6-9h0m5 0h0m8.9-13.3h0m-13.5 18.8h0m-.7 14.4h0m1.5-8.8h0m1.1 2h0m11.8-10.5h0m-8.4-4.1h0m-.5 15.2h0m-8.7-2.4h0m2 3.2h0m6.6 10.1h0m-1.4-28h0m7.7 3.7h0m-11.5 18h0m.4 4.3h0m.3-5.3h0m4.2-21.7h0m.9 18.1h0m-4.6-2.9h0m3.9-10h0m-.2 12h0m4.1-11.3h0m-5.1 7.9h0m-5 9.3h0m7-18.4h0m6.5 4.4h0m-5.9-1.9h0m1.7 4.9h0m-2.2 7.6h0m-2.9-12.5h0m.7 19.9h0m1.2-6.1h0m-2.8-9h0m4-11.2h0m-7.7 28.5h0m6-15.5h0m8.5-9.3h0m-4 10.6h0m-7-2.3h0m3.4 5.4h0m-7.3 3.1h0m5.4-16.6h0m5.1-.8h0m-3.5 13.9h0m-1.2-7.6h0m.7-.8h0m-3.6 6.5h0m-2.4 7.5h0m8.7-10.8h0m.5-3.9h0m-2.6 13h0m3.8-6.1h0m-3.8 3.6h0m-1.2-19.5h0m1.1 18h0m-.5-4.7h0m-3.8 0h0m8.2-1.8h0m-7.4 5h0m2.8-7.7h0m3.2 3.7h0m5.5-6.7h0m-5.2 1.4h0m-8.4 16.1h0m5.4-8.9h0m2.9-3.1h0m1-1.5h0m-.8 2.3h0m-3.5-6.9h0m-1.2 9.5h0m1.9 .2h0m4.1-.5h0m-3.8-6h0m5.1-2.6h0m.3 4h0m-4.3-8.7h0m-5.1 21.5h0m2.5-15h0m5.7 7h0m-4.3 7.7h0m-1.8-9.6h0m5 4.3h0m-7.4-4.6h0m11.7-10.7h0m-7.9 3.7h0m-4.4 6.7h0m5.6-4.1h0m-3.5 8.7h0m2.5-12.9h0m-2.2 5.7h0m4.6-3.6h0m-.9 7.9h0m-.7 5.9h0m-.2-14.8h0m-6 8.5h0m3.8-1.1h0m7.8-5.4h0m-5.1-.2h0m-.2 13.4h0m.7-7h0m-1.9 3.1h0m-4.2 2.6h0m4.6-3.2h0m-4.9-3.2h0m3 12.5h0m1.1-15.3h0m-3.7 4.8h0m4.1-4.2h0m2.9-.4h0m3.2 2.9h0m-6.8-7.6h0m-4.8 15.5h0m8.4-22.6h0m-7.2 19.3h0m4-1.3h0m-.3 11.3h0m3.1-23h0m-8.5 9.3h0m4.4 1.4h0m2.5-6.1h0m4.3-3.6h0m-3.9 4.4h0m-1.4-.3h0m-4 6.2h0m7.9-10.7h0m-.6 8.3h0m3.4-20.1h0m2.9 6.7h0m-12.8 16.6h0m-2.1 4.5h0m5.8-2.4h0m2.5-1.5h0m1.9-13h0m-10.7 16.1h0m8.6-16.1h0m-3.2 11h0m-3.2 8.2h0m-1.2-1.2h0m4.1-10.7h0m-4.1 8.7h0m4-4.4h0m-3.1-.6h0m4.5-11.3h0m-2 4.9h0m-1.9 7.3h0m5.9-1.4h0m-2.6-10h0m-2.3 8.5h0m-.9-13.6h0m-4.6 41h0m4.7-23.8h0m4.2-5.1h0m3.9 .5h0m-4.7 5.5h0m4.3-6.1h0m-5.7 11.3h0m1.3-1.4h0m2.4-5.4h0m-3.4 3.5h0m-2.2-2.8h0m6.8-7.2h0m-11.7 18h0m7.2-19h0m6.4 9h0m-1.1-7.4h0m-7 11.5h0m2.1-12.2h0m-4.1 12.4h0m1.1-.7h0m2.6-6.7h0m2.3 3.1h0m3.5-7.3h0m-7.3-5.9h0m-1.4 11.5h0m1.7 10.8h0m-1.5-15.1h0m-1.8 6.9h0m6-2.9h0m5.7-1.2h0m-9.7-3.1h0m-.5 6.2h0m5.3 3.2h0m-5.9 8.8h0m6.7-15.6h0m1.6 4.7h0m.1-15.6h0m-.7 2.9h0m-2.6 11h0m-6.4 4.9h0m5.5-10.1h0m-.2 6h0m-2.9-11.1h0m9.6 7.5h0m-8.4 9.9h0m4.3-18.4h0m-6.3 10.1h0m9.2-8.8h0m4.5-8.3h0m-7.4 6.4h0m-.7 9.2h0m3.6-14h0m-8.1 20.4h0m5.6-12.2h0m.5-2h0m-6.7 10h0m.1 6.6h0m5.2-13.8h0m-5 3.2h0m-1.9 5.9h0m3.5 1.6h0m7.5 .9h0m-2.4 13h0m-3.9-29.3h0m12.3-2.4h0m-15.9 9.8h0m1.8 4.8h0m-2.6 4.6h0m7.2-13.6h0m-7.7 7.4h0m9-9.9h0m-6.3 5.9h0m1.4 4.2h0m.5-3.9h0m3.2 16.6h0m2.5-16.1h0m-8.1 9.9h0m-.3-4.7h0m5.8-10.3h0m-.6 11h0m-6.8 .1h0m-2 2.7h0m9.4-6.4h0m-7.2 9.4h0m8.1-19.3h0m-1.2 12.2h0m-2.5 1.6h0m1.7-2.3h0m-2.6 2.7h0m1.5-4.8h0m1.2 3.9h0m3.4-18.7h0m-1.6 16.2h0m1.2-5.6h0m-.1 9.5h0m-5.5-8.3h0m10.7-.4h0m-8.4-4.8h0m-.4-8.2h0m3.2 11.3h0m-.2-.3h0m2.4 6.6h0m-6.4 6h0m2.2-5.8h0m-1.8-4.1h0m-4.2 7.1h0m8.4-1.7h0m-4.8 5.6h0m-1.6-6.9h0m5.3-5.8h0m4-6.9h0m-16.9 17.9h0m8.9-7.7h0m-3.9 6.2h0m8.9-7.2h0m-11.2 9.9h0m8.1-13.3h0m.2 5.3h0m1.5 1.9h0m-8.5 5.7h0m4.2-7.6h0m2.4-3.1h0m-4 0h0m2.2-.7h0m-3 13.5h0m1.5-11.9h0m5.5-4.5h0m-2.3 1.4h0m-.6 7.7h0m-6.5-3h0m1 8.3h0m-1.5-11.5h0m3.5 15.3h0m3.3-10.2h0m.7 5.1h0m2.6-6h0m.5-8.7h0m-6.9 11.5h0m8.2-4.5h0m-3.4-1.7h0m-.7 8.3h0m-2-7.5h0m4.4-11.4h0m-4.4 15.3h0m-9 14.8h0m9.2-25.6h0m5.8-5.5h0m-6.8 22.2h0m7.7-11.8h0m-.2 8.2h0m-1.6-14.7h0m-7.4 14.7h0m2.5-7.2h0m.5 .5h0m5.4-4.3h0m-.1 1.8h0m-2 5.5h0m-3.1-12.9h0m-1.3 19.7h0m.6-9.3h0m2.3-12.2h0m-3.4 12h0m8.6 .5h0m-12.9 7.9h0m1.3 3.2h0m8.6-16.9h0m-.2 1.9h0m-3.7 1.7h0m.4 8.3h0m-2.4 4h0m1.6-13.9h0m-2.7 12h0m1-19.7h0m3.8 11.5h0m-1.5-1.2h0m-6.5 14.3h0m5.3-14h0m3 8.4h0m2.5-12.3h0m-4 3.1h0m1-9.7h0m2.7 14.9h0m-8.4 .6h0m3.4-6.5h0m5.9-18.1h0m-7.8 29.4h0m2.9-3h0m5.9-9.5h0m-4 1.4h0m1 1.4h0m-6-1.8h0m7.3-3h0m-4.4-4.3h0m.8 8.7h0m4.3-12h0m-11.5 21.1h0m7.3-4h0m1.7-8.2h0m-.7 6h0m-6.9 2.8h0m1.4 8.1h0m11.6-17h0m-8.3 18.9h0m2.6-16.6h0m-3.9 11.1h0m7.3-17.7h0m-1.7 6.9h0m-4.3-2.6h0m-2.1 3.9h0m2.4 3.6h0m-1.8 .8h0m.4 2.4h0m4.1-13h0m-6.8 6.9h0m8.1-7.1h0m-2.9 10.6h0m-5.5 4.5h0m2.4-6.8h0m4.6 5.5h0m3.8-14.8h0m-7 10.4h0m-1.8-2.7h0m3.8 13.5h0m-8.5-4.8h0m8.9-14.3h0m-9 16.9h0m8.7-6.4h0m5.5-9.3h0m-14.1 14.7h0m7.9-21.7h0m-2.3 22.2h0m-3.7-10.4h0m6.8 8.8h0m-2.5-14.7h0m4.4 5.1h0m1.8 .7h0m-8.1 1h0m7.2-12h0m-2.3 5.2h0m2.5 11h0m-2.8-1.1h0m2.9-.6h0m-7.2 5.4h0m2.8-7.5h0m-.2-1.8h0m5-6.1h0m-1 9.6h0m3.2-13.5h0m-5.5 16.6h0m7-1.2h0m-10.5-1.9h0m-1.8-3.6h0m.8 13.4h0m-.7-6.1h0m.8 12.1h0m.6-13.9h0m1.3-2.9h0m2.3-6.1h0m-6.6 5.7h0m8.3-.5h0m-7.4-11h0m6.9 6.2h0m-1.9 1.7h0m2-.8h0m-4.9 6.3h0m-.5 9.7h0m8.4-16.7h0m-8.5 4.8h0m-.4-3h0m3.7 5.1h0m-5.2 1.2h0m8.3 .9h0m-3.2 1.3h0m.6-5.3h0m2.5 3.9h0m-2.7-13.1h0m-3.7 19.4h0m3.1 .4h0m4.5-23h0m-2.9 13.5h0m-1.1 7.6h0m4.3-3.5h0m-6.2-4.7h0m1-7.9h0m-3.7 23.2h0m10-14h0m-1.7-16.5h0m-4.6 13.9h0m.4 7.7h0m3.1-1.5h0m-1.7-3.2h0m-2 6.2h0m.1-8.5h0m-1.1 2.6h0m1.8-2.9h0m-8.6 18.1h0m10.2-17.9h0m2.8 3.4h0m-.5-14.1h0m-9.6 28h0m3.9-13.2h0m4.3-9.6h0m-4.3 3.5h0m-3.6 8.7h0m5.2-10.1h0m.9 5.5h0m1.8-.5h0m1.3-16.5h0m-3.2 10.4h0m2.6 8.5h0m.7-15.1h0m-2.2 3.5h0m.3 .7h0m-6.8 17.8h0m1.5-16.6h0m6.5 4.1h0m-1.1-4.1h0m-8.3 8.5h0m2.4 4.3h0m3.9-8.6h0m1.8-7.3h0m-1.9 10.9h0m-6.5 5.7h0m9.2-19.7h0m0 15.3h0m-3.7-9.3h0m.1 8.6h0m6.9-6.3h0m-3.1 .7h0m-7.4 10.4h0m7.9-7h0m-1.5-5.7h0m-4.4-3.3h0m2.3 2.2h0m4.2 5.4h0m-3.5-6.8h0m-6.4 17.9h0m4-3.5h0m-8.5 .6h0m12.4-5.8h0m.1 1h0m-.6-.6h0m-1.4-2.9h0m-.7-4.3h0m1.9-6.6h0m-.7 12.8h0m-4.5 8.6h0m1.3-7.6h0m6.4-3.5h0m-.8 2.2h0m-5.8 8.5h0m1-5.2h0m-1.7 2.3h0m3-8.3h0m-10 6.5h0m13.9-3.1h0m-6.8 .7h0m6.4-8.5h0m-1-4.5h0m-8.3 18.1h0m12.3-23.3h0m-8 18h0m3.2-10.9h0m.2 8.3h0m.7-.4h0m-4.3 7.8h0m4.1-7.3h0m-6.8 2.7h0m5.9-1.5h0m-1.7 1h0m3.1-4.3h0m-5.6 3.6h0m.2 7.5h0m-6 .7h0m6.1 4h0m-.4-8h0m3.6-6.6h0m-6.6 5h0m6.9 4.2h0m4.5-10h0m-5.1 5.1h0m-2.6-.5h0m5.5-3.7h0m-5.7 12.1h0m2.1-9.6h0m-2.5 13h0m.2-6.7h0m.9-6.3h0m5.2 1.8h0m-.8-.3h0m.1-5.3h0m8.6-2.4h0m-14.1 5.2h0m-2.1-3.5h0m3 9.6h0m1.1-6.6h0m2.2 1.4h0m-1.5 3.6h0m-.3-.5h0m3.9-10.5h0m-3.1 4.5h0m5.7 3.4h0m1.5-.7h0m-7.4 1.6h0m4.6-5.6h0m-8-3h0m3.4 6.4h0m-2.3 8.7h0m7.8-14.7h0m-2.6 4h0m.6-4.2h0m-2.7 9.9h0m8.6-12.3h0m-13 16.4h0m5.2-5.4h0m.1 4.8h0m-1.4-7.7h0m4.3-3.1h0m-5.9-.3h0m4.2-4h0m-.1 8.8h0m-4.1 5.5h0m1.9-7h0m-5.8 .8h0m9.9 7.6h0m-2-16.5h0m-7.8 13.2h0m-.9-12h0m6.3 7.9h0m1.1 1.1h0m.9-13h0m-3.7 7h0m3.9 6.2h0m-1.8-11.6h0m5.5 5.7h0m-5.2 17h0m.6-19.2h0m-5.5 12.7h0m1.9-8h0m2.2 2.3h0m7.1-7.6h0m-12.5 7.9h0m9.1-12.7h0m4.9 7.7h0m-6 .5h0m-6 8.8h0m.3-3.8h0m-4.8 7h0m12.4-11.6h0m-1.9-16.5h0m-3.1 15.6h0m4.7 5.8h0m-1.5-8.4h0" stroke="#000" stroke-opacity="0.27" stroke-width="0.75" stroke-linecap="round" fill="none"/>
<path d="M154 576.5h0m1.9 1.1h0m4.4-5.4h0m-3.7 5.7h0m3.1-5.2h0m-2.9 10.5h0m-.2-11.6h0m1.7 2.8h0m-1.7-1.4h0m1.6 9.2h0m-1.8-11.5h0m-1.1 10.9h0m.2-9.1h0m2.2 4.8h0m-2.4 0h0m-.8-1.2h0m2.1 .6h0m.9 .8h0m-1.3-.9h0m-1.5-4.2h0m2.4 4.9h0m1-.6h0m.2-2.7h0m-2.1 2.2h0m1.2-2.9h0m-1.7 4h0m2.2-3.3h0m-2.7 4.4h0m2.2 3.8h0m.1-5.6h0m1.6-3.8h0m-4.1 3h0m2.4-1.1h0m-.2 5.6h0m-.1-.2h0m-.6-2.5h0m1.2-.5h0m-4.5 3.5h0m4.5-1h0m1.5 1.5h0m0-4.7h0m2.8-.5h0m-4.7 4.7h0m1.1-3.5h0m-3.3-3.9h0m-.6-3.7h0m3.5 10.2h0m.2-6.6h0m-1.9 4.9h0m-1.8 0h0m4.3-2.7h0m-4-2.3h0m5.3 1.3h0m-5.5 3.7h0m3.2-1.2h0m-2.9 4.1h0m3.2-5.3h0m1.2-1.5h0m-6.5 2.7h0m6.2 .4h0" stroke="#000" stroke-opacity="0.12" stroke-width="0.75" stroke-linecap="round" fill="none"/>
<path d="M138.4 584.0 L137.8 579.0 L140.4 575.5 L145.0 574.3 L149.8 573.2 L153.0 575.0 L154.0 580.0 L153.5 586.2 L149.3 588.0 L146.3 587.0 L146.0 584.2 L141.0 583.6Z" fill="#000" stroke="#000" stroke-width="0.8" stroke-linejoin="round"/>
<rect x="134.80" y="536.00" width="56.60" height="56.50" fill="none" stroke="#b9b9b9" stroke-width="1"/>
<text x="135.50" y="543.30" font-size="5.9" fill="#2a2a2a" stroke="#2a2a2a" stroke-width="0.12">1.95</text>
<text x="186.50" y="543.30" font-size="5.9" fill="#2a2a2a" text-anchor="end" stroke="#2a2a2a" stroke-width="0.12">0.20</text>
<text x="135.50" y="588.40" font-size="5.9" fill="#2a2a2a" stroke="#2a2a2a" stroke-width="0.12">97.7</text>
<text x="186.50" y="588.40" font-size="5.9" fill="#2a2a2a" text-anchor="end" stroke="#2a2a2a" stroke-width="0.12">0.11</text>
<line x1="215.80" y1="536.00" x2="215.80" y2="592.50" stroke="#6e6e6e" stroke-width="0.9"/>
<line x1="195.00" y1="572.80" x2="251.60" y2="572.80" stroke="#6e6e6e" stroke-width="0.9"/>
<path d="M211 581.5h0m-2.3 .5h0m3.9-2h0m-9.9-.8h0m8.4-3.4h0m4.1 11.5h0m-10.8-8.6h0m-1 0h0m2.2 .5h0m-3.3 1.7h0m-.8 1.5h0m1.3-6.9h0m11.3 5h0m-13.8-6h0m3 3.4h0m5.8-3.9h0m-1.6 6.1h0m.8-.2h0m-6 .4h0m7.8-1h0m-7.7 2.7h0m9.6 2.5h0m-9.5-8.6h0m4.6 12h0m8.3-6.9h0m-10-5.8h0m-6.2 6.6h0m8.9-6.2h0m-1.1 7h0m-3.4-.5h0m4.9-3.9h0m-6 2.7h0m-2.8-14.1h0m6.6 10.3h0m-4.2 2.5h0m-4 2.2h0m5.3-7.5h0m5.7 8.1h0m5.7-2.1h0m-12.1 1h0m-2.7 .2h0m11.4-1.5h0m0 4.5h0m-8.2-3.6h0m8.5-1h0m1.2 3.8h0m-5.2-2.3h0m1.7 1.2h0m-3.5-5.2h0m2.5 5.7h0m.6-8.2h0m-8.1 3.1h0m10.9-1.5h0m2.7-1.1h0m-17.2 7.1h0m9.7-3h0m-5.8-3.3h0m3.8-2.7h0m5.1-.4h0m-10.4 8.1h0m7.5-.8h0m-.5-1.3h0m-4.1-2.2h0m3.7-2.1h0m-9.8 7.3h0m9.3-2.3h0m-4.2-1.3h0m.2 3.9h0m6.5 7.4h0m-5.9-9.1h0m-.1 1h0m-5.4-.6h0m8.1-5.5h0m4.1 3.5h0m-3.4-2.7h0m2.4-.7h0m-1.8 6.2h0m-5.8-.2h0m16.6 1.5h0m-14.8-1h0m7.3-.7h0m-2.6 5.5h0m-6.2-7.5h0m-4.8 2.7h0m18.3-2.8h0m-10 .7h0m9.6 .3h0m-7.2-8.8h0m1.7 6.2h0m-8.7 1.7h0m4.6-3.5h0m1 5.4h0m-3.7-5.7h0m9.1 5.8h0m-4.3-4.4h0m-4.5 2.6h0m9.8-5.9h0m-3.8-1.4h0m-2.1 6.2h0m-1.7-1.4h0m11.4 .2h0m-12.7 3.6h0m4.2 6.7h0m-1.9-6h0m-1.4-3.4h0m.6-2.7h0m4.3 5.2h0m-2.2 1.9h0m-6.4-4.7h0m3.7-1.8h0m-4.3-1.8h0m1 6.3h0m3.1-7.6h0m2 8.4h0m-1.7-6.3h0m2.5 4.6h0m-2.3-.3h0m5.2 5.2h0m-11.7-5h0m2.6-5.2h0m6.7 4.9h0m-3.6 3.4h0m1.8-1h0m5.3-9.5h0m-2.2 2.8h0m0 6.3h0m-1 7.5h0m-4.6-9.5h0m2.7 2.1h0m-8.6-3h0m6.6-3.6h0m3.2 2.3h0m2 6.2h0m.5-3.4h0m1.7-4.9h0m-.3 7h0m2.8 3.8h0m-4.2 3.1h0m2.4-4.2h0m3.1-2.3h0m-13.1-3.1h0m4.7-1.8h0m7.7-2h0m-3.6 11.6h0m-5.4-10.1h0m-4.7 5.9h0m7.2-8.1h0m-10-2.5h0m8.4 7h0m1.6 5.7h0m-5.1-6.2h0m8.1 3.2h0m2-.2h0m-7.7-7h0m-3.1 7.9h0m-.1-8.5h0m3.5 6.5h0m-.4-4.5h0m2.1 3.8h0m-4.2-4.3h0m-.6 3h0m8.4 0h0m-1.7-4.1h0m-3.9 5.5h0m1.9-5h0m-4.7 7.1h0m4-2.5h0m2.6-1.5h0m3.8 2.5h0m-11-.2h0m4.1 .5h0m1.6-3.9h0m-4.6 4.5h0m8.4-4.9h0m-11.4 3.9h0m9.9-2.8h0m-11.9 1.3h0m11 2.9h0m3.6-4.9h0m-5.4 .2h0m1.7 1.5h0m-2.5-.2h0m6.4 1.7h0m-7.2-7.2h0m-7.3-1h0m16.8 5.5h0m-6.5 2.2h0m-6.6 .9h0m3.5-9.6h0m-7.2 11h0m9.3-4.9h0m-7.7-5.2h0m4.9 4.4h0m3.2 2.7h0m-8.7 .4h0m8.4-5.2h0m-1.5 8.2h0m-2.7-3.9h0m6.2 7.6h0m-10.6-6h0m7.4 1h0m-.1-3.7h0m5.5 0h0m-4.2-5.6h0m-3.4 8.9h0m-4.8-3h0m2.9 2.9h0m4.4 1.4h0m4.3-12.6h0m-12.7 9.7h0m-1.1 1.2h0m.8-2.3h0m5.3-3.1h0m7.6 1.8h0m-13.6 4.5h0m9.1-7.4h0m-9.5 7.2h0m11-1.9h0m1.5-4.4h0m-4.9 4.2h0m-4.6 3.4h0m4.4-1.8h0m-4.2-4.5h0m8.6 8.5h0m-7.1-5.2h0m-3.8 2.2h0m9-.1h0m1.6-1.8h0m1.1 1.1h0m-7.3-2.1h0m7.9 2h0m2-2.7h0m-5.3-4.4h0m-2.9 1.7h0m-4.9 6.9h0m4.2-1.1h0m5.2 6.6h0m-.1-12.7h0m0 10.9h0m-6.2-9.5h0m4.5-2.7h0m1.2 10.3h0m-1.1-10.7h0m5.4 6.9h0m3.9-2.2h0m-9.6-.3h0m.5 2.6h0m-6-1.7h0m8.5 1h0m-3.9 .4h0m4.2-4.2h0m1.3 4.1h0m-.9 .3h0m-5.7-2.5h0m9.7 3h0m-12.2-2.5h0m3.2 4.3h0m.3-6.7h0m-2.1 6.3h0m-1-7.8h0m.4 5.8h0m3.6 .9h0m-8.8-1.4h0m5.8-3h0m6.6 6.8h0m-1.2-7.2h0m4.5 12.2h0m-11.1-9.3h0m1.1-2.1h0m-6 5.1h0m6.7-.6h0m.9 .4h0m-.8-3.6h0m8.3 3.9h0m-3.5-2.7h0m-2.5 1.4h0m2.8 1.1h0m-2.8-5.9h0m2.2-1.4h0m-4.8 3.9h0m3.3 .3h0m-6.5 2.6h0m14.2 5.5h0m-6.5-.3h0m1.1-2.8h0m-.1-3.7h0m-2.3-.9h0m-7.6-4.1h0m9.2 3.5h0m2.3-.4h0m-5.2-1.2h0m8-2.4h0m.3 4.7h0m-5.4-1.5h0m.4 3h0m-10.4-10.1h0m7.7 6.7h0m3.9-.5h0m-4.2 5h0m-.7-1.6h0m.5-6.7h0m5.8 4.2h0m-11.7 3.1h0m9.7 .7h0m1.3 8.4h0m-4.4-14.4h0m-.6 5.1h0m-2.2 1.1h0m6.1-4.5h0m4.5 4.8h0m-10.2-.8h0m1-2.7h0m-1.4 2.5h0m2.2-2.4h0m-5.3-6.6h0m6.5 8.5h0m-3.9-.5h0m2.4 1.4h0m-1.3-2.2h0m-2-.4h0m12.9-2.9h0m-2.4 6.7h0m-7.4-8.3h0m1.2 3.9h0m2.2-.4h0m-4.7 2.7h0m3-3.2h0m5 3.4h0m-10.2 1.6h0m-2.1-7h0m10.4-5.4h0m-1.7 2.1h0m2.8 9.5h0m-1.3-4.5h0m-1 .8h0m-7.4 4.7h0m9.4-3.6h0m-5.6-1h0m3.3-3.1h0m-9.3 6.6h0m-1.5-4.4h0m12.5-1.8h0m3.2 2.7h0m-9.6-1.1h0m4.7 3.9h0m-3.6 1.1h0m-5.7-2.7h0m8.1-1.6h0m-2.4 4.7h0m4.2-8.9h0m-8.2 6.7h0m11.5 .8h0m-2.3-4.1h0m-8-3.2h0m11 6.4h0m-8.4 .7h0m-1.5-4.3h0m.8 1.7h0m6.4 5.7h0m-8.2-10.5h0m3.1 7.6h0m13.8-.4h0m-11.2-1.5h0m-6.9-.4h0m6.6 6.8h0m-1.3-9.8h0m2.2 2.8h0m-2.4 1.2h0m5.6 2.9h0m-12.4-3.5h0m4.7 1.3h0m-4.4-2.8h0m17.4 2.7h0m-11.1-4.1h0m-2.7 5.5h0m2.7-5.6h0m-5.3-1.1h0m-4.3 2.7h0m6.8 .7h0m6.4-5h0m-4.7 8.5h0m7 2.6h0m-11.8-4.1h0m15.9 2.5h0m-9.4-.7h0m-4.3-4.8h0m8.7 1.5h0m-9.3 2.8h0m12.9-4.4h0m-8.4 2.5h0m6.7-.2h0m-7.6 0h0m-.5-1.1h0m-6.9-4.1h0m4.3 3.7h0m11.3 7.8h0m-6.8-8h0m2 7.2h0m-.8-8.1h0m2.8 1h0m-1 1.9h0m-6.2 2.3h0m.8-1.6h0m4 2.4h0" stroke="#000" stroke-opacity="0.45" stroke-width="0.75" stroke-linecap="round" fill="none"/>
<path d="M204.9 579h0m9.9-19.5h0m-3.1-8.8h0m-3.4 12.3h0m6.2-2h0m-1.2-4.5h0m-2.7 12.2h0m-10 6.3h0m4.6-8.1h0m14-12.1h0m-10.5 9.5h0m14.4-10.7h0m-11.7-4.7h0m3.3 11.2h0m-1.3-9.2h0m1.3 6h0m6.6 3.2h0m8.4-13.2h0m-19 14.1h0m-1.3 4h0m1.5-2.1h0m.9 1h0m3.1 .3h0m-2.2-4.5h0m-1.3-2.3h0m-1.2 14.4h0m4.9-12.6h0m1.1 6.8h0m5.7-17.7h0m-11 19.3h0m-.9-6h0m-.7 4.3h0m-2.4 3.6h0m4.9-10.9h0m-.3 1.3h0m2.4-1.5h0m1.1 .5h0m-3.3 2.5h0m4.4 3.7h0m-14.2 7.4h0m11.8-21.5h0m-2.4 4.7h0m-2.6 1.4h0m9.6-1.3h0m-6.8 15.9h0m-8.7 1.5h0m16-24.7h0m-9.4 19.6h0m-7.5-.3h0m3.5 3.7h0m3.5-7.5h0m2.4-5.6h0m6.4-.2h0m-7.7 3.3h0m3.6 0h0m-2.7 1.5h0m6.2-3.6h0m-4.2-1.3h0m-8.8 13.7h0m-.1-4.3h0m3.9-3.1h0m7-4.8h0m-6 11.9h0m-2.6-9.3h0m5.7-3.7h0m-3.5 1.4h0m-4.2 17.5h0m-2.6-10.6h0m13.5-3.2h0m-1.3 .7h0m6.8-8h0m-14.1 8.5h0m4.5 3.6h0m4.6-13.7h0m-10.6 27.8h0m-1.5-7.1h0m10.4-7.9h0m-8 .7h0m1.3-1.9h0m-3.3 6.2h0m2.7-8.3h0m-2.3 8.9h0m16.4-17.1h0m-7.8 4.5h0m2.1-2.4h0m-5.2 9.4h0m3.5-6h0m-.1 4.5h0m-9.9 4.1h0m11.3-6.8h0m-11.1 5.3h0m7.4-1.4h0m-3.1-2.2h0m-3.6 3h0m8.3-9.1h0m-8.6 10.2h0m3.6-8.2h0m7.4-1.5h0m-9.1 5.6h0m10.6-6.3h0m-19.7 22.5h0m11.6-14.6h0m-.8 1.2h0m5.5-6.6h0m8.1-6.7h0m-10.5 7.4h0m-13.4 9.1h0m8.3-2.6h0m7.9-14.2h0m-12.5 25h0m12.9-33.9h0m-6.7 18.4h0m11.1 5.3h0m-13.9-2.1h0m5.8-6.8h0m5.2 2.2h0m-2.5 1.5h0m-1.7-.7h0m-3.4 5.2h0m-1.3-8.1h0m4.9 5.3h0m-5.4-6.2h0m6.6-3.7h0m-3.4 11.8h0m-.5-2.6h0m8-8.7h0m-1.8 5h0m-3.2-6.1h0m-4.1 16.6h0m5.7-4.9h0m1.1-6.2h0m-1.2-6.7h0m-3.8 10.2h0m4.4 5.9h0m-9.8 1.5h0m13.6-11.9h0m-.6-7.3h0m-16.2 20.3h0m15.9-11.6h0m-4 2h0m-3.8 6.6h0m-2.6-.7h0m6.7-5.1h0m-4.9-8.3h0m11 2.7h0m-4.7-1.2h0m-10.5 19.6h0m9.9-20.4h0m-5 17.5h0m2.6-16h0m4.3 13h0m-15.1 7.5h0m1.4-15h0m3.4 2.5h0m-4.1 .6h0m-1 5.5h0m1.6-12h0m2.5 9.5h0m5.8-.4h0m-4.1 10.6h0m.9-14.4h0m7.6-.1h0m-2.1-2.5h0m.9 5.7h0m.7-1.8h0m-6.6 4.6h0m-3.2-4.4h0m16.9-10.5h0m-7.1 1.9h0m-8.4 5.6h0m7.8-2.2h0m-6.3 10.2h0m-.5-4.7h0m5-6.6h0m.7 3.2h0m5.3-13.4h0m-10.8 22.9h0m4.4-15.3h0m-3.2-5.8h0m-7.4 12.1h0m10.5-1.1h0m10.5-21.9h0m-10.1 15.1h0m.3 8.9h0m2.1 1.9h0m4.1-6.5h0m-2.9-12.8h0m-4.8 17.6h0m9.4-10h0m-16.7 7.9h0m6.2 4h0m6.7 .1h0m-13.8 11h0m12.3-15.1h0m-2.1-5.1h0m3.1 3.2h0m-2.6 6.5h0m-12.6 4.9h0m5-.4h0m4.7-11.4h0m4.7-12.3h0m-9.8 17.6h0m5.7 0h0m1.6-8.6h0m-2.3 14.6h0m5.5-12.7h0m-4.8 8h0m6.2-9.5h0m1.7-5.9h0m-8.3 15.3h0m-3.2 6.5h0m1-3.7h0m10.4-14.1h0m-5.9 .9h0m.2 4.7h0m2.5 1.7h0m-14.1 4.7h0m14.2-12.6h0m-7.1 14.5h0m-1.5-2.9h0m-.1 7.8h0m-2.9-5.9h0m-3.1 11.1h0m15.7-24h0m3.4 9.8h0m-7.8 5h0m-2.1 .5h0m1.5-2h0m3.2-10.3h0m.4 10.4h0m-11.9 3.8h0m2.4-7.6h0m.3 2.7h0m11.8-11.3h0m-5.1 2.5h0m6.2-6h0m-9.3 12.6h0m-7.7 8.4h0m8.5-18.8h0m2.3 5.5h0m-.6 8.6h0m-.2-14.9h0m3.3-4.8h0m-1.3 8.3h0m-.6-2.3h0m2.7-5.4h0m-14.4 26.5h0m11-15h0m-8.7 15.4h0m6.1-14.8h0m5.8-9.5h0m.5 8.9h0m-2.7-11h0m.7 2h0m2.1 5.3h0m-2.7 12.2h0m-4.5-6.9h0m-4.4 5.9h0m4.5-8h0m-.3-1.4h0m4.7 .6h0m7.7-9.8h0m-7.2 14h0m-7.5 3.7h0m4.9-10.3h0m-6.7 14.5h0m3.6-10.8h0m-2.5 8.7h0m14.6-18.4h0m-8.4 9.4h0m-8.3 8h0m15.1-16.6h0m-10.7 12.4h0m2-1.4h0m6.3-.9h0m-7.7 .8h0m-.8 14.2h0m9.7-26.1h0m-8.7 14.1h0m-3.8 5.2h0m15.3-11.6h0m-15.1 21.5h0m12.6-17.6h0m1.1-9.6h0m-10.1 10.8h0m3.9-.7h0m2.6-4.1h0m-.2 5.9h0m-8.9 5h0m1.4 3.4h0m1.7-7.9h0m6.5-11.1h0m-1.9 10.6h0m-1.4-6.1h0m3.1 .2h0m-16.4 19.3h0m13.2-14h0m7.4-12.3h0m-11 6.9h0m-6.5 8.9h0m10.2-10.3h0m.8 10.5h0m-5.3-.3h0m9.5-8.7h0m-11.7 13.3h0m10-12.4h0m-12.1 9.1h0m6.4-9.8h0m4.4-6.9h0m-8.5 7.1h0m4.6-2.8h0m-4.7 8.8h0m7.3-4.8h0m-3.9-1.3h0m1.7 3.9h0m5.5-4.9h0m-6.7-2h0m6.9 1.5h0m-6.7 1.2h0m-3.7 1.7h0m3.6 1.6h0m-4.3 2h0m9.8-10.7h0m-16.2 18.9h0m17-15.1h0m-2.8 4.7h0m10.2-12.7h0m-10.2 9h0m2.6-6.8h0m-1.1 4.5h0m1.9 .2h0m0-8.4h0m3.9-4.9h0m.7 3.7h0m-16.8 20.2h0m1.6-2.2h0m3.2 2.9h0m3.3-14.7h0m-9.4 11.6h0m15-8.1h0m-9.9 17.5h0m-6.5-8h0m-1.8 6.3h0m14.3-21.2h0m-10.4 19.2h0m11.5-8.7h0m-6.4 4.2h0m7.9-5.2h0m-15.2 10.9h0m8.3-2.6h0m-1.8-6.2h0m4.4-4.1h0m-2.2-4.8h0m.5 12.7h0m-.5-7.4h0m-4.5 3.1h0m-.8 14.9h0m11.1-19.7h0m-5.7 5.2h0m6.6-7.5h0m-1.2 .5h0m5.2-.9h0m-10.9 1.7h0m-12.3 6.8h0m5.9 .2h0m5.4-2.8h0m2.2-1h0m-.7-1h0m5.4-.9h0m-9.2 1.4h0m13.8-9.9h0m-15.2 19.6h0m4.1-10.8h0m-4.2 16.3h0m1-9.9h0m-1.5-4.1h0m5 6.3h0m1.2-3.8h0m-3.1 5.8h0m-6.1-1h0m9.4-6h0m4.6 .9h0m-8.1 0h0m18.7-17.5h0m-18.8 20h0m3.4-3.5h0m-4 2h0m9.7-2.9h0m-7-.1h0m-4.3 1.5h0m5.7 .8h0m-5.9 7.7h0m-1.6 3.9h0m9.3-22.8h0m3.9 6h0m.1 .4h0m-8.4-1.5h0m2.7 15.7h0m-8.2-5.3h0m9.9-8.6h0m-4.5 12.4h0m5.3-1.7h0m-7.5 9h0m4.3-11h0m-9.6 11.4h0m1.2-22.4h0m13.2-6.3h0m-3.2 13.3h0m-7.5-4.8h0m7.9 1.9h0m1.9 1.2h0m-3.3 .5h0m3.8 2.8h0m-3.4-2.8h0m-2.8-3.7h0m7-2.3h0m-7.1 2.4h0m7.7 2.2h0m4.5-10.9h0m-11.2 21.3h0m9.9-25.9h0m-8.3 12.4h0m-.8 9.2h0m-4.4-9.4h0m5.8 6.1h0m8.8-17.2h0m-10.2 27.8h0m6.4-18.9h0m-5.5 2.4h0m4.3-3.4h0m-5.3 11.6h0m-6.6-3.6h0m5.5 3.7h0m8.3-8.1h0m-7.8 9.4h0m3.9-7.9h0m2.3-13.2h0m-.3 19.6h0m-5.4 6.6h0m7.3-7.9h0m-3.9-1.8h0m-4.7-2h0m4.4-7.2h0m.9-.2h0m-1.4 1.4h0m-5.4 12.7h0m5.6-11.5h0m1.3 .5h0m-4.4 10.5h0m-.7-4.8h0m14.7-19.8h0m-12.2 16h0m-.1 6.9h0m-3.6 3.7h0m.1-9.9h0m6.8-7.1h0m-5 9.5h0m11.1-15.7h0m-11 15.1h0m-6.3 11.3h0m11.6-16.9h0m-7.6 11.9h0m4.5-6.4h0m.6 5.9h0m-10-2.3h0m2.3 5.1h0m13.2-19.8h0m-.4 4.7h0m-6.1 2.3h0m-2.3 14.7h0m5.7-15.8h0m-11 12.8h0m6.5-1.5h0m3.8-4.7h0m5.3-5.5h0m-3 3.1h0m-1.1-3.8h0m-3.8 2.5h0m-5 5.6h0m-5.5 3.5h0m12.4-.1h0m-1.2-1.5h0m-3.2-14.2h0m1 6.6h0m4.1-.1h0m4.1 1.9h0m-11.9 1.6h0m.5 6.7h0m8.1-21.6h0m4.8 2h0m-6.5 15.8h0m-4.6-3h0m-4.4 4.4h0m9.9-9.8h0m-4.9 8.2h0m1.2-6.9h0m1.6-.3h0m2.2-.1h0m-3.8 4h0m9.2-11.3h0m-12.5 17.9h0m8.9-9.5h0m-4.1 7.4h0m3-6h0m2.6-.3h0m-14.5 7.5h0m7.3 2h0m2-6.3h0m5.2-6.5h0m-7.3 11.2h0m-4.1-6.2h0m5.2-8.8h0m-7.7 13.1h0m13.4-11.3h0m-2.3-4.8h0m-1.3 0h0m3.8 2.2h0m-6.3 10.5h0m-1.9-2.1h0m-.2 2.2h0m-6.6 9.7h0m9.5-2.6h0m-5.1-4.8h0m7.6-16.8h0m-1 10.9h0m-3.4 7.5h0m-1.6 2.1h0m5.5-8.5h0m-14.4 14.3h0m17.9-25.9h0m4-.7h0m-10.6 20h0m-1.3-16.1h0m1.1 7.1h0m-9.2 6.4h0m4.4 8.8h0m4.5-9.8h0m.6 2.8h0m4.1-2.3h0m-6 5.8h0m5.9-12.6h0m-2.1 5.5h0m-7.4-5.6h0m7.2-.9h0m-4.8 11.7h0m8.5-20.4h0m-1.5 14.5h0m-.1-2.4h0m-4.1 .7h0m1.3-3.9h0m.9-.6h0m-4 1.1h0m1.8 8.7h0m4.2 .6h0m-14 7.5h0m5.7-14.2h0m3.7 14.7h0m.1-5.7h0m1.8-10.3h0m-5.9 5.3h0m-2.2 10.4h0m3.5 .8h0m-4.1-14.3h0m3.8 1.3h0m11.5-12.7h0m-8.1 19.5h0m-.2-3.9h0m-2.7 9.1h0m-.7-9h0m9.2-6.3h0m-4.6 .8h0m-5.9 8.7h0m-.6 1.5h0m12.7-16.1h0m2.9-5.1h0m-8.2 17.9h0m-3.4-7.5h0m9.5-8.6h0m-5.9 11.5h0m3.9-4.5h0m-4.3-.3h0m.6-4.4h0m-1.2 4.6h0m-2.4 11.4h0m6.3-10.9h0m4.1 2.6h0m-11.3-6.7h0m5.1 9.6h0m4.2 4h0m-13.7-.1h0m8.3-7.5h0m-.6 5.9h0m8.8-6.1h0m-9.8 6.5h0m1.9-11.3h0m.8 4h0m5.2 .4h0m-7.2 6.8h0m-1.2-1.9h0m-7.3 1.7h0m14.2-14h0m1.5 8h0m-15.1 6.5h0m22.6-16.1h0m-14.2 8.1h0m2.8 10.4h0m-2.2 .5h0m-3.5-13.1h0m5.9-7.1h0m-.2 6h0m-.6 4.4h0m-5.5 12.5h0m.6-1.1h0m-3.2-6.7h0m.9-2.8h0m.8 4h0m10.4-19.1h0m-6.9 10.9h0m7.6-2.5h0m-6.7 1.8h0m-3.5 12.2h0m-6-.1h0m13.7-9.3h0m-5 3.7h0m1.6-6.4h0m4 6.9h0m-1.7 3.5h0m-3.6 3.8h0m1.1-9.4h0m-3.2 4.9h0m10.7-16.5h0m-15 26.2h0m2-8.4h0m-.7-6.5h0m7.5-10.6h0m-9.6 23.8h0m7.6-10.8h0m-4.8 5.1h0m7.6-14.9h0m-12.4 17.5h0m13.4-5.2h0m-6.9-2.9h0m-.1-15.1h0m6.4 12.6h0m3.1-4.8h0m3.2 0h0m-7.5 .8h0m-9.3 15.4h0m9.3-15.9h0m12.1-18h0m-16 24.9h0m-.2 7h0m-5-1.8h0m6.5 .4h0m12-18.3h0m-21 24.6h0m22-25.5h0m-16.1 18.2h0m-1 5.5h0m2.5-12h0m8 2.1h0m-5.4-2.3h0m1.8 6h0m-5.4 4.7h0m3-15.5h0m-.1 6.2h0m-.3 2.7h0m1.1-16.4h0m-2 14.1h0m-5-.6h0m9.1-12.8h0m-.6 6.7h0m-5.8 6.3h0m2.6 2.6h0m-2.7-5.2h0m6.1-4.8h0m-3.1 4.3h0m3.7 8.7h0m-3.6-6.2h0m-1.7-3.1h0m4.1-1.3h0m-2.9 8.5h0m-9.6 4.8h0m-.6 .2h0m11.9-10.8h0m1-4h0m-4.7 11.6h0m-4.8 2.3h0m8.9-14.3h0m-6.3 3.4h0m-.9 15.7h0m4.8-12.2h0m1.5 8.4h0m-.7-5.9h0m5.4-13.7h0m-1.6 3.2h0m-7.1 7.3h0m-4.6 2.7h0m7-1.3h0m-7.5 11.7h0m12.1-10.3h0m1.3-9.7h0m-3.7 7.6h0m-4.6-2.6h0m4.3 10.5h0m2.2-10.1h0m4.8-2.2h0m-9 1.4h0m-5.9 4.9h0m9 .6h0m7.1-9h0m-11.4 7.5h0m7.9 2.5h0m-17.6 8.8h0m15.2-11.2h0m-8.1 9.4h0m2.5-7.3h0m-.3-2.2h0m6.9-5.4h0m-9 10.8h0m-3.5 9h0m9-14h0m-2.8 7.6h0m5.7-9.5h0m-.2-13.5h0m-14.8 26.3h0m5.8-6.5h0m4.8-8.8h0m1.2-7.3h0m-2.1 11.2h0m-.1-3.6h0m5.4 9.5h0m-7-4.9h0m9.1-17.9h0m-5.6 13.2h0m-9 8.3h0m10.7-8.6h0m-10.3 4.8h0m15.3-9.1h0m-19.6 22.6h0m8.3-17.6h0m4.6-2.3h0m-8.8 8.3h0m4.7-.5h0m8.3-14.1h0m-1.6 13.4h0m-5-8.5h0m4.9 13.4h0m-1.2-8.7h0m-.5 3.9h0m-6.4 4.1h0m6.1 .8h0m-7 5.5h0m6-18.9h0m-10.7 9.9h0m14.5-3.8h0m-.8-7.2h0m2.6-.3h0m2.5-5h0m-12.4 28.8h0m7.4-17.6h0m4.2-11.6h0m-10.6 16.4h0m-2-3.2h0m8-1h0m3.3 3.1h0m-13.5 8.5h0m13.9-19.1h0m-2.7-2.6h0m-.8 6.9h0m-4.9 4.3h0m0 .4h0m3.1 6.7h0m-1.8 5.1h0m-12.4 1.6h0m10.8-6.2h0m5.4-13.8h0m-9.3 4.3h0m3.9 2.3h0m-1.5 5.3h0m-4.9 6.9h0m4.1-10.8h0m1.5-1.3h0m3.5-2.7h0m-.7 5h0m5.7-12.9h0m-11.3 17.4h0m2.6-14.4h0m10.2-7.2h0m-8.6 15.5h0m-5.3-.7h0m9.5-7.9h0m-4.1 7h0m3.3 2.1h0m-5.7 6h0m4.2-11.2h0m-4.9 2.5h0m4.6 .7h0m10.8-5.3h0m-12.8 9.2h0m-9.2 4.6h0m20.6-16.3h0m3.3 .9h0m-21.1 10.8h0m16.9-15.5h0m-16.4 19.9h0m4-2.7h0m4.6 .1h0m1-4.7h0m-3.1 4.4h0m8.2-16.2h0m-6.6 .3h0m-1.9 12.4h0m-5.2 8h0m7.5-8.7h0m6.2-10h0m-3.7 .3h0m-8.4 6.9h0m2.3 .7h0m10.4-10.4h0m-6 9.2h0m-4.3 1.3h0m7.7-3.9h0m.1 4.1h0m-14.3 14.1h0m18.7-25.2h0m-1.7 1.7h0m-6.9 4.1h0m-.4 8.8h0m.3 1.7h0m-4.5 .2h0m19-21.4h0m-20.1 25.3h0m1.1-7.5h0m-.8-6.2h0m-2.9 3.3h0m12.7-8.9h0m-2.8 2.7h0m-.8 21.1h0m-2-19.1h0m-6.7 13.7h0m12.7-.9h0m-3.4-7.7h0m-9.2-.3h0m11.3 .4h0m-1.3 3.3h0m-.7 5.8h0m-4.8-10.4h0m-2.1 9.7h0m12.7-13.8h0m-8.6 1.9h0m1.3-.6h0m-5.2 11.6h0m5.9-8.1h0m-1.7 0h0m10.8 .1h0m-11.6-9.3h0m4.3 13.5h0m-2.3-8.8h0m1.6 4.7h0m-.5-4.4h0m-7.8 13.4h0m3.4-1.4h0m-2.1 6.3h0m7.2-22.4h0m-5.8 9.1h0m8.4-5.4h0m-7.7 12.2h0m-4.4-2.6h0m4.5-3.8h0m11-11h0m-13.1 20.4h0m9.5-10.1h0m-16.1 6.9h0m11.3-8.8h0m-7.5 9.6h0m4-6.5h0m-.6 5.4h0m.1-.5h0m8-6h0m-1.3 0h0m-14.9 1.2h0m11.4 2.4h0m10.3-10.2h0m2.8-13.6h0m-6.3 11.5h0m-9.5 17.6h0m.4-8.8h0m2-4.6h0m6-4.4h0m-3.2 16.8h0m-5-9.6h0m-2.3 6.5h0m16.4-16.9h0m-12.6 17h0m6.5-1.3h0m-3.6-6.4h0m-.1 .9h0m3.7-1.7h0m-8.9 10.6h0m-.1-7.2h0m8.3-8.4h0m-4.8 7.8h0m-.4 4.6h0m-3.2 2.4h0m3.6-9h0m-5.5 1.4h0m4.7 15.9h0m-2.3-4.2h0m2.2-7.9h0m5-3.1h0m-1.5 6.4h0m3-6.4h0m-15.3 15.8h0m16.9-18.4h0m-6.1 1.8h0m-8.6 16.6h0m12.2-18.3h0m-2.5-4.4h0m1.7-.1h0m-12 15.9h0m6.6-1.3h0m3.5-5h0m-9.4 7.7h0m13.8-18h0m-8.9 9.8h0m-6 11.6h0m22.8-26.3h0m-8.2 2.1h0m-8.7 16.7h0m.9-2h0m.4 1.3h0m-1.1-11.2h0m1.4 8.4h0m7.1-14.1h0m-1.9 14.6h0m-5.5-.9h0m10.3-9.4h0m-4.7 10.7h0m-.2-2.9h0m1.2 .7h0m-9.9 13.2h0m7-9.5h0m1.1-10.6h0m-7.2 3.7h0m-1.8 6.5h0m4.1-3.6h0m12.8-3.2h0m-11.5 7.1h0m-9.8 10.1h0m12.8-26.8h0m-5.5 14.8h0m-6.7 8.3h0m13.3-11.1h0m-4.8 6.1h0m7-14.1h0m-5 10.7h0m2.9-8h0m-4.9 10.3h0m-6.6 7.4h0m6.3-1.2h0m-4.9-1.7h0m.4 .1h0m3.8-9.2h0m-3 4.3h0m8-11.7h0m4.5 6.4h0m-6.6 7.4h0m-2-5.3h0m1.9-3h0m-1.4 12.7h0m-2.8-1.1h0m9.7-15.2h0m-2.1 8.3h0m-11.7 4.8h0m8.1-8.7h0m7.7-5.6h0m-18.5 11.6h0m4.1-1.2h0m8.8-1.5h0m-2.8-3.3h0m5.2-8.7h0m-8.1 17.6h0m-2.5 6.2h0m5.7-7h0m.8-5.7h0m2.1-11.8h0m2.1 2h0m4-7.3h0m3.4 2h0m-15.4 20.5h0m4.8-9.2h0m-8.1 9.8h0m.3 6.1h0m3.1-9.2h0m4.9-7.7h0m-6.5 6.9h0m4.4-.1h0m-2-8.6h0m1.5 9.2h0m10-11.6h0m-4.8 8.4h0m-6.8-1.3h0m9.3-4.8h0m-9.4 11.2h0m5.1-11.5h0m9.1-5.6h0m-8.4 15.1h0m2.6-8.5h0m-3.3-3.1h0m-.6 7.9h0m.7-2.5h0m.7 1.4h0m3.3-9.5h0m-4.4 7.9h0m-1.3 3.4h0m-1.5-.8h0m4.4 .1h0m-4.4-1.3h0m-2.7 4h0m9.1-9.6h0m1.3-4.1h0m-10.7 14.5h0m7.3-5.6h0m-11.1 3.3h0m5.8-9.6h0m.8 6.5h0m-1.9-2h0m12.4-13.4h0m-12.7 13.7h0m-4.7 4.7h0m-.1 8h0m11.5-17.4h0m-9.7 10.4h0m3.2 4.2h0m.5-10.7h0m-1 4.6h0m.7 .8h0m-.4 10.5h0m-5.8-3.5h0m13.5-7.1h0m-5-7.9h0m1.9 8.5h0m-4.5-.3h0m0 2.8h0m-2.7 1.1h0m7.9-9.3h0m-3 8.5h0m-1.2 1.9h0m.8 2.4h0m11.6-24.2h0m-12.6 13.8h0m-9 16.1h0m14-9.7h0m6.9-20.8h0m-5.4 14.6h0m1-5.8h0m-3.7 12.5h0m-3.7-3.6h0m-3.1 7.6h0m.1-12.1h0m7.5-3.4h0m7.2-.5h0m-13.1 11h0m-.2-4.9h0m3.4 8.4h0m-2.6-6.4h0m2.9 1.1h0m2.7 .1h0m-7.6 5.9h0m3.9-5.5h0m.7-9.4h0m2.8-1.2h0m3.6-2.4h0m-10.4 16.3h0m1.7-2.8h0m-1.1 6.2h0m7.2-9.8h0m-.6-1.4h0m.3-.9h0m3.8 2.2h0m-11.3 .6h0m-6.7 5.8h0m7.6-3.5h0m-.7-.8h0m.7 1.5h0m2 .3h0m-3 4h0m6.7-19.1h0m-8.6 17.4h0m-1.2 .9h0m3.8 .8h0m-.1-8.1h0m5.8 3.7h0m1.9-8.7h0m10-11h0m-24.8 34.1h0m9.6-11.4h0m-7.9-.6h0m10.9-7.7h0m5.2 2.5h0m4-5.8h0m-11 1.4h0m8.3 11.8h0m-7.6-6.1h0m8.1-6.9h0m-11.4 9.4h0m-.9-4.6h0m-3.7 9.8h0m8.8-10.8h0m-1.6 3.9h0m-15.2 10.9h0m31-31.5h0m-17.8 27.3h0m-.7-5.8h0m3.2-6.5h0m-1-.7h0m8.1 13.2h0m-4.8-10.2h0m-2.2 2.8h0m2.1-.9h0m7.1-10.1h0m-10 16.5h0m-6.1 8.9h0m7.3-14.7h0m-.7 5.4h0m-2.8 .7h0m5.3-9h0m-3.7 8.6h0m4.5-19.5h0m-2.1 12.6h0m-2.3 .6h0m-2.9 .9h0m6.9-3.2h0m-4.2-.2h0m-5.7 11.5h0m5.7-11.6h0m-3.8 8.1h0m11.8-9h0m-12.5 8.8h0m12.9-20.3h0m-1.4 4.7h0m-3.1 8.5h0m-.3 5.1h0m-2.6-8.1h0m-10.1 19.1h0m10.5-18.5h0m2.6 1.3h0m-.8-3.2h0m7.6-15.6h0m-7.5 22.4h0m-10.2 16.8h0m11.3-15.6h0m-5.8-3.5h0m-1.5 1.5h0m-2.4 3.9h0m16.8-17h0m-14.7 14.9h0m8-4.2h0m-3.7 5.3h0m-6.8-4.6h0m6.4 3.6h0m2.2-5.3h0m-5.6 6.6h0m6.1-6.5h0m4-12.8h0m-3.4 8.5h0m6 2.2h0m-5 10.8h0m-1.7-6.3h0m-4.5 .6h0m2.6-8.3h0m3 5h0m-4.6 3.5h0m2.7-5.7h0m-1.3 4.5h0m-2.8 5.4h0m5-6.4h0m-2.6 5.1h0m.9 3.4h0m-7.9 .9h0m4.3-3.3h0m6.2-10.8h0m-.6 7.3h0m5.3-7.8h0m-8.2 3.2h0m1.3 2h0m-.9 4.8h0m11.6-17.8h0m-15 5.2h0m.8 17h0m-9 10.8h0m8-8.8h0m8-18h0m-4 9.2h0m1.7 .3h0m-8.3 1.4h0m.8 5.7h0m-1.1-3.4h0m7 6.7h0m1.4-14.4h0m-4 4h0m.5 2.6h0m-4.9 8.3h0m-1.1 1h0m3.6-12.1h0m3.4 9.3h0m3-6.7h0m-6.7-2.2h0m-5.8 10.7h0m10.4-26.2h0m-.6 8.1h0m1.3 4.3h0m-6.7 15.8h0m6.5-18.4h0m-1 1.9h0m3.1 1.1h0m-1-3.4h0m-8.5 4.5h0m3 9.9h0m-10.5 2.1h0m14.2-10.3h0m7.9-9.9h0m-1.2 8.1h0m-6.2 .5h0m2.9 .3h0m-4.7 4.4h0m3.1 .2h0m-5.6 3.9h0m3.9-5h0m-2.8-5.8h0m4.8-.8h0m1.6 1.3h0m-1.6 1.4h0m-8.9 7.8h0m6.1-12.4h0m4.9 4.6h0m-3.8-11.9h0m-3.5 13.4h0m-1.8 7.5h0m-1.4-10.4h0m8.9 0h0m8.1-6.4h0m-10.8 9.1h0m.1-1.2h0m.5 3.2h0m-8.1 1.1h0m22.4-18.1h0m-8.8 5.9h0m-4.3 5.4h0m-10.6 10.2h0m7.3-18.4h0m5.5 19.7h0m-15.1-3.5h0m17.9-6.6h0m-2.4-2.2h0m-7.2 5.7h0m-1.1 6.4h0m5.5-6.7h0m8.8-7h0m-1.3 1.4h0m-8.5-9.2h0m-3.9 12.7h0m6.9-1.8h0m-.5 2.8h0m-6.6-7.1h0m2.1 6.3h0m5.2-11.6h0m-8.2 18.5h0m4-.8h0m.8-3.2h0m-11.3 6.6h0m12.3-12.6h0m1.1 3.7h0m2-12.7h0m-3.5 8.6h0m-8.7 13.6h0m14.8-19.6h0m-3.1 3.7h0m-10.6 15.3h0m2.3-12.8h0m.6 5.4h0m6.4-4.6h0m-3.1-4.3h0m4.7 2.1h0m-5.4 9.2h0m-1-1.1h0m-8.9 1h0m12.1-4.3h0m3.3-10.3h0m-9 29.6h0m-.1-18.4h0m5.7-.9h0m5.2-11.4h0m-5.9 7.9h0m-12.6 19h0m12.4-10.5h0m8.1-21h0m-11 21.9h0m14.1-31.3h0m-8.1 13.5h0m-2.7 14h0m-2.3 5.3h0m2.6-14.4h0m-6.4 22.3h0m7-8.8h0m-12 7h0m7.5-16.7h0m-2.7 7.6h0m10.4-8h0m-1.7 4.2h0m-.7-9.6h0m2.7 8.6h0m-6.3-7.8h0m.9-1.6h0m-1.2 16.1h0m3.6-11.6h0m-3.9 .8h0m2.4 2.6h0m-2.7-2h0m1.8 4.6h0m-3.6-.8h0m2.5 2.2h0m-2.7 1.3h0m15.6-13.9h0m-22.6 19h0m23.6-22h0m-3.8-5.8h0m-4.6 12.4h0m-15.1 21.8h0m13.3-25.3h0m-6.1 21.6h0m-.4-6.4h0m4.3-5.8h0m-4 7.8h0m1.8 .7h0m-9.7-1.7h0m4 2.4h0m15.1-19.6h0m-3.2 2.3h0m-4.4 13.3h0m-5.9 5.5h0m4.3-6.1h0m-11.1 13h0m21.6-20.6h0m-7.2 5.8h0m-7.6 4.9h0m-3-4.2h0m9.1-8.6h0m-5.8 5.9h0m11.2-8.6h0m-8.1 8.5h0m-.1 5.6h0m14.6-14.3h0m-11.7 7.9h0m-10.4 10h0m5.5-9.4h0m6.2 1.1h0m-1-3.9h0m1.6-3.9h0m3.9 .5h0m-13.9 10.4h0m6.1-2.9h0m5.1-7.9h0m-4.8 6.2h0m4.5 1.7h0m.2-8.7h0m.8 9.4h0m-13.4 11.5h0m15.6-14.3h0m-1.2-10.3h0m-12.3 23.1h0m14-21h0m.6 3.4h0m-6.3 3.9h0m4.3 5.5h0m-8.3 .7h0m4.5-5.8h0m3.1-4.7h0m-9.9 13.2h0m3.7 2.7h0m10.2-18.5h0m-2.5-3.7h0m-2.7 15.3h0m-7.5 5.3h0m-.4 3.9h0m-1.3 .3h0m3.7-8.9h0m-4.1 0h0m4-.7h0m-5.3-4h0m6.2-11.9h0m3.8 4.7h0m-3.1 9.4h0m3.9 0h0m-2.4 4h0m4.2-7.3h0m.8 5.2h0m-10.6 9.8h0m.9-5.3h0m5.9-11.8h0m-9.2 10h0m22-14.6h0m-14.4 11.4h0m-8.9 6.2h0m4.7-12.9h0m2.4-1.2h0m12.5-7h0m-4.3 4.3h0m-6.4 6.2h0m.3 1.5h0m4.8-11.1h0m-8.2 14.7h0m-1.8 5.4h0m12.5-14.8h0m-16.4 13.9h0m1.7 3.2h0m11.5-20.1h0m1.8 3.3h0m-14.3 18.1h0m1.4-7.1h0m8.6-10.6h0m3.6-1.7h0m-13.1 17.6h0m13.3-16.2h0m-12 12.4h0m5.6-5.7h0m2-10h0m.6 9h0m-16.2 14.6h0m17.1-17.4h0m-1.7 2.8h0m-4.5-3h0m2 4.6h0m1.4-6.7h0m.5 1.8h0m-5.1 6.1h0m-6.3 2.3h0m11.8-7.1h0m3.1-5.9h0m-5.7 5.8h0m7.8-4.5h0m-1.5-8.4h0m-7.5 23.6h0m7.7-19.1h0m-13.6 28.8h0m12.9-22.5h0m-7.4 12h0m3.3-11.1h0m-3.5 8.9h0m14.5-13.9h0m-4.7 1.3h0m-10.6 21h0m8-13.9h0m-3.8 4.6h0m1.5-11.6h0m-.5-.3h0m6.9-2.2h0m.3-2.3h0m-3.5 8.5h0m-9 9.5h0m-9 9.5h0m11.3-6.5h0m.5-5.1h0m4.1 .8h0m2.6 .2h0m-10.7 1.8h0m1.4-.9h0m9.7-14.5h0m-9.8 18.1h0m-.3-8.4h0m8.4-2.9h0m2.2 1.9h0m-6.1 6.1h0m-9.8 6.5h0m16.5-22.7h0m-12.5 8.7h0m9.1-2.7h0m-1.1-7.3h0m5.9 5.1h0m-2.9 14.3h0m-5.1-17.2h0m-3.3 17.5h0m.6-7.8h0m-2.9 4.8h0m-2.8 4.2h0m5.9-6.2h0m7.5-18h0m-11.7 14.7h0m-7.5 9.3h0m22.1-16.5h0m-15.4 17.6h0m.8 2.7h0m7.3-12.7h0m-1.4-8.1h0m-.5 3.7h0m-3.9 6.2h0m2-10h0m-6.9 23.5h0m7.8-27h0m-1.2 14.7h0m8-10.7h0m-1.5 4.2h0m-3.9 1.6h0m-11.5 10.9h0m11.1-.6h0m-5.9-3.7h0m3.5 4.2h0m-3.8-2h0m8.3-13.1h0m1.4 9.6h0m-9.5-.4h0m.4 8.7h0m9.9-11.4h0m1.9-7.7h0m-8 .6h0m-12.2 15.6h0m10.1-4.5h0m5.3-6.6h0m-8 10.8h0m7.1-3.7h0m7.7-17h0m-3.7 12.1h0m-5.7 .4h0m-6.6 10h0m18.9-14.9h0m-6.2-2.4h0m4.7 6.1h0m-14.9 .3h0m5.3 5.9h0m-.3-2.4h0m2.5-5.7h0m-12 8.8h0m20.7-21.2h0m-7.7 9.2h0m-9.5 21h0m10.2-18.6h0m-7.4 9.6h0m9.5-13.6h0m-6.2 9.1h0m.9-4.7h0m4.3-2.4h0m-8 13.8h0m3.7-1.7h0m-2.7-8.4h0m1.3 .4h0m-3.3 12.1h0m5-14h0m1.2 .5h0m-.4-3.2h0m6.6-1.4h0m-10.6 9.8h0m-6.2 15.2h0m4.2-7h0m-5.1 1.7h0m8.3-12h0m6.2-5.5h0m1.5 5.1h0m-9.9 7.9h0m2.1-12.2h0m2.5 3.9h0m-3.6-1.1h0m-1 8.6h0m6.2-13.9h0m-5.3 14.8h0m2.4-11.9h0m4.9 6.4h0m-8.1 .2h0m-.8-8.2h0m-9.7 15.5h0m3.6-1.1h0m2.4 .6h0m9.6-17h0m-2.9 5.7h0m7.7 3.9h0m-9.7 5.9h0m9-16.8h0m-.1-2.6h0m1.3 4.6h0m-14.1 7.4h0m12.4-6.9h0m-9.4 16.2h0m5.8-10.1h0m-5.5 6.7h0m3.3-6.7h0m5.7-2.3h0m-6.4 4.8h0m-7.1 4.1h0m8.1-9.4h0m2.8-2.3h0m-3.6 7.7h0m.3-3.1h0m4 .5h0m-10 .9h0m11.9 1.3h0m-17.2 3.2h0m16.7-2.6h0m-8.3 8.3h0m6.8-16.1h0m-3.7 5.5h0m4-4h0m-1.2-.4h0m.6 1.5h0m-2.2-4.2h0m7.2-1.5h0m-12.9 22.3h0m-3.1-2.1h0m12.9-17.8h0m8.5-7.2h0m-11.2 4h0m7.8 1.1h0m-18.1 13.7h0m10.4-8.2h0m-2.3-.5h0m3.7-.2h0m-5.3 11h0m1.9-14.2h0m.2 1.7h0m2.5-3.5h0m3.5-1.6h0m-10.8 24h0m-4.1-8.1h0m10-13.1h0m2.1 1h0m-6 10.4h0m10.6-6.5h0m-6.3-10.5h0m-6.8 19.9h0m7.2-10.4h0m4.6-5.9h0m-6.4 6.3h0m9.6-4.1h0m-3.3 11h0m-2.7-8h0m-14.8 14.1h0m10.4-14.7h0m-3.1 10.1h0m13.4-16.8h0m-6.5 10.4h0m4.6-4.3h0m-7.2 3.8h0m1.7-3.7h0m-3.8 1.6h0m-9.3 13.3h0m13-5.9h0m-7 15.5h0m11-24.1h0m-9.5 11.5h0m-8.1 7h0m13.2-12.9h0m-2.7-.5h0m-.3-2.4h0m-2.9 11h0m3.6-10.8h0m5.7-10.9h0m-2.9 9.6h0m2.2 7.5h0m-6.5 2.2h0m-.8-.2h0m3-7.1h0m-6.2 6.4h0m8.3-15.1h0m3.9 4.5h0m-8.8 4.4h0m2.7 2h0m-1.1-8.4h0m10.8-6.6h0m-5.3 4.3h0m4.4-9.8h0m-4.1 15h0m-3.5 7.6h0m-1-4.6h0m-10 11.1h0m-1.2-6.2h0m18.3-13.2h0m-8.2 15.8h0m-5.1-6.7h0m-2.1-.4h0m7.1 .3h0m-1.1 4.7h0m-2.3 7.4h0m-6.4 2.6h0m11.5-17.9h0m-5.8 6.7h0m4.6-13.7h0m1.4 4.8h0m1.7-2.1h0m-7.7 17.4h0m12-23.1h0m-3 12.4h0m-17.8 16.9h0m12.2-14.3h0m-2.6-3.9h0m.1-.1h0m8-4.1h0m3.5 12.4h0m-6.9-3.1h0m2.1-1.3h0m-1.4 8.7h0m16.3-29.3h0m-17.6 21.8h0m2-1.7h0m-4.5-7.6h0m7.5 4.1h0m-7.7 7.3h0m10.4-13.1h0m-4.1-5h0m-5.6 21.4h0m-.7-2.2h0m-3-.4h0m-2.1 5.9h0m7-16.1h0m7.8-9.6h0m-3.5 9.2h0m-5.2 6h0m2.7 1.5h0m4.2-5.2h0m-11.2 18.3h0m5.7-7h0m4.3-12h0m-12.7 10.3h0m4.8-1.7h0m7.4-2.6h0m-4.3-2.2h0m5-2.9h0m-2.8 5.8h0m1.5-10.1h0m-6.5 11.1h0m2.9-14.8h0m2.4 6.1h0m11.5-1.5h0m-2.8-5h0m-10.7 11.4h0m3 1.6h0m.2-12.5h0m5.5 13.1h0m-9.2-.7h0m4.2-3.9h0m-.4-5h0m-6.9 7.5h0m4.8 9.1h0m-7.6-9h0m4-6.7h0m5.4 6.3h0m-8.4 4.6h0m11.9-9.1h0m-13.9 21.1h0m-.4-9.8h0m7.7-13.9h0m-4 20.9h0m-4.1 1.2h0m15.3-21.5h0m-5 7h0m-3.6-1.6h0m.2 2.4h0m8-10.6h0m-5.9 13.7h0m-4.6-4.6h0m.8 5.6h0m-4.7 10.7h0m7.9-21.8h0m-4.5 15.8h0m-1.7 2.1h0m2.9-4.5h0m13.3-24.4h0m-18.2 17.6h0m-3.2 12.5h0m11.9-19.7h0m5 4h0m.3 .9h0m-5 1.7h0m.4 4.3h0m-2.1-9.2h0m-1.4 1.2h0m-1 5.1h0m6.9 2.3h0m-6.2-5.5h0m2.7 1.1h0m-.9 4.5h0m-.2-7.2h0m-1.4 7.6h0m-5 5.7h0m11.2-8.9h0m.7-4.5h0m3.5-.6h0m-4.1 2.4h0m-.7-2h0m-3.3 1.7h0m2.6 5.7h0m-6.1-4.5h0m10.3-5.7h0m-14.3 16.8h0m5.7-10.2h0m9.9-6.8h0m-17.6 17.6h0m11.4-12h0m3.3-.1h0m-2.9 5.9h0m-3.9-5.9h0m-9.5 10.6h0m10.4-10.7h0m-5.1 7.7h0m9.8-8.9h0m-.9-2.5h0m-4.1 8.9h0m-7.7 8.4h0m8.5-16.3h0m-3.1-2.3h0m8 1.7h0m-8.1 1.1h0m6.6-1.4h0m-11.7 14.9h0m15-17.9h0m-13.6 13.9h0m7.2-6.7h0m3.2 0h0m-4.6-2.8h0m3.9-5.3h0m4.1-3.8h0m-12 26.4h0m10.8-27.4h0m-8.9 20.6h0m-1.4 2.5h0m13.2-17.9h0m-9.9 12.5h0m5.1-5.2h0m-5.1 1.4h0m-.9 2h0m1.2 3.1h0m3.4-16.3h0m-1 2.9h0m.9 8.5h0m-13.8 8.2h0m12.4-12.2h0m1.7-3.4h0m-2.9 5.6h0m-4.5 1.7h0m13.4-9h0m-7.4 14.3h0m-3-5.8h0m1.8 5.4h0m-4.9 3.9h0m17.7-23.9h0m-10.9 18.1h0m-10.3 3.2h0m14.8-6.3h0m6.3-13.6h0m-10.4 10.1h0m-12.6 14.9h0m14.4-13.2h0m-.6-9.8h0m-9.9 11.6h0m-1.4 8.2h0m7.2-6.6h0m6.4-10.3h0m6.1 4.3h0m-17.6 .4h0m2.9 1.5h0m4.3-9.2h0m-3.6 11.1h0m1.4-5.4h0m5.5-.9h0m-7.2 14.4h0m15.1-18.1h0m-15.9 15.7h0m3-8.6h0m-5.1 7.4h0m2.2 3.1h0m-2.2-4.8h0m10.7-4.2h0m3.3 9.6h0m3.5-26.3h0m-16.8 27.9h0m9.8-13.4h0m-.4 .3h0m-6.5 5.9h0m4.9-4.8h0m1.7 1h0m-8.6 6.9h0m9.2-15.5h0m-11.6 17.1h0m13-15.6h0m-1.3-2.7h0m-10.7 17.3h0m4.7-3.2h0m-.1 5.9h0m-6-9.5h0m5.8 11.8h0m1.1-12.1h0m1.6 4.3h0m-.7-.8h0m4.6-4.8h0m-9.9 7.9h0m4.1 4h0m7.2-14.7h0m-6.4-4.2h0m-9.6 16.2h0m12.4-12.5h0m1.1 2.5h0m1.4 3.8h0m-15.7 11.7h0m5.7-14.1h0m3.3-1.3h0m-9.8 14h0m18.8-7.1h0m-10.3-2h0m-9 14.5h0m13.6-16.7h0m-3.4-3.4h0m6.6-1.4h0m-8.4 7.3h0m-5.4 11h0m10.2-15.4h0m-3.8 8.8h0m-4.8 5.9h0m-.3 2.6h0m.7-15.5h0m8.7 .7h0m-7.3 10.3h0m3.5-19.9h0m2.5 3.3h0m-8.5 5.5h0m5.6-1.9h0m4.8 5.4h0m-.5-8.6h0m-3.6 5.3h0m-.9 5.3h0m-5.1-3.7h0m4 1.1h0m3.6-9.5h0m4.5 3.4h0m-4 2.9h0m-3.7 7.1h0m-1.1 4.6h0m12.3-16.2h0m-6.4 2.1h0m-7.6 1.7h0m.9 11.5h0m6.9-16.3h0m-1.5 3.6h0m-1.2 7.6h0m-6.9 6.5h0m6.7-15.5h0m-7.2 11.8h0m3.5-4.4h0m-1.7 6.9h0m0-11h0m17.2-17.5h0m-10.3 24.3h0m3.6-8.8h0m-1.3-.2h0m-9.7 11.2h0m8-6.4h0m3.8-1.7h0m-8.8-2.4h0m5.4 3.3h0m2.8-5h0m-7.7-1h0m-3.7 13.3h0m7.3-14.4h0m-4.2 4.8h0m-.2 2.6h0m9.9-7.7h0m-17.1 16.2h0m10.3-14h0m2.2 11.3h0m-.7-2.5h0m1-9.7h0m-4.6 1h0m4.8 1h0m1.4-.5h0m-5.1 5.1h0m11.8-6.6h0m-14.9 5.3h0m7.4 2.6h0m-3-4.6h0m6.4-6.8h0m-11.3 9h0m3.5-.2h0m5.8 1.2h0m-3.6-4.3h0m-4.4 6h0m-2.2 3.2h0m2.9-2.7h0m8.6-13.8h0m-4.1-.1h0m2.9 3.6h0m-2.8 8h0m1.8-4.5h0m-11.8 5.4h0m14.1-10.9h0m-3.6 6.7h0m-3.8 3.2h0m3.9-5h0m-5.6 2.5h0m-.5 10.5h0m3.2-6.1h0m4.9 1.9h0m5.6-16.4h0m-10.1 7.1h0m5.4 2h0m-7.1 9.6h0m-9.8 11.5h0m14.4-19.7h0m-13.3 9.1h0m13.6-14.2h0m4.2-2.2h0m-2.3 2.8h0m3.6 1.2h0m-8.1-1.9h0m-.5-7.2h0m.9 16.5h0m-4.7 8.4h0m-.9-11.6h0m4 9.1h0m-10.2 .7h0m14.1-12.8h0m-1-1.7h0m5.6 2.1h0m-7.6 8.5h0m-3.4-6.3h0m3.7-.2h0m-2.2 2.2h0m2.6 2.9h0m6.7-13.1h0m-.5 .3h0m-1.6-3h0m-8.4 13.5h0m4.7-.4h0m6.5-9.1h0m-10.4 7.1h0m5.6 2.6h0m-6.1 3.8h0m8.8-13.4h0m-2.4-2.1h0m-3.6-7.6h0m-5 17.5h0m9.3-1.6h0m-5.2-.3h0m-.2 6.4h0m2.9-3.3h0m-3.9 5.6h0m3.6-3.2h0m-2.8-11.2h0m2.4 8.6h0m5-11.9h0m3.3 5.6h0m-7.2-6.5h0m-2.7 6.9h0m8-9.1h0m3.4 9.9h0m-14.5-.4h0m6.3-1.4h0m-2.1 5.9h0m9-21.1h0m-16.5 19.1h0m-2.9 16.7h0m12.1-20.8h0m-6.7 7.3h0m-2.4-2h0m1.4 1.2h0m3.8 4.5h0m4.7-7.8h0m-.1-5.5h0m-11 3.3h0m10-4.3h0m-6.4 17.4h0m2.6-7.9h0m3.6-2.4h0m-5.2 8.2h0m8.2-6h0m5.1-14.4h0m-9.5 18.4h0m5.2-8.2h0m.3-5.9h0m-4.8 15h0m.9-14.9h0m6.4 7.6h0m-15.2 9.1h0m5.8-9.5h0m2.3 3.6h0m-3.2 4.4h0m-5.8-4.1h0m5.9 1.3h0m-3-.3h0m-1.5 8.3h0m12.9-12.3h0m6-7.4h0m-10.5 12.6h0m-9.7 7.6h0m13.4-13.4h0m-7.3 7.4h0m1-10.6h0m2.2 7.9h0m-5.4 .4h0m.3 3.8h0m5.2-5.8h0m-10.3 14.3h0m6.7-14.7h0m-1.1 3h0m-.3-5.4h0m7.8-1.4h0m-6.3 14.3h0m3.8-13.4h0m-3.5 6.8h0m4.6-5.3h0m2.2-5.8h0m-4.3 6.3h0m-1.3 1.8h0m-1.7-.2h0m-6.8 13.7h0m13.4-14.4h0m-5.9 8.7h0m9.5-23.9h0m5.2 .5h0m-15.5 23h0m-4.3-4.9h0m8.6-7.8h0m-4.1 13.9h0m1-14.3h0m-4.4 7.8h0m-3.2 .2h0m5.6-6.4h0m6.1 4.2h0m4.4-16h0m-8.3 16.7h0m5.4-.5h0m-7.9 3.2h0m-2 2.6h0m5.9-12.4h0m7.6-9.7h0m-3.1 7.3h0m-12.3 14.7h0m15.9-18.1h0m-20 11.1h0m24.3-16.2h0m-16.6 11.3h0m15.3-4.6h0m-21.7 21.1h0m11.9-23.1h0m-3.6 3.6h0m1.2 .9h0m2.5 12.4h0m-1.2-9.7h0m-3.2-1.8h0m.2 17.6h0m3.5-9.1h0m4.3-10.8h0m-3.8 9.8h0m5.7-7.8h0m-2.9-1.5h0m-9.8 11.2h0m.1-1.6h0m-4.5 6.8h0m4.5-1.8h0m6.3-6.4h0m-5.1 7.7h0m3.2-11.9h0m-3.6 7.6h0m3.1-2.5h0m4.8-10.5h0m-15.6 24.7h0m19.4-25.6h0m-7 7.4h0m-1.6 .9h0m-4.1 7.3h0m3.8-10.5h0m-3.9 4.7h0m-1 6.4h0m3.3 .1h0m1.8-4.8h0m-.8 .8h0m-7.3 8.7h0m8.4-8.2h0m-.9-5.7h0m-5.4 4.1h0m3.8 7.4h0m8.5-22.3h0m-2.9 15.4h0m-10.4-2.5h0m5.6-.2h0m11.4-16.1h0m-5.6 14h0m-4.7 10.7h0m-.8-7.6h0m.2 .3h0m13.1-12.1h0m-10.7 9h0m10-9.4h0m-10.5 10h0m-.4 8.7h0m3.3-8.6h0m-12.3 9.2h0m12.1 2.6h0m-11.3 2.9h0m15.5-21.8h0m-11.2 16.2h0m3.9-6.1h0m-.2-2.1h0m4.6-.3h0m5.2-18.1h0m.1 9.1h0m-8.3 10.2h0m0 .6h0m-.4-7.9h0m-7 22.1h0m11.7-22.7h0m.7 3.4h0m1.4-3.3h0m4.4-8.6h0m-11.8 9.4h0m5.2-6.1h0m-4.9 12.3h0m13-19.8h0m-12.5 22.4h0m4.4-14.6h0m-14.6 22.8h0m10.9-9.6h0m.3-8.9h0m-7.9 18.9h0m-4.4 3.3h0m13.7-15.6h0m-4.4 2.6h0m6.8-6.4h0m-5.7-4.1h0m2.2 8.1h0m-.8-1.5h0m1.1 2.1h0m6.7-4.8h0m-7.9 12.4h0m-2-1.4h0m1.9-7.9h0m3-1.1h0m-4.5 2.9h0m4-4.4h0m4.6-11.5h0m-.4 2.8h0m-13 19.2h0m12.3-20.8h0m-8.6 15.8h0m13.2 2.1h0m-2.4-8.5h0m-7.7 .7h0m1-3.2h0m-3.9 4h0m5.4 5.8h0m-8.1 14.2h0m10-28h0m-11.1 21.2h0m7.3-16.4h0m-3 13.3h0m7-16.5h0m-3.6 13.8h0m-4.5 .2h0m8.7-12.4h0m-13.5 18.7h0m8.3-6.1h0m.9 1.1h0m-9-6.4h0m.9-3.3h0m12.7 3.4h0m-3.9-8.2h0m3.2 .3h0m-10.4 17.8h0m-8.7 9.9h0m16.3-26.5h0m6.3-2.7h0m-6.8 8.8h0m-10.2 14.7h0m8.5-21.8h0m-1.6 11.1h0m-4.2-1.1h0m9.2-6.5h0m-3.2 4.8h0m-3.3 5.6h0m8.9-19.6h0m-9.8 21.3h0m14.2-16.9h0m-4.6 .4h0m-6.8 2.7h0m-5.5 16.6h0m11.4-14.2h0m-2.6 6h0m-7.5-3.7h0m-2.3 5.4h0m.8-2h0m8.5-7.3h0m7.7-1.8h0m-11.9 8.8h0" stroke="#000" stroke-opacity="0.3" stroke-width="0.75" stroke-linecap="round" fill="none"/>
<path d="M219.5 575.6h0m-1.3-.9h0m-3.2 4.8h0m3.3-4.9h0m-4.7 6.9h0m3.9-3.7h0m-1.1-1.9h0m.7-3h0m5.1 .8h0m-7.4 13.1h0m5-8.1h0m-5.6-3.2h0m5.2 3.2h0m-4.7 3.7h0m4.2-7.8h0m2 4.9h0m.8-.7h0m-.9 2h0m-6.4-.3h0m1.6 3.5h0m.8-5.4h0m.7-2h0m5.8 1.6h0m-6.3 1.3h0m.5 1.6h0m1.7-4h0m3.1 4.4h0m-2.8-2.9h0m-2.6 1.5h0m-1-2.5h0m.5-1.3h0m1.8-3.1h0m.3 8.4h0m-2.5-2h0m.5 1.2h0m1.6-5.4h0m1.1 4.8h0m-1.1-2.6h0m4.8 .1h0m-7.2-1.2h0m7.3 .9h0m-8.9 1.3h0m5.1-2.5h0m.4 1.3h0m-3.7-1.9h0m2 4.2h0m-.2-4.3h0m1.1-.4h0m.4 1.1h0m-.9 9h0m2.1-9.9h0m4.6 .9h0m-10.3 5.5h0m8.8-1.5h0m-2-3.3h0m-4.1 .1h0m2.5-4.6h0m-.3 8h0m-1.4-5.1h0m1.4 2.8h0m-1.5-1.4h0m1 2.3h0m-2.8 .1h0m3.4-1.8h0m-3.8 1.2h0m3.8-.6h0m-3.4 4.8h0m3.8-.7h0m.9-6.8h0m.4 3.9h0m-2.4 .7h0m-.4-1.2h0m3.9-2.7h0m-4.3-2h0m1.9 2h0m-1.1 3.2h0m-2.2 .1h0m1.4-1.9h0m1.2-.5h0m-.3 .3h0" stroke="#000" stroke-opacity="0.14" stroke-width="0.75" stroke-linecap="round" fill="none"/>
<path d="M198.4 584.0 L197.8 579.0 L200.4 575.5 L204.5 573.5 L208.8 572.3 L212.0 574.0 L213.0 580.0 L212.3 586.2 L208.5 588.0 L205.6 587.0 L205.3 584.2 L201.0 583.6Z" fill="#000" stroke="#000" stroke-width="0.8" stroke-linejoin="round"/>
<rect x="195.00" y="536.00" width="56.60" height="56.50" fill="none" stroke="#b9b9b9" stroke-width="1"/>
<text x="195.70" y="543.30" font-size="5.9" fill="#2a2a2a" stroke="#2a2a2a" stroke-width="0.12">5.56</text>
<text x="246.70" y="543.30" font-size="5.9" fill="#2a2a2a" text-anchor="end" stroke="#2a2a2a" stroke-width="0.12">1.20</text>
<text x="195.70" y="588.40" font-size="5.9" fill="#2a2a2a" stroke="#2a2a2a" stroke-width="0.12">92.7</text>
<text x="246.70" y="588.40" font-size="5.9" fill="#2a2a2a" text-anchor="end" stroke="#2a2a2a" stroke-width="0.12">0.55</text>
<line x1="356.20" y1="475.80" x2="356.20" y2="532.30" stroke="#6e6e6e" stroke-width="0.9"/>
<line x1="336.00" y1="512.20" x2="392.60" y2="512.20" stroke="#6e6e6e" stroke-width="0.9"/>
<path d="M348.8 514.3h0m-.6 1.8h0m-.2-1.6h0m4.5 4.5h0m1.4-.8h0m-4.1-1.6h0m3.4-4h0m-5-1h0m1.9 3.9h0m4.4 6.7h0m-2.8-7.5h0m-3.1 5.4h0m-3.9-9.3h0m8.7 5.1h0m-.3 5.5h0m-4.5-2.5h0m8.3-1h0m-4.6-3h0m-4.4-6.2h0m-.7 7.6h0m2.3-1.1h0m-1.2 .9h0m5.2 3h0m-4.6-6h0m3.3 5.7h0m-4.8-1.4h0m6.2-1.5h0m-6 4.2h0m7.1 4.4h0m-2.1-7.1h0m-4 0h0m1.2-2.7h0m-3.8-.8h0m3.4 9.8h0m3.2-4.7h0m-2.8 .4h0m.1-3.8h0m2.4-2.2h0m-.6 2.2h0m6.5 3.1h0m1.1 2.3h0m-6.9-11h0m-2.3 9.8h0m2.1-.6h0m-4.9-.9h0m2.5-4.8h0m-2.8-5.7h0m4.4 10h0m-1.5-.3h0m4.2 2.3h0m-3.2-2.5h0m4.6 1.1h0m-5.6-2.1h0m1.4 5.9h0m1.8-4.2h0m-1.2-2.6h0m-2.8 .5h0m1.8-2.5h0m.9 3.9h0m3.3 2.4h0m-1.8-4.2h0m-1.5 1.2h0m2.3-1.6h0m-2.1 2.4h0m-6.3-2.9h0m5.6-.4h0m-3.1 1h0m5.6 3.8h0m4.6-8.6h0m-1.8 8.4h0m-2.6-5.8h0m-8.4 .2h0m4 1.1h0m5.5 2.1h0m-.1-9.7h0m-5.6 9.5h0m-1.4-.1h0m1.2-2.2h0m-1 5.1h0m4.6-5.3h0m-.5 3.1h0m-2.5 2.6h0m-3.8-.1h0m7.1 .3h0m1.1-4.1h0m-2 .4h0m1 3.5h0m2.8-3.9h0m-4.6-4.9h0m0 6.6h0m-2.1 5.7h0m2.9-3.4h0m2.2-4.8h0m-.9 4.8h0m1.2-1.8h0m-3.3 1.1h0m-1.8-.8h0m1-1.8h0m-1.9-7h0m3.8 6.5h0m-3.4 .3h0m.3 3.7h0m2.4-5.4h0m-1.5 3.2h0m-2.8-8.8h0m5.6 12.3h0m-3.3-5.5h0m-.1-1.9h0m-3.7 7.2h0m6.7-1.9h0m-2.5 1.7h0m.1-5.1h0m.4-5.5h0m-4.4 3.5h0m3.4 1.3h0m0-4.7h0m2.9 6.5h0m.7-1.2h0m-3-3.5h0m.8 10.5h0m-.4-4.8h0m-2.7-7h0m8.8 8.7h0m-4.4-13h0m1.9 19.8h0m.6-12.1h0m-2.8 1.6h0m1.8-1.2h0m-5.8 9.6h0m2.8-11.2h0m1.7 7.7h0m-1-7.7h0m1.8 1.7h0m-1-1.9h0m.4-2h0m-1.5 6.1h0m-1.4-4.8h0m-.2 .2h0m-1.5 4.4h0m1.1 2.4h0m3.4-2.6h0m-2.6-7.2h0m-.8 4.1h0m.7 2.3h0m1.2 8.7h0m.7-11.7h0m4.8 2.4h0m-7.5 1.7h0m3.7 1.5h0m-.3-2.7h0m.1 1h0m-3 .6h0m.1 1h0m.1 2.7h0m1.1-.3h0m1.1-3.4h0m.6-2.6h0m-6.3-6.6h0m1.5 6.6h0m3.8 7.8h0m-2.4-6.6h0m.8-.2h0m-5.3 3h0m1.3 .1h0m3.3-.8h0m-1.3-1h0m1.5 3.4h0m4.2 1.5h0m-1.6 1.1h0m1.1-7.6h0m-1.9-.9h0m-1.7-1.2h0m-.7 4.8h0m2.8 1.9h0m-1.3-6.3h0m-3-3.6h0m3.8 4.6h0m2.1-2.4h0m-2.7 4.3h0m3.6 2.3h0m-3.6-1.5h0m-2.3-1.9h0m4.2 .2h0m-1.3-1.3h0m-.4 1.2h0m-1.2-1.2h0m.8 5.9h0m3.2-1.9h0m-2.2-2.1h0m.5-.8h0m.2-3.6h0m-3.5 5.2h0m5.8 2.1h0m-7.3-6.5h0m4-4.3h0m-2.4 4.6h0m2.2 5.3h0m-1.9-2.5h0m5.1-4.6h0m-1.1 7.1h0m-.6-3h0m-1.9 4.2h0m3.8-1.1h0m-5.2-3h0m5.4-.2h0m-4.1 1.3h0m4.1 5h0m-3.7-1.4h0m2.1-10.9h0m-3.2 9.6h0m2.7-4.9h0m-2.9 6.9h0m3-.3h0m-2.5-6.5h0m-.4-1.9h0m.9 5.4h0m-4.1-4.6h0m1.9 2.3h0m1.6 5.3h0m-2.4-6.4h0m3.9-2.3h0m.9 8.8h0m-6.8-6.3h0m9.3 5.3h0m-7.6 .9h0m3-9h0m5.5 8.3h0m-6 .1h0m4.2 2.9h0m-7.8-6.4h0m9.9-4.4h0m-5.9 8.3h0m1.1-2.4h0m-6.7-7.8h0m2.4 1.4h0m-.7-.3h0m5.1 7.5h0m.8-3.1h0m1.4 1h0m-5.4-4.3h0m4.7-.1h0m-2.9 2.2h0m.2-.4h0m1.5-2.4h0m-1.4 5h0m3.4-1.5h0m-6.2 5.8h0m2.4-3.5h0m6.4-.7h0m-6.1 1h0m.4-3.4h0m-2.7 3.3h0m3.2-1.5h0m-1.1 3.1h0m4.4-.9h0m-6.9-1.3h0m2.8 5.6h0m3.5-2.2h0m-4.7-10h0m3 7.8h0m3-1.9h0m-1.7-2h0m-4.7 5.9h0m2.2 1h0m.4-5.4h0m-3.7 .7h0m5.3 4.9h0m-2.3-3.5h0m-3.2-4.1h0m5.6-3.9h0m-5.1 5h0m-2.5-8.4h0m4.9 5.1h0m3.1 3h0m.1 6.1h0m-3.7-9.5h0m-3.6 4.3h0m4.6 1.4h0m-1.2 3.5h0m-1.3-5.2h0m4 5.1h0m-2.9 .3h0m5.4-4.5h0m-4.4 1.9h0m-5.5-3.9h0m3 3.6h0m4.1 .1h0m2.5 .4h0m-4.1-.5h0m2.9 6.1h0m-3.6-8.1h0m3.3-.1h0m-4.5-2.6h0m2.1 2.5h0m2.6 7h0m-1.6-9.9h0m-1.6 6.3h0m.3 .9h0m-5.7-2.8h0m6 5.5h0m-.1-.9h0m-4.8-14h0m6.1 10.7h0m-1.7-5.5h0m4.5 7.3h0m-5.2-6.4h0m3.6 1.5h0m-4.1 .8h0m.3-1.5h0m2.9 2.6h0m-3.4-.6h0m6-2.8h0m-7.9 .7h0m1.5 2.9h0m2.8-1.1h0m2 4.1h0m-5.4-8h0m5.9 5.7h0m-3.5-4.4h0m6.4 1h0m-4.3 3h0m2.4-1h0m-6.8 1h0m6.3 1.8h0m-3.4-1.2h0m-.7 2h0m.2-7.4h0m1.3 3.2h0m-2.4-4.6h0m.9 10.1h0m4-1.8h0m.9 1.6h0m-7.8-6.2h0m2.8 1.1h0m1.8-.7h0m-.5 4.4h0m1.8-1.7h0m-3.9-4h0m2.9-3.1h0m-4.2 2h0m8.6-2.9h0m-7.3 2.3h0m1.7 .3h0m-.2 8.5h0m2.8-.7h0m-1.3-.5h0m-.2-9.5h0m-3.5 6.8h0m2.7-3.2h0m2.8 5.7h0m-3.9-6.7h0m3.1 .4h0m-3.3 4.2h0m6.1-8.5h0m-7.4 8.4h0m-.9-1h0m.3 5h0m-2.9-5.9h0m6.7 6.8h0m1.7-8h0m-3.7-2.8h0m1.2 4.1h0m-1.5-5.4h0m2 1.1h0m2.7 4.3h0m-3.8-.9h0m-.2-2.4h0m-2.8 5.1h0m7 4.8h0m-4.6-3.9h0m3.6-2.9h0m-2.7-6.4h0m-.7 11.3h0m1.5 .6h0m3.3-2.5h0m-.7-.1h0m-2.8-.3h0m-1.9-1.9h0m-.1-8.7h0m-1 3.5h0m-.3 6.8h0m4.6 .6h0m0 .9h0m-2.2-5.2h0m-.5 3.5h0m3.6-2.5h0m-5.8-1.5h0m3 6h0m-.6-2.9h0m2 4.3h0m-5.1-11.1h0m4.9 4.2h0m-1.3 2.8h0m-.5-4.4h0m3.4 1.1h0m-4.8 3h0m-2.2 2.7h0m2.5 .2h0m1.1 1.8h0m-.5-3.1h0m-1.4-2.8h0m-.7 1h0m-2-4.2h0m5.3 6.3h0m4.3 1.6h0m-9.9 1.3h0m4.8-8.6h0m3 6.7h0m-.8-2.4h0m1.5 4.3h0m-5.7-5.6h0m2.9 1.2h0m-1.6 1.4h0m-.7-4h0m-1.5 2.4h0m4.8 4.5h0m.7-1.5h0m1.4-7.9h0m-3.6 2.2h0" stroke="#000" stroke-opacity="0.3" stroke-width="0.75" stroke-linecap="round" fill="none"/>
<path d="M348.1 520.2h0m7.5-12.7h0m-5.3-9.8h0m-3.7 .4h0m.5 1h0m5.1 13.1h0m-1.1-20.8h0m2.9 6.9h0m-.5 7h0m-3.2-1.6h0m-.4-1.2h0m-2.2 7.1h0m-1-3.2h0m1.2-2.5h0m-1.2-4.2h0m8.3 23.2h0m-7.5-21.7h0m11.2 12.6h0m-11.3 1.7h0m2.2-2.9h0m-3.7-17h0m2.2 7h0m1.9-1h0m1.4 13.1h0m-2 7h0m4.1-4.6h0m-5.7-10.6h0m-3.1-10.5h0m2.1 7.1h0m3.1 2.9h0m-.8-7.4h0m3-5.8h0m-2.7 13.6h0m.8 6.3h0m0 6.3h0m4.5-11.5h0m-.3 .7h0m-6.6-2.9h0m2.4 15h0m-3.4-15.2h0m3.7-2.2h0m-5-.7h0m.8 4.8h0m3.2-2.8h0m1.5-4.3h0m-4.7-.6h0m1.5 9.3h0m3.2-6.9h0m-.3 6.8h0m-4.7-5.9h0m7 11.8h0m-6.2-3.7h0m4-6.3h0m2.4 10.3h0m-1-10.1h0m-6.2 3.3h0m3.1-3.5h0m1.4 5.6h0m-4.3-16.5h0m4.7 9.1h0m-1.8 1.8h0m-.7-6.5h0m.8 7.6h0m3 12.2h0m-.9-18.1h0m-1.3 13.7h0m0-4.4h0m.9 2.2h0m-7-7.7h0m4.4-2.2h0m2.4 5.8h0m-6.5-8.9h0m1.7 7.6h0m2.9-5.9h0m.2 8.9h0m6.7-.9h0m-5.7-1.4h0m-1.1 7.4h0m0-8.3h0m1.5 0h0m-4 1.6h0m5.4-3.4h0m-1.8 2.8h0m-2.1 9.1h0m1.9-14.5h0m5.4-5.3h0m-4 17h0m-2.6-13.7h0m-.2 8.8h0m-4.2-10h0m10.6 1h0m-3.9 10.1h0m-1.7-5.4h0m-1 5.8h0m3.3-3.3h0m-3.8 4.4h0m1.2 2h0m-.9-11.2h0m2-.1h0m-3.2 4.2h0m4.3 6.4h0m-1.8 5.8h0m-1.5-15h0m-4.4 .6h0m6.7-1.7h0m.7 14h0m-1.3-20.7h0m-6.2 5.2h0m9.9 12h0m-5.9-5.5h0m-.9-2.4h0m5.6-4.2h0m-3.9-1.9h0m.6-8.1h0m-1.3 16.3h0m5 4.5h0m-3.2-5.5h0m-3.4-6.2h0m2.8 7h0m4.6 1.9h0m-5.2-1.7h0m-.5-10.1h0m6.3 25.5h0m-8.8-27.7h0m7 5.9h0m1.7 17.9h0m-5.8-12h0m.1 2.8h0m4.5 2.7h0m-5.5-9.6h0m2 9.6h0m.9-6.7h0m7.1 17.1h0m-11.6-18.2h0m3.1 3h0m1 2.8h0m0 2.5h0m.1 3.8h0m-.3-9.7h0m5.4-6.5h0m-4.9 10.7h0m.3-.9h0m1 3.7h0m-5.9-.4h0m2.5 4.1h0m1.3-4h0m-4.2-7.2h0m4.9-20.1h0m.4 18.8h0m-.7 4.1h0m-.4-1.7h0m.6 2.3h0m.9-4.8h0m-2.7 2.6h0m2.6 1.6h0m1.7-2.6h0m-4.9-9.5h0m-1.1 1.1h0m4 19.4h0m1.3-12.7h0m-2.9 6.7h0m6.6-4.4h0m-5.1-3h0m.3 9.2h0m.6 1.5h0m2.4-3.8h0m-.6-5.7h0m-1.6 10.9h0m-5-17.4h0m9 8.5h0m-6.6 .1h0m2 6.6h0m3.5-16.7h0m1.7 27.9h0m-2.3-16h0m-.3-6.5h0m-2 1.7h0m3.7 5.8h0m-8.2-3.1h0m2.4-10.3h0m0 10.1h0m-.8-3.5h0m.6 11.1h0m2-6.6h0m-1-9.9h0m4.9 16h0m-6.3-5.5h0m-2.6-3.5h0m3.7 2.8h0m1.1-6.7h0m-1 2.1h0m-6.2-5.1h0m9.2 1.8h0m-7.1 4.1h0m6 7.7h0m-7.1-.8h0m8.2-2h0m-.7-5.8h0m-1.1 15.7h0m-4.8-22.4h0m7 7.6h0m-5.1-5.9h0m5.3 13.2h0m-5-3.1h0m1.8-.6h0m1.3-2.5h0m-1.8 2.7h0m-1.8-1.4h0m-.2 6.4h0m2.3-7.6h0m-1.7-7.3h0m-5.2-2.9h0m11.9 17.4h0m-8.1-8.5h0m0-1.2h0m1.1 8.4h0m2.4-2.9h0m-1.5 4.4h0m6.1 2.7h0m-4.1-24.2h0m1.4 23.7h0m-2.4-12.8h0m-1.9 1.8h0m3.2-.5h0m-3.3-6.3h0m3.3 10.9h0m-2.1-1.5h0m2 2.4h0m-4.3-7.9h0m2.7 9h0m2.5-1.5h0m-2.5 4.5h0m-1.2-6.5h0m3.5 2.5h0m-1.8 8.2h0m-2.9-10.3h0m.3-4.3h0m.8 5.8h0m4.6-2.7h0m.3 6.9h0m-1.5-5.7h0m-2.1-5.1h0m1.2 2.9h0m-3-5.7h0m1 10.2h0m4.9 .2h0m-3.6 3.1h0m-1-1.4h0m1.6 2.9h0m-3.6-15.9h0m5.7 .3h0m-4.4 17.4h0m3.9-10h0m-6.9 3h0m.3 4.4h0m3.8-3h0m-1.5-11.2h0m-.1 .3h0m0 6.6h0m.6 1h0" stroke="#000" stroke-opacity="0.16" stroke-width="0.75" stroke-linecap="round" fill="none"/>
<path d="M360.9 496.5h0m1.2-2.3h0m-1.5 2.6h0m-2.2 .7h0m3.3-4.9h0m3.1 6.2h0m-1.2-4.1h0m.2 4.1h0m-3.8 2.2h0m1.9-2.3h0m1.6-1.6h0m-6.1-4.6h0m3.8 9.4h0m3.8-5.9h0m-10 .7h0m1.4 6.2h0m3.8-1.9h0m-1.9-8h0m-.6 2.7h0m3.3 0h0m-4.1 1.4h0m9.1-2.9h0m-6.2 .8h0m-.4 .8h0m2.4 .6h0m1 .7h0m-4.4 2.5h0m1.6-4.7h0m.6 1h0m-1.4-1.4h0m-.2 5.7h0m-2.9-4.1h0m.4 4.2h0m.8-2.6h0m1-2.8h0m.6 3.7h0m-2.1-2.7h0m.3 1.2h0m9.5-3.2h0m-2.5 3.8h0m-3.2-1.7h0m-2.3-1.8h0m-2 5.2h0m2.4-2.8h0m-2.4-.8h0m7 2.7h0m-4.5-1.6h0m1-2.2h0m.8 4.6h0m3.1-6.3h0m-6.1 3.7h0m2.7-1.3h0m-1.4 2.6h0m-3.7-5.3h0m4.1 2.1h0m1.4 6.3h0m-4.6-2.1h0m-2.4-2.5h0m6.1 .7h0m-.3 1.3h0m-.1-4.4h0m.5 4.4h0m.2 .8h0m-4.8-1.1h0m6-2.3h0m.1-4.4h0m-.5 4.6h0m-.3 1.3h0m-3.5-2.1h0m2.1 5.1h0m.7-5.1h0m-.7 4.4h0m-8-7.9h0m5.9 7.1h0m4.9-3.6h0m.8-3.2h0m-4.1 12.4h0m-1.9-8.5h0m-2.9 1.3h0m9.3 4.6h0m-.5-3h0m2.7-5.1h0m-12.3 3.7h0m9.7-1.4h0m-4 2.9h0m1.5 1h0m2.4-5.4h0m-2.7 7h0m3.5 .2h0m-6.1-2.7h0m5.3 5.5h0m-.4-9h0m-8.3 4.9h0m4.5-4.8h0m2.2 3.3h0m2.5 .3h0m-1.9-2.5h0m3.8 1.5h0m-3.4-3.1h0m.9 1.7h0m-4.8 2.7h0m-2.8-3.3h0m4.5 1.9h0m-8.7 2.2h0m10.3-4.2h0m.3 5.1h0m-.2-4.4h0m1-.4h0m1 2.9h0m.1-2.2h0m-2.6-2.8h0m-3.3 6.2h0m3.1-3.2h0m.6 .7h0m-2.6-3.1h0m.7 7.4h0m-4.4-13.3h0m3.7 10.4h0m-.7-4.3h0m1.8 1h0m-2.5 5.3h0m-.5-2.2h0m1.4-1.7h0m2.2-7.2h0m3 2.6h0m-7.2 4.1h0m1.7-3.8h0m.5 7h0m2.3-1.5h0m-.6-1.2h0" stroke="#000" stroke-opacity="0.13" stroke-width="0.75" stroke-linecap="round" fill="none"/>
<path d="M348.7 519.9h0m3.7-1.5h0m.6-1.4h0m-2.3-.1h0m2.2-.6h0m-1.9 1.2h0m2 4.5h0m-.4-4.6h0m-.7 1.8h0m-.9 1h0m.8-2.3h0m-2.6 .4h0m2.9 3.6h0m-2.7-3.8h0m3.9-.1h0m-1.6 1.7h0m2.1 2.1h0m-.3-2.8h0m-3.3 .7h0m1.7-3.2h0m-3.2 2.2h0m4.2-.3h0m-1.7 1h0m1.2-2.5h0m-1.4 1.6h0m2 3.3h0m-1.5-2.2h0m-.8-2.6h0m-.2 2.9h0m.2-.4h0m1.6-2.9h0m.1 2.4h0m-.8-.7h0m3.5-2.2h0m-.4 5.2h0m-3.6-1.7h0m.9 2.9h0m1.4-2.1h0m-2.5 .7h0m.4-2.1h0m1.9-2.8h0m-1 3.3h0m-1.1-.1h0m5-1.9h0m-4.6 1.5h0m1.7 .6h0m-.1-2.3h0m-2.5 .4h0m.2-1h0m-.6 3.7h0m2.4-1.7h0m-1.5 2.4h0m-.9 .3h0m3.8-.5h0m-2 0h0m.8-.2h0m-2.2-2.4h0m1.7 2.9h0m1.1-2.9h0m-2.1 4.6h0m.7-5.6h0m-.8 .5h0m.5-2.4h0m1.6 2.8h0m-2.2 .8h0m-.6-1.9h0m3 2.8h0m-.7 1.3h0m1.3-3.5h0m-2.1 2.5h0m2.7 1h0m-4.6-2.4h0m2.1 3.4h0m.5-4.8h0m-.6 4h0m.9-1.9h0m-2.3 1.1h0m-1 1.3h0m3.2 2.7h0m.4-5.6h0m-3.8 .4h0m2.4 3.2h0m.7-2.9h0m-.1-2h0m3.2 4.8h0m-5.1-4.5h0m1.6 .1h0m-2.4 .4h0m1.3 .8h0m1.1-.3h0m1.7 .1h0m-1 2h0m-3.3 1.4h0m2.4-4h0m.5 0h0m-.6 0h0m-.7-1.2h0m-1.5 2h0m2.2 .3h0m1.8-3.3h0m-2.8 2h0m-1.1-1.9h0m.1 1h0m2.8 .4h0m-5.3 2.2h0m3.4 2.4h0m3.4-6.2h0m-1 1.1h0m-2.9 .3h0m.1-1.5h0m.2 4.3h0m1.1 2.7h0m-1.6-1.2h0m1.5-2h0m-1.8-1.4h0m.8 0h0m2.7 1.3h0m-1.4-.5h0m-.2 3.4h0m.6-4.8h0" stroke="#000" stroke-opacity="0.4" stroke-width="0.75" stroke-linecap="round" fill="none"/>
<rect x="336.00" y="475.80" width="56.60" height="56.50" fill="none" stroke="#b9b9b9" stroke-width="1"/>
<text x="336.70" y="483.10" font-size="5.9" fill="#2a2a2a" stroke="#2a2a2a" stroke-width="0.12">22.9</text>
<text x="387.70" y="483.10" font-size="5.9" fill="#2a2a2a" text-anchor="end" stroke="#2a2a2a" stroke-width="0.12">9.71</text>
<text x="336.70" y="528.20" font-size="5.9" fill="#2a2a2a" stroke="#2a2a2a" stroke-width="0.12">65.7</text>
<text x="387.70" y="528.20" font-size="5.9" fill="#2a2a2a" text-anchor="end" stroke="#2a2a2a" stroke-width="0.12">1.69</text>
<line x1="416.00" y1="475.80" x2="416.00" y2="532.30" stroke="#6e6e6e" stroke-width="0.9"/>
<line x1="395.90" y1="512.20" x2="452.50" y2="512.20" stroke="#6e6e6e" stroke-width="0.9"/>
<path d="M411.8 509.1h0m9.4-1.3h0m-15.6-7.4h0m17-5.7h0m-8.3 19.6h0m-4.7-9.9h0m8.9-4.2h0m-11.1-8.6h0m.2 13.2h0m4.6-11.4h0m11.4 12.2h0m-16.2-5.1h0m14.3 2.2h0m-10.9-2.5h0m-2.2-3.1h0m2.9 11.1h0m-1.5-12.4h0m10.5 6.8h0m-4.6 1.2h0m-1.3-7.1h0m-10.4 8.7h0m10-9.1h0m1.9 5.6h0m8.8 7h0m-14.1-8h0m-1.8-7h0m13.9 5.7h0m-16.9-5.9h0m7.3 1h0m2.2 5.2h0m4.1 .5h0m-5.6 3.3h0m-1.2-5.9h0m-1.5 .3h0m-3.1 5.9h0m6-4h0m3.7 4.9h0m-9.8 4.5h0m2.2-17h0m3.4 12.7h0m-1.4-5.8h0m2.2 2.2h0m-5.1 2.1h0m4.8 3.3h0m-4 4.7h0m-1.7-9.6h0m6.3-5.8h0m5.6 7.7h0m-4.6-3.4h0m-12.9-4.7h0m11 13.8h0m3-9.4h0m-1.4 7.7h0m-2.3-9.4h0m10.1-1.6h0m-8.3 3.2h0m-10.5-7.3h0m2.9 .4h0m-5.3 8.9h0m5.6-4.7h0m-1.9 7.6h0m.6-12.5h0m13.6 11.2h0m-9.6 1.1h0m.6-6.1h0m-4.2 1.9h0m17.5-5h0m-2.8 10.1h0m-7.2-12.8h0m1.8 11.7h0m7.8 4.8h0m-15.7-14.1h0m9.4 12.1h0m-3.6-10.8h0m.2 .8h0m1.3 5.9h0m-2.3-17.3h0m-2.7 20.1h0m-1.4-.7h0m6.4-8.4h0m-3.1 7.6h0m8.6 .3h0m-4.3-.4h0m-1.8-10.8h0m4.2 5.5h0m-9.4 4.3h0m1.6-4.9h0m1.2-3.6h0m6-1.7h0m1.7 8.1h0m1.1 8.1h0m-15.2-3.4h0m1-1.9h0m5.7-9.3h0m4.7 6.8h0m-5.7-1.5h0m-7.1-6.2h0m9.2-2.3h0m-4.8 11.6h0m7.4 .4h0m-1.5-4.3h0m3.7 4.6h0m-1.1-7.7h0m-2 4.3h0m5.8 10.8h0m-1.3-15.6h0m6.4 2.3h0m-11.1 1.6h0m.9-5.6h0m-5.9 13.7h0m6.7-11.7h0m-8.1 5.2h0m-4.6 2.9h0m-2.8-10.2h0m8.4-9h0m1 12.5h0m-3.8 3.6h0m16.9-6.4h0m-6.2 4.5h0m-5.4 2.8h0m4.9-7.1h0m.3 6.1h0m-7.1 1.9h0m-.4-16.1h0m1.4 4.9h0m2.5 4h0m8.4 1.9h0m-16.9-4.1h0m6.4 8.9h0m2.5-1h0m-7.8-.1h0m4.3 .7h0m-2.4-2.5h0m11.1-6.8h0m-4.8 1.2h0m-4 4h0m6.1 2.3h0m-6.6-4h0m11.3-4.1h0m-14.4 18.2h0m1.1-8.3h0m11.2-6.6h0m-5.1 3.3h0m-5.1 5.9h0m13.9-8.7h0m-8.6 4.8h0m1.6-2.2h0m-9.9 .3h0m10.7 3.1h0m1.7-3.9h0m-9.8-2.8h0m-5.5 6.5h0m9.1-10.6h0m-2.1 11.1h0m-1.7-1.8h0m1.7 4.9h0m-2.9-10.3h0m1.1-3.9h0m5.1 4.1h0m3.3 10.4h0m1.9-15.3h0m4.8 12.4h0m-6.6 .1h0m3.2 3.9h0m-1.3 3.3h0m3.5-6.3h0m-14.9-5.3h0m12.1 3.1h0m-3.3 12.9h0m-.7-3.8h0m-5.9-3.3h0m9.2 2.1h0m-10.1-14.1h0m19.9-3.5h0m-12.9 5.8h0m.8-9.2h0m-4.4 8.2h0m-.5 1.2h0m3.1-3.9h0m-7.3-.2h0m2.6 18.2h0m3.4-8.5h0m1 6h0m-8.1-18.4h0m2 9.5h0m-4.1-7.2h0m2.1-1.2h0m11.4 9.4h0m5.7-15.2h0m-17.1 12h0m1.9 4.7h0m11.2-10.4h0m-3.8 22.5h0m-6.5-6.3h0m2.3-14.3h0m9.1 .9h0m-14.6-1.4h0m9.8 5.6h0m-2.8 3.4h0m6.5-.3h0m4.9-1.2h0m-2.2 5.2h0m-7.1-1.1h0m2.9-.8h0m-8.1-7.7h0m-1.1 7.4h0m2.5 .5h0m9.2-2.5h0m-5.6-3h0m-1.8 2.8h0m-.5-7.9h0m3.7-5h0m-1.9 7.3h0m.1 5.9h0m-.5-.1h0m1.9-4.4h0m-11.5-2.2h0m7.5-.1h0m.6 .9h0m-4.8 7.7h0m7.5-7h0m-8.6 2.6h0m9.1 5.5h0m3.4-9.1h0m-1.6-16.2h0m-8.2 19.5h0m12.6 2.2h0m-16.3-6.2h0m7.3-3.1h0m-3.5 3.8h0m4.9 2.6h0m-5.5 8.6h0m-5.8-6.4h0m7.8-3.6h0m5.8 7.5h0m8.9-10.5h0m-2.8 1.6h0m-10.4 3.3h0m-2.6-.5h0m9.3-4.3h0m-.6 1.4h0m2.6 8.6h0m-1.5-12.7h0m-5.2 12.1h0m10.6-1.1h0m-17.6-6.6h0m6.8 3.4h0m2.5 .6h0m-5.9-4.2h0m-4.2 10.7h0m3.9-11.4h0m1.1-.4h0m2 4.6h0m-.3-6h0m-4.7 15.2h0m2.5-23.9h0m.7 7.4h0m3.3 7.3h0m10.7 7.9h0m-9-12.2h0m-1 8.5h0m2.5-11.5h0m1.6 4.4h0m-15.9-1.6h0m14.4 7h0m-14.5 3.4h0m4.7-7.1h0m2.4 1.8h0m3.6-8.3h0m-5.6 9.2h0m3.2-2.5h0m3.2-8.4h0m1.5 5h0m.9 1.5h0m-1 7.5h0m-1-6.3h0m1.9 3.4h0m-1.3-2.3h0m7.8-6.7h0m-10.1 8.3h0m4.5-8.6h0m6.3 10.6h0m-1.7-5.1h0m-10.6 12.7h0m3.9-10.7h0m2.1 1.2h0m9-4.9h0m-10.5 2h0m3.3-5.2h0m-7.3 8.2h0m-5.9-1h0m19.5 .3h0m-9.3-1.8h0m-8-6.8h0m13.2 9.6h0m-7-1.4h0m-4.9-7.9h0m3 1.5h0m-.3 6.7h0m-4 .4h0m-.5 4.1h0m6-12h0m-4.2 9.9h0m1.6 .4h0m-5-7.1h0m4.1-.6h0m10.2 9h0m-17.2 6.3h0m7.7-20.4h0m12.5 5.6h0m-11.6-.3h0m2.9 5.6h0m2.9-1.4h0m-1.2 6.2h0m3.5-8.6h0m-13.5 1.1h0m1.2-2.6h0m9.2-4h0m-4.6 3.3h0m-7.1 7.4h0m1-4.3h0m20.2-9.3h0m-19.3 11.5h0m-.5 .1h0m11.1-4.6h0m-7.3-5.4h0m4.6 1.2h0m-1.8 12.9h0m-1.2-3.6h0m5.2 1.1h0m-6.1-8.4h0m10.9 .9h0m-4.8 1h0m-9.5 6.1h0m.1 2h0m1 2.2h0m15.3-5.1h0m-12.4-.2h0m.4-2.9h0m2.3 3.9h0m-9.7-4.7h0m11.2-1.8h0m.8 2.6h0m-8.3 7.6h0m.8-10.1h0m-.2 6.3h0m7.9 3.6h0m1.9-7.6h0m-14.5 14.3h0m1.6-8.9h0m-2.9-3.3h0m11.2 1.1h0m-2.7-7.3h0m4.4 .1h0m4.2 10.4h0m-8.5-3.8h0m-.6-3.6h0m-3.5-1h0m3.6 6.6h0m8.4-7.4h0m-7.1-3.2h0m4.2 19.8h0m-.7-5.1h0m1.9-2.8h0m-2.2-5h0m-6.8 6.4h0m10.8-1.3h0m-8.9 .8h0m-6.3-6.8h0m6.3 6.3h0m5.9-10.3h0m-3.4-3.1h0m14.5 8.8h0m-14.3 1.1h0m2.7-5.6h0m-13 8.5h0m7.5-7h0m2 1h0m3.9 8.8h0m-10.7-14.9h0m3.7 3.3h0m-3.3 3.7h0m5.7 10.3h0m-14.2-12.4h0m6.2-.8h0m10.8 11.6h0m3.4-7.6h0m-14.6 1.4h0m8.9 7.3h0m-12.1-14.3h0m1.7 1.3h0m7.5 5.3h0m-.2-9.6h0m4.1 9.6h0m-7-3.7h0m-.1 3.2h0m5.6 4.3h0m5.9-3.4h0m-8.3 7.6h0m7.6-7h0m-5.3 1.1h0m7.5 2.3h0m-9.6-6.9h0m-7.4 1.4h0m20.1-7.3h0m-5 3.7h0m-7.3 8.8h0m-4.8-10.1h0m3.5 12.6h0m7.3-8.9h0m-2.6-1.6h0m-4.4-5.4h0m-1.9 8h0m7.8 4h0m2.3-1h0m-9.1-1.4h0m9.2 1.4h0m-6.4-11.5h0m6 7.6h0m-3.7-10.3h0m1.9 13.2h0m-5.6 5.3h0m4.5-8.8h0m6.9-4.4h0m-10 7.5h0m2.6-2.9h0m3.6 2.9h0m-5.6 2.4h0m1-11.6h0m.8 5.3h0m6 4.5h0m-8.5 2.2h0m1.2-2.8h0m-12.7-.5h0m9.5-.3h0m-5.6 18.2h0m.3-19h0m3.3 .7h0m13.5 11.5h0m-3.4 1.2h0m-4.8-1.1h0m-.1-4.8h0m-10.3-17.6h0m10.2 15.6h0m9.9-6.7h0m-6.6 5.3h0m-.9-1h0m-1.5-13.5h0m-3.9-.3h0m.8 14.6h0m-5.3-12.7h0m4.3 14h0m14.3-8.5h0m-8.4 6.8h0m8.1-.3h0m-11-13h0m13.9 9.9h0m-19.5-6.7h0m7.7-.7h0m-.1 10.1h0m1.9 .8h0m-6.5-2.9h0m-4.6 7.2h0m5.2-7.9h0m3.9-.4h0m-4.5 4.3h0m-8.1-9h0m11.8-1.9h0m-.9-.3h0m-5.1 8.2h0m4.7-1.1h0m-4.6 2.1h0m1.6 2.1h0m2.3-6.5h0m-2.3 4.8h0m-11.9-1.9h0m11.8-.1h0m12.9 6.4h0m-9.6 2.7h0m3.8-17.4h0m4.9 8.5h0m-18 2.9h0m14.1-10.8h0m-12.5 7.3h0m7.1-2.7h0m.3 2.8h0m-1.4-6.7h0m5.2 9.4h0m-2.8 1.2h0m10.5-5.4h0m-10.4 3.5h0m-1 2.8h0m5.6 3.2h0m-8.2-5.8h0m19.6 3.3h0m-6.4-3.9h0m-2.8-5.1h0m-10.2 9.7h0m11.6 7.6h0m-7.6-21.2h0m6.5 10.6h0m-3.8 .7h0m-11.2-6.9h0m8.9 .5h0m2.3-2h0m-3.7 .7h0m5 7h0m-12.6-2.6h0m7.8 6.4h0m2.1-2.8h0m-7.7-.1h0m4.7-14.9h0m-2.7 20.9h0m12.7-19.2h0m-12.7 5.6h0m5.3 8.9h0m-5.6-6.5h0m13.9 10.3h0m-3-5.4h0m-11.3 1.6h0m2-2.8h0m-10.1-3.4h0m-.7-2h0m10.2 12h0m5.9-11.1h0m-2.8-.4h0m3.5 3.8h0m-8.8 3.1h0m8.5 2.1h0m6.6-9.7h0m-7.8 5.7h0m.1 1.7h0m-7.3 5.6h0m1.4-8.1h0m1.5-1.7h0m-.6-5.9h0m-1 4.5h0m4.3 12h0m5.1-20.2h0m.8 10.6h0m-6-1.5h0m1.1 .5h0m4.8-1.2h0m4.7-1.5h0m-8.4 5.7h0m-8 2.6h0m9.7 1.3h0m1-2.6h0m-8.2-1.4h0m.1-11.9h0m7.4 15.9h0m-8.2-12.8h0m-4.7 .6h0m11.2 9.1h0m-.2-4h0m-4.8 7.3h0m-8.7-8.2h0m12.5-3.6h0m-.7-1.4h0m-5.3-.9h0m1.5 2.9h0m2.4 12.7h0m-.8-13.1h0m1.2 1.4h0m-.7-.3h0m3.5-1h0m2.2 6.1h0m-1.3-1.3h0m2.3-8.5h0m-9.4 11.5h0m-5-7.6h0m5.2 11.4h0m12.5-11.2h0m-10.3-10.1h0m4.5 13.2h0m-2.9 .6h0m-1.5 .4h0m11.2 1.4h0m-20.2-13.4h0m10 11.4h0m.3-.7h0m6.7-9.4h0m3.7 11.4h0m-12.5-3.5h0m10.7 2.8h0m-6.4 2.7h0m-2.7-4.8h0m1.2 .2h0m-5.8-1.4h0m0 6.2h0m2.3-4h0m-2.6 11.7h0m6.7-4.2h0m3.4-13.3h0m-.7 6.8h0m1.1 .6h0m-4.6 .6h0m8.8-.2h0m-3.7 7.7h0m-9.4-3.6h0m8.4-7.5h0m-11.8 6.2h0m13.1-11.8h0m-5.6 8.8h0m-.2 3.2h0m-.6-3.4h0m1.8 6.9h0m-1.7-8.2h0m-7.1 1.8h0m6.4 4.5h0m14.2-10h0m-12.8 5.5h0m-2.3 5.4h0m-3.5-8h0m4.5-2.7h0m-4.8 1.1h0m1.3-5.2h0m5.5 7.4h0m-4.6 1h0m-5.5-4.8h0m5.2 6.3h0m8.6-1.9h0m-16.3-1h0m18.6 5.5h0m3.2-7.2h0m-11.9 .7h0m7.3 5h0m-3.8-1.6h0m3.7 6.7h0m-7.4-7.2h0m3.8-.7h0m.7-2.1h0m-5.8 6.6h0m-3.5-2.9h0m4-14h0m-7.3 10.7h0m14.2-.6h0m-6.3 3.8h0m-.5-2.8h0m-12.6 0h0m10.8 3.3h0m4.3-9.8h0m8.2 2.3h0m-10.3 2.5h0m1.1 4.9h0m-5.1 .5h0m11.6-5h0m-1.5 4.2h0m7.1 2.4h0m-3.1-10.3h0m-15.3-4.7h0m9.6 12.9h0m-5-3.1h0m-1.2-1.4h0m-.5-1h0m-5-1.5h0m11.4 4h0m-4.3 7.7h0m1.4-2.1h0m9.8 2.2h0m-3.7 .8h0m-12.5-12h0m6.5 9.9h0m-3.3-3.5h0m5.7-7.4h0m13.1 10.4h0m-13.7 2.3h0m2.5-7.2h0m-6.4 4h0m1.3-5.1h0m10.2 3.1h0m-18.8-2.2h0m15.7-3.2h0m-11.4 3.2h0m2.6 2.4h0m-9.1-5.7h0m16 8.4h0m-2.3 .7h0m-2.1-10.3h0m1.7 5.8h0m-5.1-2.4h0m7.2-2.1h0m-8.3-2.6h0m5.2 6h0m1.4 .9h0m-7.6 2h0m5.7-8.4h0m-.3 1.6h0m2.1-3.1h0m-1.7 9.4h0m-9.6-6.4h0m14.9 8.4h0m-10.6-1.7h0m-2.4 6h0m-2.8-11.2h0m6.4 .7h0m7 6h0m-8.9-2.1h0m-6.8-1.3h0" stroke="#000" stroke-opacity="0.2" stroke-width="0.75" stroke-linecap="round" fill="none"/>
<path d="M420.9 500.7h0m-8.5-1h0m3 .5h0m-2.8 .3h0m3.8-3.4h0m.1-1.2h0m-1.1 .1h0m1.6 5h0m5.7-2.3h0m-4.2-3.3h0m-1.3 2.3h0m2.8 .9h0m-3.6-1.3h0m-1.3-.7h0m3.7 .6h0m4.3-.2h0m-5.1-.8h0m-3.8 5h0m-.3-6h0m-1.7-1.7h0m1.7 4.2h0m4 1.6h0m-3.5-2.9h0m3.3-.1h0m-1.6 2h0m4.9-1.5h0m-5 .2h0m1.5 .2h0m-2.5 6.4h0m2.1-10.7h0m-1.8 6.3h0m-1.6-2.1h0m3.9 .2h0m.4 3.1h0m-4.9-6.1h0m5.4 3.2h0m1.7-1.6h0m-4.8 2.2h0m.4 2h0m-.7-3.3h0m.1-.9h0m3.3 1.8h0m-4.1-.2h0m7.2-1.1h0m-7.3-6.1h0m-1.6 7.4h0m3.2 2.9h0m7-3.3h0m-7.7-2.2h0m3.2 .5h0m-3.2 3.2h0m6-1.6h0m-2.8 .9h0m-2.9-3.3h0m4.6 4.6h0m-3.8-.5h0m1.7-4.3h0m-3.6 5.1h0m.5-3.5h0m-1.5 5h0m3-4.2h0m.8-2.3h0m-2.3 1h0m3.1-1.4h0m-3.8 3.7h0m3.7-4.2h0m.3 4.6h0m-2.1-4.3h0m1.8 3.3h0m-.1-.7h0m1 3.7h0m-4.7 .1h0m8.7 1.1h0m-10.8 .7h0m2.9-3.9h0m4-3.8h0m1.7 3.5h0m-3.4 .7h0m-6.7 .9h0m4.2-1.2h0m1.6-2.3h0m-2.3-1.7h0m1.6 4.1h0m-2.1-2.8h0m.3 2h0m-.1 4.8h0m6.2-4.1h0m-9.5-1.2h0m5.1 1.6h0m2.2-4h0m-3.1-2.6h0m3.6 7.3h0m-2.7-5.9h0m4.1 .1h0m-1.1 5.4h0m-.1-7.1h0m-2.5 7h0m-1.7-2.1h0m3.6 .7h0m-4.8 3.9h0m-1.3-2.3h0m5 .2h0m-.9 1.8h0m-.8 .4h0m1.1-2.2h0m-4-2.8h0m5.9 .6h0m1.9-.3h0m-7.1 1h0m6.3 2.3h0m-5.3-1h0m-1.5 .9h0m1.7 6.6h0m5.1-6h0m-2.2-.1h0m-3.5-.5h0m3.5-1h0m-.1-3.6h0m.8 1.1h0m.6-1h0m-8.8 2.7h0m6.9 3.9h0m-.1-3.3h0m-.7-1.8h0m1.1 1.1h0m-2.2 1.1h0m.7-1.9h0m-3-5.4h0m6.1 5.8h0m-3.5-1.4h0m-.2 1.7h0m1.9-1.5h0m.8-.7h0m-.1 5.4h0m2-8.7h0m-.1 6.9h0m-.9 1h0m-.6-5.4h0m1.5 1h0m-3.1-2h0m1.3 1.9h0m-2-.4h0m5 2h0m-2.7-.9h0m-1.3 3h0m2.1-2.6h0m.7-2.8h0m-1.9 .6h0m-.4 4.1h0m-4-.5h0m.4-.3h0m2.8 4.2h0m1.4-7.5h0m-1.9 2.6h0m2.5-2.7h0m-4.3 2.4h0m5.3-1.2h0m-2.1 3.1h0m-.1-1.5h0m1.4 1.2h0m.1-.3h0m-3.4 .3h0m3 3.4h0m-3.1-5.7h0m-1.3 4.5h0m5.1-2.2h0m-2-.7h0m1.4 .1h0m-2.9-1.6h0m-1.9-1.8h0m.5 .9h0m6.1 4.7h0m-3.9-5.7h0m2.5 7.8h0m-3.5-.8h0m-.6-2.8h0m.3-1.2h0m4.6 1.4h0m-6.7-3.5h0m5.4 4.5h0m-3.6-6.7h0m5.2 2.4h0m-5.2 3.1h0m3.8 4.3h0m-6.3-3.7h0m4.3-1.9h0m-2.3-1.1h0m1.8 1.7h0m.1 .5h0m-3.6-6.4h0m5.2 4.1h0m-2.7 .5h0m5-1.1h0m-3.6 .5h0m4.7-2.1h0m-6 6.3h0m1.6-4.5h0m-8.1 3.7h0m9.1-3.8h0m-1.4 3h0" stroke="#000" stroke-opacity="0.3" stroke-width="0.75" stroke-linecap="round" fill="none"/>
<path d="M414.4 509.6h0m-.5 1.6h0m-3.9 8h0m1.8-14.8h0m-2.2 14.7h0m3.2-12.5h0m1.5 11.5h0m-1.7-10.2h0m.5 3.8h0m-.8 1.8h0m-2.3-8.8h0m4.2 12.7h0m-3.5-7.2h0m-2.1-8.2h0m3.9 22.8h0m-5.1-2.1h0m1.1 4.8h0m.1-9.6h0m4.8 2.4h0m1-10.6h0m1.6 4.8h0m-7.9-14.2h0m3.1 9.4h0m.5 2h0m1.6-6.3h0m-2.1 6.6h0m-.7 2h0m-2.2-8.2h0m3.5-1.9h0m.7 7.7h0m-1.3 9.4h0m1-24.4h0m-2.7 14h0m1.9-1.6h0m1.2 3.4h0m-1.9 2.5h0m1.2 8.7h0m-.7-13.9h0m-6.1 1.2h0m4.8 3.9h0m4.9 3.1h0m-6-2.4h0m3.1-4.8h0m-.4 .4h0m.8 8.1h0m-4.5-13.2h0m-2.1 2.2h0m4.1-4.4h0m.3 13.1h0m3.3-8.6h0m-.6 4.1h0m-2.1-4.4h0m-2.6 8.8h0m3.6-12.5h0m0 15.9h0m1.1-7.3h0m.8-1.4h0m-5.5-8.5h0m4 4.6h0m-8.2 3.5h0m9-3.9h0m-6.7 11.1h0m6.3-.5h0m-2.6-2.6h0m2.2-1.8h0m1-2.1h0m-.8 1.1h0m-4.6 2.2h0m1.4 .2h0m.8 6.3h0m.9-11.5h0m-2.8 1.5h0m3.4-4.6h0m2.5 14.4h0m-3.2 1.2h0m1.5-10.2h0m-.8 1.6h0m1.1 2.8h0m1.4 6.4h0m-3.4-13h0m-6.3 3.6h0m6.6-6.1h0m-1.2 2.2h0m-.5 14.3h0m7.1-9.9h0m-3.7-1.5h0m-1.2 3.3h0m-4.2-4.2h0m3.6-1.2h0m-.6-7.1h0m-2.4-4.9h0m3.1 24h0m.5 4h0m2.6-20.6h0m-4.6 10.9h0m1.3-3.6h0m.6-1.8h0m2.1-10.8h0m-.5 12.7h0m1.1 1.5h0m-1-2.4h0m-1.8-5.2h0m3.1 24.1h0m-7.6-22.5h0m5.4 6.7h0m2.9-10.4h0m-5 3.8h0m.4 7.2h0m0-1.6h0m-3.5 1.6h0m1.4-4.8h0m4 5.4h0m-1.4 1.3h0m1-2.4h0m-2.6-4.5h0m1 1.5h0m2.7-9.9h0m-4.5 6.4h0m-2 12.9h0m2-20.2h0m5.5 9.3h0m-3.8-4.5h0m.4 12.1h0m-.4-3h0m-.2-4.4h0m.8 3.9h0m1.4 9h0m1.2-11.7h0m-3.1-7.9h0m-.9 7.5h0m-.4-1.8h0m-3 7.7h0m6.7-10.8h0m2.9 4.9h0m-8.1 .3h0m1.8 7h0m-1.2-6h0m5.4 6.7h0m-4.3-7.5h0m.9-11h0m.9 5h0m-.4 6.7h0m-3.1-7.8h0m2.9 7.5h0m0-14.3h0m-2.1 5.4h0m2.6 4.3h0m-1.4-.7h0m1 6.1h0m-1 14h0m-.3-25.6h0m3 24h0m-3.8-8.9h0m3.2-2.5h0m-1.7-5h0m4.9 10.3h0m-2-11.9h0m-2.2-2h0m3.6 7.1h0m-5 14.4h0" stroke="#000" stroke-opacity="0.13" stroke-width="0.75" stroke-linecap="round" fill="none"/>
<path d="M425.7 521.6h0m-1.7-1.3h0m5.7-1.2h0m-5.1 2.3h0m-1.2-3.9h0m.1 1.1h0m3.6 .8h0m-.4 .9h0m-1.1-.2h0m1-1.8h0m1.3 1.4h0m-2.8 7.3h0m1.9-5.4h0m-1.1 0h0m.1-6.1h0m.4 3.8h0m-1.8-.1h0m.3-1.1h0m-1.5 1.8h0m2.7-2.7h0m1.3 2.6h0m-1.7-.7h0m.2-.7h0m-1.6 .8h0m-2 2h0m1.2-1.3h0m1.3-.9h0m-.5 1h0m4.2-2.3h0m-1.1-.3h0m-2.8 3.1h0m-.1-2.5h0m-2.7 2.8h0m5.8-3.9h0m-1.9 5.3h0m-3.9-4.2h0m3.8 .5h0m.4 1.1h0m-1.3 1.1h0m.3-3.4h0" stroke="#000" stroke-opacity="0.1" stroke-width="0.75" stroke-linecap="round" fill="none"/>
<rect x="395.90" y="475.80" width="56.60" height="56.50" fill="none" stroke="#b9b9b9" stroke-width="1"/>
<text x="396.60" y="483.10" font-size="5.9" fill="#2a2a2a" stroke="#2a2a2a" stroke-width="0.12">47.9</text>
<text x="447.60" y="483.10" font-size="5.9" fill="#2a2a2a" text-anchor="end" stroke="#2a2a2a" stroke-width="0.12">35.8</text>
<text x="396.60" y="528.20" font-size="5.9" fill="#2a2a2a" stroke="#2a2a2a" stroke-width="0.12">12.0</text>
<text x="447.60" y="528.20" font-size="5.9" fill="#2a2a2a" text-anchor="end" stroke="#2a2a2a" stroke-width="0.12">4.23</text>
<line x1="476.20" y1="475.80" x2="476.20" y2="532.30" stroke="#6e6e6e" stroke-width="0.9"/>
<line x1="455.90" y1="512.20" x2="512.50" y2="512.20" stroke="#6e6e6e" stroke-width="0.9"/>
<path d="M479.7 497.6h0m-.4-2h0m-1.2 2.3h0m1.1 4.9h0m2.6-.1h0m.7-2.4h0m1-.3h0m-1.9 2h0m-2.4-3.4h0m.7-1h0m-1.9 3.6h0m1.3-.6h0m-2.6-2.7h0m2.6 2h0m-.9 2.2h0m1.9-5h0m2.3 4.8h0m2.2 1.3h0m-5.1-.4h0m0-4.1h0m-3.1 4.9h0m.2-5h0m4.5 2.3h0m-2-1.1h0m-.1 .8h0m-4.2-1.2h0m1.4 2.8h0m2.4-2.9h0m4.2 3.1h0m-3.3-4.1h0m-.7 2.9h0m3.5-1.6h0m-1.2 2.2h0m-6.8 .1h0m9-2.3h0m-4.3 2.8h0m6.5 .6h0m-5.6-.1h0m-.6-1.5h0m-.9-1h0m-2.4-1.6h0m3.3 2.7h0m-2.6 1h0m5.3-.9h0m1.9-2.2h0m-5.8 3.5h0m.8-1.2h0m2.5-1.4h0m-.5-4.1h0m-2.3 5.5h0m2.1-2.4h0m1.2-.9h0m-.1 .8h0m-2.2 1.7h0m-6.5-2.5h0m5.9 5h0m-.4-.9h0m-3.9-2.4h0m3.4 .6h0m.6-.9h0m-3.4 1.6h0m3.4-.2h0m1.9-2.6h0m-1.2-3.3h0m-2.2 5.1h0m3.5 .2h0m-1.1-2h0m1.5 2.2h0m-5.7 1.7h0m1.8 .9h0m.5-3.2h0m5.6-1.2h0m-8.3 3h0m-1.7-4.8h0m3.9 .3h0m2.5 3.2h0m-2.4 1.2h0m9.4-4.4h0m-4.6 4.5h0m-1.1-5.8h0m-2.4 3.7h0m.8 .3h0m-1.2 1.1h0m-.3-1.8h0m1.6 2.3h0m.5-2h0m-3.6 .3h0m.1-1.9h0m0 5.9h0m6.5-7.6h0m-6.8 2h0m8 1.5h0m-5.6 4.3h0m2.5 2.5h0m-.2-5.8h0m3.7 5.8h0m-4.4-5.4h0m3.9-1.8h0m-6.1 5.2h0m0-4.9h0m-.9-1.8h0m4.1 3h0m-8.3-5.2h0m6.7 7.5h0m3.2-3.6h0m-4.4-1.4h0m2.5 1.2h0m.8 2.2h0m-1.4-2.4h0m-1 2.4h0m-2-.5h0m1.4-2.1h0m-2.1 1.2h0m2.3 1.3h0m-2.8-.5h0m6.8 .1h0m-3.4-1.1h0m1.4-1h0m-2 0h0m-2.1-1.7h0m.9 4h0m-.1 .4h0m2.8 4h0m-7.3-6.9h0m5.8 7.9h0m2-4.7h0m-.6-6.2h0m.9 .4h0m-1.3 6.2h0m-.9-3.9h0m.6 .7h0m.2 2.5h0m-.6-1.8h0m-.2-2.5h0m-.6 1.8h0m-.5-.7h0m-1.1 1.7h0m-.7 3.5h0m4.5-3.3h0m-3.8 1.5h0m1.9-3.5h0m-1.5 .9h0m2.4 .9h0m.6-2.1h0m-.9 3.1h0m.1 .5h0m-6.4 1.8h0m5.9-3.3h0m2.1 1.6h0m-2-3.3h0m1.3 3.2h0m-1.8 .6h0m-2.6-2.5h0m3.2 2.3h0m1.2 0h0m-.6-8.6h0m-2.6 13.9h0m3-5.4h0m-.3-3.1h0m-1.1 2.5h0m-.8 1.8h0m1.9-5.5h0m2.3-1h0m-4.6 7.2h0m-2.1-2.7h0m4.7-.9h0m-.7-2.4h0m-1.3 4.8h0m3.2-4.1h0m-4.7 3.8h0m5.3-1.1h0m-1.1-.1h0m-2.5 1h0m-.2-2.8h0m.8-2.6h0m.9 2.7h0m4.7-.1h0m-2.9-2.5h0m-1 6.8h0m-2.3-3.1h0m-1.4-4.8h0m3.2 4.5h0m1.1-2.8h0m-2.2 4.3h0m-.1 .7h0m-.7 .5h0m-2.4-5.2h0m3 4.3h0m.5-2.2h0m-2.8-1.9h0m3.7 2.6h0m-.4 .9h0m0-.7h0m.9-.9h0m-.1-2.2h0m-3.2 2.1h0m.9 .6h0m4.2-.2h0m-6-.6h0m3.2-1.2h0m-2.4 .4h0m.1 2.6h0m5.6-.3h0m-3.8-4.7h0m-1.8 5.3h0m1.5-4.9h0m-.4 2h0m1.7 3h0m-1.2-2.7h0m1-.2h0m-5.3 2.5h0m3.7 1.9h0m.4-6.3h0m-1.6 5.3h0m6.6 2.3h0m-7.5-5.2h0m6.6 0h0m-6.7-2.2h0m2 4.3h0m-1-1.6h0m4.7 1.4h0m.1-.2h0m-3.1 .8h0m.7 .5h0m1.3-1.5h0m-1.6 3.2h0m1.4-6h0m.4 2.6h0m-3.5-2.2h0m.6 4.4h0m.4-1.2h0m6.9-1.2h0m-7.2-3.9h0m4.6 4.7h0m-4-3.5h0m-1.1 7.2h0m-1.2-2.5h0m1.7-.5h0m4.1-.5h0m-3.3-3.9h0m2.7 1.9h0m2-.1h0m-9.9 1.8h0m4.4-2.6h0m-.7 4.2h0m1.4-3.3h0m-.3 2.2h0m-1.9-5.1h0m2.7 6.7h0m-4.6-9.5h0m6 8.1h0m-3.7-3h0m3.6 2.4h0m-.5-1.8h0m-.9 .3h0m-4-.2h0m3.9 .5h0m-1-.8h0m.5-1.6h0m.6 4.7h0m-3.5-2.2h0m-.4-2.8h0m4 3.2h0m.1 1.1h0m-.1-3.7h0m.6 1.8h0m-5.7-2.7h0m6.5 2.7h0m-.7 2.2h0m-5.7-2.5h0m6.1 .7h0m1.2-1.3h0m-5 4.2h0m2.8-.1h0m-4.1-7.8h0m3.7 2.3h0m-.2 .5h0m-1.5 2.1h0m-.2 1.5h0m-1.2 .1h0m2.8-1.9h0m1.5-2.5h0m.4 3.1h0m-.7 2.1h0m-3.8-2.8h0m2.9-1.8h0m-.9 1.4h0m-.3-2.7h0m-3.3 1.2h0m4.1 1.9h0m-1.5 3h0m4.3-1.5h0m-5-.9h0m-2 1.3h0m5.3-2.5h0m3.7 1.4h0m-2.2 .5h0m-.1-.3h0m-1.3-.1h0m-3.2-2.9h0m2.3 .7h0m-2.3 .7h0m.2 1.8h0m4.6-5.5h0m-4.4 10.9h0m.7-11h0m-.1 7.4h0m-2.4-1.7h0m4.8-1.3h0m-.5 4.2h0m-4.2-5.1h0m3.7-1.2h0m5 2.5h0m-8.4 1.9h0m2.5-.6h0m3.5-1.5h0m-6.8-.3h0m8 .4h0m-5.4-1.4h0m-1.5-1.8h0m4.6 5.7h0m-2.1-.8h0m.9-.3h0m.8 .1h0m-.3 .2h0m2.6-2.6h0m-3.2 3.7h0m.2-3.5h0m1.9 2.3h0m-1.4 .4h0m-2.4 1.6h0m-1.6-1.6h0m1.8-3.9h0m4.5-.4h0m-2.3 .5h0m3.5 3.8h0m-2.7-.3h0m-4.7-1h0m5.8-5.4h0m-3 2.5h0m-.2 1.6h0m1.4-4.2h0m.9 6.8h0m-2.6-1.4h0m-.5-1.9h0m3.3 1h0m-2.4-1.3h0m-1 2h0m5.3 2.8h0m-.2-1.7h0m-.7-3.9h0m1.1 7.1h0m-2.4-4.9h0m0-.2h0m-2.8 3.6h0m2.5-7.5h0m-.8 .2h0m.4 4.7h0m3.2 1.1h0m-3-.4h0m-4-.8h0m-.9-3.5h0m3 1h0m-2 5.2h0m.2-4.4h0m3.8 2.7h0m-4.3 2.3h0m-.7-2.7h0m-1.1-2.7h0m4.1 .8h0m1.5 .5h0m-2.9 3.1h0m1.8-1.5h0m-1.3 .8h0m3.4-1.1h0m-.1 1.5h0m-1.8-.1h0m-.9-2.7h0m1.2-1.8h0m2.2 2.1h0" stroke="#000" stroke-opacity="0.42" stroke-width="0.75" stroke-linecap="round" fill="none"/>
<path d="M474.1 502.9h0m3.3 3h0m-1.3 .2h0m8.9-14.1h0m-4.7 13.3h0m2.4-6.6h0m1.6 .9h0m2.1 3.8h0m-3.3 0h0m-7.3-.6h0m-9-7.2h0m7.8-2.8h0m7 17.2h0m-5.4 .1h0m9-5.7h0m-13.1-2h0m-2-.4h0m13 0h0m-7.3 .9h0m-3.2-4.9h0m-.2 10.1h0m6.5-5h0m.1 3.3h0m-1.5-1.7h0m-5-.7h0m4.3-1.9h0m1.1 1.6h0m-5.7 .1h0m1.6-1.1h0m10.5 3.5h0m1.4 6h0m2.3-.1h0m-4.4-15.4h0m-8.7 1.4h0m7.2 10.1h0m-4 1.3h0m2.2 .3h0m-2.6-7.6h0m6 1.3h0m-2.8-1.3h0m-2.6 .4h0m-8.5 3.7h0m8.2-3.3h0m-5.8 3.7h0m4.4-18h0m7.1 10.5h0m3 .1h0m1.3-2.9h0m-13.6 4.2h0m17.1 4h0m-13.6-5.1h0m9.1-4.2h0m-5.6 7h0m.2 4.2h0m-4.8-5.2h0m5.9-6.1h0m-9.1 12.9h0m9.4-3.7h0m2-7.8h0m-15.5 3.1h0m6.5 7.4h0m-2.9-2.8h0m7.9 .6h0m-3.5-2.1h0m7.5 7.4h0m-9.3-6.3h0m1.2 14.3h0m-3.4-21.5h0m1.9 6.8h0m-2.9-1.1h0m3.4 2.4h0m7.6-.9h0m-15.6-9.6h0m7.8 10.1h0m-1.5 1.1h0m5.4-11.1h0m8.8 11.2h0m-11 0h0m-2.1 4.8h0m8-2.5h0m-.5 3.8h0m-7.6-13.1h0m5.5-.6h0m-1.5 5h0m9.6 6.3h0m-18.2-5.4h0m19.9-1.6h0m-6.3 8.7h0m-8.1-5.5h0m4.8-4.4h0m-4.2 3.4h0m-.4-9.4h0m4.4-.1h0m4.3 10.5h0m-5.7-1.3h0m-5.7-6.6h0m2.8 2.7h0m7.7-2h0m-1.4 7.3h0m-12.7-7.1h0m17.6-6.4h0m-6.4 10.4h0m-2 .2h0m0-.1h0m4.9 2h0m-7.3-1.6h0m2-6.4h0m-4.1 5.8h0m-3.4 5.4h0m1.4-10.8h0m3.5 3.4h0m-1.6 5h0m4.2 1.5h0m5.4 3.5h0m1.5 3.5h0m-9.4-20.8h0m6.3 3.3h0m-.4-2h0m3.8 10.4h0m-1.6 1.2h0m3.4 9.8h0m-2.4-17.7h0m-11.9 6.9h0m15.5-3.1h0m-11.7-11h0m.3 12.5h0m4.1 3.5h0m-8.5-11h0m5 3.2h0m-7.1 10h0m5.3-9.1h0m3.2 1.5h0m-6.6-9.2h0m7.1-.8h0m-4.6 11.5h0m7.3-1.9h0m1.8 3.8h0m-10-14.8h0m5.4 14.2h0m5.2-8.4h0m-6.6 4.4h0m2.2 2.6h0m-8.9-3.5h0m12.4 .5h0m-15.5-4.4h0m18.7 7.5h0m-6.6-4.9h0m1.1-2.8h0m-9.3 2.4h0m1.2 3.2h0m-.7-5.6h0m-.3 6.3h0m.6 8.2h0m5.4-8.4h0m-2.1 8.4h0m-.9-13.1h0m-3.8-3.2h0m4.5 22.6h0m3.7-2.5h0m-9.7-26.5h0m4.8 14h0m-.8 1h0m7.5 4.8h0m-1.5 4.4h0m4.8-6.5h0m-4.3-3.9h0m2.7-11.2h0m-14.6 14.1h0m2.8-4h0m2-3h0m-2.4-3.6h0m18 1.6h0m-4.7 9.8h0m-3.8-3.8h0m-2.6 7.7h0m-2.6-11.8h0m-4.1-2.8h0m18.3 11.3h0m-11.4-10.1h0m-1 4.3h0m-10.1 6.7h0m19.9 .1h0m-6.8-4.8h0m-9.9-7.8h0m5.6 10.4h0m7.1-13.7h0m-11.7 10.6h0m14.6-6.3h0m-20.8 2h0m19.7 4.2h0m-4.7-4.1h0m4 5.3h0m-4.2 3.1h0m-14.7 3.8h0m10.4-6.5h0m-2.7-4.5h0m10.8-11h0m-7.4 16.4h0m-2.5 4.5h0m-1.5-1.8h0m2.8-1.6h0m-8.4-3.4h0m12.4 1.4h0m-9.9-2.7h0m5.6 3.3h0m10.9-6h0m-9.6 7.4h0m2.2-2.6h0m4.9 7h0m5-1.4h0m-22.1-6.7h0m3.9-1.7h0m19.9 8.1h0m-5.6 .3h0m-6.4-18.7h0m.1 18.2h0m8.7-5.7h0m-14.3 11.7h0m-2.3-9.5h0m6.3-1.9h0m12.4-.3h0m-14.8-3.7h0m4.8 11.8h0m1.4-1.9h0m-4.7 .4h0m5.4-13.7h0m1.8 8.7h0m-14 5h0m4.9-6.2h0m-2.7-4.2h0m9.6-.6h0m5.5 7.7h0m-12.4 2.4h0m6.7-4.2h0m-4 3.7h0m-7.3-3.1h0m15.4 4.5h0m-19.2-7.9h0m9.3-1.3h0m5.8 5.6h0m-4.5-11.2h0m.5 16.2h0m4.3-11.7h0m-2.3 9.3h0m-5-5.2h0m6.3 3.3h0m-5.5-.8h0m10.2-1.2h0m-2.6 6.7h0m-8.4-1.3h0m14.1-12.5h0m-11.3 4.9h0m-.3-7.3h0m-2.4 1.8h0m8.3 2.3h0m-3 6.2h0m-9.1-3.6h0m5.2-3.1h0m-4.2 13.1h0m-.8-17.7h0m10.7 0h0m-7.1 4.3h0m15.5-3.4h0m-.2 9.4h0m-4.1 2.6h0m-12.5-8.6h0m4.5-.2h0m4.5 12.5h0m-3.5-3.7h0m4.2-3.1h0m1.7-1.3h0m-10.3 6.1h0m11.3-1.5h0m-2.8-9.3h0m7.5 8h0m-10.3-4.3h0m6.5 2.2h0m-7.8-1h0m.3-1h0m3 6.2h0m4.2-7.1h0m-4.4 5.6h0m-7.2-5.1h0m1.5 5.4h0m-3.1-11.1h0m6.7-1.2h0m4.8 4.3h0m-9.9-3.1h0m9-.1h0m-16.2-1.4h0m4.4 11.4h0m5.5-7.6h0m9.3 10.9h0m-6.5-11.4h0m4.1 8.4h0m-11.4-1.8h0m12.7-1.1h0m1 4.2h0m-13.3-3.2h0m.7-1.2h0m10.9 2.9h0m-3.6-5.5h0m7.5 5.1h0m-5.7 7.8h0m-1.7-14.7h0m2.1 9.6h0m-8.6 4.3h0m4-16.8h0m3.8 3.6h0m-.4 12.2h0m-11.6-14.3h0m19.8 18.3h0m-10.3-15.2h0m2.5 14.9h0m-1.4-7.9h0m.2 1.1h0m-2.1-2.8h0m10.8-1.5h0m-9.1-5.1h0m-5.3 4.2h0m3.5 14.3h0m-.7-17.8h0m-.4 5.2h0m-2 5.4h0m-1.2-6.9h0m-2.8 0h0m5.5 8.7h0m7.5-9.5h0m-6.8 8.2h0m11.1-7.1h0m2.2-5.5h0m-7.2 5.5h0m-3.4 2.6h0m.7-1.7h0m2.7 2.1h0m-8.8-4.7h0m8.6 1.2h0m-1.5 5.1h0m.2-3.5h0m-4.8 .5h0m1.2-3.6h0m-1.7 2h0m5.3-9h0m-6.5 14.4h0m-.2 3.3h0m12.4-4.8h0m-6.6-4.6h0m-3.9-2.1h0m3.4-1.3h0m8 13.5h0m-16.3 1h0m9.4-6.4h0m-10.4-11.9h0m17.1 14.1h0m-8.5-16.6h0m7.6 16.2h0m-11.6 1.9h0m3-10.3h0m-2 17h0m-1.7-17.7h0m5 6.6h0m-6.6-3.8h0m4 8.1h0m9.1-5.1h0m-8.7-9.4h0m2.8 1.5h0m1.6 12.5h0m-2.5-10.5h0m-3.1 4h0m-7.5 5.2h0m4.7-7.2h0m13.1 2.6h0m.5-6.3h0m-6.4 .4h0m-3.6 4.4h0m-1.4 .1h0m6.3 1.9h0m1.3-.7h0m-5.9-5.7h0m-.5 4.3h0m-8.1-3.7h0m6.8 2.4h0m1.8-6h0m3.5 4.9h0m-11.3 3.1h0m5.6 .1h0m4.9 6.6h0m.7-4.1h0m5.1-5.7h0m-6.2-10.8h0m-1.8 12.2h0m-6.5 1.3h0m4.2 2.2h0m-.6-.8h0m2.4 6h0m-2.3 2.7h0m-3-.3h0m9.2-13.3h0m-10 6.4h0m-2.8-6.2h0m4 .3h0m11.6 5.4h0m-9.2 .2h0m4.6 4.8h0m-1-11.9h0m15.2 6.7h0m-6.9-6h0m-10.9 7.8h0m5.8-10.5h0m-.6 4.2h0m-11.2 7.1h0m13.3-.1h0m-6.9-5h0m-8.5 4.5h0m10.5-3h0m-1.7-3.4h0m2.3 5h0m6.5-.9h0m-6.1-14.7h0m5.7 15.9h0m-7-.9h0m-4.9 11.5h0m9-14h0m-8.4 7.9h0m.6-12.3h0m-1.6 9.2h0m-2.8-16.1h0m1.9 17.4h0m3.4-.9h0m15.5-7.9h0m-21.7 11.8h0m6.6-7h0m-4.1-8.6h0m4.7 9.3h0m4.5-16.6h0m4.1 19.4h0m-.1-3.3h0m-8.9-6.5h0m-10.4 6.1h0m13.3-2.7h0m2.5-5.5h0m-6.2 6.6h0m-.4 1.1h0m-10.8 1.5h0m10.5-3.3h0m-4.3-4.8h0m11.4 6h0m-8.2 1.1h0m12 7.5h0m-12.6-12.2h0" stroke="#000" stroke-opacity="0.14" stroke-width="0.75" stroke-linecap="round" fill="none"/>
<path d="M484 518h0m.1 5.1h0m-.1-3.3h0m-2-5.1h0m4.3 4.3h0m.3-5h0m-3.2 3.4h0m1.2 1.3h0m-1.1 9.5h0m2-9h0m-5.5-4.6h0m1.7 6.1h0m1.6-5.2h0m-.4 4.8h0m1.1-3.3h0m.3 7.8h0m.6-5.6h0m-1.2-4h0m-1.6 4.3h0m4.2-5.8h0m1.9 6.9h0m-3.8-.2h0m.9-1h0m-1.2-.2h0m-.7 .3h0m3.7 2.4h0m-3.5 0h0m.1-6.4h0m-1.7 3.5h0m2.1-3.2h0m2.7 2.7h0m-.2 .3h0m-2.4 .7h0m-.5-1.2h0m.8 8.5h0m-1.6-9.8h0m3.3 1.7h0m-1.4 1.3h0m.5 0h0m-1.1-5.6h0m1.1 1.9h0m-.8 1.3h0m-1.8 3.1h0m1.1-.1h0m2.4-1h0m-3.9 3.1h0m2 2.6h0m1.6-.1h0m-2.3-10.7h0" stroke="#000" stroke-opacity="0.1" stroke-width="0.75" stroke-linecap="round" fill="none"/>
<rect x="455.90" y="475.80" width="56.60" height="56.50" fill="none" stroke="#b9b9b9" stroke-width="1"/>
<text x="456.60" y="483.10" font-size="5.9" fill="#2a2a2a" stroke="#2a2a2a" stroke-width="0.12">20.5</text>
<text x="507.60" y="483.10" font-size="5.9" fill="#2a2a2a" text-anchor="end" stroke="#2a2a2a" stroke-width="0.12">72.4</text>
<text x="456.60" y="528.20" font-size="5.9" fill="#2a2a2a" stroke="#2a2a2a" stroke-width="0.12">1.23</text>
<text x="507.60" y="528.20" font-size="5.9" fill="#2a2a2a" text-anchor="end" stroke="#2a2a2a" stroke-width="0.12">5.85</text>
<line x1="356.20" y1="536.00" x2="356.20" y2="592.50" stroke="#6e6e6e" stroke-width="0.9"/>
<line x1="336.00" y1="572.60" x2="392.60" y2="572.60" stroke="#6e6e6e" stroke-width="0.9"/>
<path d="M346.2 579.4h0m3.2-1.2h0m-5.8-.6h0m7.4 2h0m-1.7-1.1h0m4.4-2.6h0m-7.7 1.8h0m2.8 3.8h0m-.9-7h0m3.3 3.9h0m-2.4-1.5h0m-1.8 5.5h0m3.8-7.2h0m-5.2 5.6h0m5.5 2.8h0m-2.6-7.2h0m.6-3.3h0m-9.3 6.1h0m11.9-.2h0m-2.9-1.5h0m2.8-4.3h0m-4.9 7.7h0m.8 1.9h0m7.9-6.9h0m-4.9 1.7h0m-2 .3h0m.8 .8h0m2.4-2.7h0m-4 3.6h0m4 .4h0m-1.3-5h0m-1.9 6.2h0m-7.7 1h0m11.7-7h0m-4.2 4.4h0m6.3-2.2h0m-4.2 2.8h0m-2.1-.3h0m-.1-3.5h0m-.4 1.5h0m9.1 .4h0m-1.4-3.6h0m-10.4 3.9h0m-.7 .5h0m8.6 .5h0m-.7 1.2h0m-6.1-.4h0m3.1-5.2h0m-.7 3.2h0m-.7-.4h0m2.6-.2h0m4.9-4.9h0m-4.9 2.8h0m-2.6 4.5h0m-2.5 .5h0m2.4-7.5h0m5.1 6.1h0m-.5 2.1h0m-.6-.8h0m-2.6 .4h0m-7.7-6.9h0m13.1 5h0m-6.2 1.1h0m.8-2h0m2.6-2.3h0m-.1 .8h0m-.9 3.3h0m1-7.3h0m-2.9 7.9h0m-3.6-2.6h0m11.5-4.9h0m-15.7 6.9h0m9.5-1.8h0m-4.7-1.9h0m-.6 1.3h0m1.7 3.5h0m0 .9h0m-2.8-2.1h0m-.3 .2h0m2.3-2.9h0m5.1-.5h0m-3.4 4.4h0m7.4-7.5h0m-9.2 5.5h0m5.2-4.6h0m-.5 4.1h0m0-.3h0m-3.1-.7h0m-.9 .9h0m1.2-3.1h0m.1 4h0m.4-3h0m-.7-.4h0m4.7-2.6h0m-7.9 5.7h0m6.9-1h0m2.5-4.7h0m-6.1 .9h0m3 5h0m2.1-3.7h0m-8.8 3.7h0m6.2-2.5h0m.9-1.8h0m2 6.3h0m-3.8-1.7h0m-2.4 2.7h0m1.6-3.7h0m1.4-3.6h0m-4 1.1h0m-2.2 1.2h0m2.7 1.8h0m2.9-3.4h0m-.6 1.7h0m4.5 .8h0m-4.8 1.1h0m-5.4 .5h0m2.1-3.8h0m6.1 .8h0m-7.1 3.6h0m-1.6-.5h0m7.6-5.3h0m-4.2 4.8h0m2.2 .1h0m-4.1-5.2h0m1.3 4.9h0m3.4-2.1h0m3.4-2.2h0m-5.5 1.6h0m-.3 0h0m1.4 3.5h0m-1.3 .4h0m.6 2.6h0m6-3.7h0m-3.8-3.8h0m-2.4 2.3h0m1.9 2.1h0m-2 2.6h0m5.5-1.9h0m-.2 .2h0m4.7-3.2h0m-9.9 1.4h0m4.6 1.5h0m-2.8-1.9h0m3.4-1.3h0m-6 1.1h0" stroke="#000" stroke-opacity="0.16" stroke-width="0.75" stroke-linecap="round" fill="none"/>
<path d="M349 551.4h0m2.3 9h0m3.3 2.5h0m-.1-4.9h0m-3.1 11.5h0m7.2-11h0m-5 3h0m-4.2-.8h0m5.4 .7h0m-6.8-1.4h0m3.1 .5h0m-3.2 2.2h0m1.9-2.3h0m-4.3 1.7h0m3.5-4.9h0m3.8 1.9h0m1.4 5h0m-2.2-7.5h0m-.1 11.4h0m-2.4 .2h0m-.7-10.9h0m2.6 3.9h0m4.8-6.2h0m-1.4 7.1h0m-2.5-2.9h0m-.5 2.3h0m5.1-1.4h0m-6.3 3.6h0m-1.2-6.5h0m-2-5.9h0m2.6 7.3h0m-2.2 1.7h0m.1 3.3h0m1.5-3.9h0m5.9-2.2h0m-6.2 1.8h0m-3.6-1.1h0m10.7 7.3h0m-5.1-2.9h0m5.9-4.5h0m-2.4 4.4h0m-.7-.3h0m-2.7-1.5h0m-3.9 10.2h0m1.5-10.6h0m3.9-2.8h0m-5.9 7.7h0m6-1.6h0m1.2-4.8h0m-1.7 1.8h0" stroke="#000" stroke-opacity="0.08" stroke-width="0.75" stroke-linecap="round" fill="none"/>
<rect x="336.00" y="536.00" width="56.60" height="56.50" fill="none" stroke="#b9b9b9" stroke-width="1"/>
<text x="336.70" y="543.30" font-size="5.9" fill="#2a2a2a" stroke="#2a2a2a" stroke-width="0.12">19.8</text>
<text x="387.70" y="543.30" font-size="5.9" fill="#2a2a2a" text-anchor="end" stroke="#2a2a2a" stroke-width="0.12">6.67</text>
<text x="336.70" y="588.40" font-size="5.9" fill="#2a2a2a" stroke="#2a2a2a" stroke-width="0.12">71.2</text>
<text x="387.70" y="588.40" font-size="5.9" fill="#2a2a2a" text-anchor="end" stroke="#2a2a2a" stroke-width="0.12">2.38</text>
<line x1="416.00" y1="536.00" x2="416.00" y2="592.50" stroke="#6e6e6e" stroke-width="0.9"/>
<line x1="395.90" y1="572.60" x2="452.50" y2="572.60" stroke="#6e6e6e" stroke-width="0.9"/>
<path d="M417.9 567.5h0m-13.7 6.7h0m8.5-13.7h0m-1.7 1.6h0m1.9 2.5h0m-6.4-2h0m9.5 14.1h0m-6.4-3.7h0m-4.2-.2h0m5.9-6.7h0m-.3 .2h0m1.2-1.5h0m1.6 3.1h0m3-9.9h0m-5.8 12.6h0m4-3.2h0m-3.9-4.1h0m-.2 20.7h0m-1-22.2h0m.9 5.2h0m-2.7-7.1h0m6-4.7h0m2.4 .2h0m-1 7.7h0m-4.5 .6h0m-3.8-.4h0m5.5-1.2h0m.2 2.3h0m.4 5.4h0m1.4-3.9h0m-2.1-5.9h0m-.2 5.4h0m1.3 6.8h0m-4-11.2h0m5 3.7h0m-6.6 4.7h0m2.8-2.9h0m1.3-.8h0m2.9 5.3h0m-2-7.8h0m-.6-5.4h0m2.1 5.1h0m-3.3-1.7h0m0 14.4h0m-3-10.6h0m5.3-9.3h0m1.6 .9h0m-3.6 3.1h0m4.9 12.3h0m-2.6-9.7h0m3.1 7h0m-6.2 7.5h0m2.7-24.9h0m-2.9 20.2h0m.5-16.5h0m6.9 9.4h0m-8.6 0h0m-2.6 2.7h0m7.1-12.1h0m.3 16.4h0m2-15h0m-1.7 23.5h0m-7.6-13.8h0m-.6-5.6h0m9.7 1.2h0m-7.1-1.9h0m.4 6.1h0m5.2 1.1h0m-4.4-7.7h0m3.1 10.8h0m1.4-.9h0m-6.6-4h0m6-5.4h0m-1.8 0h0m-1.2-1.5h0m.6 5.1h0m1.1 4.3h0m2.2 4.7h0m-2.3-6.5h0m-2.5-2.7h0m-2.5-.1h0m1.2 5.1h0m6.6 5.4h0m.8-11.7h0m-1.7-8.3h0m-3 8.6h0m1.3 4.8h0m2.1-12.9h0m-2.2 7.6h0m.5 1h0m-.9 4.1h0m2.3 1.1h0m-3.6-11.4h0m.2 7.5h0m2.7 5.5h0m8.7-6.4h0m-14.8-2.5h0m7.4-.8h0m-9.4-4.6h0m6.4 14.4h0m1.4-9.3h0m1.7 13h0m-1.5-11.7h0m.1 1.2h0m-5.7 13.3h0m10-6.2h0m-4.6-1h0m-5.3-2.4h0m4.4-9.2h0m-3.9-3.5h0m7.4 11.2h0m-5.5-2h0m.6 1.4h0m-3.5-7.2h0m7.4 4.9h0m-2.2 9.5h0m3.6 2h0m-13-10.4h0m10.6 3.3h0m-5.1 2.6h0m.5-4.2h0m5.3-4.2h0m-.2 .6h0m3.5-1.8h0m-1.7 10.6h0m-8.4-8.1h0m4.8-2.7h0m-2.5-9.1h0m-1.2 14.3h0m3.4-5h0m-6 3.4h0m3.1 3.6h0m.4-6.1h0m9.8 12.5h0m-4.8-15.2h0m1 1.5h0m-3 3.6h0m-5.2 12.4h0m5.3-9h0m.4-5.8h0m-2.9-4.4h0m5.6 19h0m-3.6-9.2h0m1.1 8.9h0m-1.5-1.1h0m-.2 6.4h0m-4-8h0m.2-4.3h0m4.1-2.6h0m-4.7-8.1h0m2 8.4h0m2.7-4.8h0m1.9-3.3h0m-1.8 .4h0m2.3 5.6h0m-6.8 9.6h0m3.2-2.3h0m3.7-11.8h0m1 7.8h0m-5.4-1.1h0m1.1 2.6h0m-1.6-10.1h0m2.1-3h0m-.4-7.1h0m-7.7 19.3h0m-.4-13.3h0m10.9 8.3h0m-6.3 3.7h0m4.1-1.2h0m1.7 7h0m-4.4-1.5h0m1.6-2.7h0m4.4-2h0m-7.4-5h0m-.8-3.9h0m3.1-1.6h0m3.9 5.7h0m-4.1-3.2h0m-3.9 16.2h0m-1-8.6h0m9.1 8.9h0m2.2-3.3h0m-6.8-16.2h0m.6 19.3h0m6.1-11.4h0m-5.6 4.1h0m4.4 3.1h0m-4.9-2.6h0m3.7-6.7h0m-5.8 7.3h0m4.1 10.5h0m-2.2-14h0m-1.6 3.1h0m.4 2.9h0m.8-6.4h0m5.9 2.6h0m-.7-3.3h0m-1.3-.1h0m1.3 8.5h0m-7-.8h0m-.4-4.5h0m3.7-11.4h0m-3.2 16h0m.7-8.6h0m7.8 9.2h0m-6.4-10.7h0m.7 7.3h0m.5-8.7h0m-2.8 2.6h0m7.5 3.2h0m-9-5.9h0m8.4 2.5h0m-2.9 .8h0m1 17.4h0m.3-22.7h0m-2 1.2h0m.3-.7h0m3.2-3.8h0m-8.1 13.1h0m8.1-3.8h0m-3.4 6.4h0m4.3-1.5h0m-.3-19.4h0m-4.5 19.1h0m5.9-3.6h0m-7.8-5.6h0m4-3h0m-.6 5.7h0m-2.7-6.3h0m6.1 9.8h0m-3.3 9.3h0m-1.1-7.9h0m3.3-14.1h0m-5 4.3h0m-1.4 10.7h0m1.1-14h0m2.9 17.6h0m-2.5-4.6h0m11 6.9h0m-9.8-18h0m3.7 12h0m-1.7-2.8h0m.7-1.6h0m-1.9-4.9h0m-2-1h0m4.4 9.3h0m-2.5-12.7h0m-4.1 0h0m5.2 15.1h0m-2.6 3.2h0m1.9-3.5h0m-4.4 7.3h0m7.2-13.3h0m.2 8h0m1.1 1.3h0m-2.5-19.8h0m-2 6.9h0m.3 .5h0m-1.7 6.3h0m2.8 8.1h0m2.1-13.1h0m3.8 7.8h0m-8.2 .1h0m1.6-12.5h0m1.9 3.8h0m-6 12.5h0m.2 4.2h0m4.5-12.9h0m-3.1-9.5h0m1.2 2.2h0m1.6 14.4h0m0-10.5h0m2.3 12.1h0m-1.3-11.2h0m-8.3 .7h0m10.4 10.9h0m-2.6-9.9h0m-3.2-9.6h0m-2.5 12.2h0m3.6-6.3h0m-.2 12.3h0m-.7-6.9h0m3.7 4.5h0m-5.3-6h0m1.7 4.2h0m1.2-20.2h0m-4.8 16.1h0m2.8-10h0m1.5 9.3h0m3.3 10h0m-2.2 4.8h0m-2.7 .9h0m2.7-34.5h0m-1.1 14.1h0m2.4 22.3h0m0-20.1h0m-.4 3.8h0m-3.3-8h0m5.4 9.2h0m-1.5 2.3h0m-1.8 2.5h0m-2.7-1.2h0m.1-13.3h0m7.4 17h0m-2.1-6.7h0m-3.3 2.3h0m2.7 0h0m-.1-12.9h0m-4.8 10.9h0m3.7-10.7h0m-1.6 11.3h0m-1.8-7.5h0m8.5 5.4h0m-6.2 3.2h0m-1 3.6h0m-3.6-15.1h0m3.5-1.9h0m-2.2 17.9h0m.6-4.1h0m4.2-4.1h0m2.4-4.4h0m-4.9 5.1h0m4.7 9.1h0m.8-7.4h0m-1.5-4.8h0m-2.8-3h0m-2.2 1.4h0m-1.8 2h0m10.7 .9h0m-5 5.8h0m-2.5-14.1h0m.6 9.2h0m1.2 2.5h0m-.6 8.8h0m2.9-4.8h0m-5.4 .7h0m-.8-7h0m-2.7 1.3h0m5.5 3.5h0m-1.7 2.9h0m1.8-7.7h0m.6 6.7h0m-1.5-7.8h0m-1.7-7.6h0m3.2 8.9h0m-5.3-5.6h0m2.5 2.3h0m-3.5 0h0m3.7 9.5h0m-2.7-7.8h0m10-10.2h0m-2.4 15.4h0m-7-12.6h0m2.4 6.2h0m5.7 3.7h0m-5.3-6.3h0m8.1 10.2h0m-5.4-4.4h0m1.6 3.3h0m-1.1 8.4h0m1.1-19.7h0m-5.3 1.7h0m-2.6 15.1h0m8.6-7h0m-2.5-19.1h0m-1.8 17.5h0m1.6 5.4h0m-1.3-10.6h0m-.2-5.4h0m1.9 15.9h0m-3.6-1.5h0m-.7-8.4h0m2.4 5.3h0m-.5 13.1h0m2-9.3h0m.7-10.2h0m5.5 16.8h0m-8.8-16.3h0m-.6 6.7h0m5.6-3.8h0m-5.2 10.6h0m4.9-14.3h0m-2.3-3.2h0m5.6 8.9h0m-3.1 2.2h0m.7-7.3h0m-4.9 16.6h0m5.6 4.6h0m-4.1-21.3h0m1.4 2.7h0m-7.8 11.1h0m5.5-1.3h0m5-9.3h0m-9.6-6.3h0m10 12.2h0m-6.8 1.1h0m6.9 6.3h0m-5.8-8h0m-.4-11.1h0m1.7 3h0m.9 11h0m-.4-6.1h0m3.7-5.1h0m-6.4 14.5h0m-3.3-4.2h0m1.6-7.6h0m-.6 6.7h0m3.4 6.4h0m1.6-9h0m-2.5-10.1h0m-1.3 8.4h0m2.9-6.8h0m1.5 4.3h0m-.3 2.7h0m-5.5-3.1h0m4.3 .8h0m.4-1h0m-2.8 2h0m1 1.5h0m-2.7 4.6h0m3.9-3.7h0m2 1.1h0m.2 3.6h0m-2.5-16.2h0m-.5 19h0m1.7-9.9h0m.8 5.7h0m-3.9-7.6h0m1.1 3.4h0m5.2 6.2h0m-3.1-1.7h0m1.4 11.4h0m-1.6-18h0m-4.9-4.4h0m2.3 4.3h0m.6-2.8h0m-.2 8h0m1.5-1.1h0m.6-3.5h0m-4.3 4.4h0m1.4-1.8h0m2-.4h0m2.8-5.8h0m-.2 7.1h0m-7.4-8.2h0m3.6 7.4h0m9.3-12h0m-12.4 1.5h0m5.5 17.4h0m3.2-13.7h0m-3.4-7h0m-.6 7.7h0m-.6 5.6h0m-3 3.2h0m4.5-2.5h0m-4-6.1h0m3.3 2.1h0m.2-6.5h0m-3.3 3.2h0m-1.5-.8h0m10 3.2h0m-5.5 5.6h0m5.2 3h0m-6.4-10.4h0m3.8 3h0m-5.2-.3h0m.5-1.9h0m.3-.7h0m.4 2.3h0m3.2 2.1h0m3.5-.8h0m-11.1-7.7h0m7.5-6.1h0m-2.9 7.4h0m-.6 8.6h0m-1.3-3.8h0m1 8.7h0m-.5-11.7h0m2.1 9h0m1.7-1.1h0m2.5-9.8h0m-3.7 10h0m.7 3.5h0m-4.8-13.8h0m2.9 4.9h0m-2.6-15.3h0m2.8 11.8h0m2.3 2.8h0m-2.4 5.9h0m1.6-3.7h0m3.2 1.9h0m-6.8-3.1h0m4.4 10.7h0m-1.4-12.8h0m-4.1 3.6h0m6.2-3.7h0m-4.7 8.3h0m.9-3.6h0m4-4.4h0m-1.7-8.5h0m.2 6h0m-2.9 12.6h0m-3.2-12.4h0m1.1 8.5h0m6.9-.7h0m.4-8.9h0m-3.9 8h0m7.9-12.3h0m-7.6 3h0m.3-2.8h0m-5.8 9.6h0m3.3 12h0m9.3-.4h0m-14-17.5h0m7.7 18.9h0m-.8 1h0m4.8-15.2h0m1.9 8h0m-11.7-5.5h0m6-.6h0" stroke="#000" stroke-opacity="0.24" stroke-width="0.75" stroke-linecap="round" fill="none"/>
<path d="M408.9 577h0m2 4.1h0m-.2-1.6h0m-1.1-3.6h0m3.8 7.9h0m1.1-1.9h0m-3.7-6.6h0m-3.3 .8h0m4.4-2h0m1.1-3.2h0m-2.4 4.9h0m1.8 7.1h0m-2.2-12.3h0m1.9 7.5h0m-.4-8.2h0m1.1 11.5h0m-3.3-11.1h0m1.1 10.8h0m-.3-6.6h0m-.3 1.3h0m1.4 7.3h0m-2.4-9.8h0m-.6 6.1h0m3.8 3.1h0m-1.2-5.9h0m.5 3.9h0m-1.3-6.9h0m1.4 8.8h0m-2.2-6.3h0m.7 5.3h0m.3 1.5h0m.5 1.9h0m1.5-4.1h0m-1-8h0m.2 1h0m-1-2.4h0m.9 5.1h0m1.3 6.1h0m2.5-9.3h0m-5 1.9h0m-.9 5h0m1.4-2.6h0m-1.1-2h0m4.5 9.7h0m-7.1-4.8h0m2-6.6h0m-.3 3.9h0m1.8 1.2h0m1.5 2.9h0m-2.4 1.7h0m1.2-11.7h0m.8 11.4h0m.5-2h0m-.3-.8h0m.2-7.6h0m-.1 11.9h0m.2-1.2h0m.8-6.5h0m-.5-2.7h0m-1.3 0h0m1.2 4.7h0m-1.2-2.7h0m-.8-1.8h0m-2.2 6.1h0m2.8 1.2h0m-1.7-8.2h0m-1.1 10.5h0m2.1-4.5h0m.5-.9h0m0-4.9h0m.4 .5h0m-1-1.8h0m5.5 7.6h0m-6.9-1.5h0m3.3 .1h0m1.9 6.8h0m-4.2-11.1h0m1.8 6.6h0m2 .5h0m-5-5.9h0" stroke="#000" stroke-opacity="0.11" stroke-width="0.75" stroke-linecap="round" fill="none"/>
<rect x="395.90" y="536.00" width="56.60" height="56.50" fill="none" stroke="#b9b9b9" stroke-width="1"/>
<text x="396.60" y="543.30" font-size="5.9" fill="#2a2a2a" stroke="#2a2a2a" stroke-width="0.12">60.0</text>
<text x="447.60" y="543.30" font-size="5.9" fill="#2a2a2a" text-anchor="end" stroke="#2a2a2a" stroke-width="0.12">15.8</text>
<text x="396.60" y="588.40" font-size="5.9" fill="#2a2a2a" stroke="#2a2a2a" stroke-width="0.12">22.6</text>
<text x="447.60" y="588.40" font-size="5.9" fill="#2a2a2a" text-anchor="end" stroke="#2a2a2a" stroke-width="0.12">1.60</text>
<line x1="476.20" y1="536.00" x2="476.20" y2="592.50" stroke="#6e6e6e" stroke-width="0.9"/>
<line x1="455.90" y1="572.60" x2="512.50" y2="572.60" stroke="#6e6e6e" stroke-width="0.9"/>
<path d="M478.7 560.3h0m-4.4 1.7h0m-2.8-4.5h0m-.3 2.1h0m8.3-5.5h0m-6.2 14.8h0m11.3-10.1h0m-11.3 11.9h0m5.1 1.7h0m-5.5-8.9h0m3.7-11h0m1.7 21.2h0m-2.9 .4h0m-.9-16.8h0m1.6-1.4h0m-9.6 8.7h0m4.1 4h0m5.7-15.6h0m-3.5 15.1h0m.3-.7h0m1.3-5.6h0m-2.3-7.8h0m1.2 12.5h0m-2-5.6h0m5.9 8.6h0m-6.6-7.2h0m5.5 1.3h0m.6-2.7h0m2.8 1.9h0m-3 8.9h0m-5.1-2.3h0m10-5.3h0m-8.9-1.1h0m-1-3h0m3.1 6.2h0m-5.1-10.4h0m.4 5.5h0m6.1-1.1h0m4.6 7.7h0m-10.4 3.3h0m5.9-10.3h0m2.8 1.9h0m-2.9 1.3h0m-5.5-3.5h0m4.9 1h0m-2 4.7h0m3 1.8h0m-3.9-1.7h0m-.8-2.9h0m6.3 1.2h0m2.4 5h0m-2.7-7.6h0m-8.7 4.2h0m7.5-8.2h0m.6 4.7h0m-5.2 6h0m1 5h0m6.2-14.3h0m-.8 0h0m-8.7 7.1h0m5-10.2h0m-.1 14.5h0m4.1-.8h0m-3.9-4.2h0m-.8-9.7h0m-1.4 5.2h0m5.2-1.2h0m-5.2 1.4h0m2.8 1.5h0m-1 5.2h0m-.7-.6h0m-.1-2.1h0m1.9 .9h0m-4.1-6.2h0m-3.4-.9h0m10.8 8.4h0m-7.5-11.5h0m-2.9 13.4h0m6.5-.8h0m2.7-2.1h0m-8-6.2h0m1.4-1.2h0m5.9 2.7h0m-.6-7.2h0m1.1 11.1h0m.5 .7h0m-4.7-.3h0m-.3 2.9h0m4.3-7.3h0m.9-2.9h0m-1.7 4.2h0m-2.9-5.3h0m.7 11.3h0m-1.9-6.6h0m4 7.2h0m-1.2-4.9h0m1.7 1.3h0m-4.8-5.3h0m0 5.9h0m-.2-1.7h0m3.9 6.2h0m-4-7.8h0m6-3.7h0m-5.2 3h0m-.5-1.8h0m6.6 2.5h0m-6.2-.4h0m-1.4 3.6h0m1.8-4.1h0m1.6-3.7h0m-1.6 5.6h0m-.5-5h0m3.8 3.5h0m-2.6-2.4h0m1.9-4h0m-2.6 .5h0m.7 4.3h0m4.4 3.3h0m-3.4-9.1h0m.4 14.2h0m-1-5.9h0m4.3 7.7h0m-3.5-9.2h0m-2.6-6.3h0m-1.9 3.1h0m7.4 10h0m-4.6 .1h0m2.3 .6h0m-7.2-4.2h0m3.6-.6h0m2.3-2.6h0m.6 4.1h0m3.9 11.3h0m.8-19.4h0m-.2 6.5h0m-5.9-2.8h0m-.5-1.4h0m1.7 8.2h0m-3.7-13.6h0m2.9 13.9h0m2.1 4h0m2.3 1.6h0m-1-2.4h0m-3.2-5.1h0m-.3 5.8h0m1.3-11.1h0m.7-5.3h0m-1 13.6h0m1.9 5.8h0m-3.4-3.3h0m-1.4-15h0m1.9-1.8h0m1 .2h0m-1 4h0m-2.6 8.4h0m3-.6h0m6.3 9.5h0m-6.7-18.9h0m-5.3 4.5h0m9.4-1.5h0m3.5 10.3h0m-3.5-6h0m-.5-.1h0m2.1 3.2h0m-4.4-1.4h0m1.4-.2h0m-2-4h0m-.6 12h0m3.7-12.4h0m7 10.2h0m-13.3-2.9h0m4.9-7.3h0m-2.8-6.2h0m6.6 9.9h0m-4.1 1.9h0m-.1-2.4h0m2 4.7h0m2.9-1.4h0m-8.8 .4h0m5.3 1.6h0m-1.4 4.2h0m6.2-7.1h0m-9.8-.7h0m3.7-3.4h0m-1-4.2h0m-.4 .2h0m-2.4 4.1h0m3.7-1.5h0m2.3 6.2h0m3.1 5.4h0m-2.4-3.8h0m-2-4.8h0m-10-1.2h0m7.6-2.3h0m-1.5 11.2h0m3.5-8.8h0m-6.3-3.3h0m10.2-2.8h0m-.8 .4h0m-10.7 2.7h0m2.2-5.4h0m-1.6 7.9h0m3.4-8.7h0m-1.5 13.1h0m4.4-6.7h0m-.3 3.1h0m-5.9-5.1h0m4.1-2.8h0m2.3 12.7h0m3.2-4.7h0m-5.4-7.9h0m4.3 14.3h0m.1-2h0m-2.4-.7h0m-2.4-3h0m7.5-4h0m2.2 3.7h0m-7.2 .3h0m5.3 2.5h0m-7.7-5.6h0m2.5 6.6h0m1.4-7.1h0m-3.9 2.5h0m5.3-3.5h0m-.1 5.6h0m1.4 5.3h0m-10.3-4.4h0m5.1-14.4h0m-.1 6.5h0m3.7 6h0m-1.1 .5h0m-2.8 6.5h0m2.2-14.5h0m.6-1h0m-4.4 10.8h0m1.8-8.9h0m2.4 5.7h0m-3.8 5.4h0m9.7-4.1h0m-14.1-9.1h0m8.5 9.9h0m-2.6-2.1h0m2.3-1.9h0m-5.4-.8h0m4.2-1.7h0m-3.7 5.1h0m3.4-8.3h0m-3.1 8.2h0m-4-1.3h0m3.1 .2h0m4.2 7.5h0m-1.4-10.2h0m7.1 .2h0m-6.6 4.9h0m.6-2.8h0m-5.6 5.1h0m6.4-4.1h0m-.3 4.2h0m4.2-2.3h0m-2.9-5.2h0m-8.2-8.4h0m3.7 3.9h0m6.1 9.8h0m-9.2-14.2h0m4.5 14.7h0m1-.9h0m-4.5 5.3h0m2 .8h0m1.3-10.8h0m.6 11.1h0m-1.2-12.7h0m3.1 1h0m.5-5.6h0m.1 4.2h0m2.1 12.5h0m-1.7-7.1h0m-5.1 1.8h0m4.9-4.5h0m-1.9 1.5h0m4.5-.6h0m-6-4.7h0m.1-1.1h0m2 6.5h0m1.6-1.2h0m-7.6-.5h0m1.2 7.8h0m-.7-9.6h0m2.4 2.9h0m2.2-4.3h0m-7.7 4.1h0m3.2-1.4h0m1.4 11.9h0m-.2-7.2h0m-1.4-.5h0m5.5-2.7h0m-2.3-.8h0m-2.2 1h0m-.4 .6h0m7-1.8h0m-4.3-2.2h0m1.6 3.4h0m-1.9 4.6h0m2.2-3.3h0m-2.1-4.3h0m-4.5 3.6h0m8-5.3h0m-5.1-.9h0m2.7 11.5h0m-1-8.9h0m2.3 3.8h0m-2.6 8.8h0m5.5-23.1h0m-6.9 13.2h0m4.5 .3h0m1.7 6.1h0m1.2-2.9h0m-8.4-6.3h0m2.2 4.8h0m5.2-5.1h0m2.2 6.7h0m-4 4.1h0m.2-10h0m-4.5 6.8h0m6.5-4.6h0m-.1 3.3h0m-4.7 2.3h0m6.7-4.1h0m-10 .3h0m7.7-3.5h0m-2.9 7.8h0m1.6-5.4h0m-2.6 3.6h0m-6.2 3.5h0m6.5 1.4h0m6.9-5.1h0m-7.9-4.7h0m4.6-1.9h0m-3.6-1.6h0m4.5 .4h0m-.5 3.4h0m-6.2 3.3h0m5.6-8.1h0m-7.2 3.2h0m4.3 8.3h0m7.1 2.7h0m-6-11.6h0m-3.5 1.4h0m1.2 2h0m4.6-7.8h0m-9.1 8.9h0m5.9 6h0m.6-1.3h0m-4.7-10.9h0m-1 7.2h0m2.5-4.7h0m.6-2.2h0m1.4 11.9h0m-1.6-10.8h0m-.6 7.9h0m0-4.3h0m1.4 7.7h0m-3.3-6.2h0m3.4-5.4h0m-1.8 11.6h0m2.2-12.9h0m-.3 1.6h0m2.5 2.9h0m-5.2-.6h0m1.8-.6h0m-3.6 3h0m7.5-.5h0m-12.7-4.7h0m7.8 4.6h0m-2.6 2.1h0m2.3 9.1h0m5.2-18.3h0m-4.9 9.8h0m9.3-5.1h0m-9.6 5.6h0m2.9-2.3h0m1.2-7.1h0m-9.2 3.8h0m13.3 .1h0m-2.9-.9h0m-1.3 2h0m-7.4-6.6h0m3.7 4.5h0m3.5 4.2h0m-5.9-4.6h0m8.5 1.6h0m.6 3.1h0m-2.4-3.9h0m-2 10.7h0m.1-14.1h0m.1 9h0m-1.9-10.5h0m1.3 2.7h0m.6 14.4h0m2-7.1h0m-1.8 0h0m-.5-10.4h0m-.1 9.1h0m6.4 1h0m-7.5 3.5h0m2.3-3.6h0m3.5-1.7h0m-.7-4.7h0m-2 13.4h0m1.5-9.5h0m-.4-6.5h0m.5 7.1h0m-1.5 3.2h0m-.5-1.8h0m-3.2-7.7h0m3.9 4.9h0m-3.2-1h0m.3 4.5h0m5-3h0m3.5 2.9h0m-6.4-2.4h0m4.9-4.3h0m-8.5-1.7h0m1.9 2.4h0m-1.6 15h0m5.3-14.2h0m-5.1 5.9h0m5.5-3h0m-7.2-6.7h0m-1.2 14h0m-.2-8.4h0m5 9.9h0m2.2-12.1h0m-5.7 5.6h0m2.1-3h0m-.6 1.4h0m.7-1.4h0m-4.7-4.2h0m7.5-.7h0m2 5.8h0m-2.1-.9h0m1.9-.3h0m1.4 1.4h0m-7.6 .1h0m7.9 2.1h0m-9.5-2.8h0m3.7 1.9h0m-2.4 1.5h0m4.1-2.7h0m4.6-8.2h0m-7.3 8.9h0m2.8-9.3h0m5.7 16.2h0m-8.9-3.6h0m2.9-6h0m-1 3.4h0m-5.3-9.3h0m8.6 10.9h0m.3-3.6h0m2-1.7h0m-4.6 3.1h0m.4-8.7h0m3.5 13.9h0m-10-6.8h0m8.4 1.6h0m-2.8-1.4h0m-6.9-2.9h0m10 14.5h0m3.8-1.9h0m-9.7-18.9h0m.9 9.8h0m2.1 2.3h0m.7-.6h0m2.6-10.2h0m.4 2.6h0m-5.9 4.8h0m-.3-1.7h0m9.1-4.1h0m-10.2 4.4h0m3 3h0m1.7-3.1h0m-3.2-.7h0m1 2.8h0m2.1-2.2h0m-3.5-2.5h0m-.5-8.6h0m.8 17.4h0m1.5-4.9h0m-5.1-3.5h0m12.3 9.2h0m-5.1-2.6h0m-1.7-3.1h0m3.7-3.2h0m-5.3 14.4h0m-.8-7.9h0m7.1-12.4h0m-1.8 13.1h0m-3.5-8h0m1 3.2h0m4.8-3h0m-6.2 1.7h0m2-2.5h0m-6.7-6h0m5.8 20h0m1.9-10.9h0m-4.6-12.8h0m.7 17.5h0m5.1 .7h0m-3.2 2.9h0m3.8-3.5h0m-.5 .9h0m-4.3-1.9h0m5.2-9.5h0m-2.1 11.2h0m4.8-5.9h0m-8.4-2.9h0m3.5-1.8h0m-6.6-2.1h0m2.1 5.4h0m4.7 6.8h0m-6.5-7.8h0m3.6 1.2h0m4.6 10.7h0m-7.5-17.5h0m4.3 1.1h0m-.8 17.3h0m1.1-11.1h0m-1 1.1h0m3.6-1h0m-5.9-3.8h0m.3 2.5h0m3.2 10.6h0m-.5-13.3h0m-3.8 6.9h0m-1.1-5.7h0m5.1 5.3h0m.3-5.4h0m-4.7 13.8h0m4-7.5h0m2.4 2.9h0m-1 1.2h0m-.4-5.9h0m-4.7-2.3h0m3.6 14.8h0m2-9.2h0m-1.3-4.4h0m-2.1-.1h0m2.8-.1h0m-4 2h0m-5.3 2.7h0m7.3 6.1h0m-.2-10.7h0m-.2-1.8h0m4.8 9.1h0m-7.7 2.8h0m15.3-8.7h0m-15.8 6.4h0m9-2.8h0m-.8-4.8h0m-9.1 1.8h0m.9 3.4h0" stroke="#000" stroke-opacity="0.3" stroke-width="0.75" stroke-linecap="round" fill="none"/>
<path d="M471.5 576.7h0m3.2 4.1h0m-3.5-5h0m3 9.9h0m-1.1-1.9h0m1.9-1.9h0m-.6-6.2h0m.2-1.3h0m1.1 .7h0m-2.4 6.2h0m-.5 2.3h0m.9-7.3h0m.8 5.1h0m-2.3-6.3h0m-2.9 2.3h0m5.1-7.8h0m1.8 5.7h0m-5.9 1.7h0m4.6-4.4h0m.4 6.6h0m-2.2 2.9h0m2.2-5.3h0m-3.8 .2h0m1.8 4.1h0m-3.7-2.2h0m1.1-1.3h0m.5-6.4h0m-1.4 12.5h0m5.5-4.6h0m2.7-.6h0m-5.6 3.4h0m-1.9-.2h0m3.4-6.9h0m.7 11.2h0m-1-3.6h0m2.2-.1h0m-3-4.5h0m1.5 .6h0m-.4 .1h0m-1.7-1.3h0m3.1 6.7h0m-3.9-.6h0m4.6-3.3h0m-4.6-4.7h0m1.3-.3h0m-.2 6.3h0m.8-11.5h0m.2 8.2h0m-3.9-1h0m3.3 3.7h0m-1.7-2.2h0m2.7-1.1h0m-3.3 1.7h0m.1-7.9h0m1.3 7.6h0m-1.3 8.7h0m2.7-8.6h0m-1.1 9.4h0m.7-14.4h0m.4 8.1h0m1.6-9.8h0m.1 4h0m.2-.8h0m-4.6 4.5h0m4.6-1.4h0m-.5-1.3h0m-3-.2h0m0 6.1h0m1.5-15.8h0m-1.1 12.7h0" stroke="#000" stroke-opacity="0.1" stroke-width="0.75" stroke-linecap="round" fill="none"/>
<rect x="455.90" y="536.00" width="56.60" height="56.50" fill="none" stroke="#b9b9b9" stroke-width="1"/>
<text x="456.60" y="543.30" font-size="5.9" fill="#2a2a2a" stroke="#2a2a2a" stroke-width="0.12">51.6</text>
<text x="507.60" y="543.30" font-size="5.9" fill="#2a2a2a" text-anchor="end" stroke="#2a2a2a" stroke-width="0.12">35.6</text>
<text x="456.60" y="588.40" font-size="5.9" fill="#2a2a2a" stroke="#2a2a2a" stroke-width="0.12">9.70</text>
<text x="507.60" y="588.40" font-size="5.9" fill="#2a2a2a" text-anchor="end" stroke="#2a2a2a" stroke-width="0.12">3.08</text>
<text x="125.90" y="457.80" font-size="9.6" fill="#222" textLength="75.00" lengthAdjust="spacingAndGlyphs" stroke="#222" stroke-width="0.12">Total CD4+ T cells</text>
<text x="96.20" y="472.10" font-size="6.6" fill="#333" stroke="#333" stroke-width="0.12">GFP<tspan font-size="4.4" dy="-3.0">HI</tspan></text>
<text x="153.30" y="472.10" font-size="6.6" fill="#333" stroke="#333" stroke-width="0.12">GFP<tspan font-size="4.4" dy="-3.0">INT</tspan></text>
<text x="217.30" y="472.10" font-size="6.6" fill="#333" stroke="#333" stroke-width="0.12">GFP<tspan font-size="4.4" dy="-3.0">LO</tspan></text>
<text x="18.00" y="489.20" font-size="6.9" fill="#333" stroke="#333" stroke-width="0.12">HOD<tspan font-size="4.8" dy="-2.8">+</tspan></text>
<text x="18.00" y="498.40" font-size="6.9" fill="#333" stroke="#333" stroke-width="0.12">OTII,</text>
<text x="18.00" y="505.80" font-size="6.9" fill="#333" textLength="35.10" lengthAdjust="spacingAndGlyphs" stroke="#333" stroke-width="0.12">Rag2p-GFP</text>
<text x="18.00" y="541.10" font-size="6.9" fill="#333" stroke="#333" stroke-width="0.12">HOD<tspan font-size="4.4" dy="-2.8">NEG</tspan></text>
<text x="18.00" y="550.30" font-size="6.9" fill="#333" stroke="#333" stroke-width="0.12">OTII,</text>
<text x="18.00" y="557.70" font-size="6.9" fill="#333" textLength="35.10" lengthAdjust="spacingAndGlyphs" stroke="#333" stroke-width="0.12">Rag2p-GFP</text>
<path d="M69.8 557.5V598.3H126.0" stroke="#333" fill="none" stroke-width="0.9"/>
<path d="M68.3 558L69.8 554.5L71.3 558Z M125.5 596.8L129.0 598.3L125.5 599.8Z" stroke="none" fill="#222" stroke-width="1"/>
<text x="65.40" y="576.20" font-size="9.6" fill="#333" text-anchor="middle" textLength="16.80" lengthAdjust="spacingAndGlyphs" transform="rotate(-90 65.40 576.20)" stroke="#333" stroke-width="0.12">CD73</text>
<text x="99.60" y="609.30" font-size="9.3" fill="#333" text-anchor="middle" textLength="17.00" lengthAdjust="spacingAndGlyphs" stroke="#333" stroke-width="0.12">CD39</text>
<text x="386.60" y="457.80" font-size="9.6" fill="#222" textLength="76.80" lengthAdjust="spacingAndGlyphs" stroke="#222" stroke-width="0.12">FoxP3+ Tregs cells</text>
<text x="357.70" y="472.10" font-size="6.6" fill="#333" stroke="#333" stroke-width="0.12">GFP<tspan font-size="4.4" dy="-3.0">HI</tspan></text>
<text x="414.80" y="472.10" font-size="6.6" fill="#333" stroke="#333" stroke-width="0.12">GFP<tspan font-size="4.4" dy="-3.0">INT</tspan></text>
<text x="478.80" y="472.10" font-size="6.6" fill="#333" stroke="#333" stroke-width="0.12">GFP<tspan font-size="4.4" dy="-3.0">LO</tspan></text>
<text x="279.50" y="489.20" font-size="6.9" fill="#333" stroke="#333" stroke-width="0.12">HOD<tspan font-size="4.8" dy="-2.8">+</tspan></text>
<text x="279.50" y="498.40" font-size="6.9" fill="#333" stroke="#333" stroke-width="0.12">OTII,</text>
<text x="279.50" y="505.80" font-size="6.9" fill="#333" textLength="35.10" lengthAdjust="spacingAndGlyphs" stroke="#333" stroke-width="0.12">Rag2p-GFP</text>
<text x="279.50" y="541.10" font-size="6.9" fill="#333" stroke="#333" stroke-width="0.12">HOD<tspan font-size="4.4" dy="-2.8">NEG</tspan></text>
<text x="279.50" y="550.30" font-size="6.9" fill="#333" stroke="#333" stroke-width="0.12">OTII,</text>
<text x="279.50" y="557.70" font-size="6.9" fill="#333" textLength="35.10" lengthAdjust="spacingAndGlyphs" stroke="#333" stroke-width="0.12">Rag2p-GFP</text>
<path d="M331.3 557.5V598.3H387.5" stroke="#333" fill="none" stroke-width="0.9"/>
<path d="M329.8 558L331.3 554.5L332.8 558Z M387.0 596.8L390.5 598.3L387.0 599.8Z" stroke="none" fill="#222" stroke-width="1"/>
<text x="326.90" y="576.20" font-size="9.6" fill="#333" text-anchor="middle" textLength="16.80" lengthAdjust="spacingAndGlyphs" transform="rotate(-90 326.90 576.20)" stroke="#333" stroke-width="0.12">CD73</text>
<text x="361.10" y="609.30" font-size="9.3" fill="#333" text-anchor="middle" textLength="17.00" lengthAdjust="spacingAndGlyphs" stroke="#333" stroke-width="0.12">CD39</text>
<rect x="0.5" y="0.5" width="519" height="615" fill="none" stroke="#555" stroke-width="1"/>
</svg></body></html>
